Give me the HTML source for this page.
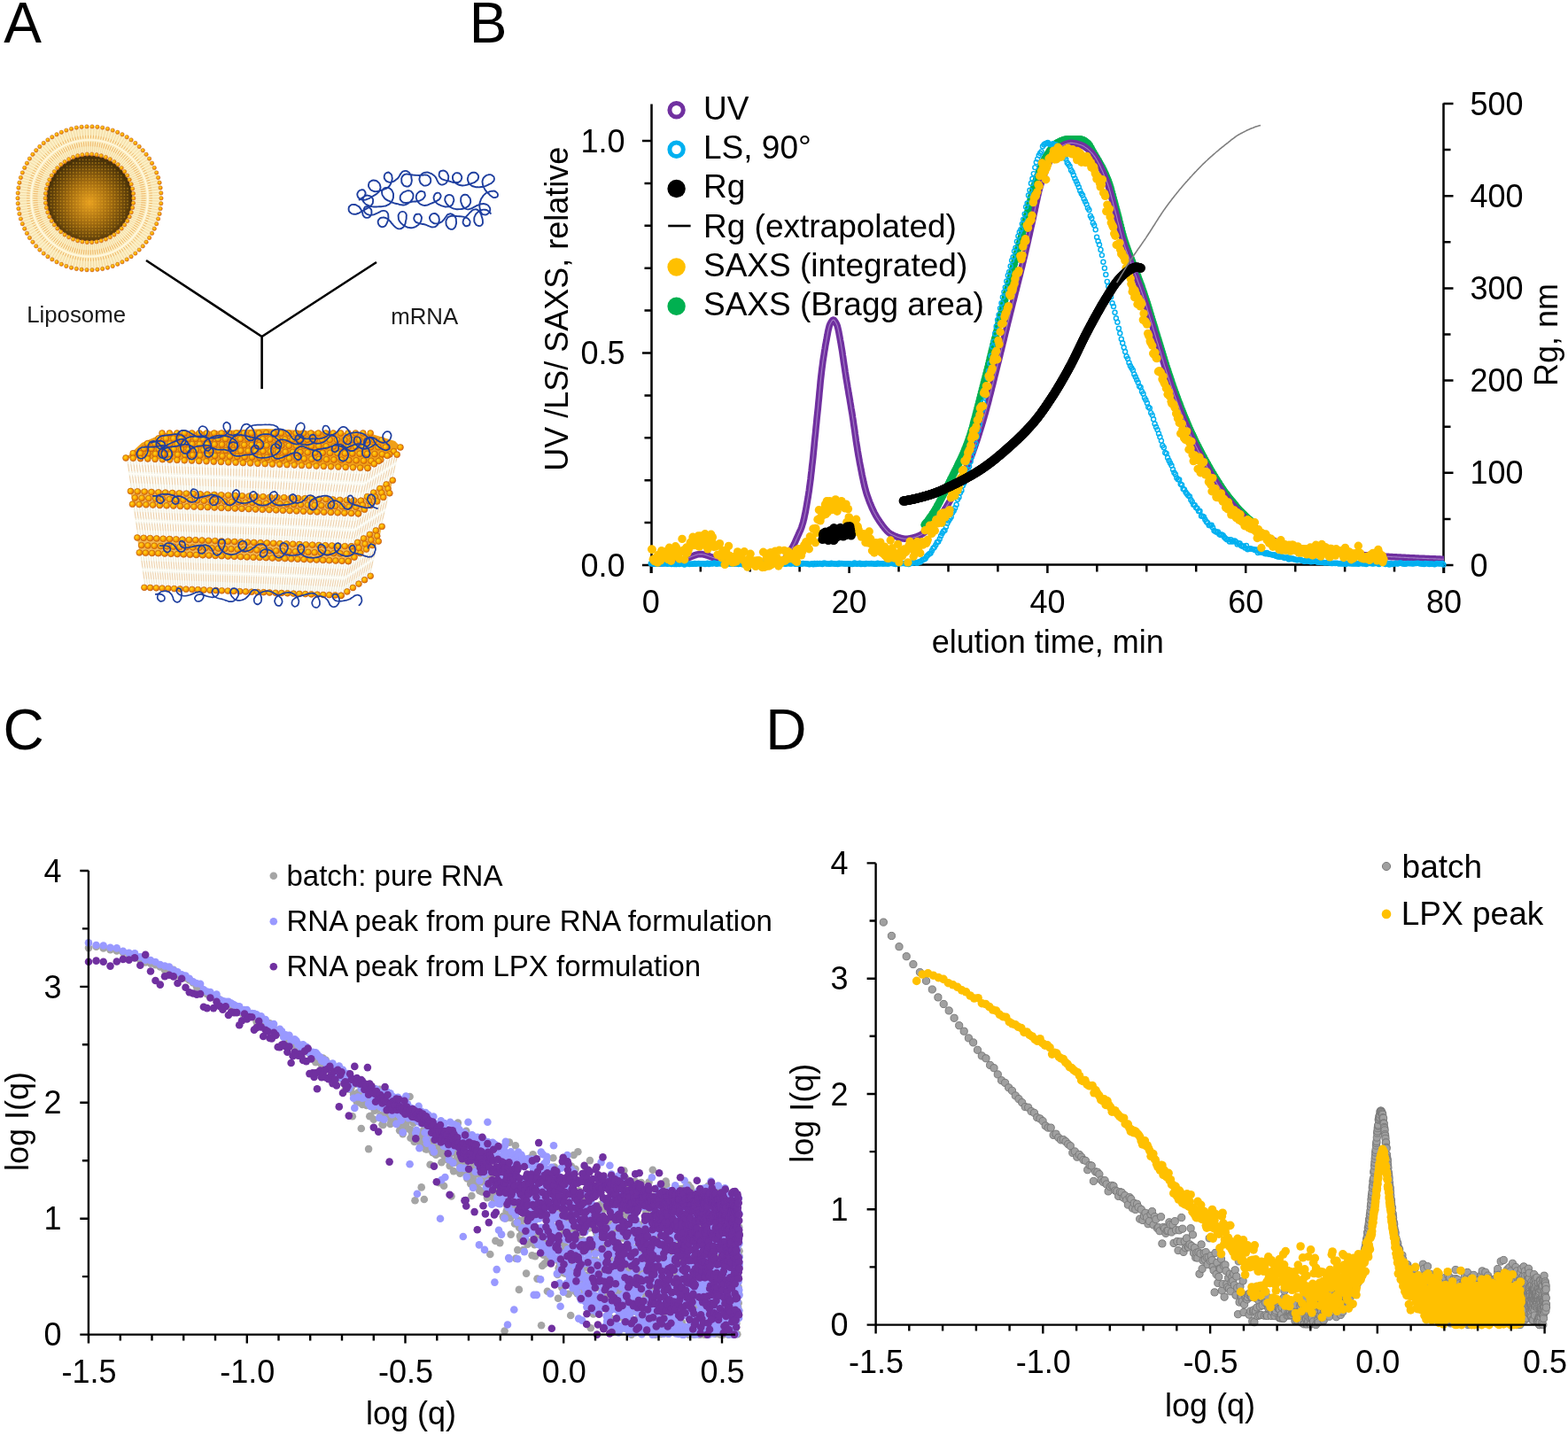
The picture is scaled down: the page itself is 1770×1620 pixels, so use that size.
<!DOCTYPE html>
<html><head><meta charset="utf-8"><title>Figure</title>
<style>html,body{margin:0;padding:0;background:#fff;}svg{display:block;}</style>
</head><body>
<svg width="1770" height="1620" viewBox="0 0 1770 1620">
<defs>
<marker id="mg" markerWidth="14" markerHeight="14" refX="7.0" refY="7.0" markerUnits="userSpaceOnUse" overflow="visible"><circle cx="7.0" cy="7.0" r="4.3" fill="#00b050"/></marker>
<marker id="mls" markerWidth="12" markerHeight="12" refX="6.0" refY="6.0" markerUnits="userSpaceOnUse" overflow="visible"><circle cx="6.0" cy="6.0" r="2.5" fill="none" stroke="#00b0f0" stroke-width="1.45"/></marker>
<marker id="my" markerWidth="14" markerHeight="14" refX="7.0" refY="7.0" markerUnits="userSpaceOnUse" overflow="visible"><circle cx="7.0" cy="7.0" r="4.7" fill="#ffc000"/></marker>
<marker id="mk" markerWidth="16" markerHeight="16" refX="8.0" refY="8.0" markerUnits="userSpaceOnUse" overflow="visible"><circle cx="8.0" cy="8.0" r="5.2" fill="#000"/></marker>
<marker id="mcg" markerWidth="14" markerHeight="14" refX="7.0" refY="7.0" markerUnits="userSpaceOnUse" overflow="visible"><circle cx="7.0" cy="7.0" r="4.3" fill="#a5a5a5"/></marker>
<marker id="mcb" markerWidth="14" markerHeight="14" refX="7.0" refY="7.0" markerUnits="userSpaceOnUse" overflow="visible"><circle cx="7.0" cy="7.0" r="4.3" fill="#9999ff"/></marker>
<marker id="mcp" markerWidth="14" markerHeight="14" refX="7.0" refY="7.0" markerUnits="userSpaceOnUse" overflow="visible"><circle cx="7.0" cy="7.0" r="4.3" fill="#7030a0"/></marker>
<marker id="mdg" markerWidth="16" markerHeight="16" refX="8.0" refY="8.0" markerUnits="userSpaceOnUse" overflow="visible"><circle cx="8.0" cy="8.0" r="4.1" fill="#a0a0a0" stroke="#7a7a7a" stroke-width="1.0"/></marker>
<marker id="mdy" markerWidth="14" markerHeight="14" refX="7.0" refY="7.0" markerUnits="userSpaceOnUse" overflow="visible"><circle cx="7.0" cy="7.0" r="4.8" fill="#ffc000"/></marker>
<radialGradient id="core" cx="0.5" cy="0.55" r="0.5"><stop offset="0" stop-color="#e8a020"/><stop offset="0.5" stop-color="#a06a10"/><stop offset="1" stop-color="#4a3208"/></radialGradient>
<radialGradient id="head" cx="0.4" cy="0.38" r="0.62"><stop offset="0" stop-color="#ffd81e"/><stop offset="0.55" stop-color="#faa600"/><stop offset="1" stop-color="#e06c0c"/></radialGradient>
<marker id="mh" markerWidth="10" markerHeight="10" refX="5.0" refY="5.0" markerUnits="userSpaceOnUse" overflow="visible"><circle cx="5.0" cy="5.0" r="2.2" fill="url(#head)" stroke="#c8702a" stroke-width="0.55"/></marker>
<marker id="mhl" markerWidth="14" markerHeight="14" refX="7.0" refY="7.0" markerUnits="userSpaceOnUse" overflow="visible"><circle cx="7.0" cy="7.0" r="3.4" fill="url(#head)" stroke="#c0600e" stroke-width="0.7"/></marker>
</defs>
<rect width="1770" height="1620" fill="#fff"/>
<g stroke="#000" stroke-width="2.5" fill="none"><path d="M735.5 117.5V647M1629.5 116.5V647M735 637.5H1630"/><path d="M725 638H735.5M727.5 590.1H735.5M727.5 542.2H735.5M727.5 494.3H735.5M727.5 446.4H735.5M725 398.5H735.5M727.5 350.6H735.5M727.5 302.7H735.5M727.5 254.8H735.5M727.5 206.9H735.5M725 159H735.5M1629.5 638H1640.5M1629.5 585.9H1637.5M1629.5 533.8H1640.5M1629.5 481.7H1637.5M1629.5 429.6H1640.5M1629.5 377.5H1637.5M1629.5 325.4H1640.5M1629.5 273.3H1637.5M1629.5 221.2H1640.5M1629.5 169.1H1637.5M1629.5 117H1640.5M734.8 637.5V647M790.8 637.5V645.5M846.7 637.5V645.5M902.6 637.5V645.5M958.6 637.5V647M1014.5 637.5V645.5M1070.5 637.5V645.5M1126.4 637.5V645.5M1182.4 637.5V647M1238.3 637.5V645.5M1294.3 637.5V645.5M1350.2 637.5V645.5M1406.2 637.5V647M1462.2 637.5V645.5M1518.1 637.5V645.5M1574 637.5V645.5M1630 637.5V647"/></g><polyline points="1043.6,592.5 1044.5,591.4 1045.4,590.3 1046.3,589.2 1047.2,588 1048.1,586.8 1049,585.6 1049.9,584.3 1050.8,583 1051.7,581.7 1052.6,580.3 1053.5,579 1054.4,577.5 1055.3,576.1 1056.2,574.6 1057.1,573 1058,571.4 1058.9,569.8 1059.8,568.1 1060.7,566.5 1061.5,564.8 1062.4,563 1063.3,561.3 1064.2,559.5 1065.1,557.7 1066,555.9 1066.9,554.1 1067.8,552.3 1068.7,550.4 1069.6,548.6 1070.5,546.8 1071.4,544.9 1072.3,543.1 1073.2,541.3 1074.1,539.5 1075,537.7 1075.9,535.9 1076.8,534.2 1077.7,532.4 1078.6,530.6 1079.5,528.8 1080.3,527 1081.2,525.2 1082.1,523.4 1083,521.6 1083.9,519.7 1084.8,517.7 1085.7,515.8 1086.6,513.8 1087.5,511.7 1088.4,509.6 1089.3,507.4 1090.2,505.2 1091.1,502.9 1092,500.5 1092.9,498 1093.8,495.4 1094.7,492.7 1095.6,489.8 1096.5,486.8 1097.4,483.8 1098.3,480.6 1099.1,477.4 1100,474.1 1100.9,470.7 1101.8,467.2 1102.7,463.8 1103.6,460.3 1104.5,456.7 1105.4,453.2 1106.3,449.6 1107.2,446 1108.1,442.5 1109,439 1109.9,435.5 1110.8,432 1111.7,428.6 1112.6,425.1 1113.5,421.6 1114.4,418 1115.3,414.5 1116.2,410.9 1117.1,407.3 1117.9,403.6 1118.8,400 1119.7,396.3 1120.6,392.7 1121.5,389 1122.4,385.4 1123.3,381.7 1124.2,378.1 1125.1,374.5 1126,370.9 1126.9,367.3 1127.8,363.7 1128.7,360.2 1129.6,356.7 1130.5,353.2 1131.4,349.7 1132.3,346.2 1133.2,342.7 1134.1,339.3 1135,335.8 1135.8,332.4 1136.7,328.9 1137.6,325.5 1138.5,322.1 1139.4,318.6 1140.3,315.2 1141.2,311.8 1142.1,308.4 1143,305 1143.9,301.6 1144.8,298.2 1145.7,294.7 1146.6,291.3 1147.5,287.9 1148.4,284.5 1149.3,281.1 1150.2,277.7 1151.1,274.3 1152,270.9 1152.9,267.6 1153.8,264.2 1154.6,260.8 1155.5,257.4 1156.4,254 1157.3,250.5 1158.2,247.1 1159.1,243.5 1160,239.8 1160.9,236.1 1161.8,232.3 1162.7,228.6 1163.6,224.9 1164.5,221.3 1165.4,217.8 1166.3,214.5 1167.2,211.4 1168.1,208.6 1169,205.9 1169.9,203.2 1170.8,200.5 1171.7,197.9 1172.6,195.4 1173.4,193 1174.3,190.7 1175.2,188.4 1176.1,186.3 1177,184.3 1177.9,182.4 1178.8,180.6 1179.7,178.9 1180.6,177.4 1181.5,175.9 1182.4,174.5 1183.3,173 1184.2,171.7 1185.1,170.3 1186,169.1 1186.9,167.8 1187.8,166.7 1188.7,165.6 1189.6,164.6 1190.5,163.7 1191.4,162.9 1192.2,162.2 1193.1,161.6 1194,161.2 1194.9,160.7 1195.8,160.2 1196.7,159.8 1197.6,159.4 1198.5,159 1199.4,158.7 1200.3,158.3 1201.2,158.1 1202.1,157.9 1203,157.7 1203.9,157.6 1204.8,157.6 1205.7,157.6 1206.6,157.6 1207.5,157.6 1208.4,157.6 1209.3,157.6 1210.2,157.6 1211,157.6 1211.9,157.6 1212.8,157.6 1213.7,157.6 1214.6,157.6 1215.5,157.6 1216.4,157.6 1217.3,157.6 1218.2,157.6 1219.1,157.6 1220,157.6 1220.9,157.8 1221.8,158 1222.7,158.4 1223.6,158.9 1224.5,159.4 1225.4,160 1226.3,160.7 1227.2,161.4 1228.1,162.2 1229,163 1229.8,164.3 1230.7,165.8 1231.6,167.4 1232.5,169.1 1233.4,170.8 1234.3,172.3 1235.2,173.9 1236.1,175.4 1237,176.9 1237.9,178.4 1238.8,179.9 1239.7,181.4 1240.6,182.9 1241.5,184.5 1242.4,186 1243.3,187.7 1244.2,189.3 1245.1,191.1 1246,192.9 1246.9,194.7 1247.7,196.6 1248.6,198.6 1249.5,200.7 1250.4,202.9 1251.3,205.2 1252.2,207.8 1253.1,210.6 1254,213.6 1254.9,216.8 1255.8,220.1 1256.7,223.5 1257.6,226.9 1258.5,230.4 1259.4,233.8 1260.3,237.1 1261.2,240.5 1262.1,243.9 1263,247.4 1263.9,251 1264.8,254.6 1265.7,258.1 1266.5,261.5 1267.4,264.8 1268.3,268 1269.2,271 1270.1,273.8 1271,276.5 1271.9,279.1 1272.8,281.6 1273.7,284.1 1274.6,286.5 1275.5,288.9 1276.4,291.2 1277.3,293.5 1278.2,295.9 1279.1,298.2 1280,300.5 1280.9,302.9 1281.8,305.3 1282.7,307.7 1283.6,310.1 1284.5,312.4 1285.3,314.8 1286.2,317.1 1287.1,319.5 1288,321.9 1288.9,324.4 1289.8,327 1290.7,329.6 1291.6,332.2 1292.5,335 1293.4,337.7 1294.3,340.6 1295.2,343.4 1296.1,346.3 1297,349.2 1297.9,352.2 1298.8,355.1 1299.7,358.1 1300.6,361 1301.5,364 1302.4,367 1303.3,369.9 1304.1,372.8 1305,375.7 1305.9,378.6 1306.8,381.5 1307.7,384.4 1308.6,387.4 1309.5,390.3 1310.4,393.3 1311.3,396.3 1312.2,399.2 1313.1,402.2 1314,405.1 1314.9,408 1315.8,410.9 1316.7,413.8 1317.6,416.6 1318.5,419.4 1319.4,422.2 1320.3,424.9 1321.2,427.5 1322.1,430.1 1322.9,432.7 1323.8,435.3 1324.7,437.8 1325.6,440.4 1326.5,442.9 1327.4,445.4 1328.3,447.8 1329.2,450.3 1330.1,452.7 1331,455.1 1331.9,457.4 1332.8,459.8 1333.7,462.1 1334.6,464.4 1335.5,466.6 1336.4,468.9 1337.3,471.1 1338.2,473.2 1339.1,475.4 1340,477.5 1340.9,479.5 1341.7,481.6 1342.6,483.6 1343.5,485.6 1344.4,487.6 1345.3,489.5 1346.2,491.4 1347.1,493.3 1348,495.2 1348.9,497.1 1349.8,499 1350.7,500.8 1351.6,502.6 1352.5,504.4 1353.4,506.1 1354.3,507.9 1355.2,509.6 1356.1,511.3 1357,513 1357.9,514.7 1358.8,516.4 1359.6,518 1360.5,519.6 1361.4,521.2 1362.3,522.8 1363.2,524.4 1364.1,526 1365,527.6 1365.9,529.1 1366.8,530.7 1367.7,532.2 1368.6,533.8 1369.5,535.3 1370.4,536.8 1371.3,538.2 1372.2,539.7 1373.1,541.2 1374,542.6 1374.9,544 1375.8,545.4 1376.7,546.8 1377.6,548.2 1378.4,549.5 1379.3,550.9 1380.2,552.2 1381.1,553.5 1382,554.7 1382.9,556 1383.8,557.2 1384.7,558.4 1385.6,559.5 1386.5,560.7 1387.4,561.9 1388.3,563 1389.2,564.1 1390.1,565.2 1391,566.4 1391.9,567.4 1392.8,568.5 1393.7,569.6 1394.6,570.6 1395.5,571.7 1396.4,572.7 1397.2,573.7 1398.1,574.7 1399,575.7 1399.9,576.7 1400.8,577.6 1401.7,578.6 1402.6,579.5 1403.5,580.4 1404.4,581.3 1405.3,582.2 1406.2,583 1407.1,583.9 1408,584.7 1408.9,585.5 1409.8,586.3 1410.7,587 1411.6,587.8 1412.5,588.5 1413.4,589.2 1414.3,589.9" fill="none" stroke="none" marker-start="url(#mg)" marker-mid="url(#mg)" marker-end="url(#mg)"/>
<polyline points="734.8,636.1 735.4,636.1 735.9,636.1 736.5,636.1 737,636.1 737.6,636.1 738.2,636.1 738.7,636 739.3,636 739.8,636 740.4,636 741,636 741.5,636 742.1,636 742.6,635.9 743.2,635.9 743.8,635.9 744.3,635.9 744.9,635.9 745.4,635.8 746,635.8 746.5,635.8 747.1,635.8 747.7,635.7 748.2,635.7 748.8,635.7 749.3,635.6 749.9,635.6 750.5,635.6 751,635.5 751.6,635.5 752.1,635.5 752.7,635.4 753.3,635.4 753.8,635.4 754.4,635.3 754.9,635.3 755.5,635.3 756.1,635.2 756.6,635.2 757.2,635.1 757.7,635.1 758.3,635 758.9,634.9 759.4,634.9 760,634.8 760.5,634.7 761.1,634.6 761.7,634.4 762.2,634.3 762.8,634.2 763.3,634 763.9,633.9 764.5,633.7 765,633.6 765.6,633.4 766.1,633.2 766.7,633.1 767.3,632.9 767.8,632.7 768.4,632.5 768.9,632.4 769.5,632.2 770,632 770.6,631.8 771.2,631.7 771.7,631.5 772.3,631.3 772.8,631.1 773.4,631 774,630.8 774.5,630.7 775.1,630.5 775.6,630.3 776.2,630.1 776.8,629.9 777.3,629.7 777.9,629.4 778.4,629.2 779,629 779.6,628.7 780.1,628.5 780.7,628.3 781.2,628 781.8,627.8 782.4,627.6 782.9,627.4 783.5,627.2 784,626.9 784.6,626.7 785.2,626.6 785.7,626.4 786.3,626.2 786.8,626.1 787.4,625.9 788,625.8 788.5,625.7 789.1,625.7 789.6,625.6 790.2,625.6 790.8,625.5 791.3,625.6 791.9,625.6 792.4,625.6 793,625.7 793.5,625.8 794.1,625.9 794.7,626 795.2,626.1 795.8,626.3 796.3,626.4 796.9,626.6 797.5,626.8 798,627 798.6,627.1 799.1,627.3 799.7,627.5 800.3,627.8 800.8,628 801.4,628.2 801.9,628.4 802.5,628.6 803.1,628.8 803.6,629 804.2,629.2 804.7,629.4 805.3,629.6 805.9,629.8 806.4,630 807,630.2 807.5,630.3 808.1,630.5 808.7,630.7 809.2,630.8 809.8,631 810.3,631.2 810.9,631.4 811.5,631.6 812,631.8 812.6,632 813.1,632.2 813.7,632.3 814.2,632.5 814.8,632.7 815.4,632.9 815.9,633.1 816.5,633.3 817,633.5 817.6,633.6 818.2,633.8 818.7,634 819.3,634.1 819.8,634.3 820.4,634.4 821,634.5 821.5,634.7 822.1,634.8 822.6,634.9 823.2,635 823.8,635.1 824.3,635.1 824.9,635.2 825.4,635.2 826,635.3 826.6,635.4 827.1,635.4 827.7,635.5 828.2,635.5 828.8,635.6 829.4,635.6 829.9,635.7 830.5,635.7 831,635.8 831.6,635.8 832.2,635.9 832.7,635.9 833.3,636 833.8,636 834.4,636.1 835,636.1 835.5,636.1 836.1,636.2 836.6,636.2 837.2,636.3 837.7,636.3 838.3,636.3 838.9,636.4 839.4,636.4 840,636.4 840.5,636.4 841.1,636.5 841.7,636.5 842.2,636.5 842.8,636.5 843.3,636.5 843.9,636.5 844.5,636.5 845,636.6 845.6,636.6 846.1,636.6 846.7,636.6 847.3,636.6 847.8,636.6 848.4,636.6 848.9,636.6 849.5,636.6 850.1,636.6 850.6,636.5 851.2,636.5 851.7,636.5 852.3,636.5 852.9,636.5 853.4,636.5 854,636.5 854.5,636.5 855.1,636.5 855.7,636.5 856.2,636.5 856.8,636.5 857.3,636.5 857.9,636.4 858.4,636.4 859,636.4 859.6,636.4 860.1,636.4 860.7,636.4 861.2,636.4 861.8,636.3 862.4,636.3 862.9,636.3 863.5,636.3 864,636.3 864.6,636.3 865.2,636.2 865.7,636.2 866.3,636.2 866.8,636.2 867.4,636.2 868,636.1 868.5,636.1 869.1,636.1 869.6,636.1 870.2,636 870.8,636 871.3,635.9 871.9,635.8 872.4,635.8 873,635.7 873.6,635.6 874.1,635.5 874.7,635.3 875.2,635.2 875.8,635.1 876.4,634.9 876.9,634.8 877.5,634.6 878,634.4 878.6,634.2 879.2,634.1 879.7,633.9 880.3,633.6 880.8,633.4 881.4,633.2 881.9,633 882.5,632.7 883.1,632.5 883.6,632.3 884.2,632 884.7,631.6 885.3,631.1 885.9,630.6 886.4,630.1 887,629.4 887.5,628.7 888.1,628 888.7,627.2 889.2,626.4 889.8,625.6 890.3,624.7 890.9,623.9 891.5,623 892,622 892.6,621.1 893.1,620.2 893.7,619.3 894.3,618.4 894.8,617.4 895.4,616.3 895.9,615.2 896.5,614.1 897.1,612.9 897.6,611.7 898.2,610.5 898.7,609.2 899.3,608 899.9,606.7 900.4,605.4 901,604.2 901.5,603 902.1,601.8 902.6,600.5 903.2,599.3 903.8,598 904.3,596.6 904.9,595.1 905.4,593.4 906,591.6 906.6,589.7 907.1,587.5 907.7,585.2 908.2,582.6 908.8,579.9 909.4,577.1 909.9,574.1 910.5,571 911,567.8 911.6,564.4 912.2,561 912.7,557.5 913.3,553.8 913.8,549.8 914.4,545.5 915,541 915.5,536.3 916.1,531.5 916.6,526.5 917.2,521.6 917.8,516.3 918.3,510.9 918.9,505.2 919.4,499.5 920,493.7 920.6,488.1 921.1,482.5 921.7,476.9 922.2,471.4 922.8,465.8 923.4,460.3 923.9,454.7 924.5,449 925,443.2 925.6,437.3 926.1,431.5 926.7,426 927.3,420.9 927.8,416.5 928.4,412.2 928.9,408.1 929.5,404.2 930.1,400.5 930.6,397 931.2,393.6 931.7,390.3 932.3,387.1 932.9,384.1 933.4,381.1 934,378.1 934.5,375.1 935.1,372.3 935.7,369.9 936.2,367.9 936.8,366.4 937.3,365.3 937.9,364.2 938.5,363.2 939,362.4 939.6,361.7 940.1,361.3 940.7,361.1 941.3,361.3 941.8,361.7 942.4,362.4 942.9,363.2 943.5,364.2 944.1,365.3 944.6,366.4 945.2,367.9 945.7,369.9 946.3,372.4 946.9,375.1 947.4,378.1 948,381.1 948.5,384.1 949.1,387.2 949.6,390.4 950.2,393.8 950.8,397.4 951.3,401.1 951.9,404.9 952.4,408.7 953,412.5 953.6,416.3 954.1,420 954.7,423.7 955.2,427.2 955.8,430.7 956.4,434.1 956.9,437.4 957.5,440.7 958,444 958.6,447.3 959.2,450.6 959.7,453.9 960.3,457.3 960.8,460.6 961.4,464 962,467.5 962.5,471.1 963.1,474.7 963.6,478.5 964.2,482.4 964.8,486.4 965.3,490.3 965.9,494.2 966.4,498 967,501.8 967.6,505.4 968.1,508.9 968.7,512.2 969.2,515.3 969.8,518.4 970.3,521.4 970.9,524.4 971.5,527.4 972,530.3 972.6,533.2 973.1,536 973.7,538.7 974.3,541.4 974.8,543.9 975.4,546.4 975.9,548.8 976.5,551 977.1,553.1 977.6,555.1 978.2,557 978.7,558.7 979.3,560.3 979.9,561.9 980.4,563.5 981,565 981.5,566.5 982.1,567.9 982.7,569.3 983.2,570.7 983.8,572 984.3,573.3 984.9,574.5 985.5,575.7 986,576.9 986.6,578 987.1,579.1 987.7,580.1 988.3,581.2 988.8,582.2 989.4,583.1 989.9,584.1 990.5,585 991.1,585.9 991.6,586.7 992.2,587.6 992.7,588.4 993.3,589.2 993.8,590 994.4,590.8 995,591.6 995.5,592.3 996.1,593.1 996.6,593.9 997.2,594.6 997.8,595.3 998.3,596 998.9,596.7 999.4,597.3 1000,598 1000.6,598.6 1001.1,599.2 1001.7,599.8 1002.2,600.3 1002.8,600.8 1003.4,601.3 1003.9,601.7 1004.5,602.2 1005,602.6 1005.6,602.9 1006.2,603.2 1006.7,603.5 1007.3,603.8 1007.8,604 1008.4,604.3 1009,604.5 1009.5,604.8 1010.1,605 1010.6,605.3 1011.2,605.5 1011.8,605.7 1012.3,606 1012.9,606.2 1013.4,606.4 1014,606.6 1014.5,606.8 1015.1,607 1015.7,607.1 1016.2,607.3 1016.8,607.4 1017.3,607.6 1017.9,607.7 1018.5,607.8 1019,607.9 1019.6,608 1020.1,608.1 1020.7,608.2 1021.3,608.2 1021.8,608.3 1022.4,608.3 1022.9,608.3 1023.5,608.3 1024.1,608.3 1024.6,608.2 1025.2,608.2 1025.7,608.1 1026.3,608 1026.9,607.9 1027.4,607.8 1028,607.7 1028.5,607.6 1029.1,607.5 1029.7,607.3 1030.2,607.2 1030.8,607 1031.3,606.9 1031.9,606.7 1032.5,606.5 1033,606.4 1033.6,606.2 1034.1,606 1034.7,605.8 1035.3,605.6 1035.8,605.4 1036.4,605.2 1036.9,605 1037.5,604.8 1038,604.5 1038.6,604.2 1039.2,603.9 1039.7,603.6 1040.3,603.2 1040.8,602.9 1041.4,602.5 1042,602.1 1042.5,601.7 1043.1,601.3 1043.6,600.9 1044.2,600.4 1044.8,600 1045.3,599.6 1045.9,599.1 1046.4,598.7 1047,598.2 1047.6,597.7 1048.1,597.3 1048.7,596.8 1049.2,596.3 1049.8,595.8 1050.4,595.3 1050.9,594.8 1051.5,594.2 1052,593.7 1052.6,593.1 1053.2,592.5 1053.7,591.9 1054.3,591.3 1054.8,590.7 1055.4,590 1056,589.4 1056.5,588.7 1057.1,588 1057.6,587.4 1058.2,586.7 1058.8,586 1059.3,585.3 1059.9,584.6 1060.4,583.9 1061,583.1 1061.5,582.4 1062.1,581.6 1062.7,580.8 1063.2,580 1063.8,579.2 1064.3,578.4 1064.9,577.5 1065.5,576.7 1066,575.8 1066.6,574.9 1067.1,574.1 1067.7,573.2 1068.3,572.3 1068.8,571.3 1069.4,570.4 1069.9,569.5 1070.5,568.5 1071.1,567.6 1071.6,566.6 1072.2,565.6 1072.7,564.6 1073.3,563.6 1073.9,562.5 1074.4,561.5 1075,560.4 1075.5,559.3 1076.1,558.2 1076.7,557.1 1077.2,556 1077.8,554.9 1078.3,553.8 1078.9,552.7 1079.5,551.5 1080,550.4 1080.6,549.3 1081.1,548.1 1081.7,547 1082.2,545.9 1082.8,544.7 1083.4,543.6 1083.9,542.5 1084.5,541.4 1085,540.2 1085.6,539.1 1086.2,538 1086.7,536.8 1087.3,535.7 1087.8,534.5 1088.4,533.4 1089,532.2 1089.5,531 1090.1,529.8 1090.6,528.6 1091.2,527.4 1091.8,526.1 1092.3,524.9 1092.9,523.6 1093.4,522.3 1094,521 1094.6,519.6 1095.1,518.2 1095.7,516.8 1096.2,515.4 1096.8,514 1097.4,512.5 1097.9,511 1098.5,509.5 1099,507.9 1099.6,506.4 1100.2,504.8 1100.7,503.2 1101.3,501.6 1101.8,499.9 1102.4,498.3 1103,496.6 1103.5,494.9 1104.1,493.2 1104.6,491.4 1105.2,489.7 1105.7,487.9 1106.3,486.1 1106.9,484.3 1107.4,482.5 1108,480.7 1108.5,478.9 1109.1,477 1109.7,475.1 1110.2,473.3 1110.8,471.3 1111.3,469.4 1111.9,467.4 1112.5,465.4 1113,463.4 1113.6,461.3 1114.1,459.2 1114.7,457.1 1115.3,455 1115.8,452.9 1116.4,450.7 1116.9,448.5 1117.5,446.3 1118.1,444.1 1118.6,441.9 1119.2,439.7 1119.7,437.5 1120.3,435.2 1120.9,433 1121.4,430.7 1122,428.5 1122.5,426.2 1123.1,423.9 1123.7,421.7 1124.2,419.4 1124.8,417.2 1125.3,414.9 1125.9,412.7 1126.4,410.5 1127,408.2 1127.6,406 1128.1,403.8 1128.7,401.5 1129.2,399.2 1129.8,396.9 1130.4,394.7 1130.9,392.4 1131.5,390.1 1132,387.8 1132.6,385.5 1133.2,383.1 1133.7,380.8 1134.3,378.5 1134.8,376.2 1135.4,373.9 1136,371.6 1136.5,369.3 1137.1,367 1137.6,364.7 1138.2,362.5 1138.8,360.2 1139.3,357.9 1139.9,355.7 1140.4,353.4 1141,351.2 1141.6,349 1142.1,346.7 1142.7,344.5 1143.2,342.3 1143.8,340.1 1144.4,337.9 1144.9,335.7 1145.5,333.5 1146,331.3 1146.6,329.1 1147.2,326.9 1147.7,324.6 1148.3,322.4 1148.8,320.2 1149.4,318 1149.9,315.8 1150.5,313.5 1151.1,311.3 1151.6,309.1 1152.2,306.8 1152.7,304.5 1153.3,302.3 1153.9,300 1154.4,297.7 1155,295.4 1155.5,293 1156.1,290.7 1156.7,288.3 1157.2,286 1157.8,283.6 1158.3,281.1 1158.9,278.7 1159.5,276.2 1160,273.8 1160.6,271.3 1161.1,268.8 1161.7,266.3 1162.3,263.8 1162.8,261.3 1163.4,258.8 1163.9,256.3 1164.5,253.8 1165.1,251.3 1165.6,248.8 1166.2,246.3 1166.7,243.7 1167.3,241.1 1167.9,238.5 1168.4,235.8 1169,233.1 1169.5,230.4 1170.1,227.8 1170.7,225.2 1171.2,222.6 1171.8,220.1 1172.3,217.7 1172.9,215.4 1173.4,213.3 1174,211.2 1174.6,209.3 1175.1,207.5 1175.7,205.7 1176.2,204 1176.8,202.3 1177.4,200.6 1177.9,199 1178.5,197.4 1179,195.9 1179.6,194.4 1180.2,192.9 1180.7,191.5 1181.3,190.1 1181.8,188.8 1182.4,187.5 1183,186.2 1183.5,185 1184.1,183.8 1184.6,182.7 1185.2,181.6 1185.8,180.6 1186.3,179.5 1186.9,178.5 1187.4,177.5 1188,176.5 1188.6,175.5 1189.1,174.5 1189.7,173.6 1190.2,172.7 1190.8,171.8 1191.4,171 1191.9,170.2 1192.5,169.4 1193,168.7 1193.6,168.1 1194.1,167.5 1194.7,167 1195.3,166.6 1195.8,166.2 1196.4,165.9 1196.9,165.5 1197.5,165.2 1198.1,164.9 1198.6,164.6 1199.2,164.3 1199.7,164 1200.3,163.8 1200.9,163.5 1201.4,163.3 1202,163 1202.5,162.8 1203.1,162.6 1203.7,162.4 1204.2,162.2 1204.8,162.1 1205.3,161.9 1205.9,161.8 1206.5,161.7 1207,161.6 1207.6,161.5 1208.1,161.4 1208.7,161.4 1209.3,161.4 1209.8,161.4 1210.4,161.4 1210.9,161.5 1211.5,161.5 1212.1,161.6 1212.6,161.7 1213.2,161.8 1213.7,161.9 1214.3,162 1214.9,162.1 1215.4,162.3 1216,162.4 1216.5,162.6 1217.1,162.7 1217.6,162.9 1218.2,163.1 1218.8,163.2 1219.3,163.4 1219.9,163.6 1220.4,163.8 1221,164 1221.6,164.2 1222.1,164.5 1222.7,164.7 1223.2,165 1223.8,165.4 1224.4,165.7 1224.9,166.1 1225.5,166.5 1226,166.9 1226.6,167.3 1227.2,167.7 1227.7,168.2 1228.3,168.7 1228.8,169.2 1229.4,169.7 1230,170.2 1230.5,170.7 1231.1,171.3 1231.6,171.8 1232.2,172.4 1232.8,173 1233.3,173.6 1233.9,174.3 1234.4,175 1235,175.8 1235.6,176.6 1236.1,177.4 1236.7,178.2 1237.2,179.1 1237.8,180 1238.3,181 1238.9,182 1239.5,183 1240,184 1240.6,185.1 1241.1,186.2 1241.7,187.3 1242.3,188.5 1242.8,189.7 1243.4,190.9 1243.9,192.1 1244.5,193.3 1245.1,194.6 1245.6,195.9 1246.2,197.2 1246.7,198.5 1247.3,199.9 1247.9,201.3 1248.4,202.6 1249,204 1249.5,205.5 1250.1,206.9 1250.7,208.5 1251.2,210.2 1251.8,212 1252.3,213.9 1252.9,215.8 1253.5,217.8 1254,219.9 1254.6,222 1255.1,224.1 1255.7,226.2 1256.3,228.4 1256.8,230.5 1257.4,232.7 1257.9,234.8 1258.5,236.9 1259.1,239 1259.6,241.1 1260.2,243.2 1260.7,245.4 1261.3,247.5 1261.8,249.8 1262.4,252 1263,254.2 1263.5,256.4 1264.1,258.6 1264.6,260.8 1265.2,263 1265.8,265.1 1266.3,267.1 1266.9,269.1 1267.4,270.9 1268,272.8 1268.6,274.5 1269.1,276.2 1269.7,277.9 1270.2,279.6 1270.8,281.2 1271.4,282.7 1271.9,284.3 1272.5,285.8 1273,287.3 1273.6,288.8 1274.2,290.3 1274.7,291.8 1275.3,293.2 1275.8,294.7 1276.4,296.1 1277,297.6 1277.5,299 1278.1,300.5 1278.6,302 1279.2,303.5 1279.8,305 1280.3,306.5 1280.9,308 1281.4,309.5 1282,310.9 1282.6,312.4 1283.1,313.9 1283.7,315.3 1284.2,316.8 1284.8,318.3 1285.3,319.8 1285.9,321.3 1286.5,322.8 1287,324.3 1287.6,325.9 1288.1,327.4 1288.7,329 1289.3,330.7 1289.8,332.3 1290.4,334 1290.9,335.7 1291.5,337.4 1292.1,339.2 1292.6,340.9 1293.2,342.7 1293.7,344.5 1294.3,346.3 1294.9,348.1 1295.4,349.9 1296,351.8 1296.5,353.6 1297.1,355.4 1297.7,357.3 1298.2,359.1 1298.8,361 1299.3,362.8 1299.9,364.7 1300.5,366.5 1301,368.4 1301.6,370.2 1302.1,372.1 1302.7,373.9 1303.3,375.7 1303.8,377.5 1304.4,379.3 1304.9,381.1 1305.5,383 1306,384.8 1306.6,386.6 1307.2,388.4 1307.7,390.3 1308.3,392.1 1308.8,394 1309.4,395.8 1310,397.7 1310.5,399.5 1311.1,401.4 1311.6,403.2 1312.2,405.1 1312.8,406.9 1313.3,408.7 1313.9,410.6 1314.4,412.4 1315,414.2 1315.6,416 1316.1,417.7 1316.7,419.5 1317.2,421.2 1317.8,422.9 1318.4,424.6 1318.9,426.3 1319.5,428 1320,429.6 1320.6,431.3 1321.2,432.9 1321.7,434.5 1322.3,436.1 1322.8,437.7 1323.4,439.3 1324,440.9 1324.5,442.4 1325.1,444 1325.6,445.6 1326.2,447.1 1326.8,448.7 1327.3,450.2 1327.9,451.7 1328.4,453.2 1329,454.7 1329.5,456.2 1330.1,457.7 1330.7,459.2 1331.2,460.6 1331.8,462.1 1332.3,463.5 1332.9,465 1333.5,466.4 1334,467.8 1334.6,469.2 1335.1,470.6 1335.7,472 1336.3,473.3 1336.8,474.7 1337.4,476 1337.9,477.3 1338.5,478.6 1339.1,479.9 1339.6,481.2 1340.2,482.5 1340.7,483.8 1341.3,485 1341.9,486.3 1342.4,487.5 1343,488.7 1343.5,490 1344.1,491.2 1344.7,492.4 1345.2,493.6 1345.8,494.8 1346.3,496 1346.9,497.1 1347.5,498.3 1348,499.5 1348.6,500.6 1349.1,501.8 1349.7,502.9 1350.2,504 1350.8,505.1 1351.4,506.3 1351.9,507.4 1352.5,508.5 1353,509.6 1353.6,510.6 1354.2,511.7 1354.7,512.8 1355.3,513.8 1355.8,514.9 1356.4,515.9 1357,517 1357.5,518 1358.1,519 1358.6,520.1 1359.2,521.1 1359.8,522.1 1360.3,523.1 1360.9,524.1 1361.4,525.1 1362,526.1 1362.6,527.1 1363.1,528 1363.7,529 1364.2,530 1364.8,531 1365.4,531.9 1365.9,532.9 1366.5,533.9 1367,534.8 1367.6,535.8 1368.2,536.7 1368.7,537.6 1369.3,538.6 1369.8,539.5 1370.4,540.4 1371,541.3 1371.5,542.2 1372.1,543.1 1372.6,544 1373.2,544.9 1373.7,545.8 1374.3,546.7 1374.9,547.6 1375.4,548.4 1376,549.3 1376.5,550.1 1377.1,551 1377.7,551.8 1378.2,552.6 1378.8,553.4 1379.3,554.3 1379.9,555.1 1380.5,555.8 1381,556.6 1381.6,557.4 1382.1,558.2 1382.7,558.9 1383.3,559.7 1383.8,560.4 1384.4,561.1 1384.9,561.9 1385.5,562.6 1386.1,563.3 1386.6,564 1387.2,564.7 1387.7,565.4 1388.3,566.1 1388.9,566.8 1389.4,567.4 1390,568.1 1390.5,568.8 1391.1,569.4 1391.7,570.1 1392.2,570.7 1392.8,571.4 1393.3,572 1393.9,572.7 1394.5,573.3 1395,573.9 1395.6,574.5 1396.1,575.2 1396.7,575.8 1397.2,576.4 1397.8,577 1398.4,577.6 1398.9,578.2 1399.5,578.8 1400,579.4 1400.6,579.9 1401.2,580.5 1401.7,581.1 1402.3,581.7 1402.8,582.2 1403.4,582.8 1404,583.4 1404.5,583.9 1405.1,584.5 1405.6,585 1406.2,585.6 1406.8,586.1 1407.3,586.6 1407.9,587.2 1408.4,587.7 1409,588.2 1409.6,588.8 1410.1,589.3 1410.7,589.8 1411.2,590.3 1411.8,590.8 1412.4,591.4 1412.9,591.9 1413.5,592.4 1414,592.9 1414.6,593.4 1415.2,593.9 1415.7,594.4 1416.3,594.9 1416.8,595.4 1417.4,595.8 1417.9,596.3 1418.5,596.8 1419.1,597.3 1419.6,597.7 1420.2,598.2 1420.7,598.7 1421.3,599.1 1421.9,599.6 1422.4,600 1423,600.4 1423.5,600.9 1424.1,601.3 1424.7,601.7 1425.2,602.1 1425.8,602.5 1426.3,602.9 1426.9,603.3 1427.5,603.7 1428,604.1 1428.6,604.5 1429.1,604.8 1429.7,605.2 1430.3,605.6 1430.8,605.9 1431.4,606.3 1431.9,606.7 1432.5,607 1433.1,607.4 1433.6,607.7 1434.2,608.1 1434.7,608.4 1435.3,608.7 1435.9,609.1 1436.4,609.4 1437,609.7 1437.5,610 1438.1,610.3 1438.7,610.6 1439.2,610.9 1439.8,611.2 1440.3,611.4 1440.9,611.7 1441.4,611.9 1442,612.2 1442.6,612.4 1443.1,612.6 1443.7,612.8 1444.2,613 1444.8,613.2 1445.4,613.4 1445.9,613.6 1446.5,613.8 1447,614 1447.6,614.2 1448.2,614.4 1448.7,614.5 1449.3,614.7 1449.8,614.9 1450.4,615 1451,615.2 1451.5,615.4 1452.1,615.5 1452.6,615.7 1453.2,615.8 1453.8,616 1454.3,616.1 1454.9,616.2 1455.4,616.4 1456,616.5 1456.6,616.7 1457.1,616.8 1457.7,616.9 1458.2,617 1458.8,617.2 1459.4,617.3 1459.9,617.4 1460.5,617.5 1461,617.7 1461.6,617.8 1462.2,617.9 1462.7,618 1463.3,618.1 1463.8,618.2 1464.4,618.3 1464.9,618.4 1465.5,618.5 1466.1,618.6 1466.6,618.7 1467.2,618.8 1467.7,618.9 1468.3,619 1468.9,619.1 1469.4,619.2 1470,619.3 1470.5,619.4 1471.1,619.5 1471.7,619.6 1472.2,619.7 1472.8,619.7 1473.3,619.8 1473.9,619.9 1474.5,620 1475,620.1 1475.6,620.2 1476.1,620.2 1476.7,620.3 1477.3,620.4 1477.8,620.5 1478.4,620.6 1478.9,620.6 1479.5,620.7 1480.1,620.8 1480.6,620.9 1481.2,620.9 1481.7,621 1482.3,621.1 1482.9,621.2 1483.4,621.2 1484,621.3 1484.5,621.4 1485.1,621.5 1485.6,621.5 1486.2,621.6 1486.8,621.7 1487.3,621.7 1487.9,621.8 1488.4,621.9 1489,622 1489.6,622 1490.1,622.1 1490.7,622.2 1491.2,622.2 1491.8,622.3 1492.4,622.4 1492.9,622.4 1493.5,622.5 1494,622.6 1494.6,622.6 1495.2,622.7 1495.7,622.8 1496.3,622.8 1496.8,622.9 1497.4,623 1498,623 1498.5,623.1 1499.1,623.2 1499.6,623.2 1500.2,623.3 1500.8,623.3 1501.3,623.4 1501.9,623.5 1502.4,623.5 1503,623.6 1503.6,623.7 1504.1,623.7 1504.7,623.8 1505.2,623.8 1505.8,623.9 1506.4,624 1506.9,624 1507.5,624.1 1508,624.1 1508.6,624.2 1509.1,624.2 1509.7,624.3 1510.3,624.3 1510.8,624.4 1511.4,624.5 1511.9,624.5 1512.5,624.6 1513.1,624.6 1513.6,624.7 1514.2,624.7 1514.7,624.8 1515.3,624.8 1515.9,624.9 1516.4,624.9 1517,625 1517.5,625 1518.1,625.1 1518.7,625.1 1519.2,625.2 1519.8,625.2 1520.3,625.3 1520.9,625.3 1521.5,625.3 1522,625.4 1522.6,625.4 1523.1,625.5 1523.7,625.5 1524.3,625.6 1524.8,625.6 1525.4,625.7 1525.9,625.7 1526.5,625.7 1527.1,625.8 1527.6,625.8 1528.2,625.9 1528.7,625.9 1529.3,625.9 1529.8,626 1530.4,626 1531,626.1 1531.5,626.1 1532.1,626.1 1532.6,626.2 1533.2,626.2 1533.8,626.2 1534.3,626.3 1534.9,626.3 1535.4,626.4 1536,626.4 1536.6,626.4 1537.1,626.5 1537.7,626.5 1538.2,626.5 1538.8,626.6 1539.4,626.6 1539.9,626.7 1540.5,626.7 1541,626.7 1541.6,626.8 1542.2,626.8 1542.7,626.8 1543.3,626.9 1543.8,626.9 1544.4,626.9 1545,627 1545.5,627 1546.1,627.1 1546.6,627.1 1547.2,627.1 1547.8,627.2 1548.3,627.2 1548.9,627.2 1549.4,627.3 1550,627.3 1550.6,627.3 1551.1,627.4 1551.7,627.4 1552.2,627.5 1552.8,627.5 1553.3,627.5 1553.9,627.6 1554.5,627.6 1555,627.6 1555.6,627.7 1556.1,627.7 1556.7,627.7 1557.3,627.8 1557.8,627.8 1558.4,627.8 1558.9,627.9 1559.5,627.9 1560.1,627.9 1560.6,628 1561.2,628 1561.7,628.1 1562.3,628.1 1562.9,628.1 1563.4,628.2 1564,628.2 1564.5,628.2 1565.1,628.3 1565.7,628.3 1566.2,628.3 1566.8,628.4 1567.3,628.4 1567.9,628.4 1568.5,628.5 1569,628.5 1569.6,628.5 1570.1,628.6 1570.7,628.6 1571.3,628.6 1571.8,628.7 1572.4,628.7 1572.9,628.7 1573.5,628.7 1574,628.8 1574.6,628.8 1575.2,628.8 1575.7,628.9 1576.3,628.9 1576.8,628.9 1577.4,629 1578,629 1578.5,629 1579.1,629.1 1579.6,629.1 1580.2,629.1 1580.8,629.1 1581.3,629.2 1581.9,629.2 1582.4,629.2 1583,629.3 1583.6,629.3 1584.1,629.3 1584.7,629.3 1585.2,629.4 1585.8,629.4 1586.4,629.4 1586.9,629.5 1587.5,629.5 1588,629.5 1588.6,629.5 1589.2,629.6 1589.7,629.6 1590.3,629.6 1590.8,629.7 1591.4,629.7 1592,629.7 1592.5,629.7 1593.1,629.8 1593.6,629.8 1594.2,629.8 1594.8,629.8 1595.3,629.9 1595.9,629.9 1596.4,629.9 1597,629.9 1597.5,630 1598.1,630 1598.7,630 1599.2,630.1 1599.8,630.1 1600.3,630.1 1600.9,630.1 1601.5,630.2 1602,630.2 1602.6,630.2 1603.1,630.2 1603.7,630.3 1604.3,630.3 1604.8,630.3 1605.4,630.3 1605.9,630.4 1606.5,630.4 1607.1,630.4 1607.6,630.4 1608.2,630.4 1608.7,630.5 1609.3,630.5 1609.9,630.5 1610.4,630.5 1611,630.6 1611.5,630.6 1612.1,630.6 1612.7,630.6 1613.2,630.7 1613.8,630.7 1614.3,630.7 1614.9,630.7 1615.5,630.8 1616,630.8 1616.6,630.8 1617.1,630.8 1617.7,630.8 1618.3,630.9 1618.8,630.9 1619.4,630.9 1619.9,630.9 1620.5,630.9 1621,631 1621.6,631 1622.2,631 1622.7,631 1623.3,631.1 1623.8,631.1 1624.4,631.1 1625,631.1 1625.5,631.1 1626.1,631.2 1626.6,631.2 1627.2,631.2 1627.8,631.2 1628.3,631.2 1628.9,631.3 1629.4,631.3 1630,631.3" fill="none" stroke="#7030a0" stroke-width="7.6" stroke-linejoin="round"/>
<polyline points="734.8,636.1 735.4,636.1 735.9,636.1 736.5,636.1 737,636.1 737.6,636.1 738.2,636.1 738.7,636 739.3,636 739.8,636 740.4,636 741,636 741.5,636 742.1,636 742.6,635.9 743.2,635.9 743.8,635.9 744.3,635.9 744.9,635.9 745.4,635.8 746,635.8 746.5,635.8 747.1,635.8 747.7,635.7 748.2,635.7 748.8,635.7 749.3,635.6 749.9,635.6 750.5,635.6 751,635.5 751.6,635.5 752.1,635.5 752.7,635.4 753.3,635.4 753.8,635.4 754.4,635.3 754.9,635.3 755.5,635.3 756.1,635.2 756.6,635.2 757.2,635.1 757.7,635.1 758.3,635 758.9,634.9 759.4,634.9 760,634.8 760.5,634.7 761.1,634.6 761.7,634.4 762.2,634.3 762.8,634.2 763.3,634 763.9,633.9 764.5,633.7 765,633.6 765.6,633.4 766.1,633.2 766.7,633.1 767.3,632.9 767.8,632.7 768.4,632.5 768.9,632.4 769.5,632.2 770,632 770.6,631.8 771.2,631.7 771.7,631.5 772.3,631.3 772.8,631.1 773.4,631 774,630.8 774.5,630.7 775.1,630.5 775.6,630.3 776.2,630.1 776.8,629.9 777.3,629.7 777.9,629.4 778.4,629.2 779,629 779.6,628.7 780.1,628.5 780.7,628.3 781.2,628 781.8,627.8 782.4,627.6 782.9,627.4 783.5,627.2 784,626.9 784.6,626.7 785.2,626.6 785.7,626.4 786.3,626.2 786.8,626.1 787.4,625.9 788,625.8 788.5,625.7 789.1,625.7 789.6,625.6 790.2,625.6 790.8,625.5 791.3,625.6 791.9,625.6 792.4,625.6 793,625.7 793.5,625.8 794.1,625.9 794.7,626 795.2,626.1 795.8,626.3 796.3,626.4 796.9,626.6 797.5,626.8 798,627 798.6,627.1 799.1,627.3 799.7,627.5 800.3,627.8 800.8,628 801.4,628.2 801.9,628.4 802.5,628.6 803.1,628.8 803.6,629 804.2,629.2 804.7,629.4 805.3,629.6 805.9,629.8 806.4,630 807,630.2 807.5,630.3 808.1,630.5 808.7,630.7 809.2,630.8 809.8,631 810.3,631.2 810.9,631.4 811.5,631.6 812,631.8 812.6,632 813.1,632.2 813.7,632.3 814.2,632.5 814.8,632.7 815.4,632.9 815.9,633.1 816.5,633.3 817,633.5 817.6,633.6 818.2,633.8 818.7,634 819.3,634.1 819.8,634.3 820.4,634.4 821,634.5 821.5,634.7 822.1,634.8 822.6,634.9 823.2,635 823.8,635.1 824.3,635.1 824.9,635.2 825.4,635.2 826,635.3 826.6,635.4 827.1,635.4 827.7,635.5 828.2,635.5 828.8,635.6 829.4,635.6 829.9,635.7 830.5,635.7 831,635.8 831.6,635.8 832.2,635.9 832.7,635.9 833.3,636 833.8,636 834.4,636.1 835,636.1 835.5,636.1 836.1,636.2 836.6,636.2 837.2,636.3 837.7,636.3 838.3,636.3 838.9,636.4 839.4,636.4 840,636.4 840.5,636.4 841.1,636.5 841.7,636.5 842.2,636.5 842.8,636.5 843.3,636.5 843.9,636.5 844.5,636.5 845,636.6 845.6,636.6 846.1,636.6 846.7,636.6 847.3,636.6 847.8,636.6 848.4,636.6 848.9,636.6 849.5,636.6 850.1,636.6 850.6,636.5 851.2,636.5 851.7,636.5 852.3,636.5 852.9,636.5 853.4,636.5 854,636.5 854.5,636.5 855.1,636.5 855.7,636.5 856.2,636.5 856.8,636.5 857.3,636.5 857.9,636.4 858.4,636.4 859,636.4 859.6,636.4 860.1,636.4 860.7,636.4 861.2,636.4 861.8,636.3 862.4,636.3 862.9,636.3 863.5,636.3 864,636.3 864.6,636.3 865.2,636.2 865.7,636.2 866.3,636.2 866.8,636.2 867.4,636.2 868,636.1 868.5,636.1 869.1,636.1 869.6,636.1 870.2,636 870.8,636 871.3,635.9 871.9,635.8 872.4,635.8 873,635.7 873.6,635.6 874.1,635.5 874.7,635.3 875.2,635.2 875.8,635.1 876.4,634.9 876.9,634.8 877.5,634.6 878,634.4 878.6,634.2 879.2,634.1 879.7,633.9 880.3,633.6 880.8,633.4 881.4,633.2 881.9,633 882.5,632.7 883.1,632.5 883.6,632.3 884.2,632 884.7,631.6 885.3,631.1 885.9,630.6 886.4,630.1 887,629.4 887.5,628.7 888.1,628 888.7,627.2 889.2,626.4 889.8,625.6 890.3,624.7 890.9,623.9 891.5,623 892,622 892.6,621.1 893.1,620.2 893.7,619.3 894.3,618.4 894.8,617.4 895.4,616.3 895.9,615.2 896.5,614.1 897.1,612.9 897.6,611.7 898.2,610.5 898.7,609.2 899.3,608 899.9,606.7 900.4,605.4 901,604.2 901.5,603 902.1,601.8 902.6,600.5 903.2,599.3 903.8,598 904.3,596.6 904.9,595.1 905.4,593.4 906,591.6 906.6,589.7 907.1,587.5 907.7,585.2 908.2,582.6 908.8,579.9 909.4,577.1 909.9,574.1 910.5,571 911,567.8 911.6,564.4 912.2,561 912.7,557.5 913.3,553.8 913.8,549.8 914.4,545.5 915,541 915.5,536.3 916.1,531.5 916.6,526.5 917.2,521.6 917.8,516.3 918.3,510.9 918.9,505.2 919.4,499.5 920,493.7 920.6,488.1 921.1,482.5 921.7,476.9 922.2,471.4 922.8,465.8 923.4,460.3 923.9,454.7 924.5,449 925,443.2 925.6,437.3 926.1,431.5 926.7,426 927.3,420.9 927.8,416.5 928.4,412.2 928.9,408.1 929.5,404.2 930.1,400.5 930.6,397 931.2,393.6 931.7,390.3 932.3,387.1 932.9,384.1 933.4,381.1 934,378.1 934.5,375.1 935.1,372.3 935.7,369.9 936.2,367.9 936.8,366.4 937.3,365.3 937.9,364.2 938.5,363.2 939,362.4 939.6,361.7 940.1,361.3 940.7,361.1 941.3,361.3 941.8,361.7 942.4,362.4 942.9,363.2 943.5,364.2 944.1,365.3 944.6,366.4 945.2,367.9 945.7,369.9 946.3,372.4 946.9,375.1 947.4,378.1 948,381.1 948.5,384.1 949.1,387.2 949.6,390.4 950.2,393.8 950.8,397.4 951.3,401.1 951.9,404.9 952.4,408.7 953,412.5 953.6,416.3 954.1,420 954.7,423.7 955.2,427.2 955.8,430.7 956.4,434.1 956.9,437.4 957.5,440.7 958,444 958.6,447.3 959.2,450.6 959.7,453.9 960.3,457.3 960.8,460.6 961.4,464 962,467.5 962.5,471.1 963.1,474.7 963.6,478.5 964.2,482.4 964.8,486.4 965.3,490.3 965.9,494.2 966.4,498 967,501.8 967.6,505.4 968.1,508.9 968.7,512.2 969.2,515.3 969.8,518.4 970.3,521.4 970.9,524.4 971.5,527.4 972,530.3 972.6,533.2 973.1,536 973.7,538.7 974.3,541.4 974.8,543.9 975.4,546.4 975.9,548.8 976.5,551 977.1,553.1 977.6,555.1 978.2,557 978.7,558.7 979.3,560.3 979.9,561.9 980.4,563.5 981,565 981.5,566.5 982.1,567.9 982.7,569.3 983.2,570.7 983.8,572 984.3,573.3 984.9,574.5 985.5,575.7 986,576.9 986.6,578 987.1,579.1 987.7,580.1 988.3,581.2 988.8,582.2 989.4,583.1 989.9,584.1 990.5,585 991.1,585.9 991.6,586.7 992.2,587.6 992.7,588.4 993.3,589.2 993.8,590 994.4,590.8 995,591.6 995.5,592.3 996.1,593.1 996.6,593.9 997.2,594.6 997.8,595.3 998.3,596 998.9,596.7 999.4,597.3 1000,598 1000.6,598.6 1001.1,599.2 1001.7,599.8 1002.2,600.3 1002.8,600.8 1003.4,601.3 1003.9,601.7 1004.5,602.2 1005,602.6 1005.6,602.9 1006.2,603.2 1006.7,603.5 1007.3,603.8 1007.8,604 1008.4,604.3 1009,604.5 1009.5,604.8 1010.1,605 1010.6,605.3 1011.2,605.5 1011.8,605.7 1012.3,606 1012.9,606.2 1013.4,606.4 1014,606.6 1014.5,606.8 1015.1,607 1015.7,607.1 1016.2,607.3 1016.8,607.4 1017.3,607.6 1017.9,607.7 1018.5,607.8 1019,607.9 1019.6,608 1020.1,608.1 1020.7,608.2 1021.3,608.2 1021.8,608.3 1022.4,608.3 1022.9,608.3 1023.5,608.3 1024.1,608.3 1024.6,608.2 1025.2,608.2 1025.7,608.1 1026.3,608 1026.9,607.9 1027.4,607.8 1028,607.7 1028.5,607.6 1029.1,607.5 1029.7,607.3 1030.2,607.2 1030.8,607 1031.3,606.9 1031.9,606.7 1032.5,606.5 1033,606.4 1033.6,606.2 1034.1,606 1034.7,605.8 1035.3,605.6 1035.8,605.4 1036.4,605.2 1036.9,605 1037.5,604.8 1038,604.5 1038.6,604.2 1039.2,603.9 1039.7,603.6 1040.3,603.2 1040.8,602.9 1041.4,602.5 1042,602.1 1042.5,601.7 1043.1,601.3 1043.6,600.9 1044.2,600.4 1044.8,600 1045.3,599.6 1045.9,599.1 1046.4,598.7 1047,598.2 1047.6,597.7 1048.1,597.3 1048.7,596.8 1049.2,596.3 1049.8,595.8 1050.4,595.3 1050.9,594.8 1051.5,594.2 1052,593.7 1052.6,593.1 1053.2,592.5 1053.7,591.9 1054.3,591.3 1054.8,590.7 1055.4,590 1056,589.4 1056.5,588.7 1057.1,588 1057.6,587.4 1058.2,586.7 1058.8,586 1059.3,585.3 1059.9,584.6 1060.4,583.9 1061,583.1 1061.5,582.4 1062.1,581.6 1062.7,580.8 1063.2,580 1063.8,579.2 1064.3,578.4 1064.9,577.5 1065.5,576.7 1066,575.8 1066.6,574.9 1067.1,574.1 1067.7,573.2 1068.3,572.3 1068.8,571.3 1069.4,570.4 1069.9,569.5 1070.5,568.5 1071.1,567.6 1071.6,566.6 1072.2,565.6 1072.7,564.6 1073.3,563.6 1073.9,562.5 1074.4,561.5 1075,560.4 1075.5,559.3 1076.1,558.2 1076.7,557.1 1077.2,556 1077.8,554.9 1078.3,553.8 1078.9,552.7 1079.5,551.5 1080,550.4 1080.6,549.3 1081.1,548.1 1081.7,547 1082.2,545.9 1082.8,544.7 1083.4,543.6 1083.9,542.5 1084.5,541.4 1085,540.2 1085.6,539.1 1086.2,538 1086.7,536.8 1087.3,535.7 1087.8,534.5 1088.4,533.4 1089,532.2 1089.5,531 1090.1,529.8 1090.6,528.6 1091.2,527.4 1091.8,526.1 1092.3,524.9 1092.9,523.6 1093.4,522.3 1094,521 1094.6,519.6 1095.1,518.2 1095.7,516.8 1096.2,515.4 1096.8,514 1097.4,512.5 1097.9,511 1098.5,509.5 1099,507.9 1099.6,506.4 1100.2,504.8 1100.7,503.2 1101.3,501.6 1101.8,499.9 1102.4,498.3 1103,496.6 1103.5,494.9 1104.1,493.2 1104.6,491.4 1105.2,489.7 1105.7,487.9 1106.3,486.1 1106.9,484.3 1107.4,482.5 1108,480.7 1108.5,478.9 1109.1,477 1109.7,475.1 1110.2,473.3 1110.8,471.3 1111.3,469.4 1111.9,467.4 1112.5,465.4 1113,463.4 1113.6,461.3 1114.1,459.2 1114.7,457.1 1115.3,455 1115.8,452.9 1116.4,450.7 1116.9,448.5 1117.5,446.3 1118.1,444.1 1118.6,441.9 1119.2,439.7 1119.7,437.5 1120.3,435.2 1120.9,433 1121.4,430.7 1122,428.5 1122.5,426.2 1123.1,423.9 1123.7,421.7 1124.2,419.4 1124.8,417.2 1125.3,414.9 1125.9,412.7 1126.4,410.5 1127,408.2 1127.6,406 1128.1,403.8 1128.7,401.5 1129.2,399.2 1129.8,396.9 1130.4,394.7 1130.9,392.4 1131.5,390.1 1132,387.8 1132.6,385.5 1133.2,383.1 1133.7,380.8 1134.3,378.5 1134.8,376.2 1135.4,373.9 1136,371.6 1136.5,369.3 1137.1,367 1137.6,364.7 1138.2,362.5 1138.8,360.2 1139.3,357.9 1139.9,355.7 1140.4,353.4 1141,351.2 1141.6,349 1142.1,346.7 1142.7,344.5 1143.2,342.3 1143.8,340.1 1144.4,337.9 1144.9,335.7 1145.5,333.5 1146,331.3 1146.6,329.1 1147.2,326.9 1147.7,324.6 1148.3,322.4 1148.8,320.2 1149.4,318 1149.9,315.8 1150.5,313.5 1151.1,311.3 1151.6,309.1 1152.2,306.8 1152.7,304.5 1153.3,302.3 1153.9,300 1154.4,297.7 1155,295.4 1155.5,293 1156.1,290.7 1156.7,288.3 1157.2,286 1157.8,283.6 1158.3,281.1 1158.9,278.7 1159.5,276.2 1160,273.8 1160.6,271.3 1161.1,268.8 1161.7,266.3 1162.3,263.8 1162.8,261.3 1163.4,258.8 1163.9,256.3 1164.5,253.8 1165.1,251.3 1165.6,248.8 1166.2,246.3 1166.7,243.7 1167.3,241.1 1167.9,238.5 1168.4,235.8 1169,233.1 1169.5,230.4 1170.1,227.8 1170.7,225.2 1171.2,222.6 1171.8,220.1 1172.3,217.7 1172.9,215.4 1173.4,213.3 1174,211.2 1174.6,209.3 1175.1,207.5 1175.7,205.7 1176.2,204 1176.8,202.3 1177.4,200.6 1177.9,199 1178.5,197.4 1179,195.9 1179.6,194.4 1180.2,192.9 1180.7,191.5 1181.3,190.1 1181.8,188.8 1182.4,187.5 1183,186.2 1183.5,185 1184.1,183.8 1184.6,182.7 1185.2,181.6 1185.8,180.6 1186.3,179.5 1186.9,178.5 1187.4,177.5 1188,176.5 1188.6,175.5 1189.1,174.5 1189.7,173.6 1190.2,172.7 1190.8,171.8 1191.4,171 1191.9,170.2 1192.5,169.4 1193,168.7 1193.6,168.1 1194.1,167.5 1194.7,167 1195.3,166.6 1195.8,166.2 1196.4,165.9 1196.9,165.5 1197.5,165.2 1198.1,164.9 1198.6,164.6 1199.2,164.3 1199.7,164 1200.3,163.8 1200.9,163.5 1201.4,163.3 1202,163 1202.5,162.8 1203.1,162.6 1203.7,162.4 1204.2,162.2 1204.8,162.1 1205.3,161.9 1205.9,161.8 1206.5,161.7 1207,161.6 1207.6,161.5 1208.1,161.4 1208.7,161.4 1209.3,161.4 1209.8,161.4 1210.4,161.4 1210.9,161.5 1211.5,161.5 1212.1,161.6 1212.6,161.7 1213.2,161.8 1213.7,161.9 1214.3,162 1214.9,162.1 1215.4,162.3 1216,162.4 1216.5,162.6 1217.1,162.7 1217.6,162.9 1218.2,163.1 1218.8,163.2 1219.3,163.4 1219.9,163.6 1220.4,163.8 1221,164 1221.6,164.2 1222.1,164.5 1222.7,164.7 1223.2,165 1223.8,165.4 1224.4,165.7 1224.9,166.1 1225.5,166.5 1226,166.9 1226.6,167.3 1227.2,167.7 1227.7,168.2 1228.3,168.7 1228.8,169.2 1229.4,169.7 1230,170.2 1230.5,170.7 1231.1,171.3 1231.6,171.8 1232.2,172.4 1232.8,173 1233.3,173.6 1233.9,174.3 1234.4,175 1235,175.8 1235.6,176.6 1236.1,177.4 1236.7,178.2 1237.2,179.1 1237.8,180 1238.3,181 1238.9,182 1239.5,183 1240,184 1240.6,185.1 1241.1,186.2 1241.7,187.3 1242.3,188.5 1242.8,189.7 1243.4,190.9 1243.9,192.1 1244.5,193.3 1245.1,194.6 1245.6,195.9 1246.2,197.2 1246.7,198.5 1247.3,199.9 1247.9,201.3 1248.4,202.6 1249,204 1249.5,205.5 1250.1,206.9 1250.7,208.5 1251.2,210.2 1251.8,212 1252.3,213.9 1252.9,215.8 1253.5,217.8 1254,219.9 1254.6,222 1255.1,224.1 1255.7,226.2 1256.3,228.4 1256.8,230.5 1257.4,232.7 1257.9,234.8 1258.5,236.9 1259.1,239 1259.6,241.1 1260.2,243.2 1260.7,245.4 1261.3,247.5 1261.8,249.8 1262.4,252 1263,254.2 1263.5,256.4 1264.1,258.6 1264.6,260.8 1265.2,263 1265.8,265.1 1266.3,267.1 1266.9,269.1 1267.4,270.9 1268,272.8 1268.6,274.5 1269.1,276.2 1269.7,277.9 1270.2,279.6 1270.8,281.2 1271.4,282.7 1271.9,284.3 1272.5,285.8 1273,287.3 1273.6,288.8 1274.2,290.3 1274.7,291.8 1275.3,293.2 1275.8,294.7 1276.4,296.1 1277,297.6 1277.5,299 1278.1,300.5 1278.6,302 1279.2,303.5 1279.8,305 1280.3,306.5 1280.9,308 1281.4,309.5 1282,310.9 1282.6,312.4 1283.1,313.9 1283.7,315.3 1284.2,316.8 1284.8,318.3 1285.3,319.8 1285.9,321.3 1286.5,322.8 1287,324.3 1287.6,325.9 1288.1,327.4 1288.7,329 1289.3,330.7 1289.8,332.3 1290.4,334 1290.9,335.7 1291.5,337.4 1292.1,339.2 1292.6,340.9 1293.2,342.7 1293.7,344.5 1294.3,346.3 1294.9,348.1 1295.4,349.9 1296,351.8 1296.5,353.6 1297.1,355.4 1297.7,357.3 1298.2,359.1 1298.8,361 1299.3,362.8 1299.9,364.7 1300.5,366.5 1301,368.4 1301.6,370.2 1302.1,372.1 1302.7,373.9 1303.3,375.7 1303.8,377.5 1304.4,379.3 1304.9,381.1 1305.5,383 1306,384.8 1306.6,386.6 1307.2,388.4 1307.7,390.3 1308.3,392.1 1308.8,394 1309.4,395.8 1310,397.7 1310.5,399.5 1311.1,401.4 1311.6,403.2 1312.2,405.1 1312.8,406.9 1313.3,408.7 1313.9,410.6 1314.4,412.4 1315,414.2 1315.6,416 1316.1,417.7 1316.7,419.5 1317.2,421.2 1317.8,422.9 1318.4,424.6 1318.9,426.3 1319.5,428 1320,429.6 1320.6,431.3 1321.2,432.9 1321.7,434.5 1322.3,436.1 1322.8,437.7 1323.4,439.3 1324,440.9 1324.5,442.4 1325.1,444 1325.6,445.6 1326.2,447.1 1326.8,448.7 1327.3,450.2 1327.9,451.7 1328.4,453.2 1329,454.7 1329.5,456.2 1330.1,457.7 1330.7,459.2 1331.2,460.6 1331.8,462.1 1332.3,463.5 1332.9,465 1333.5,466.4 1334,467.8 1334.6,469.2 1335.1,470.6 1335.7,472 1336.3,473.3 1336.8,474.7 1337.4,476 1337.9,477.3 1338.5,478.6 1339.1,479.9 1339.6,481.2 1340.2,482.5 1340.7,483.8 1341.3,485 1341.9,486.3 1342.4,487.5 1343,488.7 1343.5,490 1344.1,491.2 1344.7,492.4 1345.2,493.6 1345.8,494.8 1346.3,496 1346.9,497.1 1347.5,498.3 1348,499.5 1348.6,500.6 1349.1,501.8 1349.7,502.9 1350.2,504 1350.8,505.1 1351.4,506.3 1351.9,507.4 1352.5,508.5 1353,509.6 1353.6,510.6 1354.2,511.7 1354.7,512.8 1355.3,513.8 1355.8,514.9 1356.4,515.9 1357,517 1357.5,518 1358.1,519 1358.6,520.1 1359.2,521.1 1359.8,522.1 1360.3,523.1 1360.9,524.1 1361.4,525.1 1362,526.1 1362.6,527.1 1363.1,528 1363.7,529 1364.2,530 1364.8,531 1365.4,531.9 1365.9,532.9 1366.5,533.9 1367,534.8 1367.6,535.8 1368.2,536.7 1368.7,537.6 1369.3,538.6 1369.8,539.5 1370.4,540.4 1371,541.3 1371.5,542.2 1372.1,543.1 1372.6,544 1373.2,544.9 1373.7,545.8 1374.3,546.7 1374.9,547.6 1375.4,548.4 1376,549.3 1376.5,550.1 1377.1,551 1377.7,551.8 1378.2,552.6 1378.8,553.4 1379.3,554.3 1379.9,555.1 1380.5,555.8 1381,556.6 1381.6,557.4 1382.1,558.2 1382.7,558.9 1383.3,559.7 1383.8,560.4 1384.4,561.1 1384.9,561.9 1385.5,562.6 1386.1,563.3 1386.6,564 1387.2,564.7 1387.7,565.4 1388.3,566.1 1388.9,566.8 1389.4,567.4 1390,568.1 1390.5,568.8 1391.1,569.4 1391.7,570.1 1392.2,570.7 1392.8,571.4 1393.3,572 1393.9,572.7 1394.5,573.3 1395,573.9 1395.6,574.5 1396.1,575.2 1396.7,575.8 1397.2,576.4 1397.8,577 1398.4,577.6 1398.9,578.2 1399.5,578.8 1400,579.4 1400.6,579.9 1401.2,580.5 1401.7,581.1 1402.3,581.7 1402.8,582.2 1403.4,582.8 1404,583.4 1404.5,583.9 1405.1,584.5 1405.6,585 1406.2,585.6 1406.8,586.1 1407.3,586.6 1407.9,587.2 1408.4,587.7 1409,588.2 1409.6,588.8 1410.1,589.3 1410.7,589.8 1411.2,590.3 1411.8,590.8 1412.4,591.4 1412.9,591.9 1413.5,592.4 1414,592.9 1414.6,593.4 1415.2,593.9 1415.7,594.4 1416.3,594.9 1416.8,595.4 1417.4,595.8 1417.9,596.3 1418.5,596.8 1419.1,597.3 1419.6,597.7 1420.2,598.2 1420.7,598.7 1421.3,599.1 1421.9,599.6 1422.4,600 1423,600.4 1423.5,600.9 1424.1,601.3 1424.7,601.7 1425.2,602.1 1425.8,602.5 1426.3,602.9 1426.9,603.3 1427.5,603.7 1428,604.1 1428.6,604.5 1429.1,604.8 1429.7,605.2 1430.3,605.6 1430.8,605.9 1431.4,606.3 1431.9,606.7 1432.5,607 1433.1,607.4 1433.6,607.7 1434.2,608.1 1434.7,608.4 1435.3,608.7 1435.9,609.1 1436.4,609.4 1437,609.7 1437.5,610 1438.1,610.3 1438.7,610.6 1439.2,610.9 1439.8,611.2 1440.3,611.4 1440.9,611.7 1441.4,611.9 1442,612.2 1442.6,612.4 1443.1,612.6 1443.7,612.8 1444.2,613 1444.8,613.2 1445.4,613.4 1445.9,613.6 1446.5,613.8 1447,614 1447.6,614.2 1448.2,614.4 1448.7,614.5 1449.3,614.7 1449.8,614.9 1450.4,615 1451,615.2 1451.5,615.4 1452.1,615.5 1452.6,615.7 1453.2,615.8 1453.8,616 1454.3,616.1 1454.9,616.2 1455.4,616.4 1456,616.5 1456.6,616.7 1457.1,616.8 1457.7,616.9 1458.2,617 1458.8,617.2 1459.4,617.3 1459.9,617.4 1460.5,617.5 1461,617.7 1461.6,617.8 1462.2,617.9 1462.7,618 1463.3,618.1 1463.8,618.2 1464.4,618.3 1464.9,618.4 1465.5,618.5 1466.1,618.6 1466.6,618.7 1467.2,618.8 1467.7,618.9 1468.3,619 1468.9,619.1 1469.4,619.2 1470,619.3 1470.5,619.4 1471.1,619.5 1471.7,619.6 1472.2,619.7 1472.8,619.7 1473.3,619.8 1473.9,619.9 1474.5,620 1475,620.1 1475.6,620.2 1476.1,620.2 1476.7,620.3 1477.3,620.4 1477.8,620.5 1478.4,620.6 1478.9,620.6 1479.5,620.7 1480.1,620.8 1480.6,620.9 1481.2,620.9 1481.7,621 1482.3,621.1 1482.9,621.2 1483.4,621.2 1484,621.3 1484.5,621.4 1485.1,621.5 1485.6,621.5 1486.2,621.6 1486.8,621.7 1487.3,621.7 1487.9,621.8 1488.4,621.9 1489,622 1489.6,622 1490.1,622.1 1490.7,622.2 1491.2,622.2 1491.8,622.3 1492.4,622.4 1492.9,622.4 1493.5,622.5 1494,622.6 1494.6,622.6 1495.2,622.7 1495.7,622.8 1496.3,622.8 1496.8,622.9 1497.4,623 1498,623 1498.5,623.1 1499.1,623.2 1499.6,623.2 1500.2,623.3 1500.8,623.3 1501.3,623.4 1501.9,623.5 1502.4,623.5 1503,623.6 1503.6,623.7 1504.1,623.7 1504.7,623.8 1505.2,623.8 1505.8,623.9 1506.4,624 1506.9,624 1507.5,624.1 1508,624.1 1508.6,624.2 1509.1,624.2 1509.7,624.3 1510.3,624.3 1510.8,624.4 1511.4,624.5 1511.9,624.5 1512.5,624.6 1513.1,624.6 1513.6,624.7 1514.2,624.7 1514.7,624.8 1515.3,624.8 1515.9,624.9 1516.4,624.9 1517,625 1517.5,625 1518.1,625.1 1518.7,625.1 1519.2,625.2 1519.8,625.2 1520.3,625.3 1520.9,625.3 1521.5,625.3 1522,625.4 1522.6,625.4 1523.1,625.5 1523.7,625.5 1524.3,625.6 1524.8,625.6 1525.4,625.7 1525.9,625.7 1526.5,625.7 1527.1,625.8 1527.6,625.8 1528.2,625.9 1528.7,625.9 1529.3,625.9 1529.8,626 1530.4,626 1531,626.1 1531.5,626.1 1532.1,626.1 1532.6,626.2 1533.2,626.2 1533.8,626.2 1534.3,626.3 1534.9,626.3 1535.4,626.4 1536,626.4 1536.6,626.4 1537.1,626.5 1537.7,626.5 1538.2,626.5 1538.8,626.6 1539.4,626.6 1539.9,626.7 1540.5,626.7 1541,626.7 1541.6,626.8 1542.2,626.8 1542.7,626.8 1543.3,626.9 1543.8,626.9 1544.4,626.9 1545,627 1545.5,627 1546.1,627.1 1546.6,627.1 1547.2,627.1 1547.8,627.2 1548.3,627.2 1548.9,627.2 1549.4,627.3 1550,627.3 1550.6,627.3 1551.1,627.4 1551.7,627.4 1552.2,627.5 1552.8,627.5 1553.3,627.5 1553.9,627.6 1554.5,627.6 1555,627.6 1555.6,627.7 1556.1,627.7 1556.7,627.7 1557.3,627.8 1557.8,627.8 1558.4,627.8 1558.9,627.9 1559.5,627.9 1560.1,627.9 1560.6,628 1561.2,628 1561.7,628.1 1562.3,628.1 1562.9,628.1 1563.4,628.2 1564,628.2 1564.5,628.2 1565.1,628.3 1565.7,628.3 1566.2,628.3 1566.8,628.4 1567.3,628.4 1567.9,628.4 1568.5,628.5 1569,628.5 1569.6,628.5 1570.1,628.6 1570.7,628.6 1571.3,628.6 1571.8,628.7 1572.4,628.7 1572.9,628.7 1573.5,628.7 1574,628.8 1574.6,628.8 1575.2,628.8 1575.7,628.9 1576.3,628.9 1576.8,628.9 1577.4,629 1578,629 1578.5,629 1579.1,629.1 1579.6,629.1 1580.2,629.1 1580.8,629.1 1581.3,629.2 1581.9,629.2 1582.4,629.2 1583,629.3 1583.6,629.3 1584.1,629.3 1584.7,629.3 1585.2,629.4 1585.8,629.4 1586.4,629.4 1586.9,629.5 1587.5,629.5 1588,629.5 1588.6,629.5 1589.2,629.6 1589.7,629.6 1590.3,629.6 1590.8,629.7 1591.4,629.7 1592,629.7 1592.5,629.7 1593.1,629.8 1593.6,629.8 1594.2,629.8 1594.8,629.8 1595.3,629.9 1595.9,629.9 1596.4,629.9 1597,629.9 1597.5,630 1598.1,630 1598.7,630 1599.2,630.1 1599.8,630.1 1600.3,630.1 1600.9,630.1 1601.5,630.2 1602,630.2 1602.6,630.2 1603.1,630.2 1603.7,630.3 1604.3,630.3 1604.8,630.3 1605.4,630.3 1605.9,630.4 1606.5,630.4 1607.1,630.4 1607.6,630.4 1608.2,630.4 1608.7,630.5 1609.3,630.5 1609.9,630.5 1610.4,630.5 1611,630.6 1611.5,630.6 1612.1,630.6 1612.7,630.6 1613.2,630.7 1613.8,630.7 1614.3,630.7 1614.9,630.7 1615.5,630.8 1616,630.8 1616.6,630.8 1617.1,630.8 1617.7,630.8 1618.3,630.9 1618.8,630.9 1619.4,630.9 1619.9,630.9 1620.5,630.9 1621,631 1621.6,631 1622.2,631 1622.7,631 1623.3,631.1 1623.8,631.1 1624.4,631.1 1625,631.1 1625.5,631.1 1626.1,631.2 1626.6,631.2 1627.2,631.2 1627.8,631.2 1628.3,631.2 1628.9,631.3 1629.4,631.3 1630,631.3" fill="none" stroke="#c8b0e0" stroke-width="1.1" stroke-opacity="0.6" stroke-linejoin="round"/>
<polyline points="734.8,636.3 736.3,636.2 737.7,636.4 739.2,636.7 740.6,636.5 742.1,636.8 743.5,636.3 745,635.7 746.4,636.5 747.9,636.6 749.3,636.1 750.8,636.2 752.3,636.3 753.7,636.7 755.2,636.3 756.6,636 758.1,636.9 759.5,636.5 761,637.1 762.4,636.9 763.9,637.1 765.3,636.4 766.8,636.9 768.3,636.2 769.7,636.3 771.2,636.4 772.6,637.4 774.1,636.6 775.5,636.3 777,636.3 778.4,637 779.9,636.5 781.4,636.7 782.8,636.7 784.3,635.9 785.7,636.7 787.2,636.3 788.6,635.9 790.1,636.6 791.5,636.4 793,636.3 794.4,636.3 795.9,636.9 797.4,636.3 798.8,635.7 800.3,637 801.7,636 803.2,636.3 804.6,636.6 806.1,635.5 807.5,636 809,636.8 810.4,636.3 811.9,636.1 813.4,636.4 814.8,636 816.3,636.4 817.7,636 819.2,635.7 820.6,636.6 822.1,636.2 823.5,636.5 825,636.3 826.4,636.8 827.9,636.6 829.4,636.4 830.8,635.9 832.3,635.8 833.7,636.9 835.2,636.7 836.6,636 838.1,637.2 839.5,636.5 841,636.4 842.4,635.8 843.9,636 845.4,636.5 846.8,636.5 848.3,636.4 849.7,635.7 851.2,636.5 852.6,636.5 854.1,636.2 855.5,636.4 857,636.4 858.4,636.8 859.9,636.3 861.4,636.5 862.8,635.8 864.3,636 865.7,636.3 867.2,636 868.6,636.5 870.1,635.9 871.5,636.3 873,636.1 874.5,636.9 875.9,636.2 877.4,637.1 878.8,637.2 880.3,636.5 881.7,636.7 883.2,636.3 884.6,635.4 886.1,636.7 887.5,636.6 889,636.2 890.5,636.1 891.9,636.4 893.4,636.4 894.8,636 896.3,636.1 897.7,636.8 899.2,636.4 900.6,636.3 902.1,636.8 903.5,636.2 905,636.7 906.5,635.9 907.9,636.2 909.4,636.3 910.8,636.6 912.3,636.4 913.7,637.2 915.2,636.8 916.6,636.2 918.1,637.2 919.5,636 921,637.1 922.5,636 923.9,636.7 925.4,636 926.8,636.3 928.3,637 929.7,635.8 931.2,635.7 932.6,636.4 934.1,636.4 935.5,636.4 937,636.7 938.5,635.8 939.9,636.6 941.4,636.3 942.8,636.7 944.3,636.6 945.7,636.9 947.2,635.8 948.6,636.4 950.1,635.9 951.6,636.3 953,636.6 954.5,636.5 955.9,636.6 957.4,636.3 958.8,636.5 960.3,636.5 961.7,636.9 963.2,636.7 964.6,635.6 966.1,636.6 967.6,636.8 969,636.2 970.5,635.7 971.9,637 973.4,636.4 974.8,636.6 976.3,637.1 977.7,636 979.2,636.3 980.6,636.3 982.1,636.6 983.6,636.1 985,636.6 986.5,636.4 987.9,636.8 989.4,636.8 990.8,635.7 992.3,636.5 993.7,636.2 995.2,636.3 996.6,636.5 998.1,636.5 999.6,636.1 1001,636.5 1002.5,636.4 1003.9,636.3 1005.4,635.8 1006.8,636 1008.3,636.2 1009.7,636.6 1011.2,636.9 1012.6,635.9 1014.1,635.9 1015.6,636.4 1017,636.1 1018.5,636 1019.9,636 1021.4,635.9 1022.8,636.5 1024.3,635.7 1025.7,636.9 1027.2,635.9 1028.6,636 1030.1,635.6 1031.6,635 1033,634.9 1034.5,635.7 1035.9,635.6 1037.4,634.2 1038.8,634.4 1040.3,633.1 1041.7,631.7 1043.2,631.5 1044.7,630.4 1046.1,628 1047.6,626.6 1049,625.2 1050.5,624.4 1051.9,621.7 1053.4,619.1 1054.8,617.7 1056.3,615.2 1057.7,612.3 1059.2,611.5 1060.7,608.4 1062.1,605 1063.6,602 1065,599.7 1066.5,598.7 1067.9,594.7 1069.4,590.8 1070.8,588.1 1072.3,585.8 1073.7,583.5 1075.2,578.8 1076.7,576.6 1078.1,573.6 1079.6,569.7 1081,563.8 1082.5,561.2 1083.9,556.3 1085.4,553.8 1086.8,548.2 1088.3,545.3 1089.7,540.4 1091.2,533.3 1092.7,530.1 1094.1,526.4 1095.6,521 1097,515.4 1098.5,509.2 1099.9,505.3 1101.4,500.8 1102.8,493.3 1104.3,486.3 1105.7,478.9 1107.2,470.1 1108.7,462.9 1110.1,454 1111.6,447.2 1113,436.5 1114.5,426.4 1115.9,418.7 1117.4,410.3 1118.8,401.6 1120.3,391.4 1121.8,385.6 1123.2,376.8 1124.7,368.5 1126.1,361.1 1127.6,355.4 1129,348.1 1130.5,342.2 1131.9,335.5 1133.4,329.6 1134.8,324.5 1136.3,317.5 1137.8,310.9 1139.2,306.9 1140.7,300.5 1142.1,294.1 1143.6,290.2 1145,283.6 1146.5,279.7 1147.9,272.6 1149.4,266.6 1150.8,262 1152.3,259.1 1153.8,252.9 1155.2,247.8 1156.7,241.6 1158.1,233.6 1159.6,229.5 1161,220.4 1162.5,214.7 1163.9,207 1165.4,201.8 1166.8,196.1 1168.3,189.1 1169.8,183.2 1171.2,179.6 1172.7,175.5 1174.1,172.9 1175.6,171.1 1177,165.2 1178.5,163.2 1179.9,162.2 1181.4,161.8 1182.8,161 1184.3,162.6 1185.8,163.1 1187.2,163 1188.7,162.1 1190.1,165.1 1191.6,163.3 1193,166.2 1194.5,168.2 1195.9,167.8 1197.4,171.1 1198.8,174.6 1200.3,176.1 1201.8,177.4 1203.2,179.6 1204.7,183.7 1206.1,185.4 1207.6,187.8 1209,192 1210.5,194.1 1211.9,197.7 1213.4,201.5 1214.9,204.8 1216.3,207.7 1217.8,211.2 1219.2,215.2 1220.7,218.5 1222.1,220.4 1223.6,224.6 1225,227.4 1226.5,230.6 1227.9,234.8 1229.4,236.9 1230.9,243.8 1232.3,246.3 1233.8,251.7 1235.2,254.2 1236.7,259.2 1238.1,267.8 1239.6,272.2 1241,276.2 1242.5,281.9 1243.9,288.1 1245.4,295.8 1246.9,302.7 1248.3,310 1249.8,317.9 1251.2,323.3 1252.7,332.3 1254.1,335.2 1255.6,342.3 1257,346 1258.5,352.8 1259.9,359.2 1261.4,363.7 1262.9,370.7 1264.3,376.3 1265.8,382.7 1267.2,387.2 1268.7,392.3 1270.1,396.9 1271.6,402.3 1273,405 1274.5,409.5 1275.9,412.9 1277.4,415.4 1278.9,418 1280.3,422.4 1281.8,425.5 1283.2,428.8 1284.7,431.8 1286.1,436 1287.6,437.3 1289,442 1290.5,444.4 1292,449.1 1293.4,451.4 1294.9,454.9 1296.3,459.4 1297.8,460.8 1299.2,466.1 1300.7,468.6 1302.1,473.2 1303.6,478.5 1305,482 1306.5,485.1 1308,489.4 1309.4,493.3 1310.9,497.6 1312.3,503 1313.8,505.3 1315.2,511 1316.7,512.1 1318.1,516.7 1319.6,520 1321,522.7 1322.5,525.4 1324,530.1 1325.4,533.4 1326.9,535.6 1328.3,539.4 1329.8,541.2 1331.2,541.4 1332.7,546.6 1334.1,547.5 1335.6,551.9 1337,552.8 1338.5,555.7 1340,557.8 1341.4,559.5 1342.9,560.6 1344.3,564.3 1345.8,566.6 1347.2,569.7 1348.7,570.3 1350.1,573.1 1351.6,574.1 1353,576.9 1354.5,577.1 1356,582.6 1357.4,582.8 1358.9,583.6 1360.3,586.6 1361.8,588.9 1363.2,590.2 1364.7,593.1 1366.1,593.3 1367.6,592.7 1369,595.4 1370.5,599 1372,600 1373.4,600.7 1374.9,600.4 1376.3,603.1 1377.8,604 1379.2,603.4 1380.7,604.4 1382.1,606.5 1383.6,608 1385.1,609.3 1386.5,609.2 1388,611.5 1389.4,609.3 1390.9,611.4 1392.3,611 1393.8,610.4 1395.2,611.7 1396.7,614.5 1398.1,613.2 1399.6,613.5 1401.1,615.9 1402.5,616.7 1404,616.5 1405.4,618.4 1406.9,616 1408.3,620.3 1409.8,619.6 1411.2,619.3 1412.7,619.8 1414.1,619.9 1415.6,620.3 1417.1,621.2 1418.5,620.4 1420,624 1421.4,622.4 1422.9,623.5 1424.3,623.2 1425.8,624.1 1427.2,624.6 1428.7,625.3 1430.1,624.1 1431.6,625.4 1433.1,625.6 1434.5,626 1436,626.3 1437.4,626.7 1438.9,626.2 1440.3,627.8 1441.8,628.3 1443.2,628.4 1444.7,628.8 1446.1,628.2 1447.6,628.5 1449.1,629.5 1450.5,630 1452,629.8 1453.4,629.3 1454.9,631.4 1456.3,630.2 1457.8,631.1 1459.2,630.5 1460.7,631.6 1462.2,631.5 1463.6,632.3 1465.1,632.3 1466.5,631.5 1468,631.9 1469.4,632.7 1470.9,633.1 1472.3,633.7 1473.8,633.2 1475.2,633.3 1476.7,633.4 1478.2,633.6 1479.6,634.2 1481.1,633.9 1482.5,634 1484,633.6 1485.4,633.4 1486.9,634.4 1488.3,634.8 1489.8,634.6 1491.2,635 1492.7,635.1 1494.2,635 1495.6,635.5 1497.1,634.9 1498.5,635.3 1500,635.3 1501.4,635.5 1502.9,635.9 1504.3,636 1505.8,635.8 1507.2,636 1508.7,635.7 1510.2,635.9 1511.6,636.5 1513.1,636 1514.5,636.6 1516,636.3 1517.4,636.2 1518.9,637 1520.3,636.1 1521.8,636 1523.2,636.2 1524.7,636.3 1526.2,636.3 1527.6,636.5 1529.1,636.3 1530.5,636.4 1532,636.1 1533.4,636.7 1534.9,636.1 1536.3,636.1 1537.8,636.2 1539.2,636.4 1540.7,635.9 1542.2,636.9 1543.6,636 1545.1,636.1 1546.5,636.1 1548,636 1549.4,636.5 1550.9,636.3 1552.3,635.9 1553.8,636 1555.3,636.1 1556.7,636.9 1558.2,636 1559.6,635.7 1561.1,635.8 1562.5,636.1 1564,636.9 1565.4,635.8 1566.9,636.3 1568.3,637.4 1569.8,636.1 1571.3,636.9 1572.7,636.8 1574.2,636.5 1575.6,635.7 1577.1,636.4 1578.5,636.2 1580,635.5 1581.4,635.6 1582.9,636.3 1584.3,636.4 1585.8,636.8 1587.3,636.6 1588.7,636.1 1590.2,636.1 1591.6,636.3 1593.1,635.9 1594.5,636.6 1596,636.3 1597.4,636 1598.9,636.1 1600.3,635.8 1601.8,636.1 1603.3,636.4 1604.7,636.2 1606.2,636.7 1607.6,637 1609.1,636.1 1610.5,636.3 1612,636.2 1613.4,637.1 1614.9,636.5 1616.3,636.6 1617.8,636.7 1619.3,637.3 1620.7,636.5 1622.2,635.9 1623.6,636.2 1625.1,636.6 1626.5,636.3 1628,636 1629.4,637.5" fill="none" stroke="none" marker-start="url(#mls)" marker-mid="url(#mls)" marker-end="url(#mls)"/>
<polyline points="735.6,620 736.3,620.5 737.2,631.6 738.9,633.6 740.3,630.4 740.5,629.6 742.3,635.1 742.9,626.5 744.3,633.3 745.5,632.9 746.7,621.7 748.1,630.2 749,627 749.8,623.4 751.2,622.7 752.1,628.8 753.2,627 754.3,631.6 755.5,618.2 756.4,624 757.5,633.3 758.5,627.4 759.9,623.4 760.9,624.3 762.5,616.7 763.6,618.6 764.3,628.4 765.7,625.4 767.1,631 767.7,622.7 769,622.5 770,608.4 771.3,621.2 772.7,631.7 773.1,623.8 774.9,618 775.8,624.5 777,621.3 778,617.7 779.3,612.3 780,614.1 781.4,615.9 782.1,606.2 783.5,611.8 784.8,611 785.4,615.6 786.4,612.5 788.2,605 789.3,617.1 790.3,609.1 791.1,605 792.6,611 793.2,607.8 794.8,615.3 795.9,602.7 797,604.2 798,609 798.9,619.9 800.5,616.8 801.3,606.5 802.7,603.3 803.5,611.2 804.4,606.6 805.9,617.5 807.1,616.3 808.5,616.7 809.6,615.6 809.9,626.3 811.7,615.1 812.4,613.6 813.9,627.8 814.7,629.6 815.8,621.4 817,627.6 818.2,637.4 819.5,621.5 820.5,625.6 821.7,629.6 822.5,616.4 823.9,627.5 824.7,632.6 826.1,628.7 827.1,635.1 828.3,634.2 828.9,628.4 830.5,634 831.3,633.7 832.6,622.9 833.4,627.4 835.1,628 836.4,629.5 837.1,629.8 838,624.8 839.5,632.7 840.2,622.8 842,637.7 842.4,634.1 843.8,640.1 845,634.7 845.8,630.2 847.1,625.3 848.2,636.5 849.7,633 851.1,635 851.6,637 853.1,639.4 853.7,632.9 856.2,632.6 857.1,633.1 858.7,636.7 859.8,638.5 860.4,640.5 861.6,623.3 863.2,640.2 864.5,624.9 865.3,629.9 866.6,635 867.8,639.1 868.7,627.5 869.8,623.8 870.5,637.8 871.8,634.4 873.1,627.2 874.5,630.9 875.1,622.1 876.3,635.5 877,629.6 878.8,639 879.7,621.3 881.1,636 883.2,632.6 884.3,632.5 885.3,621.5 886.1,633.3 887.5,631.3 888.9,627.8 889.5,622.4 890.5,630.8 892,624.6 892.9,627.1 894.5,630.9 895.7,628.5 896.9,628.3 897.9,632.9 898.9,621.2 899.6,634.4 901.3,619.7 902.3,620 903.4,624.4 904.5,626.9 905.7,622.8 906.4,618.4 907.8,615.4 908.8,616.7 909.8,611.7 910.9,618.3 911.9,612.6 913.3,619.8 914.3,605.8 915.4,606.9 917,607.1 917.9,597 919,597.1 920.4,612.6 920.9,596.5 922.2,601.4 923,586.5 924.4,575.8 926,587.9 926.3,584 928.1,582.4 929.3,577.4 930.1,574.7 931.5,569.5 932.3,580.5 933.3,565.8 934.5,577.9 935.4,570.9 936.6,565.6 937.7,567.5 939.5,575.5 940,574.1 941,572.6 942.8,570.3 943.2,563.9 945,577.2 946,568.5 947,568.3 947.9,569.2 948.8,570.4 949.9,565.6 951,571.9 952.3,571.1 953.5,573.8 955.1,569.1 955.8,589.5 957.4,574.6 958.2,583.9 958.8,584.7 960.3,590.2 961.1,596 962.1,589.6 964,593.9 964.6,588.5 965.6,600.2 966.6,586.2 968.2,594.3 969.2,598.1 969.9,601.3 971.7,603.6 972.4,606.1 974,604.7 974.8,602.6 976,604.8 977,612.5 978.3,608 979.7,612.9 980.7,608.5 981.2,600 982.7,608.2 983.5,614 984.5,621.8 985.7,621.7 986.9,624 988.7,612.6 989.6,621.1 990.8,617.5 991.8,621.7 992.6,618.4 993.8,612.1 994.9,623.6 995.9,622.3 997.1,625.3 998.6,617.1 999.1,627.3 1000.4,628.3 1001.7,630.1 1003,630.5 1004.1,620.8 1005.2,610 1005.8,628.9 1007,618.8 1008.2,622.7 1009.3,630 1010.9,625.8 1012.2,625.7 1013,628.2 1013.6,614.4 1014.9,634.6 1016.5,622.6 1017.7,622.8 1018.6,627.6 1019.5,623.8 1020.6,620 1021.9,623.8 1023.3,622.3 1023.9,620.8 1024.9,634.9 1025.9,616 1027.1,611.3 1028.9,617.1 1029.8,616.4 1031.2,628.3 1031.5,621.3 1032.9,623.8 1034.4,621 1035.4,611.5 1036,620.1 1037.4,616.3 1038.7,624.4 1039.9,614 1040.8,611.8 1041.7,615.1 1043.5,613.2 1044.2,598.7 1045.5,613.4 1046.5,611.4 1047.2,609.2 1048.4,598.2 1049.4,593.2 1050.6,599.3 1051.8,602.4 1053.1,599.6 1054.1,591.9 1055.3,599 1056.8,587 1057.2,586.6 1058.4,590.9 1060.1,586.3 1061,584.8 1062.1,580.1 1063,590.2 1064.4,579 1065.2,584.6 1066.9,584 1068,578.6 1068.7,578.9 1069.5,580.7 1071.4,579.6 1072,575.6 1073.4,562 1074.7,556.8 1075.8,559.8 1077,554.5 1077.8,559.8 1079.2,554.1 1080,550.4 1080.9,553.8 1082.2,549.8 1083.2,542.3 1084.7,539.5 1085.9,539.1 1086.4,531.2 1087.5,530.3 1088.9,520.4 1090,520.8 1091.6,516.8 1092.7,511.1 1093.9,508.5 1094.8,507.5 1095.8,502.7 1096.6,495.1 1097.8,491.5 1098.6,486 1100.5,492.5 1101.1,484.7 1102,481.6 1103.3,474.4 1104.5,473.1 1105.9,468.2 1106.4,460.9 1107.7,458.8 1109.5,458.5 1110.5,443.8 1111.5,441.9 1112.5,444.7 1113.3,435.7 1115,436 1116.1,424.2 1117,426.5 1117.8,425.8 1118.9,419.3 1120.2,415.9 1121.3,407.4 1122.1,403.9 1123.6,398.5 1124.7,396.3 1125.7,405.7 1126.9,384.5 1128,388.7 1129.1,374.8 1130.5,365.7 1131.5,365.4 1132.3,365 1134,357.9 1134.9,354.6 1135.9,352.6 1137.3,348 1138.4,345.6 1139.6,332.4 1140.7,334 1141.7,326.5 1142.9,327.9 1143.5,324.5 1145.1,320.2 1145.8,315.1 1146.9,309.7 1147.9,308.8 1149.3,308 1150.1,305.6 1151.8,288.9 1153,292.6 1154.1,288.1 1154.7,278.4 1156.2,273.2 1157.5,269.8 1157.9,272 1159.2,254.4 1160.4,257.3 1161.7,250.7 1162.5,249.9 1164,248.3 1164.9,243.2 1166.3,228.6 1167.3,223.6 1168.6,220.4 1169.3,221.2 1170.8,216.7 1172,208.5 1173.1,210.3 1173.6,198.7 1175.5,193 1176.3,184 1177.2,190.6 1178.4,194.5 1179.6,193.5 1180.7,202.8 1181.6,189.1 1182.7,185.6 1184,179 1185.4,178.4 1186.3,177.5 1187,178.1 1188.5,174.4 1189.4,170.1 1190.4,180 1192.3,175.9 1192.8,179.7 1194.2,166.2 1195.1,167.2 1196,169.3 1197.9,177.2 1199,171 1199.5,172.6 1200.8,171 1201.9,172 1202.8,168.8 1204.4,172.7 1205.6,167.3 1206.7,170.1 1207.7,172.6 1208.3,172 1209.6,173.8 1210.9,168.8 1212.2,174 1213.1,171.9 1214.2,175.4 1215.7,180.6 1216.1,170.5 1217.4,179.4 1218.6,172.4 1220.3,174.2 1220.8,183.3 1221.7,180.7 1223.2,179.5 1224.5,181.6 1225.2,183.5 1226.9,176.4 1227.4,181.1 1229,180 1229.7,184.3 1231.4,183.6 1231.9,189 1233.5,188.6 1234.7,188.2 1235.3,191.7 1236.3,195.9 1237.9,202 1238.9,199 1240,200.8 1241.4,206.7 1242.2,211 1243.4,208.2 1244.5,202.7 1245.6,217.8 1246.7,218.5 1247.6,221.4 1248.8,238.6 1249.9,231.1 1251,238.8 1252.6,235.8 1253.1,244.8 1254.3,251.5 1255.7,254.4 1256.6,256.4 1257.7,263.7 1258.9,266.3 1260.2,276.5 1261.4,276.1 1262.8,276.2 1263.8,274.1 1264.6,281.7 1265.7,286.8 1266.8,285.8 1267.8,289.1 1269.5,290.8 1269.9,294.2 1271.1,302.5 1272.6,304.8 1273.7,307.9 1274.5,309.6 1276.2,314.6 1276.9,320.5 1278.2,329.5 1278.8,325 1280.7,335.7 1281.1,327.8 1282.5,331.8 1284,343.5 1285.2,336.8 1286.3,339.3 1287.3,345.9 1287.9,341 1288.8,343 1290.3,361.1 1291.1,353.9 1293,362.8 1293.3,363.7 1294.7,366.1 1295.7,376.5 1296.7,379 1298.2,385 1299,387 1300.8,390.2 1301.7,399 1302.6,400 1304.1,398 1305.2,404.3 1305.9,404.6 1307.5,419.5 1308.7,418.6 1309.5,420.3 1310.4,420.5 1312,428.1 1313.2,425 1313.7,431 1314.6,433.2 1316.4,438.4 1317.4,438.1 1318.1,445.2 1319.5,442.2 1320.4,447.5 1322.1,453.3 1322.7,455.4 1323.7,456 1324.7,456.4 1326.1,460.3 1327.7,467 1328.2,465.9 1329.5,472.5 1331.1,471.4 1331.3,477.5 1332.7,489.5 1334.3,478.4 1334.8,484.8 1336.6,494.4 1337.7,492.5 1338.2,496.5 1339.7,486.9 1340.8,496.1 1342,507.5 1342.8,500 1344,506.4 1345,498.4 1346.1,513.5 1347.2,520.6 1348.9,514 1350,517.8 1350.7,519.3 1352.1,529.4 1353,520 1354,516.3 1355.2,533.8 1356.8,523.4 1357.4,531.9 1358.7,521.6 1360.2,532.3 1360.7,535.9 1362.3,533 1362.8,536.3 1364.4,543.9 1365.6,540.2 1366.8,547.3 1368,554.7 1368.9,539.6 1370.3,551.9 1370.8,553.8 1372.1,551.7 1372.9,561.1 1373.9,561.6 1375.4,559.9 1376.7,561.9 1377.9,560.9 1378.4,556.9 1380.3,566.2 1380.8,562.7 1382,563.7 1383.6,572.9 1384.7,568.6 1385.7,574.8 1386.5,567 1387.7,571 1389.2,574.5 1389.8,581.1 1391.4,576.5 1392.5,581.5 1393.3,576 1394.8,581.1 1395.5,584.8 1396.9,578.8 1397.9,580.6 1398.8,587.1 1400.1,580.8 1401.3,588.3 1402.3,589.3 1403.1,588.1 1405,593.7 1406.1,593.3 1406.3,592.4 1408.3,586.8 1409,587.6 1409.8,595.9 1411.5,589.3 1412.3,597.1 1413.7,596.4 1414.9,595.2 1415.7,598.5 1416.4,589.8 1418.2,600.6 1419.2,607.5 1420.6,597.7 1421.1,605.5 1422.7,606.1 1423.9,618.5 1424.5,601.7 1425.7,603.2 1426.8,603.9 1427.6,603.7 1428.9,603 1430.1,609.6 1431,606.8 1432.7,613.3 1433.6,612.4 1434.8,608.3 1435.7,610.9 1436.8,617.2 1438.3,612.1 1439.2,614.2 1440.4,616.8 1441.4,612.9 1442.6,616.1 1444,620.4 1444.6,619 1445.9,609.8 1447.2,621.1 1447.8,615.4 1449.7,614.6 1450.4,614.7 1451.3,621.2 1452.9,618.5 1454,617.2 1455,615.2 1456.4,620.3 1456.7,622.1 1458.3,615.2 1459.6,615.1 1460.8,617.7 1461.7,621.2 1462.8,618 1463.7,619.1 1465,616.9 1466.1,624 1467.5,619.7 1468.6,620.8 1469.6,624.1 1470.9,619.8 1471.3,620.5 1473,622.2 1473.9,619.6 1475.2,625.9 1476,621.4 1477.2,620 1478.7,620.6 1479.1,618 1480.4,625.8 1481.7,627 1483.2,621.4 1483.8,620.7 1485.4,615.3 1486,620.4 1487.2,625.6 1488.5,620.1 1489.7,625.8 1491,628.1 1492.1,614.5 1492.7,622.2 1494.3,621.1 1495.3,621.7 1496.2,617.6 1497.6,622.9 1498.9,619.9 1499.6,627.5 1501.1,628.9 1501.5,619.5 1502.7,619.4 1504.3,622.8 1505.1,623.8 1506.4,624.2 1507.5,627.1 1508.3,619.7 1509.9,622.8 1511,623.4 1511.6,623.9 1512.8,621.8 1514.5,623.7 1515.7,623 1516.8,629.5 1517.5,624 1518.5,618.4 1519.7,627.6 1520.6,626.3 1522,623 1522.9,622.9 1524,624 1525.3,631.7 1526.1,624.6 1527.6,630.4 1528.9,629.2 1530,624.7 1531.4,627.6 1532.4,624 1533.3,616.2 1534.7,624.2 1535.4,624.5 1536.8,630 1537.5,629.2 1538.8,630.7 1540.4,629 1541.1,630.9 1542.2,629.5 1543.5,628.1 1544.2,630.8 1545.8,632.3 1546.2,632.1 1547.5,626.1 1548.6,627.5 1549.8,624.4 1551.5,624.4 1551.8,629.1 1553.2,625.8 1554.5,632.9 1555.8,620.5 1557,624.2 1557.7,629 1558.7,632.3 1560.4,627.2 1560.8,634.8 1561.9,631.2" fill="none" stroke="none" marker-start="url(#my)" marker-mid="url(#my)" marker-end="url(#my)"/>
<polyline points="1019.8,565.5 1020.4,565.4 1020.9,565.3 1021.5,565.2 1022,565.2 1022.6,565.1 1023.2,565 1023.7,564.9 1024.3,564.8 1024.8,564.7 1025.4,564.6 1026,564.5 1026.5,564.4 1027.1,564.3 1027.6,564.2 1028.2,564.1 1028.8,563.9 1029.3,563.8 1029.9,563.7 1030.4,563.6 1031,563.5 1031.6,563.3 1032.1,563.2 1032.7,563.1 1033.2,563 1033.8,562.8 1034.4,562.7 1034.9,562.6 1035.5,562.4 1036,562.3 1036.6,562.1 1037.2,562 1037.7,561.9 1038.3,561.7 1038.8,561.6 1039.4,561.4 1040,561.3 1040.5,561.1 1041.1,561 1041.6,560.8 1042.2,560.7 1042.7,560.5 1043.3,560.3 1043.9,560.2 1044.4,560 1045,559.9 1045.5,559.7 1046.1,559.5 1046.7,559.4 1047.2,559.2 1047.8,559 1048.3,558.9 1048.9,558.7 1049.5,558.5 1050,558.4 1050.6,558.2 1051.1,558 1051.7,557.8 1052.3,557.6 1052.8,557.4 1053.4,557.2 1053.9,557 1054.5,556.8 1055.1,556.6 1055.6,556.4 1056.2,556.2 1056.7,556 1057.3,555.8 1057.9,555.5 1058.4,555.3 1059,555.1 1059.5,554.9 1060.1,554.6 1060.7,554.4 1061.2,554.2 1061.8,553.9 1062.3,553.7 1062.9,553.4 1063.5,553.2 1064,552.9 1064.6,552.7 1065.1,552.4 1065.7,552.2 1066.2,551.9 1066.8,551.7 1067.4,551.4 1067.9,551.1 1068.5,550.9 1069,550.6 1069.6,550.3 1070.2,550.1 1070.7,549.8 1071.3,549.5 1071.8,549.3 1072.4,549 1073,548.7 1073.5,548.5 1074.1,548.2 1074.6,547.9 1075.2,547.6 1075.8,547.4 1076.3,547.1 1076.9,546.8 1077.4,546.5 1078,546.3 1078.6,546 1079.1,545.7 1079.7,545.5 1080.2,545.2 1080.8,544.9 1081.4,544.6 1081.9,544.3 1082.5,544.1 1083,543.8 1083.6,543.5 1084.2,543.2 1084.7,542.9 1085.3,542.6 1085.8,542.3 1086.4,542.1 1086.9,541.8 1087.5,541.5 1088.1,541.2 1088.6,540.9 1089.2,540.6 1089.7,540.3 1090.3,540 1090.9,539.7 1091.4,539.4 1092,539.1 1092.5,538.8 1093.1,538.4 1093.7,538.1 1094.2,537.8 1094.8,537.5 1095.3,537.2 1095.9,536.9 1096.5,536.5 1097,536.2 1097.6,535.9 1098.1,535.6 1098.7,535.2 1099.3,534.9 1099.8,534.6 1100.4,534.2 1100.9,533.9 1101.5,533.6 1102.1,533.2 1102.6,532.9 1103.2,532.5 1103.7,532.2 1104.3,531.8 1104.9,531.5 1105.4,531.1 1106,530.8 1106.5,530.4 1107.1,530 1107.7,529.7 1108.2,529.3 1108.8,528.9 1109.3,528.6 1109.9,528.2 1110.4,527.8 1111,527.4 1111.6,527 1112.1,526.6 1112.7,526.2 1113.2,525.8 1113.8,525.4 1114.4,525 1114.9,524.6 1115.5,524.2 1116,523.8 1116.6,523.4 1117.2,523 1117.7,522.5 1118.3,522.1 1118.8,521.7 1119.4,521.3 1120,520.8 1120.5,520.4 1121.1,519.9 1121.6,519.5 1122.2,519.1 1122.8,518.6 1123.3,518.2 1123.9,517.7 1124.4,517.3 1125,516.8 1125.6,516.3 1126.1,515.9 1126.7,515.4 1127.2,514.9 1127.8,514.5 1128.4,514 1128.9,513.5 1129.5,513.1 1130,512.6 1130.6,512.1 1131.1,511.6 1131.7,511.1 1132.3,510.7 1132.8,510.2 1133.4,509.7 1133.9,509.2 1134.5,508.7 1135.1,508.2 1135.6,507.7 1136.2,507.2 1136.7,506.7 1137.3,506.2 1137.9,505.8 1138.4,505.3 1139,504.8 1139.5,504.3 1140.1,503.8 1140.7,503.3 1141.2,502.7 1141.8,502.2 1142.3,501.7 1142.9,501.2 1143.5,500.7 1144,500.2 1144.6,499.7 1145.1,499.2 1145.7,498.7 1146.3,498.1 1146.8,497.6 1147.4,497.1 1147.9,496.6 1148.5,496 1149.1,495.5 1149.6,495 1150.2,494.4 1150.7,493.9 1151.3,493.3 1151.9,492.8 1152.4,492.3 1153,491.7 1153.5,491.1 1154.1,490.6 1154.6,490 1155.2,489.5 1155.8,488.9 1156.3,488.3 1156.9,487.8 1157.4,487.2 1158,486.6 1158.6,486 1159.1,485.4 1159.7,484.8 1160.2,484.2 1160.8,483.6 1161.4,483 1161.9,482.4 1162.5,481.8 1163,481.2 1163.6,480.6 1164.2,479.9 1164.7,479.3 1165.3,478.7 1165.8,478 1166.4,477.4 1167,476.7 1167.5,476.1 1168.1,475.4 1168.6,474.8 1169.2,474.1 1169.8,473.4 1170.3,472.7 1170.9,472 1171.4,471.3 1172,470.6 1172.6,469.8 1173.1,469.1 1173.7,468.4 1174.2,467.6 1174.8,466.9 1175.4,466.1 1175.9,465.3 1176.5,464.5 1177,463.8 1177.6,463 1178.1,462.2 1178.7,461.4 1179.3,460.6 1179.8,459.8 1180.4,459 1180.9,458.1 1181.5,457.3 1182.1,456.5 1182.6,455.7 1183.2,454.8 1183.7,454 1184.3,453.1 1184.9,452.3 1185.4,451.5 1186,450.6 1186.5,449.8 1187.1,448.9 1187.7,448 1188.2,447.2 1188.8,446.3 1189.3,445.4 1189.9,444.6 1190.5,443.7 1191,442.8 1191.6,441.9 1192.1,441 1192.7,440.1 1193.3,439.2 1193.8,438.3 1194.4,437.3 1194.9,436.4 1195.5,435.5 1196.1,434.5 1196.6,433.6 1197.2,432.6 1197.7,431.7 1198.3,430.7 1198.8,429.8 1199.4,428.8 1200,427.8 1200.5,426.9 1201.1,425.9 1201.6,424.9 1202.2,423.9 1202.8,422.9 1203.3,421.9 1203.9,420.9 1204.4,419.9 1205,418.9 1205.6,417.9 1206.1,416.8 1206.7,415.8 1207.2,414.8 1207.8,413.8 1208.4,412.7 1208.9,411.7 1209.5,410.6 1210,409.5 1210.6,408.4 1211.2,407.3 1211.7,406.2 1212.3,405.1 1212.8,403.9 1213.4,402.8 1214,401.7 1214.5,400.5 1215.1,399.4 1215.6,398.2 1216.2,397 1216.8,395.9 1217.3,394.7 1217.9,393.6 1218.4,392.4 1219,391.2 1219.6,390.1 1220.1,388.9 1220.7,387.7 1221.2,386.6 1221.8,385.4 1222.3,384.3 1222.9,383.2 1223.5,382 1224,380.9 1224.6,379.8 1225.1,378.7 1225.7,377.6 1226.3,376.5 1226.8,375.4 1227.4,374.4 1227.9,373.3 1228.5,372.2 1229.1,371.2 1229.6,370.1 1230.2,369.1 1230.7,368 1231.3,367 1231.9,365.9 1232.4,364.9 1233,363.9 1233.5,362.8 1234.1,361.8 1234.7,360.8 1235.2,359.7 1235.8,358.7 1236.3,357.7 1236.9,356.7 1237.5,355.7 1238,354.6 1238.6,353.6 1239.1,352.6 1239.7,351.7 1240.3,350.7 1240.8,349.7 1241.4,348.7 1241.9,347.7 1242.5,346.8 1243,345.8 1243.6,344.8 1244.2,343.9 1244.7,343 1245.3,342 1245.8,341.1 1246.4,340.2 1247,339.3 1247.5,338.3 1248.1,337.4 1248.6,336.5 1249.2,335.6 1249.8,334.7 1250.3,333.7 1250.9,332.8 1251.4,331.9 1252,331 1252.6,330.1 1253.1,329.2 1253.7,328.3 1254.2,327.4 1254.8,326.5 1255.4,325.6 1255.9,324.7 1256.5,323.9 1257,323.1 1257.6,322.2 1258.2,321.4 1258.7,320.7 1259.3,319.9 1259.8,319.1 1260.4,318.4 1261,317.7 1261.5,317 1262.1,316.4 1262.6,315.7 1263.2,315.1 1263.8,314.5 1264.3,313.9 1264.9,313.3 1265.4,312.7 1266,312.1 1266.5,311.6 1267.1,311 1267.7,310.5 1268.2,309.9 1268.8,309.4 1269.3,308.9 1269.9,308.4 1270.5,307.9 1271,307.5 1271.6,307 1272.1,306.6 1272.7,306.2 1273.3,305.8 1273.8,305.4 1274.4,305.1 1274.9,304.7 1275.5,304.4 1276.1,304.1 1276.6,303.8 1277.2,303.5 1277.7,303.2 1278.3,302.9 1278.9,302.6 1279.4,302.3 1280,302.1 1280.5,302 1281.1,301.8 1281.7,301.8 1282.2,301.7 1282.8,301.7 1283.3,301.8 1283.9,301.8 1284.5,301.8 1285,301.9 1285.6,301.9 1286.1,302.1 1286.7,302.2 1287.3,302.4 1287.8,302.6" fill="none" stroke="none" marker-start="url(#mk)" marker-mid="url(#mk)" marker-end="url(#mk)"/>
<polyline points="928.5,608.9 929.1,603.7 929.7,601.9 930,604.8 930.1,603.4 930.1,606.3 930.2,606.2 930.2,606.9 930.3,602.8 930.6,604.3 930.7,605.8 930.8,606 931,603.7 931.5,604.2 931.6,607.1 931.7,600.7 931.7,604.3 931.8,604.9 932,601.2 933.1,602.1 933.3,604.8 934.3,603 934.7,607 934.9,605.9 935,609.9 935.4,601.1 935.4,608.9 935.7,602.4 935.8,606.1 935.9,606.5 936.1,604.5 936.4,603.2 936.8,602.3 937.1,599.3 937.1,602.8 937.2,601.5 937.3,605.2 937.8,601.8 937.9,603.2 937.9,604.7 938.4,603.7 938.7,603.5 938.7,602.9 938.8,602.4 939.2,604.5 939.4,605.1 939.7,601.3 940.6,607.2 940.7,604.5 940.7,599.1 940.9,609.7 941.2,604.6 941.3,601.1 941.3,606.9 941.4,596.3 941.6,609.2 941.7,599.1 942.2,598.7 942.3,600.3 942.7,603.1 942.7,601.6 942.9,604.7 942.9,600.4 943,605.2 943.2,603.1 943.4,599.8 944.1,605 944.3,603.1 944.3,601.7 944.4,605.5 944.8,599.1 945.1,601.1 945.2,605.7 945.6,602 945.9,603.7 946.1,603.4 946.4,601.5 946.5,603.4 946.5,599.2 946.6,603.4 946.6,599.2 947.2,601.6 947.3,599.3 947.4,602.8 948.1,602.6 948.2,604.2 948.2,599.8 948.6,598.8 948.6,595.9 948.6,598 948.6,600.6 948.8,601.7 948.9,600.1 949,601.2 949.2,597.4 949.2,598.7 949.6,603 949.8,602.6 950,597.4 950.4,600 950.5,601.3 950.9,597.7 951,601.6 951.4,601.3 951.5,601.7 951.9,605.3 953,598 953.3,603.1 953.7,601.5 953.8,601.9 954,598.2 954.4,600.1 954.5,599.8 954.7,604 954.8,600 955,603.4 955.5,598.9 955.6,598.7 955.7,599.6 956.3,594.4 956.4,598.1 956.4,597.9 956.4,599.1 956.7,599.8 956.9,596.9 957,596.5 957.5,602.4 957.9,596.5 958.1,597.8 958.2,596.6 958.5,597.8 958.8,602 959.1,601.8 959.3,594.2 959.4,598.1 959.8,602.2 959.9,597.8 960.2,599.5 960.7,603.1 960.8,604.2" fill="none" stroke="none" marker-start="url(#mk)" marker-mid="url(#mk)" marker-end="url(#mk)"/>
<polyline points="1260.7,319.1 1261.8,317.2 1263,315.3 1264.1,313.4 1265.2,311.5 1266.3,309.6 1267.4,307.8 1268.6,305.9 1269.7,304.1 1270.8,302.3 1271.9,300.5 1273,298.7 1274.2,296.9 1275.3,295.2 1276.4,293.5 1277.5,291.8 1278.6,290.1 1279.8,288.4 1280.9,286.8 1282,285.2 1283.1,283.6 1284.2,282 1285.3,280.4 1286.5,278.8 1287.6,277.2 1288.7,275.6 1289.8,274 1290.9,272.4 1292.1,270.7 1293.2,269.1 1294.3,267.4 1295.4,265.7 1296.5,264 1297.7,262.3 1298.8,260.5 1299.9,258.8 1301,257 1302.1,255.3 1303.3,253.5 1304.4,251.7 1305.5,249.9 1306.6,248.2 1307.7,246.4 1308.8,244.7 1310,243 1311.1,241.3 1312.2,239.6 1313.3,238 1314.4,236.4 1315.6,234.8 1316.7,233.2 1317.8,231.7 1318.9,230.2 1320,228.7 1321.2,227.2 1322.3,225.8 1323.4,224.3 1324.5,222.9 1325.6,221.5 1326.8,220.1 1327.9,218.7 1329,217.3 1330.1,216 1331.2,214.6 1332.3,213.3 1333.5,211.9 1334.6,210.6 1335.7,209.3 1336.8,208 1337.9,206.7 1339.1,205.4 1340.2,204.2 1341.3,202.9 1342.4,201.7 1343.5,200.4 1344.7,199.2 1345.8,198 1346.9,196.8 1348,195.6 1349.1,194.4 1350.3,193.2 1351.4,192 1352.5,190.9 1353.6,189.7 1354.7,188.6 1355.8,187.5 1357,186.3 1358.1,185.2 1359.2,184.2 1360.3,183.1 1361.4,182 1362.6,181 1363.7,179.9 1364.8,178.9 1365.9,177.9 1367,176.9 1368.2,175.9 1369.3,174.9 1370.4,173.9 1371.5,173 1372.6,172 1373.7,171 1374.9,170.1 1376,169.2 1377.1,168.2 1378.2,167.3 1379.3,166.4 1380.5,165.5 1381.6,164.6 1382.7,163.7 1383.8,162.8 1384.9,162 1386.1,161.1 1387.2,160.2 1388.3,159.3 1389.4,158.4 1390.5,157.5 1391.7,156.6 1392.8,155.8 1393.9,155 1395,154.2 1396.1,153.4 1397.2,152.7 1398.4,152 1399.5,151.4 1400.6,150.8 1401.7,150.2 1402.8,149.6 1404,149 1405.1,148.4 1406.2,147.9 1407.3,147.3 1408.4,146.8 1409.6,146.3 1410.7,145.8 1411.8,145.3 1412.9,144.8 1414,144.4 1415.2,143.9 1416.3,143.5 1417.4,143.1 1418.5,142.7 1419.6,142.4 1420.7,142.1 1421.9,141.8 1423,141.5" fill="none" stroke="#7f7f7f" stroke-width="1.6"/>
<g font-family="'Liberation Sans', Arial, sans-serif" fill="#000"><text x="705.5" y="650.7" font-size="36" text-anchor="end">0.0</text>
<text x="705.5" y="411.2" font-size="36" text-anchor="end">0.5</text>
<text x="705.5" y="171.7" font-size="36" text-anchor="end">1.0</text>
<text x="1659.5" y="650.5" font-size="36">0</text>
<text x="1659.5" y="546.3" font-size="36">100</text>
<text x="1659.5" y="442.1" font-size="36">200</text>
<text x="1659.5" y="337.9" font-size="36">300</text>
<text x="1659.5" y="233.7" font-size="36">400</text>
<text x="1659.5" y="129.5" font-size="36">500</text>
<text x="734.8" y="691.5" font-size="36" text-anchor="middle">0</text>
<text x="958.6" y="691.5" font-size="36" text-anchor="middle">20</text>
<text x="1182.4" y="691.5" font-size="36" text-anchor="middle">40</text>
<text x="1406.2" y="691.5" font-size="36" text-anchor="middle">60</text>
<text x="1630" y="691.5" font-size="36" text-anchor="middle">80</text>
<text x="1182.8" y="737" font-size="36" text-anchor="middle">elution time, min</text>
<text transform="translate(640.5 348.7) rotate(-90)" font-size="36" text-anchor="middle">UV /LS/ SAXS, relative</text>
<text transform="translate(1757.5 378) rotate(-90)" font-size="36" text-anchor="middle">Rg, nm</text>
<text x="794" y="134.5" font-size="37">UV</text>
<text x="794" y="179" font-size="37">LS, 90°</text>
<text x="794" y="223.3" font-size="37">Rg</text>
<text x="794" y="267.6" font-size="37">Rg (extrapolated)</text>
<text x="794" y="311.8" font-size="37">SAXS (integrated)</text>
<text x="794" y="356.1" font-size="37">SAXS (Bragg area)</text>
</g><circle cx="763.6" cy="124.2" r="7.7" fill="none" stroke="#7030a0" stroke-width="5"/>
<circle cx="763.6" cy="168.7" r="7.7" fill="none" stroke="#00b0f0" stroke-width="5"/>
<circle cx="763.6" cy="213.0" r="10.2" fill="#000"/>
<path d="M754.2 255.00000000000003H779.6" stroke="#000" stroke-width="2.6"/>
<circle cx="763.6" cy="301.5" r="10.2" fill="#ffc000"/>
<circle cx="763.6" cy="345.8" r="10.2" fill="#00b050"/>
<polyline points="100,1070.1 108.6,1068.7 116.7,1070.4 124.5,1072.2 131.8,1073.4 138.9,1075.2 145.6,1081.1 152.1,1080.9 158.3,1083.8 164.2,1086.4 170,1087.6 175.5,1089.1 180.8,1091.4 186,1095.1 191,1095.9 195.8,1094.9 200.5,1101.1 205.1,1104.3 209.5,1104.3 213.8,1106.5 218,1109.4 222.1,1114.2 226.1,1114.1 229.9,1119.1 233.7,1122.1 237.4,1123.8 241,1125.4 244.5,1126.4 248,1128.5 251.4,1131.3 254.7,1131.7 257.9,1134.5 261,1134.9 264.1,1139.6 267.2,1141.3 270.2,1139.3 273.1,1143.8 276,1143.5 278.8,1144.6 281.6,1146.4 284.3,1147.7 286.9,1146.3 289.6,1153.6 292.2,1149.7 294.7,1149 297.2,1153.8 299.7,1155.2 302.1,1155.5 304.5,1155.3 306.8,1161.5 309.1,1161 311.4,1163 313.7,1163.3 315.9,1165.4 318.1,1166.1 320.2,1169.5 322.4,1170.2 324.4,1172.9 326.5,1174.4 328.6,1175 330.6,1176.4 332.6,1179.8 334.5,1176.2 336.5,1180.7 338.4,1184.5 340.3,1181 342.1,1185.9 344,1184.7 345.8,1187 347.6,1187.7 349.4,1189 351.2,1191.8 352.9,1191.6 354.6,1188.6 356.3,1199.2 358,1195 359.7,1195.3 361.3,1199.8 363,1201.7 364.6,1194.6 366.2,1201.4 367.8,1196.7 369.3,1201.7 370.9,1204.6 372.4,1204.2 373.9,1205.4 375.5,1205.7 376.9,1207.7 378.4,1210.8 379.9,1213.2 381.3,1209.1 382.8,1217.2 384.2,1214.2 385.6,1215 387,1215.8 388.4,1219.8 389.8,1229.5 391.1,1229.5 392.5,1228.1 393.8,1220.7 395.1,1229.8 396.5,1228 397.8,1260.3 399.1,1235.4 400.3,1221.7 401.6,1223.6 402.9,1244.3 404.1,1233.5 405.4,1244.5 406.6,1241.4 407.8,1274 409,1246.9 410.2,1235.5 411.4,1238.4 412.6,1235.1 413.8,1248 414.9,1243.3 416.1,1297.1 417.3,1260.3 418.4,1259.7 419.5,1249.3 420.7,1244.5 421.8,1263.8 422.9,1253.7 424,1248.5 425.1,1239.5 426.2,1251.8 427.2,1248.9 428.3,1229.7 429.4,1259.4 430.4,1247.6 431.5,1269.5 432.5,1269.9 433.5,1258.3 434.6,1260 435.6,1251.2 436.6,1259.6 437.6,1245.8 438.6,1249.4 439.6,1261.6 440.6,1268.9 441.6,1267.6 442.6,1265 443.5,1263.1 444.5,1262.6 445.5,1255.5 446.4,1261.6 447.4,1255.6 448.3,1258.8 449.2,1249.4 450.2,1262.8 451.1,1276.2 452,1267.2 452.9,1273.8 453.8,1258.1 454.7,1280.1 455.6,1265.4 456.5,1273.6 457.4,1271.7 458.3,1268.9 459.2,1264.2 460,1259.6 460.9,1262.6 461.8,1274.7 462.6,1238 463.5,1284.7 464.3,1275.7 465.2,1279.4 466,1266 466.8,1267.8 467.7,1289 468.5,1355.3 469.3,1282.1 470.1,1278 470.9,1281.7 471.7,1279.6 472.6,1279.9 473.4,1286.2 474.1,1289 474.9,1293 475.7,1340.4 476.5,1281.1 477.3,1280.2 478.1,1275.8 478.8,1354 479.6,1280.1 480.4,1297.3 481.1,1292.6 481.9,1297.4 482.6,1288 483.4,1289.5 484.1,1292.2 484.9,1286.9 485.6,1314.7 486.4,1276.6 487.1,1281.5 487.8,1296.1 488.5,1301.3 489.3,1292.7 490,1289.7 490.7,1282.2 491.4,1302.3 492.1,1303.8 492.8,1293.3 493.5,1299.5 494.2,1295.5 494.9,1297.4 495.6,1335.2 496.3,1301.9 497,1284.6 497.7,1298.4 498.4,1312.3 499,1302.1 499.7,1289.3 500.4,1303.2 501.1,1338.8 501.7,1302.7 502.4,1307.8 503,1299.3 503.7,1292 504.4,1300.1 505,1309.2 505.7,1295.3 506.3,1301.5 506.9,1305.9 507.6,1316.1 508.2,1288.6 508.9,1300.5 509.5,1350.4 510.1,1311 510.8,1298.1 511.4,1300.6 512,1322.1 512.6,1312.8 513.2,1300.8 513.9,1311 514.5,1310.3 515.1,1302 515.7,1305.1 516.3,1301.1 516.9,1267.6 517.5,1303.1 518.1,1305.7 518.7,1314.4 519.3,1324.6 519.9,1305.7 520.5,1323.1 521.1,1311.1 521.7,1322.6 522.2,1316.6 522.8,1309.7 523.4,1320.8 524,1320.3 524.5,1321.4 525.1,1322.9 525.7,1318.4 526.3,1276.9 526.8,1310.5 527.4,1330.4 528,1327.7 528.5,1322.7 529.1,1308.7 529.6,1305.9 530.2,1321.9 530.7,1327.3 531.3,1336.4 531.8,1321.9 532.4,1350 532.9,1326.1 533.5,1334.3 534,1332 534.5,1316.4 535.1,1322.2 535.6,1326.2 536.2,1320.4 536.7,1337.7 537.2,1320.2 537.7,1339.7 538.3,1311.2 538.8,1315 539.3,1316.9 539.8,1318.3 540.4,1325.2 540.9,1343 541.4,1344.2 541.9,1317.9 542.4,1331.6 542.9,1334.4 543.4,1344.9 543.9,1323.1 544.4,1345.5 545,1315.4 545.5,1324.9 546,1326.2 546.5,1326.1 547,1329.2 547.4,1334.4 547.9,1335.8 548.4,1333.8 548.9,1335.9 549.4,1340.5 549.9,1352.1 550.4,1344.1 550.9,1324.1 551.4,1346.9 551.8,1336.3 552.3,1329 552.8,1336.4 553.3,1416 553.8,1337.8 554.2,1329.6 554.7,1344.5 555.2,1339 555.6,1319.7 556.1,1337.9 556.6,1352.1 557,1345.1 557.5,1325.2 558,1346.1 558.4,1352.6 558.9,1332.4 559.4,1400.9 559.8,1330.9 560.3,1345.7 560.7,1351.6 561.2,1337.1 561.6,1327 562.1,1330 562.5,1353.9 563,1324 563.4,1354 563.9,1355.8 564.3,1403.1 564.8,1352.3 565.2,1319.4 565.6,1342.6 566.1,1340.1 566.5,1349.5 567,1335.4 567.4,1338.5 567.8,1373.2 568.3,1374.6 568.7,1329.8 569.1,1372.6 569.6,1502.5 570,1342.2 570.4,1372.3 570.8,1375.5 571.3,1346.5 571.7,1367.3 572.1,1345.1 572.5,1361.7 573,1354.8 573.4,1339.4 573.8,1336.2 574.2,1360 574.6,1361.5 575,1289.6 575.5,1345.1 575.9,1369.8 576.3,1374.6 576.7,1393.6 577.1,1342.2 577.5,1342.5 577.9,1337 578.3,1350 578.7,1371.6 579.1,1340.6 579.5,1362.9 579.9,1347.8 580.3,1366.1 580.7,1332.8 581.1,1381.5 581.5,1369.7 581.9,1293.3 582.3,1420.6 582.7,1351.3 583.1,1357.9 583.5,1365.9 583.9,1349 584.3,1411.1 584.7,1380.3 585.1,1377.2 585.5,1379.4 585.9,1455.9 586.2,1386 586.6,1340.2 587,1395.4 587.4,1337.4 587.8,1398.9 588.2,1386.5 588.5,1357.3 588.9,1384.7 589.3,1391 589.7,1355.2 590,1369.2 590.4,1334.6 590.8,1411 591.2,1340.1 591.5,1377 591.9,1333.4 592.3,1363 592.7,1397.1 593,1359.8 593.4,1391.1 593.8,1366.4 594.1,1437.6 594.5,1393.4 594.9,1349.5 595.2,1374.6 595.6,1404.8 596,1402 596.3,1372.9 596.7,1355.7 597,1371.5 597.4,1307.9 597.8,1363.3 598.1,1361.2 598.5,1357.3 598.8,1345.9 599.2,1390.3 599.5,1347.7 599.9,1389.1 600.2,1360.7 600.6,1417.3 600.9,1375.9 601.3,1374.2 601.6,1303.2 602,1378.2 602.3,1398.8 602.7,1388 603,1395.9 603.4,1405.2 603.7,1390.3 604.1,1418.2 604.4,1377 604.8,1340.9 605.1,1395.2 605.4,1386 605.8,1400 606.1,1347.3 606.5,1443.6 606.8,1393.9 607.1,1394.4 607.5,1355.8 607.8,1348.9 608.1,1365.5 608.5,1372.4 608.8,1351.3 609.1,1356.2 609.5,1359.3 609.8,1345.6 610.1,1355.1 610.5,1346.1 610.8,1364.8 611.1,1496.3 611.5,1403.4 611.8,1390.3 612.1,1429 612.4,1359.1 612.8,1355.1 613.1,1354.8 613.4,1416.6 613.7,1407.6 614.1,1397.1 614.4,1391.3 614.7,1426.6 615,1403.1 615.3,1367.2 615.7,1413.9 616,1396.7 616.3,1372.8 616.6,1367.8 616.9,1364.9 617.3,1391.1 617.6,1423.3 617.9,1457.7 618.2,1362.4 618.5,1359.6 618.8,1370.5 619.1,1362.8 619.4,1357.7 620.1,1383.5 620.4,1394.4 620.7,1367.7 621,1425.8 621.3,1394.3 621.6,1356.7 621.9,1414.1 622.2,1378.3 622.5,1382.9 622.8,1367.7 623.1,1387.3 623.4,1372.6 623.7,1374 624,1361.2 624.4,1307.3 624.7,1365.9 625,1371.5 625.3,1388.5 625.6,1360.5 625.9,1317.6 626.2,1386 626.4,1410.6 626.7,1395.4 627,1391.6 627.3,1399.9 627.6,1411.2 627.9,1369.5 628.2,1373.1 628.5,1409.8 628.8,1387.2 629.1,1422.6 629.4,1439 629.7,1397.6 630,1465.8 630.3,1365.6 630.6,1431.8 630.9,1378.4 631.1,1420.9 631.4,1429.7 631.7,1434.8 632,1351.8 632.3,1356 632.6,1354.4 632.9,1374.8 633.1,1425.7 633.4,1409.7 633.7,1362.2 634,1354.5 634.3,1453.6 634.6,1411 634.8,1349.3 635.1,1405.9 635.4,1370.2 635.7,1374.6 636,1359.5 636.3,1436.9 636.5,1389.1 636.8,1415.2 637.1,1364.7 637.4,1388.6 637.6,1407.1 637.9,1420.4 638.2,1437.8 638.5,1371.4 638.7,1376 639,1388.9 639.6,1431.4 639.8,1385.8 640.1,1392.2 640.4,1398.5 640.7,1412.4 640.9,1383.4 641.2,1345.2 641.5,1421.2 641.7,1460.9 642,1422.8 642.3,1376.4 642.6,1375.7 642.8,1408.8 643.1,1435.8 643.4,1392 643.6,1396 643.9,1397.8 644.2,1485 644.4,1382.1 644.7,1440.3 644.9,1316.6 645.2,1380.9 645.5,1443.4 645.7,1353.6 646,1430 646.3,1346.5 646.5,1404.2 646.8,1391.5 647,1399 647.3,1453 647.6,1304 647.8,1346.1 648.1,1363.5 648.3,1431.4 648.6,1359.8 648.9,1351.2 649.1,1371.5 649.4,1457.9 649.6,1319.8 649.9,1368.4 650.1,1419.6 650.4,1389.9 650.7,1410.3 650.9,1451.8 651.2,1428.7 651.4,1411.8 651.7,1460.4 651.9,1398.9 652.2,1410.4 652.4,1300.3 652.7,1453.7 652.9,1430.6 653.2,1382 653.4,1391.4 653.7,1344.2 653.9,1381.6 654.2,1435.7 654.4,1408.3 654.9,1426.1 655.2,1417.7 655.4,1439.2 655.7,1401.3 655.9,1422.8 656.2,1406.7 656.4,1400.3 656.7,1433.8 656.9,1352.2 657.1,1462.7 657.4,1462.4 657.6,1443.6 657.9,1409.4 658.1,1400.6 658.4,1403.2 658.6,1409.3 658.8,1376.7 659.1,1450.5 659.3,1453.4 659.6,1408.4 659.8,1456.4 660,1381.9 660.3,1454.3 660.5,1462.3 660.8,1430 661,1465.9 661.2,1439.9 661.5,1441.4 661.7,1320 662,1358.9 662.2,1357.8 662.4,1445.8 662.7,1378.4 662.9,1430.8 663.1,1368.8 663.4,1444.2 663.6,1463.7 663.8,1423.5 664.1,1355 664.3,1442.4 664.5,1409.5 664.8,1460.7 665,1367.7 665.2,1386.4 665.5,1466.1 665.7,1457.5 665.9,1310.1 666.2,1412.8 666.4,1433.8 666.6,1469.5 666.8,1499.2 667.1,1359.3 667.3,1367.1 667.5,1341.3 667.8,1367.4 668,1351.3 668.2,1403 668.7,1450.6 668.9,1399.8 669.1,1378.4 669.4,1463.6 669.6,1469 669.8,1483.4 670,1349.7 670.3,1428.2 670.5,1431.9 670.9,1374.8 671.1,1469.4 671.4,1421.9 671.6,1350.2 671.8,1401.6 672,1445.6 672.3,1377.8 672.5,1454.1 672.7,1375.4 672.9,1414.3 673.1,1391.7 673.4,1370.7 673.6,1463.8 673.8,1399.1 674,1449.9 674.2,1465.9 674.5,1396.4 674.7,1345.8 674.9,1425.3 675.1,1384.4 675.3,1466.8 675.5,1370 675.8,1444.6 676,1344.4 676.2,1388.1 676.4,1380.5 676.6,1466.9 676.8,1430.1 677.1,1434 677.3,1360.3 677.5,1397.2 677.7,1469.5 677.9,1434.4 678.1,1453.9 678.3,1424.4 678.6,1391.6 678.8,1476.5 679.2,1375 679.4,1450.6 679.6,1363.3 679.8,1464.1 680,1441.2 680.2,1405.7 680.5,1429.5 680.7,1417.3 680.9,1365.3 681.1,1360.5 681.3,1498.5 681.5,1355.4 681.7,1331.3 681.9,1410.7 682.1,1434.4 682.3,1425.3 682.5,1382.3 682.8,1465.4 683,1455.4 683.4,1454.2 683.6,1383 683.8,1467.8 684,1436.7 684.2,1379.6 684.4,1450.2 684.6,1435.6 684.8,1433.4 685,1428.9 685.2,1451.3 685.4,1451.9 685.6,1441.9 685.8,1364.2 686,1391.9 686.2,1487.9 686.4,1410.7 686.6,1442.7 686.8,1375.9 687,1439.1 687.2,1437.2 687.4,1461.6 687.6,1478.2 687.8,1424 688,1397.2 688.2,1378 688.4,1407.1 688.6,1413.4 688.8,1487.6 689,1432.5 689.2,1452.1 689.4,1454.2 689.6,1359.7 689.8,1383.9 690,1430.2 690.2,1363.7 690.4,1371.8 690.6,1335.2 690.8,1448.9 691,1375.2 691.2,1364.9 691.4,1467.7 691.6,1428.6 692,1459 692.2,1502.7 692.4,1500.6 692.6,1367.1 692.8,1464.7 693,1423.1 693.2,1387.3 693.4,1431.4 693.6,1357.3 693.9,1374.1 694.1,1456.1 694.3,1454.6 694.5,1393.2 694.7,1396.8 694.9,1469.9 695.1,1413.4 695.3,1414.9 695.5,1490.1 695.7,1439.3 695.9,1429.7 696,1442.3 696.2,1359.4 696.4,1408.4 696.6,1463.4 696.8,1448.2 697.2,1410.2 697.4,1427.6 697.6,1394.4 697.7,1388.3 697.9,1371.9 698.1,1394.8 698.3,1375.9 698.7,1421.8 698.9,1464.9 699.1,1476.3 699.2,1433.3 699.4,1501.3 699.6,1428.7 699.8,1409.5 700,1434.4 700.2,1458 700.4,1334.1 700.5,1474.8 700.7,1370.5 700.9,1455.4 701.1,1369.1 701.3,1327.4 701.5,1485.3 701.6,1462.3 701.8,1384 702,1419 702.2,1387.7 702.4,1445.2 702.6,1462.3 702.7,1467.3 702.9,1327.9 703.1,1443 703.3,1397.8 703.5,1488.1 703.8,1364 704,1446.2 704.2,1458.9 704.4,1321.5 704.6,1336.3 704.7,1354.1 704.9,1454.7 705.1,1361.4 705.5,1480.2 705.6,1367 705.8,1463 706,1426.3 706.2,1421.8 706.3,1439 706.5,1419.1 706.7,1488.1 706.9,1330.7 707.1,1420.9 707.2,1381.9 707.4,1432.5 707.6,1500 707.8,1491.6 707.9,1372.5 708.1,1411.6 708.3,1338.3 708.5,1425.4 708.6,1376.3 708.8,1389.3 709,1435.4 709.2,1469.8 709.3,1461.6 709.5,1457.6 709.7,1464.2 710,1390.5 710.2,1418.1 710.4,1391.8 710.6,1425 710.7,1425.7 710.9,1414.4 711.1,1338.3 711.2,1483.8 711.4,1499 711.6,1446.6 711.8,1401.6 711.9,1423.3 712.1,1480.7 712.3,1449.7 712.5,1475.3 712.6,1466.6 712.8,1506.6 713,1458.1 713.1,1377.6 713.3,1443.2 713.6,1382.9 713.8,1369.4 714,1379.9 714.2,1367.6 714.3,1337.7 714.5,1475 714.7,1450.2 714.8,1474.3 715,1445.8 715.2,1412 715.3,1472.7 715.5,1386.7 715.7,1418.8 715.8,1429.4 716,1457.3 716.3,1449.4 716.5,1463 716.7,1410.1 716.8,1460 717,1480.3 717.2,1333.9 717.3,1476.8 717.5,1440.9 717.8,1448.4 718,1390.7 718.2,1397.2 718.3,1395.9 718.5,1451.5 718.7,1461.8 718.8,1457.2 719,1388.8 719.1,1414.7 719.3,1387.7 719.5,1459.9 720,1407 720.1,1492.8 720.3,1435.5 720.5,1499.8 720.6,1412.4 720.8,1390.8 720.9,1472.6 721.1,1494.4 721.3,1382.4 721.4,1485.4 721.6,1454.3 721.7,1491.8 721.9,1504.5 722.1,1435.9 722.2,1498.6 722.4,1386 722.6,1428.2 722.7,1437.7 722.9,1398.7 723,1434.9 723.2,1477.8 723.5,1433.1 723.7,1335.1 723.8,1393 724,1468.5 724.1,1410.9 724.3,1446.1 724.5,1447.3 724.6,1473.4 724.8,1502.1 724.9,1498.1 725.1,1443.7 725.3,1407.4 725.4,1406.8 725.6,1479.9 725.7,1479.4 725.9,1477.9 726,1484.4 726.2,1454.2 726.4,1488.1 726.5,1468.6 726.7,1457.9 726.8,1483.4 727,1457.1 727.1,1489.1 727.3,1496.5 727.4,1420.8 727.6,1470.3 727.8,1422.2 727.9,1442.8 728.1,1494.2 728.4,1497.7 728.5,1481.1 728.7,1484.8 728.8,1492.8 729,1464.2 729.1,1408.5 729.3,1368.3 729.4,1478.3 729.6,1474.1 729.8,1475.5 729.9,1449.4 730.1,1471.8 730.2,1487 730.5,1462.7 730.7,1403 730.8,1451.9 731.1,1443.4 731.4,1389.2 731.6,1468.3 731.7,1374.6 731.9,1484 732,1392.2 732.2,1475.3 732.3,1416.7 732.5,1334.6 732.6,1397.6 732.8,1387.3 732.9,1465.4 733.1,1476.7 733.2,1423.5 733.4,1439.2 733.5,1468.3 733.7,1409.4 733.8,1429.9 734,1450.7 734.1,1419.1 734.3,1390.2 734.4,1501.6 734.6,1386.4 734.9,1492.2 735,1436.6 735.2,1503.1 735.5,1455.1 735.6,1423.1 735.8,1417.8 735.9,1493.8 736.1,1375.6 736.3,1373.3 736.5,1461 736.6,1406.5 736.8,1320.7 737.1,1479.3 737.2,1376.9 737.4,1411.1 737.5,1438.2 737.7,1473.9 737.8,1367.6 738,1489.5 738.1,1485.6 738.4,1395.1 738.7,1486.2 738.8,1444.6 739,1401 739.1,1363.2 739.3,1397.6 739.4,1474.9 739.7,1422.4 739.8,1506.6 740.1,1452.7 740.3,1424.5 740.5,1425.7 740.7,1485.1 740.8,1342.7 741,1401.2 741.1,1440.8 741.3,1500.2 741.4,1463.1 741.5,1380.5 741.7,1432.3 741.8,1434.3 742,1366.3 742.1,1504.8 742.2,1495.5 742.4,1382.6 742.5,1447 742.7,1415.6 742.8,1398.9 743,1413.3 743.1,1371.7 743.2,1465.1 743.4,1425.1 743.5,1468.6 743.7,1486.2 743.8,1459.5 743.9,1419.8 744.1,1384 744.2,1467.7 744.4,1476.8 744.5,1482.5 744.6,1392.5 744.9,1496.9 745,1459.3 745.2,1385.3 745.3,1472.4 745.5,1342 745.6,1466.9 745.7,1452.3 746,1376.5 746.2,1506 746.3,1505.3 746.6,1487.6 746.7,1409.3 747,1453.9 747.1,1481.2 747.4,1390.6 747.5,1502.8 747.7,1471.2 747.8,1397.2 747.9,1425.9 748.1,1393.3 748.2,1434.8 748.5,1427 748.6,1422.6 748.7,1488.2 748.9,1380.2 749,1381.6 749.2,1469.8 749.3,1336.5 749.4,1458.8 749.6,1490.9 749.7,1456.2 749.8,1382.3 750,1403.8 750.1,1457.9 750.4,1469.3 750.5,1471.4 750.6,1452.5 750.9,1460.4 751,1364.7 751.2,1428.8 751.3,1488.3 751.4,1401 751.6,1333.6 751.7,1476.8 751.8,1395.5 752,1501.3 752.1,1405 752.2,1337.5 752.4,1413.5 752.5,1461.8 752.6,1502.5 752.8,1484.7 752.9,1435.1 753,1405.2 753.2,1453.7 753.3,1456.9 753.5,1429.1 753.7,1504.2 753.8,1449.8 754.1,1462.5 754.2,1437.8 754.3,1505.8 754.5,1443.5 754.6,1361 754.7,1392.6 754.9,1398.2 755,1498.8 755.2,1423.5 755.5,1402.4 755.6,1458.5 755.8,1503.4 755.9,1504.3 756,1394.8 756.1,1440.2 756.3,1410.3 756.4,1472.8 756.5,1410.8 756.7,1400.1 756.8,1411.3 756.9,1394.1 757.1,1473 757.2,1413.5 757.3,1434.6 757.4,1414.8 757.6,1429.7 757.7,1417.2 757.8,1423.2 757.9,1474.8 758.1,1400.4 758.2,1464.4 758.3,1418.8 758.5,1383 758.6,1383.6 758.7,1498.3 758.8,1375.7 759,1411.9 759.1,1483 759.2,1376.8 759.3,1397.7 759.5,1412.9 759.6,1488.4 759.7,1377.2 759.8,1503.9 760,1383.2 760.1,1448.5 760.2,1479.8 760.5,1444.9 760.6,1433.8 760.7,1411.6 760.9,1500.3 761,1429.8 761.1,1463.9 761.2,1450.3 761.5,1407.6 761.6,1397.2 761.7,1499.5 761.9,1447.9 762,1462.3 762.1,1463 762.2,1486.6 762.3,1492.7 762.5,1473.5 762.6,1369.9 762.7,1487.2 762.8,1372 763,1493.5 763.1,1372.1 763.2,1480.6 763.3,1470 763.5,1371.2 763.6,1341.1 763.7,1458.8 763.8,1392.1 764,1499.8 764.1,1448.7 764.2,1440.9 764.4,1397.2 764.6,1395.4 764.7,1494.1 764.8,1400.2 764.9,1493.6 765.1,1387.8 765.2,1488.4 765.3,1433.3 765.4,1460.8 765.5,1455.7 765.7,1435.3 765.8,1446.5 765.9,1466 766,1388.1 766.1,1501.1 766.3,1491.9 766.4,1406.2 766.5,1415.7 766.6,1425.8 766.8,1489.1 766.9,1449.3 767,1411.1 767.1,1484 767.2,1397.8 767.4,1475 767.6,1385.4 767.7,1348.3 767.8,1452.3 768.1,1422 768.2,1441 768.3,1502.2 768.4,1395.2 768.6,1495.9 768.7,1422.6 768.8,1413.4 769,1342.3 769.1,1415.8 769.3,1404.2 769.4,1471.9 769.6,1407.5 769.7,1445 769.9,1417.1 770,1493.4 770.1,1423.6 770.2,1458.9 770.3,1498.8 770.4,1402.9 770.6,1501.5 770.7,1451.1 770.8,1467.1 770.9,1413 771,1475 771.2,1471.6 771.3,1454.9 771.5,1440.8 771.6,1364.9 771.7,1503.1 771.9,1456.2 772,1457.3 772.1,1457 772.2,1369.2 772.3,1413.1 772.4,1380.6 772.6,1468.5 772.7,1497.9 772.8,1467.6 772.9,1500 773,1341 773.1,1369.4 773.2,1432.2 773.4,1397.6 773.5,1412.6 773.6,1407.6 773.7,1394.2 773.8,1461.7 773.9,1455.8 774.3,1406.2 774.4,1503.7 774.5,1481.9 774.6,1449.4 774.9,1448.3 775,1370.4 775.1,1393.5 775.2,1419 775.3,1475.6 775.4,1452.8 775.5,1467 775.7,1365.1 775.8,1406.7 775.9,1456.2 776,1465.7 776.1,1433.3 776.2,1398.3 776.3,1427.6 776.5,1479.7 776.6,1483.4 776.8,1504.6 776.9,1374.1 777,1403.1 777.1,1342.4 777.2,1337.8 777.4,1453.1 777.5,1464.5 777.6,1506.6 777.7,1426.5 777.8,1404.2 777.9,1427.6 778,1456.6 778.1,1394.7 778.3,1377.3 778.4,1480.4 778.6,1498.4 778.7,1424.5 778.8,1432.9 778.9,1483.9 779.1,1423 779.3,1500.2 779.4,1462.9 779.5,1399.8 779.6,1340.9 779.7,1366.5 779.8,1434 779.9,1344.3 780,1484.7 780.3,1476.2 780.4,1468.2 780.5,1448.4 780.6,1458.5 780.7,1435.9 780.8,1460.2 780.9,1441.1 781,1504.4 781.1,1395.4 781.2,1497 781.4,1474.9 781.5,1367.6 781.6,1466.8 781.7,1426.8 781.8,1454.5 781.9,1444.5 782,1473.4 782.1,1448.9 782.2,1471.5 782.3,1404.3 782.5,1378.2 782.6,1473.8 782.8,1385.9 782.9,1506.5 783,1435.1 783.1,1466.3 783.2,1413.7 783.3,1475 783.4,1448.1 783.5,1478.4 783.6,1417.8 783.8,1422.5 783.9,1468.1 784.2,1460.2 784.4,1394.8 784.5,1479.3 784.6,1405.3 784.7,1384.6 784.8,1428.6 784.9,1448.3 785,1452.6 785.3,1400.2 785.4,1468 785.6,1414.7 785.7,1483 785.8,1473.4 785.9,1477.9 786.1,1495.3 786.4,1445.5 786.6,1412.1 786.8,1425.2 786.9,1464.3 787,1373.3 787.1,1476.2 787.2,1424.9 787.3,1478 787.4,1475.3 787.5,1457.3 787.6,1378 787.7,1455.1 787.8,1422.5 787.9,1471.3 788,1466.9 788.1,1441 788.2,1477 788.3,1393.3 788.4,1488.2 788.6,1502.3 788.8,1485 788.9,1435.7 789.2,1407.4 789.3,1453 789.4,1502.7 789.5,1467 789.6,1491.2 789.7,1376.3 789.8,1506.6 789.9,1502.1 790,1449.5 790.1,1494.3 790.2,1401.8 790.3,1422.8 790.4,1389.9 790.5,1472.1 790.6,1502 790.8,1379 790.9,1484.1 791,1459.1 791.1,1400.1 791.2,1495.4 791.3,1454 791.4,1372 791.6,1427.8 791.7,1459.3 791.9,1405 792,1460 792.1,1388.7 792.2,1501 792.3,1370.9 792.4,1506.1 792.5,1454.9 792.6,1486.9 792.7,1472.9 792.9,1432.5 793,1404.8 793.1,1416.4 793.2,1386.9 793.3,1413 793.4,1474.7 793.5,1449.5 793.6,1458.5 793.7,1449.6 793.9,1492.5 794,1406.7 794.1,1463.9 794.2,1502.5 794.3,1411 794.4,1477 794.5,1473.5 794.6,1464.4 794.7,1453 794.8,1476.5 794.9,1430 795.1,1451.8 795.2,1427.6 795.3,1461.4 795.4,1479 795.5,1506.6 795.6,1471.4 795.7,1443.7 795.8,1433.3 795.9,1441 796,1413.1 796.1,1461.9 796.2,1485.5 796.3,1451.1 796.4,1400.9 796.5,1373.6 796.6,1505.3 796.8,1473.6 796.9,1506.6 797.1,1458.1 797.2,1505.6 797.3,1428.2 797.4,1503.6 797.5,1472.3 797.6,1385.5 797.7,1487.3 797.8,1400.3 798,1386.6 798.1,1478.4 798.2,1391.8 798.3,1450.4 798.4,1426.5 798.5,1495.3 798.6,1405.4 798.7,1475.5 798.9,1386.3 799,1472.5 799.1,1380.4 799.2,1480.9 799.3,1490.9 799.4,1393.2 799.5,1504.6 799.6,1338.7 799.7,1427.4 799.9,1436.4 800,1404.5 800.1,1423.3 800.3,1437 800.4,1451.9 800.5,1459.4 800.6,1489.1 800.7,1373.2 800.8,1482.8 801,1428.7 801.1,1437.2 801.3,1431.5 801.4,1426 801.5,1493.8 801.6,1445 801.8,1418.1 801.9,1473.7 802,1427.3 802.1,1484.2 802.2,1446.1 802.3,1502.8 802.4,1452.5 802.5,1487.8 802.6,1433.2 802.7,1472.4 802.8,1411.9 802.8,1460.1 802.9,1469.4 803,1403.5 803.1,1455.6 803.4,1444.4 803.5,1486.9 803.6,1440.6 803.7,1374.1 803.8,1452.1 803.9,1440.4 804.1,1470.2 804.3,1439 804.4,1498.9 804.5,1491.6 804.6,1397.9 804.7,1465.9 804.7,1349.1 805,1414.9 805.3,1420 805.4,1475 805.5,1429.3 805.6,1469.5 805.7,1486.8 805.8,1476.3 805.9,1386.1 806,1384.2 806.2,1458.9 806.3,1391.5 806.3,1400.3 806.4,1454.6 806.5,1404.5 806.6,1503.4 806.7,1405.4 806.9,1483.4 807,1453.8 807.1,1467.6 807.2,1473.1 807.3,1419.1 807.4,1443 807.5,1383.5 807.6,1385.1 807.6,1505.6 807.7,1499.7 807.8,1477 808,1468.4 808.1,1475.3 808.2,1432 808.3,1439.8 808.4,1478.3 808.5,1354.5 808.6,1450.1 808.7,1413.6 808.8,1445.8 808.8,1454.7 808.9,1447 809,1504.7 809.1,1500.5 809.3,1485 809.4,1445.5 809.5,1409.9 809.6,1486.3 809.7,1388.4 809.8,1464.5 809.9,1466.1 809.9,1376.3 810,1395.1 810.2,1491.6 810.3,1427.8 810.4,1453.4 810.5,1466.6 810.6,1460.2 810.7,1442.6 810.8,1456.3 810.9,1485 810.9,1486 811,1463.5 811.1,1472.1 811.3,1354.5 811.4,1488 811.5,1411.7 811.6,1439.2 811.7,1503.8 811.8,1341.3 811.9,1477.8 812,1470.3 812.1,1486.5 812.2,1492 812.3,1485.9 812.4,1444.6 812.5,1452.9 812.6,1409.2 812.7,1389.8 812.8,1493.8 812.8,1380.3 812.9,1506.5 813,1409.1 813.1,1476.7 813.2,1441.8 813.3,1453.7 813.4,1483.8 813.5,1410.3 813.6,1484.5 813.6,1484.5 813.7,1462.2 813.8,1451.7 813.9,1432.2 814.1,1433.2 814.2,1416.6 814.3,1457.2 814.5,1459.6 814.6,1424.7 814.7,1473.3 814.8,1455.9 814.9,1489.9 815,1489.5 815.1,1468.6 815.2,1469.9 815.4,1463 815.5,1396.1 815.6,1467.8 815.7,1492.7 815.8,1433.5 815.9,1400.7 815.9,1426.6 816,1479.6 816.1,1406.1 816.2,1380.7 816.3,1506.6 816.5,1501.8 816.6,1486.4 816.6,1484.2 816.7,1456.4 816.8,1474.9 816.9,1482.3 817,1426.1 817.1,1403.4 817.2,1467.6 817.3,1462.6 817.4,1427.2 817.5,1434.4 817.6,1390.7 817.7,1372.7 817.8,1389.6 817.9,1455.7 818,1505.6 818,1388.7 818.1,1403.4 818.3,1420.9 818.4,1380.7 818.5,1498.9 818.6,1396.4 818.6,1439.1 818.7,1483.7 818.8,1492.5 818.9,1503.8 819,1457.7 819.1,1401.8 819.2,1351.6 819.2,1465.3 819.3,1452.4 819.4,1421.3 819.5,1405.9 819.6,1430.1 819.7,1411.1 819.8,1431.9 819.9,1429.1 819.9,1486.6 820,1445 820.1,1492.3 820.2,1457.8 820.3,1431.9 820.4,1500.6 820.4,1468.1 820.5,1496 820.6,1406.2 820.7,1505.4 820.8,1475.7 820.9,1431.6 821,1408.2 821,1393.4 821.1,1380.8 821.2,1400.9 821.3,1423 821.4,1457.7 821.5,1437.3 821.6,1387.7 821.6,1395 821.7,1384.7 821.8,1376.2 821.9,1427.6 822,1466.5 822.1,1405.7 822.1,1499.9 822.2,1506.6 822.3,1458.4 822.4,1376.3 822.5,1403.7 822.7,1504 822.8,1481.4 822.9,1494.3 823,1388.8 823.1,1444 823.2,1443.1 823.2,1405.4 823.3,1347.4 823.4,1458.6 823.6,1386.9 823.7,1421.3 823.7,1398 823.8,1415.3 823.9,1408.4 824,1430.9 824.1,1502.1 824.2,1419.9 824.2,1457.7 824.3,1402.3 824.4,1402.5 824.5,1419.8 824.6,1454.1 824.7,1425 824.7,1419.7 824.8,1450.5 824.9,1385.5 825.1,1386.1 825.2,1439.8 825.3,1385.5 825.4,1380.6 825.5,1444 825.6,1466.1 825.7,1435.7 825.7,1408.2 825.8,1466.8 826,1423.4 826.1,1464.9 826.1,1481.5 826.2,1458 826.3,1430.5 826.4,1461.4 826.5,1448 826.6,1396.2 826.6,1506.3 826.7,1396.2 826.8,1480.1 826.9,1445.1 827,1490.7 827,1449.1 827.1,1485.8 827.2,1447.1 827.3,1416.7 827.4,1487.5 827.5,1480.1 827.5,1446.7 827.6,1504.7 827.7,1471.4 827.8,1494.3 827.9,1400.7 828,1484.2 828.2,1429.8 828.3,1461.7 828.4,1501.8 828.4,1476.5 828.5,1418.1 828.6,1419.5 828.8,1386.2 828.9,1412.4 829,1454.1 829.1,1405.7 829.2,1459.3 829.2,1473.2 829.3,1392.6 829.5,1503.9 829.6,1384.1 829.6,1396.7 829.7,1478.1 829.8,1468.9 829.9,1346.4 830,1495.8 830,1408.8 830.1,1374.8 830.2,1491.5 830.4,1421.9 830.4,1455.6 830.5,1387.6 830.6,1417.1 830.7,1457 830.8,1498.3 830.8,1431.9 830.9,1388.9 831,1390.4 831.1,1420.6 831.2,1352.5 831.2,1478.6 831.3,1478.3 831.4,1494.1 831.5,1467.5 831.6,1473.6 831.6,1459.9 831.7,1464.6 831.8,1477.7 832,1413.8 832,1461.8 832.2,1407.6 832.3,1506.3 832.4,1441.9 832.4,1354.6 832.5,1409.5 832.6,1445.3 832.7,1385.3 832.7,1453.1 832.9,1357.4 833,1475.3 833.1,1454.8 833.1,1419 833.2,1484.3 833.3,1440.8 833.5,1453 833.6,1486.4 833.7,1471 833.8,1401.1 833.8,1486.1 833.9,1444.2 834.1,1460.8 834.2,1479.5 834.2,1385.3 834.3,1392.2 834.4,1418.1 834.5,1412.3 834.6,1394.4" fill="none" stroke="none" marker-start="url(#mcg)" marker-mid="url(#mcg)" marker-end="url(#mcg)"/>
<polyline points="100,1064.4 108.6,1067 116.7,1067.5 124.5,1069.7 131.8,1070.4 138.9,1073.7 145.6,1075.9 152.1,1076.2 158.3,1080.3 164.2,1083.8 170,1084.1 175.5,1086 180.8,1089 186,1090.5 191,1091.6 195.8,1095.4 200.5,1097.3 205.1,1100.2 209.5,1101.6 213.8,1104.8 218,1108.3 222.1,1110.2 226.1,1110.8 229.9,1117.3 233.7,1119.5 237.4,1120 241,1124.2 244.5,1122.6 248,1128.5 251.4,1130.1 254.7,1130.9 257.9,1130.7 261,1132.5 264.1,1134.3 267.2,1136 270.2,1136.2 273.1,1141.4 276,1140.1 278.8,1140 281.6,1144.5 284.3,1144 286.9,1144.2 289.6,1145.4 292.2,1148.6 294.7,1147.3 297.2,1150.5 299.7,1151.1 302.1,1155.5 304.5,1156.6 306.8,1158.1 309.1,1156 311.4,1163.5 313.7,1164.3 315.9,1161.9 318.1,1164.4 320.2,1170.9 322.4,1168.2 324.4,1169.6 326.5,1168.7 328.6,1175.3 330.6,1174.4 332.6,1173.2 334.5,1175.1 336.5,1179.4 338.4,1179.6 340.3,1183.2 342.1,1179.3 344,1183.9 345.8,1181.9 347.6,1184 349.4,1188.5 351.2,1188.2 352.9,1187.8 354.6,1189.3 356.3,1188.2 358,1190.1 359.7,1192.9 361.3,1193.2 363,1197.3 364.6,1198.2 366.2,1196.5 367.8,1198.1 369.3,1202.6 370.9,1200.9 372.4,1201.6 373.9,1203.6 375.5,1200.6 376.9,1207.2 378.4,1205.8 379.9,1207.1 381.3,1211.7 382.8,1203.5 384.2,1215.4 385.6,1217.1 387,1207.9 388.4,1216 389.8,1214.8 391.1,1217.4 392.5,1212.1 393.8,1229 395.1,1216.2 396.5,1224.6 397.8,1222.4 399.1,1239.8 400.3,1250.9 401.6,1218.8 402.9,1219.7 404.1,1238.5 405.4,1224.1 406.6,1221.7 407.8,1229.1 409,1239.7 410.2,1229.1 411.4,1238.9 412.6,1235.7 413.8,1226.3 414.9,1226.9 416.1,1245.9 417.3,1228.1 418.4,1249 419.5,1239 420.7,1229.8 421.8,1249 422.9,1229.5 424,1229.2 425.1,1230.3 426.2,1239.5 427.2,1246.8 428.3,1261.9 429.4,1249.6 430.4,1234.9 431.5,1232.9 432.5,1251.1 433.5,1263.7 434.6,1248.3 435.6,1236.4 436.6,1239 437.6,1233 438.6,1242.2 439.6,1243.4 440.6,1234.2 441.6,1243.4 442.6,1258.2 443.5,1238 444.5,1247.7 445.5,1244.7 446.4,1250.7 447.4,1268.9 448.3,1243.9 449.2,1238.8 450.2,1258.4 451.1,1259.3 452,1254.8 452.9,1264.6 453.8,1248.2 454.7,1278.4 455.6,1241 456.5,1256 457.4,1243.4 458.3,1237.5 459.2,1255.4 460,1246.3 460.9,1262.1 461.8,1253.8 462.6,1314.2 463.5,1252.3 464.3,1251.1 465.2,1260.3 466,1260.9 466.8,1263 467.7,1257.2 468.5,1256.3 469.3,1279 470.1,1275.9 470.9,1347.7 471.7,1266 472.6,1248.7 473.4,1296.2 474.1,1260 474.9,1267.9 475.7,1254.8 476.5,1259.6 477.3,1258.8 478.1,1264.3 478.8,1268.6 479.6,1278.5 480.4,1256 481.1,1286.3 481.9,1290.8 482.6,1260.2 483.4,1258.6 484.1,1273.8 484.9,1266.3 485.6,1261.8 486.4,1272.5 487.1,1266.2 487.8,1295.7 488.5,1281.8 489.3,1260.5 490,1300.5 490.7,1268.2 491.4,1285.3 492.1,1285.5 492.8,1273.3 493.5,1285.1 494.2,1271.7 494.9,1287.9 495.6,1269.5 496.3,1276.9 497,1375.7 497.7,1265.3 498.4,1332.1 499,1276.5 499.7,1273.7 500.4,1276.5 501.1,1294 501.7,1268.1 502.4,1329 503,1283.4 503.7,1278.8 504.4,1279 505,1274.7 505.7,1296.1 506.3,1289.1 506.9,1309.1 507.6,1276.7 508.2,1266.7 508.9,1300.3 509.5,1295.4 510.1,1296.7 510.8,1274.8 511.4,1312.6 512,1284.2 512.6,1269.5 513.2,1277 513.9,1271.9 514.5,1292.6 515.1,1279.6 515.7,1276.1 516.3,1271 516.9,1282.1 517.5,1295.5 518.1,1287.4 518.7,1275.5 519.3,1318.6 519.9,1318.2 520.5,1278.7 521.1,1302.6 521.7,1278.5 522.2,1287.1 522.8,1396 523.4,1285.6 524,1318.9 524.5,1278.8 525.1,1295.3 525.7,1288.7 526.3,1283.9 526.8,1328.5 527.4,1290.4 528,1283.5 528.5,1266.8 529.1,1289.2 529.6,1283.9 530.2,1283.6 530.7,1293.8 531.3,1286.8 531.8,1294.6 532.4,1281.7 532.9,1281.4 533.5,1288.5 534,1340.9 534.5,1288.7 535.1,1283.8 535.6,1289.9 536.2,1287.3 536.7,1322.8 537.2,1307.1 537.7,1309.4 538.3,1288.4 538.8,1283.7 539.3,1314.5 539.8,1301 540.4,1289.1 540.9,1405.4 541.4,1333 541.9,1320.3 542.4,1298.1 542.9,1293.8 543.4,1292.7 543.9,1293.2 544.4,1304.8 545,1304.1 545.5,1285.9 546,1311.7 546.5,1325.5 547,1410.9 547.4,1293.1 547.9,1289.6 548.4,1297.1 548.9,1340.2 549.4,1294.4 549.9,1321.6 550.4,1266.7 550.9,1289.2 551.4,1334.6 551.8,1303.3 552.3,1342.7 552.8,1322.4 553.3,1306.5 553.8,1334.1 554.2,1296.5 554.7,1295.8 555.2,1359.7 555.6,1297.3 556.1,1289.7 556.6,1336.5 557,1335 557.5,1291.4 558,1320.3 558.4,1447.6 558.9,1335.5 559.4,1292.5 559.8,1295.5 560.3,1305.3 560.7,1433.1 561.2,1352.4 561.6,1305 562.1,1358.4 562.5,1321.9 563,1388.7 563.4,1297.2 563.9,1322.7 564.3,1359.1 564.8,1317.6 565.2,1357 565.6,1330.5 566.1,1393.6 566.5,1312.3 567,1304.9 567.4,1305.2 567.8,1339.2 568.3,1321.3 568.7,1352.8 569.1,1299 569.6,1375.4 570,1293.3 570.4,1308.4 570.8,1288.7 571.3,1301.9 571.7,1334.1 572.1,1357.5 572.5,1328.6 573,1495.5 573.4,1346.3 573.8,1363.2 574.2,1420 574.6,1313.7 575,1421.3 575.5,1305.8 575.9,1337 576.3,1313.8 576.7,1300.4 577.1,1311.5 577.5,1312 577.9,1367.6 578.3,1308.5 578.7,1357.8 579.1,1305 579.5,1340.7 579.9,1308.7 580.3,1478.5 580.7,1368.6 581.1,1311.9 581.5,1308.7 581.9,1371.8 582.3,1324.9 582.7,1351.9 583.1,1346.7 583.5,1347.4 583.9,1380 584.3,1421.2 584.7,1304.4 585.1,1300.6 585.5,1358.4 585.9,1311.7 586.2,1356.5 586.6,1309.4 587,1332.9 587.4,1331.1 587.8,1336.8 588.2,1339.2 588.5,1303.9 588.9,1343.3 589.3,1386.4 589.7,1308.5 590,1307.4 590.4,1340.8 590.8,1314.6 591.2,1353.9 591.5,1317 591.9,1413.1 592.3,1314.2 592.7,1397.9 593,1389 593.4,1342.7 593.8,1337.2 594.1,1332.9 594.5,1341.7 594.9,1353.9 595.2,1364.6 595.6,1308.3 596,1383.9 596.3,1314.6 596.7,1384.8 597,1327.3 597.4,1334 597.8,1392.1 598.1,1333.3 598.5,1313.9 598.8,1365.5 599.2,1377.9 599.5,1341.5 599.9,1359.8 600.2,1391.4 600.6,1308.6 600.9,1355.7 601.3,1352.2 601.6,1311.3 602,1320.6 602.3,1332.9 602.7,1461.9 603,1378 603.4,1371.4 603.7,1346.7 604.1,1324.3 604.4,1400.9 604.8,1309.6 605.1,1337.6 605.4,1343.3 605.8,1461.9 606.1,1317.6 606.5,1340.1 606.8,1322.7 607.1,1316.9 607.5,1405 607.8,1389.3 608.1,1333.2 608.5,1375.7 608.8,1323.1 609.1,1402.3 609.5,1365.9 609.8,1350.8 610.1,1444.4 610.5,1344.6 610.8,1300.5 611.1,1385.8 611.5,1320.4 611.8,1408.3 612.1,1355.7 612.4,1405 612.8,1303.2 613.1,1396.3 613.4,1368.1 613.7,1315.5 614.1,1313.9 614.4,1324.7 614.7,1413.8 615,1367.2 615.3,1342 615.7,1339.3 616,1388.2 616.3,1349.1 616.6,1311.6 616.9,1310.8 617.3,1305.7 617.6,1407.5 617.9,1320.3 618.2,1375.6 618.5,1396 618.8,1360.9 619.1,1385.4 619.4,1411.2 619.8,1390.5 620.1,1336.2 620.4,1320.3 620.7,1370.7 621,1416.9 621.3,1460.4 621.6,1355.5 621.9,1381.3 622.2,1345.2 622.5,1383.3 622.8,1317.7 623.1,1417.6 623.4,1420.2 623.7,1388.4 624,1328.3 624.4,1343.8 624.7,1409.3 625,1293.2 625.3,1406.9 625.6,1403.9 625.9,1392.9 626.2,1340.2 626.4,1375.4 626.7,1421.1 627,1394.6 627.3,1406.1 627.6,1412.5 627.9,1370.8 628.2,1387.9 628.5,1386.1 628.8,1437.9 629.1,1323.9 629.4,1329.9 629.7,1412.4 630,1408.2 630.3,1385.5 630.9,1349.4 631.1,1421.4 631.4,1338 631.7,1448.6 632,1433.9 632.3,1379.1 632.6,1474.8 632.9,1359.5 633.1,1427.1 633.4,1318.7 633.7,1344.1 634,1416.5 634.3,1355.8 634.6,1336.7 634.8,1376.8 635.1,1363.3 635.4,1414.8 635.7,1434.3 636,1458.8 636.3,1419.2 636.5,1370.4 636.8,1358.1 637.1,1313.4 637.4,1313 637.6,1419.4 637.9,1335.4 638.2,1342.2 638.5,1399.3 638.7,1346.9 639,1395.3 639.3,1386.1 639.6,1448.9 639.8,1436.5 640.1,1382.6 640.4,1304.1 640.7,1429.3 640.9,1410.2 641.5,1422.9 641.7,1335.1 642,1385 642.3,1400.3 642.6,1447.9 642.8,1441.6 643.1,1436.5 643.4,1445 643.6,1338.8 643.9,1331 644.2,1341.9 644.4,1408.5 644.7,1320.1 644.9,1349.8 645.2,1330.9 645.5,1409.9 645.7,1419.6 646,1353.3 646.3,1356.3 646.5,1454.3 646.8,1383.1 647,1366.3 647.3,1408.2 647.6,1323.4 647.8,1394.2 648.1,1330.3 648.3,1372.7 648.6,1429.8 648.9,1364.4 649.1,1350.8 649.4,1366.3 649.6,1420.9 649.9,1449.2 650.1,1445.2 650.4,1436.4 650.7,1440.6 650.9,1451.9 651.2,1436.6 651.4,1413.4 651.7,1373.3 651.9,1459.2 652.2,1359.9 652.4,1377.6 652.7,1439.3 653.2,1488.6 653.4,1407.4 653.7,1443.5 653.9,1402.9 654.2,1429.8 654.4,1360.5 654.7,1464.4 654.9,1377.7 655.2,1380.3 655.4,1434.4 655.7,1415 655.9,1467.4 656.2,1387.8 656.4,1378 656.7,1451.9 656.9,1414.1 657.1,1490.6 657.4,1451.6 657.6,1406.4 657.9,1439.2 658.1,1359.3 658.4,1404.3 658.6,1422.5 659.1,1424.3 659.3,1401.9 659.6,1463.1 659.8,1361.6 660,1426.4 660.3,1390.6 660.5,1329.4 660.8,1469.4 661,1444.6 661.2,1456 661.5,1346.9 662,1406 662.2,1384.2 662.4,1475.6 662.7,1456.7 662.9,1461.4 663.1,1412.9 663.4,1442.2 663.6,1452.8 663.8,1443.9 664.1,1470.4 664.3,1417.4 664.5,1364.9 664.8,1400 665,1422.5 665.2,1448 665.5,1475.7 665.7,1349.7 665.9,1375.7 666.2,1378.1 666.4,1461.9 666.6,1362.7 666.8,1454.8 667.1,1373.6 667.3,1460.7 667.5,1428.8 667.8,1451.4 668,1465.8 668.2,1470.7 668.4,1359.7 668.7,1461.3 668.9,1454 669.1,1479.3 669.4,1382.1 669.6,1442.4 669.8,1451.2 670,1373.1 670.3,1454.6 670.5,1437.3 670.7,1441.7 670.9,1462.4 671.1,1424.6 671.4,1473.4 671.6,1433.9 671.8,1399.1 672,1415.3 672.3,1400.7 672.5,1473.2 672.7,1450.1 672.9,1438.4 673.1,1466.1 673.4,1442.3 673.6,1425 673.8,1481.1 674,1468.6 674.2,1432.9 674.5,1406.1 674.7,1391.5 674.9,1405 675.1,1464.2 675.3,1390.7 675.5,1472.3 675.8,1463.5 676,1401.5 676.2,1370.5 676.4,1466.6 676.6,1440.1 676.8,1471.3 677.1,1472 677.3,1377.4 677.5,1449.9 677.7,1402.3 677.9,1429 678.3,1464.5 678.6,1312.1 678.8,1386.6 679.2,1427.5 679.4,1413.3 679.6,1458.2 679.8,1379.7 680,1411 680.2,1477 680.5,1418.4 680.7,1331 680.9,1388.3 681.1,1472.3 681.3,1383.8 681.5,1393.4 681.7,1452.8 681.9,1416.2 682.1,1354.1 682.3,1423.7 682.5,1394 682.8,1421.5 683,1440.4 683.2,1439 683.4,1497 683.6,1454 683.8,1393.4 684,1474.8 684.2,1445.4 684.4,1355 684.6,1485.6 684.8,1393.6 685.2,1491.2 685.4,1425.9 685.6,1421 685.8,1469.8 686,1497 686.2,1391 686.4,1474 686.6,1491.2 686.8,1484.7 687,1411.7 687.2,1360 687.4,1430.6 687.6,1452.9 687.8,1394.9 688,1332 688.2,1358.4 688.4,1315.7 688.6,1427.9 688.8,1354 689,1406 689.2,1479.1 689.4,1386.3 689.6,1403.2 689.8,1410.6 690,1442.1 690.2,1325.6 690.4,1399.3 690.6,1475.9 690.8,1447.3 691,1398.5 691.2,1495.4 691.4,1427.9 691.6,1438.3 691.8,1468.9 692,1492.4 692.2,1456.4 692.4,1477.7 692.6,1431.1 692.8,1415.3 693,1473.9 693.2,1453.3 693.4,1434.3 693.6,1383.2 693.7,1441.9 693.9,1365.6 694.1,1474 694.3,1407.5 694.5,1434.9 694.7,1442.6 694.9,1350.7 695.1,1497.4 695.3,1394.6 695.5,1473.3 695.7,1490 695.9,1449.9 696,1421.7 696.2,1373.3 696.4,1336.8 696.6,1430.4 696.8,1427.2 697,1415 697.2,1464.7 697.4,1479.3 697.6,1430.6 697.7,1404.3 697.9,1412.5 698.1,1406.2 698.3,1504.5 698.5,1327.2 698.7,1377.5 698.9,1395 699.1,1485 699.2,1444.3 699.4,1424.4 699.6,1497 699.8,1427.3 700,1440 700.2,1484.6 700.4,1471.5 700.5,1451.2 700.7,1344.9 700.9,1452.3 701.1,1470.5 701.3,1452.9 701.5,1395.2 701.6,1332.3 701.8,1472 702,1444.3 702.2,1446.3 702.4,1480.7 702.6,1417.5 702.7,1408.8 702.9,1435.4 703.1,1419.2 703.3,1463.1 703.5,1474.9 703.7,1452.6 703.8,1499.3 704,1485.4 704.2,1499.2 704.4,1475.9 704.6,1494.2 704.7,1424.1 704.9,1462 705.1,1425.6 705.3,1442.5 705.5,1499.4 705.6,1451 705.8,1459.8 706,1386.4 706.2,1478 706.3,1408 706.5,1438.6 706.7,1409.7 706.9,1465.4 707.1,1410.1 707.2,1453.3 707.4,1439.9 707.8,1487.5 707.9,1453.8 708.1,1463 708.3,1460.5 708.5,1402.3 708.6,1493.7 709,1488 709.2,1366.4 709.5,1422.9 709.7,1380.8 709.9,1499.2 710,1481.8 710.2,1504.6 710.4,1455.9 710.6,1426.8 710.7,1451.3 710.9,1378.5 711.1,1466.5 711.2,1505.2 711.4,1456.3 711.6,1482.7 711.8,1422 711.9,1497.6 712.1,1471 712.3,1407.9 712.5,1471.8 712.6,1475.1 712.8,1496.1 713,1445.3 713.1,1410.3 713.3,1389.3 713.5,1423.8 713.6,1438.4 713.8,1475.9 714,1372.6 714.2,1380.6 714.5,1400.6 714.7,1360.8 714.8,1386.9 715,1470.8 715.2,1461.3 715.3,1497.6 715.5,1393.8 715.7,1463.9 715.8,1381.3 716,1495.5 716.2,1452.6 716.3,1373.8 716.5,1348 716.7,1498.7 716.8,1435.6 717,1504.5 717.2,1396.6 717.3,1448.1 717.5,1338 717.7,1376.8 717.8,1453.2 718,1503.8 718.2,1415.1 718.3,1410.6 718.5,1422.8 718.7,1454.2 718.8,1428.5 719,1461.9 719.3,1383.1 719.5,1502.4 719.6,1481.7 719.8,1471.4 720,1431.1 720.1,1493.2 720.3,1392.5 720.5,1356.2 720.6,1465.7 720.8,1409.9 720.9,1419.3 721.1,1423.4 721.3,1424.1 721.4,1460.4 721.6,1496.1 721.7,1499.8 721.9,1454.1 722.2,1430.8 722.6,1392.6 722.7,1492.2 723,1487.5 723.2,1491 723.4,1457.7 723.5,1496.1 723.7,1489.2 724,1493.6 724.1,1395.7 724.3,1445.4 724.5,1506.2 724.6,1427 724.8,1429.4 724.9,1497.1 725.1,1488.5 725.3,1493.8 725.4,1495.9 725.7,1398.5 725.9,1447 726,1442.4 726.2,1440 726.4,1495.1 726.7,1479.6 726.8,1362.4 727,1443.6 727.1,1502.1 727.3,1455.3 727.4,1416.4 727.6,1392.7 727.8,1406.1 727.9,1385 728.1,1493.1 728.2,1476.2 728.4,1468.3 728.5,1486.7 728.7,1452 728.8,1488.8 729,1485.2 729.1,1481 729.3,1403.1 729.6,1437.9 729.9,1420.7 730.1,1390.8 730.2,1381.3 730.4,1378.8 730.5,1500.2 730.7,1382.4 730.8,1398.6 731,1502.1 731.1,1355.5 731.3,1498.1 731.4,1488 731.6,1500.6 731.7,1479.7 731.9,1420 732.2,1495.8 732.3,1417.3 732.5,1417.1 732.6,1479.3 732.8,1467.9 732.9,1501.4 733.1,1437.4 733.2,1404.1 733.4,1483.7 733.5,1377.5 733.7,1425.2 733.8,1446.6 734.1,1459.6 734.3,1496.1 734.4,1493.8 734.6,1401.8 734.7,1403.4 734.9,1482.5 735,1445.6 735.3,1436.6 735.5,1403.8 735.8,1486.9 735.9,1329.3 736.1,1424.2 736.2,1503.2 736.3,1506.6 736.5,1487.7 736.6,1423.2 736.8,1373.1 736.9,1476.4 737.1,1470.9 737.2,1502.5 737.4,1364.7 737.5,1414.8 737.7,1505 738,1431.6 738.1,1506.3 738.2,1492.3 738.4,1392.2 738.5,1488.3 738.7,1448.4 738.8,1427.3 739,1483.1 739.1,1443.6 739.3,1504.3 739.4,1428 739.5,1418.1 739.7,1378.8 739.8,1503.4 740.1,1380.9 740.4,1403.8 740.5,1409.7 740.7,1475.4 741.3,1437.4 741.4,1439.4 741.7,1480 742,1367.6 742.1,1341.2 742.2,1505.6 742.4,1441.3 742.5,1490.7 742.7,1451.3 743,1348.1 743.1,1489 743.2,1504.6 743.4,1490.5 743.5,1499.1 743.8,1464.9 744.1,1374.1 744.2,1485.5 744.4,1381.5 744.5,1410.8 744.6,1416.9 744.8,1499.7 744.9,1504.3 745.2,1439.3 745.3,1405.9 745.5,1428.5 745.6,1393.2 745.9,1435 746,1405 746.2,1379.9 746.3,1406.4 746.4,1374.5 746.6,1441.3 746.7,1490 746.8,1504.6 747,1418.8 747.1,1400.7 747.2,1430.2 747.4,1367.8 747.5,1491.4 747.7,1428.1 747.8,1433.3 747.9,1497.4 748.1,1500.3 748.2,1503.8 748.3,1457.6 748.5,1431.2 748.6,1381.1 748.7,1504.9 748.9,1375.1 749,1499.2 749.2,1500.7 749.3,1505.6 749.4,1503.5 749.6,1448.3 749.7,1502.3 749.8,1441.7 750,1503.5 750.1,1374.8 750.2,1495.9 750.4,1441.2 750.5,1468.7 750.6,1375.1 750.8,1359.8 750.9,1398.6 751,1420.2 751.2,1426.5 751.3,1471 751.4,1447.5 751.6,1476.9 751.7,1421.9 751.8,1394.5 752,1489.1 752.1,1472.9 752.2,1492.4 752.4,1498.3 752.5,1456 752.6,1416.1 752.8,1406.6 752.9,1447.9 753,1422.3 753.3,1458.4 753.4,1466.1 753.5,1434.8 753.7,1497.2 753.8,1460.5 753.9,1499.3 754.1,1458.1 754.2,1496.8 754.3,1490 754.5,1422 754.6,1432 754.9,1441.7 755,1474.6 755.1,1505.6 755.2,1452.8 755.4,1393.1 755.5,1448.1 755.6,1464.9 755.9,1344.2 756,1425.4 756.1,1395 756.3,1456.3 756.4,1447.9 756.5,1486.4 756.7,1444.2 756.8,1407 756.9,1444.8 757.1,1410.2 757.2,1500.7 757.3,1458.5 757.4,1487.7 757.6,1405.9 757.8,1449.2 757.9,1476.9 758.1,1486.7 758.2,1484.6 758.5,1398.9 758.6,1488 758.8,1498.1 759,1500.1 759.1,1401.4 759.2,1421.5 759.5,1428.3 759.6,1467.7 759.7,1466.6 760,1426.4 760.1,1420.8 760.2,1452.8 760.5,1422.1 760.9,1482.4 761,1394.7 761.1,1469.6 761.4,1493 761.5,1431.5 761.6,1361.4 761.7,1366.9 761.9,1493.4 762,1489.9 762.1,1394.6 762.2,1338.3 762.3,1414.5 762.6,1464.5 762.8,1378.6 763,1488.2 763.1,1505.4 763.3,1499.5 763.5,1444.3 763.6,1375.3 763.7,1443.2 763.8,1458.4 764,1346.8 764.1,1379.3 764.2,1374 764.3,1397.2 764.4,1410.9 764.6,1408.1 764.7,1469.2 764.8,1444.5 764.9,1496.3 765.1,1501.7 765.2,1502 765.3,1492.4 765.5,1459.9 765.8,1347.3 766,1410.5 766.1,1505.9 766.3,1490.2 766.4,1502.8 766.5,1503.2 766.6,1499.2 766.8,1434.1 766.9,1375.8 767,1450.3 767.2,1398.3 767.4,1457.4 767.5,1396.9 767.6,1495 767.7,1498.2 767.8,1389.9 768,1482.7 768.2,1436.9 768.3,1464.8 768.4,1449.6 768.6,1440.8 768.7,1458.2 768.8,1412.4 768.9,1454.6 769,1446 769.3,1443.4 769.4,1504.1 769.5,1476.3 769.6,1503.5 769.7,1502.4 769.9,1502.4 770,1454.6 770.1,1482.2 770.2,1407.4 770.3,1506.6 770.4,1500.1 770.6,1446.5 770.7,1500.2 770.8,1470.5 770.9,1386.3 771,1429.6 771.2,1383.3 771.4,1498.2 771.5,1406.2 771.6,1401 771.7,1385.3 771.9,1459.7 772,1506.6 772.1,1501 772.2,1485.1 772.3,1432.6 772.4,1502.9 772.6,1366.9 772.7,1332.8 772.8,1464.9 773,1436.7 773.1,1504.7 773.2,1441.6 773.5,1463.9 773.6,1438.5 773.7,1468 773.8,1465.9 773.9,1445.3 774.2,1365.3 774.3,1456.4 774.5,1401.2 774.6,1425.7 774.7,1463.4 774.9,1415 775,1455.2 775.1,1498 775.2,1339.9 775.3,1501.9 775.5,1504.8 775.7,1445 775.8,1483.6 775.9,1438.1 776,1482.4 776.1,1474.4 776.2,1475.7 776.3,1430.9 776.5,1435.9 776.6,1500.6 776.7,1499.3 776.8,1430.1 776.9,1481.1 777,1387.6 777.1,1431.2 777.2,1452 777.5,1482.6 777.6,1387.7 777.7,1444.4 777.8,1419.1 778,1385.4 778.1,1432.3 778.4,1394.1 778.5,1417.4 778.6,1410.1 778.7,1474.7 778.8,1464.4 779.1,1446.9 779.3,1496.2 779.4,1486.1 779.5,1491.2 779.6,1481.7 779.7,1389.7 779.8,1504.4 779.9,1462.4 780.3,1374.1 780.4,1430.8 780.5,1454.4 780.6,1497 780.8,1470.8 780.9,1420.4 781,1447.2 781.1,1428.4 781.2,1401.9 781.5,1481.4 781.6,1503.5 781.7,1410.7 781.8,1479.9 781.9,1464.3 782.1,1419.5 782.2,1417.4 782.3,1437.3 782.6,1413.7 782.7,1465 782.8,1426.5 782.9,1375.3 783,1494.5 783.1,1453.4 783.2,1431.7 783.3,1506.2 783.4,1469.5 783.6,1403.5 783.8,1484.4 783.9,1391.8 784,1490.1 784.1,1459 784.2,1499.1 784.3,1442.6 784.4,1498.7 784.5,1440.2 784.6,1391.5 784.7,1469 784.8,1418.1 784.9,1486.4 785,1487.3 785.2,1443.5 785.3,1406.1 785.4,1489.1 785.5,1497.3 785.6,1506.4 785.7,1491.2 785.8,1418 785.9,1501.7 786,1444.6 786.2,1429.2 786.3,1490.3 786.5,1443.1 786.6,1414.9 786.8,1454 786.9,1415.9 787,1400.9 787.1,1459.7 787.2,1450.8 787.3,1368.6 787.4,1504 787.6,1489.7 787.7,1434.8 787.8,1480.8 787.9,1344.9 788,1494.1 788.1,1506 788.2,1483.3 788.3,1431.2 788.4,1432.6 788.5,1415.3 788.8,1447 788.9,1481.1 789,1492.5 789.1,1376.7 789.3,1502.3 789.4,1451.8 789.5,1423.1 789.6,1469.5 789.7,1414.6 789.8,1485.9 789.9,1472.2 790,1350.8 790.1,1411.9 790.3,1485.8 790.4,1463.6 790.5,1500.6 790.6,1498.8 790.7,1501.6 790.8,1369.4 790.9,1486.8 791,1499.3 791.1,1481.6 791.2,1419.6 791.3,1449.1 791.4,1445.4 791.6,1395.1 791.7,1474.8 791.8,1409.1 791.9,1415.8 792,1469.6 792.1,1440.5 792.3,1363.1 792.4,1348.4 792.5,1476.9 792.6,1424.6 792.7,1446.2 792.8,1500.2 793,1430.7 793.1,1475.8 793.2,1352.5 793.3,1486.7 793.4,1341.8 793.5,1448.2 793.6,1399.8 793.7,1398.3 793.8,1497.4 793.9,1457.3 794,1503.6 794.1,1496.5 794.2,1478.7 794.3,1410.2 794.5,1449.8 794.7,1360.6 794.8,1485.9 795,1502.3 795.1,1470.9 795.3,1421.9 795.5,1418.4 795.6,1497.2 795.7,1468.6 795.8,1495.8 795.9,1378.7 796,1366.9 796.1,1388.1 796.2,1496.2 796.3,1460.3 796.4,1383.4 796.5,1382.1 796.6,1487.7 796.7,1407 796.8,1341.1 796.9,1416.9 797,1500.4 797.1,1442.7 797.2,1482.1 797.3,1433.3 797.4,1361.2 797.5,1400.9 797.6,1493.3 797.7,1437.5 797.8,1485.2 797.9,1409.5 798,1448.2 798.1,1468.9 798.2,1486 798.3,1502.4 798.4,1438.9 798.5,1433.5 798.6,1413.1 798.7,1475.5 798.8,1481.5 798.9,1434.8 799,1417.8 799.1,1393.2 799.2,1392.8 799.3,1484.2 799.4,1489.9 799.5,1458.1 799.6,1486.6 799.7,1462.8 799.8,1475.9 800,1449.6 800.1,1469.6 800.1,1506.6 800.2,1502.1 800.3,1472.5 800.4,1462.3 800.5,1369.9 800.6,1456.3 800.7,1427.6 800.8,1447.7 800.9,1424 801.1,1423.3 801.2,1473.2 801.4,1450.7 801.6,1442.9 801.7,1400.2 801.9,1498.4 802,1384 802.1,1472.3 802.2,1389.6 802.4,1467.6 802.5,1499.7 802.6,1333.6 802.7,1488.6 802.8,1488.3 802.8,1453.7 802.9,1431.2 803,1504.1 803.1,1428.5 803.2,1494.2 803.3,1461 803.4,1371.1 803.5,1475.5 803.6,1483.8 803.7,1365.6 803.9,1436 804,1447.9 804.1,1486.4 804.2,1469.7 804.3,1462.8 804.5,1397 804.6,1491 804.7,1365.7 804.7,1489 804.8,1484.2 804.9,1443.9 805,1451.2 805.1,1461.8 805.2,1505.5 805.3,1402 805.4,1446.7 805.6,1441 805.7,1414.7 805.8,1462.1 805.9,1439.8 806,1463.7 806.1,1447 806.2,1496.7 806.3,1498.1 806.4,1502.1 806.5,1458.8 806.6,1434.4 806.7,1464.2 806.9,1463.1 807,1496.6 807.1,1441.1 807.2,1472.1 807.3,1466.7 807.4,1471.3 807.5,1459.3 807.6,1403.7 807.6,1371.7 807.7,1390.4 807.8,1390.9 807.9,1455.4 808,1443.4 808.1,1485 808.3,1446.4 808.4,1440.6 808.5,1473.7 808.6,1466.2 808.8,1491.2 808.8,1437.5 808.9,1463 809,1348.5 809.1,1499.7 809.3,1458 809.4,1494.6 809.6,1477.2 809.7,1492.3 809.8,1376.4 809.9,1470.9 809.9,1436.1 810,1474.6 810.1,1476.4 810.2,1440.8 810.3,1498.5 810.4,1495.2 810.5,1382.3 810.6,1503.7 810.7,1492.8 810.8,1338.5 810.9,1426.4 810.9,1448.4 811,1480.5 811.1,1491.5 811.2,1429.7 811.3,1477.1 811.4,1446.9 811.5,1456.1 811.6,1457.5 811.7,1444.5 811.8,1495.5 811.9,1497.4 811.9,1375.4 812,1385 812.1,1387.4 812.2,1396.9 812.3,1425.1 812.4,1409.8 812.5,1432.2 812.7,1486.8 812.8,1473.3 812.8,1406.9 813,1459.6 813.1,1355.8 813.2,1501.4 813.3,1425.3 813.5,1454.6 813.6,1353 813.6,1412.8 813.7,1412.6 813.8,1504.2 813.9,1503.5 814,1496.6 814.1,1428.1 814.2,1451.8 814.3,1476.3 814.4,1378.3 814.4,1400.2 814.5,1458.3 814.6,1405.8 814.7,1450.7 814.8,1469.8 814.9,1381.1 815,1499.6 815.1,1451.2 815.2,1460.8 815.2,1483 815.3,1495.6 815.4,1404.9 815.5,1411.7 815.6,1478.2 815.7,1502.7 815.8,1425 815.9,1453.8 815.9,1383.3 816,1367.8 816.1,1504.7 816.2,1493.7 816.3,1488.9 816.5,1490.8 816.6,1490.8 816.6,1443.7 816.7,1497.7 816.9,1439.1 817,1380.4 817.1,1424.4 817.2,1475 817.3,1499.5 817.4,1493.7 817.5,1475.8 817.6,1425.7 817.7,1433.8 817.8,1412.8 817.9,1467.7 818,1395.1 818.1,1475.5 818.2,1487.9 818.3,1341.2 818.5,1432.8 818.6,1500.1 818.6,1493.4 818.7,1400 818.8,1418.4 818.9,1408 819,1469.2 819.1,1450.5 819.2,1423.3 819.2,1489.1 819.3,1406 819.4,1496.5 819.6,1392.5 819.7,1483.7 819.8,1474.6 819.9,1430.2 819.9,1442.3 820.1,1356.6 820.2,1501.4 820.3,1352.2 820.4,1466.9 820.4,1454.3 820.5,1494.3 820.6,1416.7 820.7,1421.7 820.8,1400 820.9,1450.1 821,1393.1 821,1348.8 821.1,1462.5 821.2,1433.7 821.3,1502.6 821.4,1502.7 821.5,1418.1 821.6,1486.6 821.7,1434.6 821.8,1493.4 821.9,1434.3 822,1435.4 822.1,1449.6 822.1,1380.4 822.2,1410.6 822.3,1406 822.4,1480.4 822.5,1426.9 822.6,1494.9 822.7,1506.5 822.7,1459.9 822.8,1413 822.9,1373.5 823,1504.9 823.1,1397.9 823.2,1486.4 823.2,1372.2 823.4,1471.6 823.6,1477.6 823.7,1418.5 823.7,1398.7 823.9,1471.2 824,1462.2 824.1,1391.7 824.2,1504.1 824.2,1472.9 824.3,1453.6 824.4,1351.8 824.5,1459.4 824.6,1500.6 824.7,1487.5 824.7,1371.6 824.8,1486.4 824.9,1503.8 825.2,1454.4 825.3,1393.7 825.4,1437 825.5,1502.7 825.6,1350.8 825.7,1449.4 826,1405.2 826.1,1434.6 826.1,1430 826.2,1486.2 826.3,1466 826.4,1390.3 826.5,1378.5 826.6,1441.3 826.6,1468.1 826.7,1470.8 826.8,1441 826.9,1454.8 827,1426.2 827,1407.2 827.1,1434.7 827.2,1477 827.3,1435.5 827.4,1506.6 827.5,1462.9 827.5,1410 827.6,1454 827.7,1414.2 827.8,1399.9 827.9,1396 827.9,1417.5 828,1405.7 828.1,1505.1 828.2,1379.6 828.3,1452.7 828.4,1477.7 828.4,1385.7 828.5,1425.2 828.6,1448.3 828.7,1462 828.8,1480.8 828.8,1461.3 828.9,1458.4 829,1436.2 829.1,1387 829.2,1480.3 829.2,1458.8 829.3,1456.8 829.4,1468.7 829.6,1488.5 829.6,1458.6 829.7,1428.7 829.8,1414.9 829.9,1474.9 830,1489.5 830,1479.9 830.1,1494.6 830.2,1391.7 830.3,1393.9 830.4,1466.3 830.4,1493.3 830.5,1420.7 830.6,1506.2 830.7,1458 830.8,1382.4 830.8,1476.5 831.2,1450.1 831.2,1350.9 831.3,1438 831.5,1459.8 831.6,1377 831.7,1437.2 831.9,1414.8 832,1460.2 832,1427.7 832.1,1411 832.2,1439.8 832.3,1407.6 832.4,1469.1 832.4,1475 832.5,1441.9 832.6,1394.4 832.7,1439.7 832.7,1405.6 832.8,1488.7 833,1387 833.1,1456 833.1,1461.2 833.2,1389.9 833.4,1404.6 833.5,1400.9 833.5,1387.4 833.6,1446.9 833.7,1480.1 833.8,1462.5 833.8,1455.3 833.9,1352.8 834,1487.9 834.1,1424.3 834.2,1456.5 834.2,1479.8 834.3,1370.1 834.4,1403.7 834.5,1462.1 834.6,1428.1 834.6,1419.3" fill="none" stroke="none" marker-start="url(#mcb)" marker-mid="url(#mcb)" marker-end="url(#mcb)"/>
<polyline points="100,1085.7 108.6,1084.6 116.7,1085.8 124.5,1090.6 131.8,1085.5 138.9,1082.9 145.6,1083.6 152.1,1081.4 158.3,1089.8 164.2,1077.9 170,1096.5 175.5,1107 180.8,1111.6 186,1102.2 191,1100.8 195.8,1102.4 200.5,1110 205.1,1104.8 209.5,1114.8 213.8,1120.3 218,1121.5 222.1,1122.6 226.1,1122.1 229.9,1136.8 233.7,1138.1 237.4,1126.5 241,1138.1 244.5,1130.9 248,1135.9 251.4,1139.8 254.7,1136.2 257.9,1146 261,1142.5 264.1,1143.1 267.2,1143.1 270.2,1157.2 273.1,1152.3 276,1144.6 278.8,1150.4 281.6,1148 284.3,1148.3 286.9,1162.6 289.6,1160.1 292.2,1152.8 294.7,1159.4 297.2,1170 299.7,1162.7 302.1,1164.4 304.5,1171.9 306.8,1172.4 309.1,1165.9 311.4,1168.6 313.7,1182 315.9,1182.2 318.1,1179.6 320.2,1179 322.4,1181.1 324.4,1187.8 326.5,1181.6 328.6,1200 330.6,1192.3 332.6,1187.9 334.5,1189.5 336.5,1191.6 338.4,1189.9 340.3,1192.4 342.1,1197 344,1186.6 345.8,1198.1 347.6,1183.6 349.4,1212.1 351.2,1195.4 352.9,1211.2 354.6,1215.9 356.3,1211.4 358,1229.3 359.7,1210.3 361.3,1208.5 363,1216.2 364.6,1213.2 366.2,1208.1 367.8,1216.5 369.3,1207.1 370.9,1218.1 372.4,1203.9 373.9,1213.5 375.5,1223.1 376.9,1209.8 378.4,1218.5 379.9,1225.4 381.3,1207.7 382.8,1249.4 384.2,1213.6 385.6,1210.2 387,1233.9 388.4,1223.4 389.8,1221.2 391.1,1229 392.5,1226.2 393.8,1259.6 395.1,1212.2 396.5,1218.7 397.8,1217.9 399.1,1218.7 400.3,1203.9 401.6,1222.6 402.9,1217 404.1,1219 405.4,1219.2 406.6,1223.7 407.8,1219.1 409,1220.6 410.2,1223.7 411.4,1229.9 412.6,1223.9 413.8,1225.1 414.9,1205.1 416.1,1235.8 417.3,1223.6 418.4,1230.3 419.5,1226.4 420.7,1232.2 421.8,1272.7 422.9,1234.8 424,1243.8 425.1,1232.1 426.2,1241.8 427.2,1277.6 428.3,1239.7 429.4,1236 430.4,1240.1 431.5,1245.5 432.5,1238.7 433.5,1242.3 434.6,1227.1 435.6,1243.3 436.6,1253.1 437.6,1236 438.6,1245.6 439.6,1311.6 440.6,1247.2 441.6,1245.8 442.6,1253.4 443.5,1243.4 444.5,1246 445.5,1248.1 446.4,1247.6 447.4,1240.5 448.3,1252.9 449.2,1248 450.2,1241 451.1,1249.4 452,1251.2 452.9,1252.6 453.8,1251.1 454.7,1254.8 455.6,1250.9 456.5,1242.9 457.4,1257.7 458.3,1255.2 459.2,1249.5 460,1252.5 460.9,1256.5 461.8,1257.5 462.6,1253.6 463.5,1252.5 464.3,1258.3 465.2,1260.8 466,1252.1 466.8,1258.6 467.7,1260.9 468.5,1254 469.3,1285.4 470.1,1258.6 470.9,1261.9 471.7,1258.1 472.6,1262.9 473.4,1255.2 474.1,1258.3 474.9,1260.4 475.7,1259.7 476.5,1267.9 477.3,1257.6 478.1,1266 478.8,1263.1 479.6,1260.5 480.4,1264 481.1,1260.3 481.9,1262.2 482.6,1270.7 483.4,1267.1 484.1,1265 484.9,1265.6 485.6,1271 486.4,1266.7 487.1,1278.8 487.8,1270.9 488.5,1266.6 489.3,1269.7 490,1316.6 490.7,1286.8 491.4,1276.7 492.1,1282.6 492.8,1334.2 493.5,1274.1 494.2,1285 494.9,1282.8 495.6,1276.6 496.3,1284.6 497,1270 497.7,1289.5 498.4,1284.4 499,1286.1 499.7,1277 500.4,1283.2 501.1,1281.8 501.7,1277.1 502.4,1279.6 503,1287.6 503.7,1282.3 504.4,1281.6 505,1289.5 505.7,1302.2 506.3,1292.2 506.9,1275.9 507.6,1348.8 508.2,1283.2 508.9,1286.9 509.5,1288.2 510.1,1283.3 510.8,1276.2 511.4,1286.6 512,1287.7 512.6,1280.6 513.2,1293.3 513.9,1292.4 514.5,1285.9 515.1,1289.6 515.7,1292.1 516.3,1284.2 516.9,1290.3 517.5,1294.9 518.1,1290.3 518.7,1295.3 519.3,1301.9 519.9,1296.1 520.5,1305.4 521.1,1292.2 521.7,1308.2 522.2,1293.6 522.8,1290.5 523.4,1301.6 524,1298.1 524.5,1355.4 525.1,1281.4 525.7,1355.1 526.3,1361.5 526.8,1301.2 527.4,1307.4 528,1291.3 528.5,1310.6 529.1,1319.7 529.6,1289.5 530.2,1302.4 530.7,1293.5 531.3,1301.8 531.8,1309.9 532.4,1291.4 532.9,1305.3 533.5,1297.2 534,1301.5 534.5,1295.7 535.1,1291.6 535.6,1368.1 536.2,1300.2 536.7,1296.9 537.2,1305.6 537.7,1292.3 538.3,1299.3 538.8,1388.3 539.3,1312.9 539.8,1308.8 540.4,1308.5 540.9,1306 541.4,1305.2 541.9,1318.1 542.4,1299.5 542.9,1323.3 543.4,1314.1 543.9,1300.6 544.4,1283.9 545,1311.9 545.5,1361.3 546,1323 546.5,1318.4 547,1314.3 547.4,1310.7 547.9,1370.4 548.4,1306.7 548.9,1311.9 549.4,1348 549.9,1305.2 550.4,1291.1 550.9,1300.9 551.4,1336.4 551.8,1380.1 552.3,1317.6 552.8,1310.1 553.3,1304.2 553.8,1310.2 554.2,1310.3 554.7,1308.1 555.2,1323.1 555.6,1332.3 556.1,1343.4 556.6,1310.4 557,1297.8 557.5,1320.1 558,1371.4 558.4,1323.8 558.9,1321.1 559.4,1337.6 559.8,1368.8 560.3,1317.2 560.7,1320.2 561.2,1324.6 561.6,1331.9 562.1,1308.9 562.5,1294.1 563,1336.4 563.4,1318.2 563.9,1346.1 564.3,1320.1 564.8,1318.6 565.2,1341.3 565.6,1334.7 566.1,1323 566.5,1311.5 567,1340.2 567.4,1340.5 567.8,1321.4 568.3,1312.9 568.7,1339.7 569.1,1335.7 569.6,1320.9 570,1324 570.4,1318.3 570.8,1346.7 571.3,1335.1 571.7,1330.5 572.1,1330.9 572.5,1359.6 573,1330.2 573.4,1318 573.8,1325.2 574.2,1356.4 574.6,1312.2 575,1327.5 575.5,1341.6 575.9,1323 576.3,1331.9 576.7,1349.5 577.1,1331.4 577.5,1348.2 577.9,1327.4 578.3,1335 578.7,1344.2 579.1,1320.5 579.5,1329 579.9,1331.3 580.3,1357.1 580.7,1322 581.1,1338.7 581.5,1321.7 581.9,1318.7 582.3,1319.2 582.7,1326.4 583.1,1329 583.5,1314.9 583.9,1321 584.3,1320.2 584.7,1318.2 585.1,1366.2 585.5,1357.4 585.9,1344.2 586.2,1337.3 586.6,1330.2 587,1362.5 587.4,1345.8 587.8,1348.4 588.2,1368 588.5,1361.7 588.9,1340.6 589.3,1361.7 589.7,1349 590,1363.4 590.4,1369.4 590.8,1401.1 591.2,1359.9 591.5,1352.5 591.9,1317 592.3,1336.8 592.7,1363.1 593,1343.2 593.4,1389.8 593.8,1328.7 594.1,1369.4 594.5,1355.3 594.9,1325.5 595.2,1360.7 595.6,1378.2 596,1375.7 596.3,1346.7 596.7,1330.7 597,1347.9 597.4,1336.4 597.8,1371.6 598.1,1343.2 598.5,1371.5 598.8,1335.2 599.2,1374.3 599.5,1343.4 599.9,1325.6 600.2,1333.3 600.6,1329.8 600.9,1310.4 601.3,1360.1 601.6,1341.1 602,1345.3 602.3,1371.1 602.7,1399.4 603,1385.2 603.4,1345.6 603.7,1362.4 604.1,1385 604.4,1342.2 604.8,1371 605.1,1344.5 605.4,1351.3 605.8,1308.2 606.1,1331.3 606.5,1329.3 606.8,1322.8 607.1,1366.2 607.5,1358 607.8,1335.6 608.1,1290.1 608.5,1390 608.8,1390.1 609.1,1335.3 609.5,1367.5 609.8,1317.5 610.1,1414.5 610.5,1358.1 610.8,1371.9 611.1,1331.4 611.5,1366.8 611.8,1333.1 612.1,1345.9 612.4,1361.7 612.8,1396.2 613.1,1359 613.4,1331.5 613.7,1333.3 614.1,1363.8 614.4,1362 614.7,1326.8 615,1327.1 615.3,1359.5 615.7,1363 616,1351.3 616.3,1385.1 616.6,1377.7 616.9,1371.3 617.3,1338.2 617.6,1335.6 617.9,1324.4 618.2,1336.7 618.5,1347.8 618.8,1390 619.1,1338.9 619.4,1356.6 619.8,1330.7 620.1,1403.2 620.4,1335.7 620.7,1341.6 621,1362.4 621.3,1395.6 621.6,1401.2 621.9,1426.4 622.2,1332.1 622.5,1345.2 622.8,1499.8 623.1,1348 623.4,1364.6 623.7,1366.2 624,1324.8 624.4,1397.2 624.7,1364.2 625,1339.9 625.3,1338 625.6,1349.8 625.9,1320.8 626.2,1450.4 626.4,1355.5 626.7,1344.9 627,1332.6 627.3,1359.9 627.6,1408.4 627.9,1406.8 628.2,1322.4 628.5,1362 628.8,1357.3 629.1,1405.9 629.4,1330 629.7,1339.1 630,1329.4 630.3,1411.1 630.6,1400.4 630.9,1395.1 631.1,1381.3 631.4,1350.6 631.7,1332.2 632,1343.4 632.3,1334.5 632.6,1385.1 632.9,1421.5 633.1,1329.3 633.4,1341 633.7,1332.3 634,1355.9 634.3,1433.4 634.6,1364.1 634.8,1311.1 635.1,1336.6 635.4,1372.1 635.7,1306.8 636,1363.9 636.3,1356.1 636.5,1427.3 636.8,1337.2 637.1,1356.3 637.4,1337 637.6,1366.5 637.9,1350 638.2,1346.1 638.5,1330.1 638.7,1451.3 639,1373.3 639.3,1391.3 639.6,1333.3 639.8,1391.2 640.1,1393.3 640.4,1418.1 640.7,1311.2 640.9,1320.8 641.2,1327.9 641.5,1314.2 641.7,1326.3 642,1399 642.3,1357.5 642.6,1396.9 642.8,1332 643.1,1348.2 643.4,1395.5 643.6,1363.8 643.9,1330.6 644.2,1371.6 644.4,1415.4 644.7,1374.5 644.9,1417.5 645.2,1422.1 645.5,1342.6 645.7,1363.6 646,1335.6 646.3,1377.8 646.5,1422.1 646.8,1406.2 647,1339.6 647.3,1378.8 647.6,1343.9 647.8,1344.8 648.1,1345 648.3,1384.2 648.6,1325.3 648.9,1334.3 649.1,1352.6 649.4,1398.9 649.6,1417.5 649.9,1393.5 650.1,1334.7 650.4,1446.4 650.7,1370.8 650.9,1363.5 651.2,1332.4 651.4,1437.7 651.7,1434.7 651.9,1356 652.2,1335.7 652.4,1354.3 652.7,1419.2 652.9,1422.2 653.2,1362.9 653.4,1385.9 653.7,1430.2 653.9,1346.8 654.2,1332.8 654.4,1333.1 654.7,1377.3 654.9,1407.2 655.2,1346.3 655.4,1350 655.7,1427.2 655.9,1466 656.2,1360.8 656.4,1368.4 656.7,1405.2 656.9,1380.5 657.1,1333.7 657.4,1325.1 657.6,1378.8 657.9,1331.7 658.1,1379.6 658.4,1391.1 658.6,1389.7 658.8,1412.3 659.1,1357.7 659.3,1327.7 659.6,1315.9 659.8,1375.2 660,1369.2 660.3,1411.3 660.5,1405.5 660.8,1385.4 661,1406.6 661.2,1334.6 661.5,1323.7 661.7,1367.8 662,1341.9 662.2,1495 662.4,1483.3 662.7,1382.5 662.9,1330 663.1,1407.7 663.4,1350.3 663.6,1425.2 663.8,1335.6 664.1,1320.8 664.3,1460.3 664.5,1356.4 664.8,1404.3 665,1379.6 665.2,1334.7 665.5,1323.2 665.7,1406.9 665.9,1399.9 666.2,1338.6 666.4,1346.2 666.6,1365 666.8,1377.9 667.1,1433.7 667.3,1340.1 667.5,1336.4 667.8,1476.9 668,1407.1 668.2,1404.6 668.4,1352.5 668.7,1338.1 668.9,1443.1 669.1,1331 669.4,1382.8 669.6,1351 669.8,1341.7 670,1340.3 670.3,1366.7 670.5,1364 670.7,1447.6 670.9,1347.7 671.1,1350.7 671.4,1350.8 671.6,1371.9 671.8,1453.8 672,1388.2 672.3,1320.3 672.5,1377.2 672.7,1338.9 672.9,1341.5 673.1,1348.8 673.4,1361.6 673.6,1317.6 673.8,1375.5 674,1506.6 674.2,1342.3 674.5,1428.6 674.7,1372.5 674.9,1495.5 675.1,1330.7 675.3,1326.4 675.5,1365.2 675.8,1438.6 676,1332.5 676.2,1483.7 676.4,1446.4 676.6,1340.3 676.8,1380.6 677.1,1445.6 677.3,1445.2 677.5,1378.1 677.7,1342.8 677.9,1464.7 678.1,1382.4 678.3,1346.2 678.6,1328.7 678.8,1328.4 679,1388.6 679.2,1342.2 679.4,1341.4 679.6,1410 679.8,1330.6 680,1396.8 680.2,1393.3 680.5,1306.4 680.7,1352.1 680.9,1373 681.1,1334.6 681.3,1500.3 681.5,1327.6 681.7,1499 681.9,1390.5 682.1,1397 682.3,1446.7 682.5,1466.7 682.8,1456.2 683,1378.7 683.2,1433.1 683.4,1354.2 683.6,1477.3 683.8,1338.2 684,1453.5 684.2,1425.8 684.4,1386.6 684.6,1376.2 684.8,1341.1 685,1337.1 685.2,1360.5 685.4,1417.1 685.6,1423.8 685.8,1362.6 686,1352.8 686.2,1403.6 686.4,1417.4 686.6,1337.2 686.8,1416 687,1434.1 687.2,1343.3 687.4,1333.7 687.6,1341 687.8,1450.1 688,1357.3 688.2,1505.4 688.4,1444.9 688.6,1395.3 688.8,1368.6 689,1336.7 689.2,1492.9 689.4,1461.1 689.6,1347.8 689.8,1373.6 690,1461 690.2,1326.7 690.4,1430 690.6,1504 690.8,1468.1 691,1393.6 691.2,1398.6 691.4,1359.4 691.6,1359.1 691.8,1345.5 692,1345.1 692.2,1344.4 692.4,1357.2 693,1357.3 693.2,1465 693.4,1342.9 693.6,1349.5 693.7,1402.4 693.9,1337.4 694.1,1333.1 694.3,1331.2 694.5,1354.4 694.7,1428.8 694.9,1449.3 695.1,1377.3 695.3,1359.8 695.5,1373.5 695.7,1408.8 695.9,1488.4 696,1348.8 696.2,1425.9 696.4,1340.6 696.6,1471.1 696.8,1342.5 697,1358.4 697.2,1468.3 697.4,1403.3 697.6,1421.2 697.7,1353.5 697.9,1406.6 698.1,1371.4 698.3,1476.7 698.5,1415.6 698.7,1333.2 698.9,1386.4 699.1,1423.1 699.2,1370.6 699.4,1409.3 699.6,1374.8 699.8,1342 700,1474.3 700.2,1334.6 700.4,1416.6 700.5,1377 700.7,1431.4 700.9,1357.8 701.1,1321 701.3,1361.4 701.5,1418.5 701.6,1352 701.8,1423.3 702,1364.5 702.2,1407.7 702.4,1341.1 702.6,1473.9 702.7,1363 702.9,1379.2 703.3,1386.1 703.5,1359.8 703.7,1390.7 703.8,1384.3 704,1348.9 704.2,1336.7 704.4,1379.5 704.6,1349.2 704.7,1327.7 704.9,1415.1 705.1,1358.8 705.3,1384.5 705.5,1442.2 705.6,1427.1 705.8,1350.3 706,1492.3 706.2,1354.3 706.3,1354 706.5,1362.1 706.7,1393.6 707.1,1462.6 707.2,1395.6 707.4,1463.9 707.6,1344.2 707.8,1350.3 707.9,1394.2 708.1,1404.8 708.5,1335.1 708.6,1366.3 708.8,1391.8 709,1408.7 709.2,1453.2 709.3,1344.9 709.5,1446.2 709.7,1470 709.9,1382 710,1354.4 710.2,1451.8 710.4,1355.3 710.6,1351.5 710.7,1444.2 710.9,1343.9 711.1,1361.1 711.4,1333.4 711.6,1361.5 711.8,1362.5 711.9,1417.1 712.1,1418.8 712.3,1359.1 712.5,1374.8 712.6,1336.7 712.8,1494.1 713,1429.2 713.1,1357.1 713.3,1358.2 713.5,1365.4 713.6,1414.9 713.8,1376.6 714,1342 714.2,1341.6 714.3,1471.7 714.5,1366.4 714.7,1345.6 715,1474.2 715.2,1447.8 715.3,1339.5 715.5,1389.2 715.7,1490.4 715.8,1414.5 716,1352.4 716.2,1426.9 716.3,1366.2 716.5,1341.2 716.7,1370.5 716.8,1356.8 717,1413.6 717.2,1325.4 717.3,1377 717.5,1391.9 717.7,1358 717.8,1341.8 718,1339 718.2,1424.4 718.3,1432.8 718.5,1500.7 718.7,1442.5 719,1368 719.1,1450 719.3,1348.8 719.5,1476.1 719.6,1345.1 719.8,1358.5 720,1336.4 720.1,1398.8 720.3,1365.4 720.5,1389.2 720.6,1389.5 720.8,1468.1 720.9,1498.6 721.1,1470.6 721.3,1403.8 721.4,1443.8 721.6,1341.6 721.7,1324.3 721.9,1356.4 722.1,1341.2 722.2,1338.5 722.4,1340 722.7,1391.1 722.9,1444.4 723,1356.6 723.2,1337.6 723.7,1408.1 723.8,1473.5 724,1455 724.1,1360.1 724.5,1351.8 724.6,1420.7 724.8,1446.3 724.9,1396.3 725.1,1484.2 725.3,1476.8 725.4,1349.5 725.6,1351.6 725.7,1350.6 725.9,1354.3 726,1356.8 726.4,1351.8 726.5,1469 726.7,1403.7 727,1419 727.1,1401.5 727.3,1419.2 727.4,1345.5 727.6,1411.1 727.9,1373.1 728.1,1377.7 728.2,1361.1 728.4,1387.5 728.7,1342.9 728.8,1417 729,1395.4 729.1,1349 729.3,1350.7 729.4,1389.8 729.6,1420.7 729.9,1360.9 730.1,1501.6 730.2,1404.8 730.4,1434.4 730.5,1444.8 730.7,1432.9 730.8,1396.8 731,1395.5 731.1,1478.4 731.3,1404.8 731.4,1417.2 731.6,1373.2 731.7,1339 731.9,1357 732,1376 732.2,1460.4 732.3,1357.9 732.5,1428.4 732.6,1363 732.8,1343.4 732.9,1488.5 733.1,1419.2 733.2,1350.4 733.4,1351.3 733.5,1451.2 733.7,1363.5 733.8,1425 734,1410.1 734.1,1411.8 734.3,1413.6 734.4,1444.2 734.6,1431.4 734.7,1472.2 734.9,1356.1 735,1354.1 735.2,1355.1 735.3,1407.8 735.5,1463.8 735.8,1469.4 735.9,1439.1 736.2,1379.8 736.3,1388.2 736.5,1381.3 736.6,1421.1 736.8,1372.2 736.9,1401.8 737.1,1350.8 737.2,1487.3 737.4,1417.3 737.7,1399.3 737.8,1360.4 738,1464.5 738.2,1471.4 738.4,1438.6 738.5,1429.9 738.7,1351.6 738.8,1356.8 739,1359.5 739.1,1432.3 739.3,1342 739.4,1361.3 739.5,1402.4 739.7,1371.6 739.8,1471.7 740,1368.5 740.1,1471.9 740.3,1386.2 740.4,1368.1 740.5,1381.9 740.7,1372.8 740.8,1497.4 741.1,1458.5 741.3,1371.8 741.4,1352.5 741.5,1452.8 741.7,1372.9 741.8,1401.5 742,1480 742.1,1356.9 742.2,1379 742.4,1403.5 742.7,1420.9 742.8,1384.9 743,1429.4 743.1,1447.9 743.2,1383 743.4,1471.3 743.7,1474 743.8,1354.7 743.9,1360.5 744.1,1324.3 744.2,1376.6 744.4,1348.1 744.6,1387.5 744.8,1490.5 744.9,1464.6 745,1347.3 745.2,1405.3 745.3,1371 745.6,1369.7 745.7,1476.2 745.9,1450.5 746,1336.6 746.2,1394.8 746.3,1379.8 746.7,1434.7 746.8,1494.5 747,1480.6 747.1,1348.6 747.2,1404.8 747.4,1441 747.5,1474.3 747.7,1362.3 747.8,1368.6 747.9,1383.6 748.1,1449.1 748.2,1384.6 748.3,1374.2 748.5,1360 748.6,1344.9 748.9,1419.8 749.2,1359.4 749.3,1415 749.4,1488.5 749.6,1395.4 749.7,1382.2 749.8,1457.2 750,1358.8 750.1,1407.2 750.2,1463.8 750.4,1366.8 750.5,1448.7 750.6,1351.8 750.8,1396.4 750.9,1379.6 751,1359 751.2,1369.6 751.3,1356.9 751.4,1395.3 751.6,1409.2 751.7,1479.9 751.8,1409.1 752,1346 752.1,1387.4 752.2,1469.4 752.4,1411.1 752.5,1369.7 752.6,1358.5 752.8,1351.3 752.9,1368.7 753,1434.6 753.2,1351.4 753.3,1445.8 753.4,1452.9 753.5,1401.1 753.7,1497.4 753.8,1362.5 753.9,1473.5 754.1,1469.9 754.2,1435.1 754.3,1455.9 754.5,1432.3 754.6,1373.2 754.9,1443.1 755,1354.1 755.1,1359.9 755.2,1384.8 755.4,1480.2 755.5,1379.3 755.6,1389.2 755.8,1467.4 755.9,1389.7 756,1349.2 756.1,1400.3 756.3,1438.7 756.4,1347.5 756.5,1358.1 756.7,1481.2 756.8,1352.5 756.9,1355.7 757.1,1432.5 757.2,1431 757.4,1493.8 757.6,1407.8 757.7,1364.3 757.8,1363.4 757.9,1430.7 758.1,1477.4 758.2,1459.1 758.3,1412 758.5,1349.8 758.6,1367.2 758.7,1344.1 758.8,1411.8 759,1353.8 759.1,1375.3 759.2,1348.1 759.3,1384.9 759.5,1386.8 759.6,1366.7 759.7,1363.7 759.8,1355.3 760,1361.4 760.1,1377.2 760.2,1349.9 760.4,1365 760.5,1406 760.6,1447.6 760.7,1469.6 760.9,1367.1 761,1475.1 761.1,1433.7 761.2,1355.1 761.4,1383.1 761.5,1360.6 761.7,1367.7 761.9,1479 762,1383.4 762.1,1423.3 762.2,1356.9 762.3,1421 762.5,1363.2 762.6,1355.6 762.7,1477.3 762.8,1349.6 763,1422.8 763.1,1348.2 763.2,1457.9 763.3,1360.5 763.6,1443.5 763.7,1412.8 763.8,1386.7 764,1449.2 764.1,1388.2 764.2,1380 764.3,1407.2 764.4,1453.3 764.6,1378.9 764.7,1358.4 764.8,1426.8 764.9,1413.4 765.1,1396.1 765.2,1413.6 765.3,1353.9 765.4,1418 765.5,1362.3 765.7,1385 765.8,1449.1 766,1472 766.1,1484.9 766.3,1346.5 766.4,1348.8 766.5,1353.7 766.8,1355.2 766.9,1370.4 767,1346.1 767.1,1353.8 767.2,1467.6 767.4,1365.4 767.5,1461.1 767.6,1362.1 767.7,1485.8 767.8,1344.2 768,1329.3 768.2,1346.5 768.3,1487.3 768.4,1399.6 768.6,1405 768.7,1418.1 768.8,1453.7 768.9,1388.4 769,1396.1 769.1,1375.6 769.3,1383.3 769.4,1482.1 769.5,1360.7 769.6,1381.7 769.7,1371.6 769.9,1453.4 770,1476.4 770.2,1353.6 770.3,1357.5 770.4,1444.3 770.6,1433.5 770.7,1349.6 770.8,1462 770.9,1346.1 771,1433 771.2,1357.4 771.3,1408.8 771.4,1370.7 771.5,1391.8 771.6,1410.7 771.7,1425.2 771.9,1344.5 772,1415.4 772.1,1411.6 772.2,1348.2 772.3,1374 772.6,1361.8 772.7,1358.2 772.8,1409.2 772.9,1399.5 773,1435.3 773.1,1406.3 773.2,1408.9 773.4,1405.6 773.5,1372.6 773.6,1482.2 773.7,1353.6 773.8,1381.5 773.9,1361.2 774.1,1473.8 774.2,1456.7 774.4,1375.8 774.5,1382.3 774.6,1445.8 774.7,1401.2 774.9,1358.1 775,1376.8 775.1,1464.6 775.2,1441.5 775.3,1432.3 775.4,1361.1 775.5,1445.3 775.7,1447.8 775.8,1419.1 775.9,1343.8 776,1385.6 776.1,1402.1 776.2,1382 776.5,1463 776.6,1393.6 776.7,1448.5 776.8,1366.8 776.9,1360.9 777,1412.1 777.1,1365.3 777.2,1472.5 777.4,1423.2 777.5,1350.3 777.6,1382.8 777.7,1464.1 777.8,1404 777.9,1372.9 778.1,1354.8 778.3,1489.6 778.4,1364 778.6,1390.8 778.7,1397.9 778.9,1360.3 779,1346.6 779.1,1350.2 779.3,1374.3 779.4,1354.8 779.5,1354 779.6,1362.6 779.7,1448.8 779.8,1360.3 779.9,1366.8 780,1351.3 780.1,1476.3 780.3,1442.3 780.4,1422.9 780.5,1360.2 780.6,1382.4 780.7,1391.4 780.8,1352.8 780.9,1396.3 781,1464.3 781.1,1392.6 781.2,1366.5 781.4,1410.7 781.5,1469.9 781.7,1478.4 781.8,1383.9 781.9,1450.4 782,1449.5 782.2,1500.5 782.3,1436.1 782.5,1460.8 782.6,1401.1 782.7,1381.3 782.8,1366.7 782.9,1447.4 783,1355.7 783.1,1362.4 783.2,1482.8 783.3,1356.4 783.4,1359.9 783.5,1360.2 783.6,1399.9 783.8,1452.2 783.9,1364.5 784,1495.4 784.1,1438.8 784.2,1391 784.3,1418 784.4,1359.2 784.5,1367.3 784.6,1358.5 784.7,1450.3 784.8,1362.1 784.9,1432.4 785,1495 785.2,1380.9 785.3,1491.3 785.4,1402.3 785.5,1377.9 785.6,1423.6 785.7,1368 785.8,1355.4 785.9,1407.3 786,1348.1 786.1,1397 786.2,1440.8 786.3,1391.2 786.4,1436.4 786.5,1414.6 786.6,1396.7 786.8,1332.7 786.9,1386.6 787,1366.8 787.1,1360.9 787.2,1371.3 787.3,1395.1 787.4,1369.9 787.5,1434.1 787.6,1396.9 787.8,1426 787.9,1351.6 788,1357.2 788.1,1352.9 788.2,1431.9 788.3,1355 788.4,1365.8 788.5,1393.7 788.6,1440.4 788.8,1350 788.9,1366.9 789,1464.2 789.1,1395 789.2,1372 789.3,1376.8 789.4,1487.5 789.5,1429 789.6,1370.8 789.7,1357.3 789.8,1379.5 789.9,1369.3 790,1442.4 790.1,1358.2 790.2,1377.7 790.3,1342 790.4,1422.2 790.5,1352.2 790.6,1344.1 790.7,1505.3 790.8,1403.7 790.9,1405.3 791,1400.8 791.1,1484.3 791.2,1498.5 791.3,1415.6 791.4,1465.8 791.6,1371.8 791.7,1374.5 791.8,1401.3 791.9,1358 792,1422.4 792.1,1358.4 792.2,1422.1 792.3,1349.5 792.4,1488.8 792.5,1370.2 792.6,1433.6 792.7,1435.1 792.8,1388.8 792.9,1429.1 793,1351.1 793.1,1424.3 793.2,1470.3 793.3,1371.3 793.4,1413.5 793.5,1363.7 793.6,1356.6 793.7,1376 793.8,1405.5 793.9,1358.2 794,1412.4 794.1,1493.5 794.2,1351.3 794.3,1347.6 794.4,1464 794.5,1411.5 794.6,1358.8 794.7,1382.2 794.8,1377.8 794.9,1377.9 795,1357.9 795.1,1349.7 795.2,1398.1 795.3,1424.6 795.4,1356.2 795.5,1357.2 795.6,1442.3 795.7,1416.5 795.8,1440.4 795.9,1358.9 796,1391.4 796.1,1363.4 796.2,1442 796.3,1470.9 796.4,1378.9 796.5,1399.2 796.6,1381.6 796.7,1345 796.8,1431.6 796.9,1470.3 797,1352.2 797.1,1351.3 797.2,1385.1 797.3,1393.1 797.4,1361 797.5,1384.5 797.6,1374 797.7,1474.3 797.8,1435.4 797.9,1416.2 798,1436.5 798.1,1368.2 798.2,1399.4 798.3,1388.4 798.4,1506.6 798.5,1362.8 798.6,1353.2 798.7,1354.4 798.8,1412.4 799,1463.4 799.1,1361.2 799.2,1429.1 799.3,1436.6 799.4,1371.7 799.5,1350.7 799.6,1493.6 799.7,1407.7 799.8,1408 799.9,1401.8 800,1351.6 800.1,1402.1 800.1,1426 800.2,1373.1 800.3,1353.3 800.4,1437.2 800.5,1425.2 800.6,1371.8 800.7,1477.2 800.8,1440.7 800.9,1355.7 801,1500.9 801.1,1483.7 801.2,1454.8 801.3,1346.8 801.4,1379.4 801.5,1378.7 801.6,1371 801.8,1429.6 801.9,1406.8 802,1451.6 802.1,1374.2 802.2,1437.3 802.3,1375.6 802.5,1419.7 802.6,1392.4 802.7,1443 802.8,1471.3 802.8,1354.5 802.9,1415.5 803,1489.8 803.1,1334.9 803.2,1359.8 803.3,1353.7 803.4,1461.8 803.5,1416.4 803.6,1374.7 803.7,1341.3 803.8,1377.6 803.9,1356.5 804,1396.3 804.1,1393.3 804.2,1423.1 804.3,1488.8 804.4,1359.1 804.6,1455.9 804.7,1377.3 804.7,1350.6 804.8,1395.7 804.9,1372.2 805,1353.3 805.1,1375.6 805.2,1362.6 805.3,1369.6 805.4,1372.3 805.5,1406.8 805.6,1350.6 805.7,1345.2 805.8,1449.5 805.9,1473.1 806,1356.2 806.1,1471.7 806.2,1413.6 806.3,1482.4 806.3,1360.3 806.4,1458.6 806.5,1460.1 806.6,1440.4 806.7,1455.9 806.8,1454.2 806.9,1419.8 807,1422.7 807.1,1359.4 807.2,1362.8 807.3,1353.1 807.4,1395.7 807.5,1358.9 807.6,1386.4 807.6,1356.3 807.7,1368.1 807.8,1462 807.9,1399 808,1353.2 808.1,1347.4 808.2,1366.8 808.3,1381.1 808.4,1357.3 808.5,1468.4 808.6,1379.8 808.7,1355.1 808.8,1484.7 808.8,1372.1 808.9,1458.5 809,1437.1 809.1,1362.5 809.2,1369.5 809.3,1365.8 809.4,1427.4 809.5,1362.8 809.6,1454.3 809.7,1363.3 809.8,1445.7 809.9,1460.4 809.9,1442.9 810,1355.9 810.1,1427.1 810.2,1353.3 810.3,1358.1 810.4,1462 810.5,1354.6 810.6,1485 810.7,1353.7 810.8,1386.5 810.9,1399 810.9,1360.8 811,1372.9 811.1,1490 811.2,1390 811.3,1361.2 811.4,1386.7 811.5,1409.8 811.6,1361.4 811.7,1485.6 811.8,1426.7 811.9,1406.7 811.9,1392.9 812,1394 812.1,1462.7 812.2,1375.7 812.3,1349.6 812.4,1354.9 812.5,1361 812.6,1371.9 812.7,1378.2 812.8,1409 812.8,1349.9 812.9,1477.2 813,1369.9 813.1,1358.8 813.2,1367.4 813.3,1355.9 813.4,1409.6 813.5,1444.6 813.6,1376.9 813.6,1377.6 813.7,1352.5 813.8,1364.3 813.9,1360.4 814,1346.5 814.1,1365.3 814.2,1383.6 814.3,1440.2 814.4,1456.2 814.4,1370.8 814.5,1370.5 814.6,1451 814.7,1364.1 814.8,1412 814.9,1376.9 815,1402.5 815.1,1417.6 815.2,1372.4 815.2,1420.9 815.3,1389.9 815.4,1418.8 815.5,1418.8 815.6,1350.8 815.7,1438.3 815.8,1456.7 815.9,1377.7 815.9,1348.7 816,1378.3 816.1,1367.9 816.2,1368.5 816.3,1401.7 816.4,1366.1 816.5,1362.3 816.6,1391.8 816.6,1365.6 816.7,1504.8 816.8,1435 816.9,1351.5 817,1416.9 817.1,1449.2 817.2,1353.4 817.3,1482.4 817.3,1465 817.4,1417.2 817.5,1497.3 817.6,1353.5 817.7,1356.3 817.8,1424.1 817.9,1361.6 818,1357.7 818,1430 818.1,1366.6 818.2,1379.9 818.3,1358.6 818.4,1471.4 818.5,1387.2 818.6,1357.9 818.6,1375.9 818.7,1342.6 818.8,1424.3 818.9,1428.8 819,1372.4 819.1,1401.8 819.2,1362.5 819.3,1391.5 819.4,1495.9 819.5,1486 819.6,1372.4 819.7,1408 819.8,1362.3 819.9,1391.6 819.9,1380 820,1377 820.1,1445.4 820.2,1363.2 820.3,1384.2 820.4,1355.5 820.5,1411.6 820.6,1457.1 820.7,1416.5 820.8,1459.1 820.9,1373.5 821,1478.2 821,1388.6 821.1,1479.7 821.2,1377.4 821.3,1423.4 821.4,1377.7 821.5,1379.5 821.6,1414.4 821.6,1450.4 821.8,1357.1 821.9,1379 822,1423.6 822.1,1414.6 822.1,1464.6 822.2,1479.2 822.3,1388.3 822.4,1479.3 822.5,1477.8 822.6,1394.3 822.7,1388.5 822.7,1374.9 822.8,1446.6 822.9,1417 823,1501.3 823.1,1374.3 823.2,1416.3 823.2,1361.9 823.3,1475.2 823.4,1479.5 823.5,1396.3 823.6,1422.8 823.7,1366.2 823.7,1467.9 823.8,1414.4 823.9,1357.7 824,1357.8 824.1,1442.2 824.2,1420.2 824.2,1405 824.3,1430.6 824.4,1390.3 824.5,1468.7 824.6,1451.2 824.7,1369.5 824.7,1383.2 824.8,1355.2 824.9,1481.4 825,1360.8 825.1,1401.7 825.2,1424.9 825.2,1404.7 825.3,1367.1 825.4,1411.8 825.5,1367.4 825.6,1359.8 825.7,1371.1 825.7,1367.7 825.8,1402.6 825.9,1376.4 826,1454.5 826.1,1347.2 826.1,1355.4 826.2,1492.2 826.3,1412.2 826.4,1394.5 826.5,1359.8 826.6,1487.5 826.6,1378.4 826.7,1367.2 826.8,1380.8 826.9,1393.2 827,1414.1 827,1355.6 827.1,1378.3 827.2,1366.2 827.3,1368.1 827.4,1381.3 827.5,1422.5 827.5,1357.8 827.6,1375.1 827.7,1359.5 827.8,1386.7 827.9,1345.4 827.9,1448.1 828,1416.2 828.1,1386.7 828.2,1363.6 828.3,1415.8 828.4,1439.3 828.4,1389.8 828.5,1364.8 828.6,1486.3 828.7,1445 828.8,1364 828.8,1362.7 828.9,1419.6 829,1506.6 829.1,1490.3 829.2,1375.4 829.3,1434.5 829.4,1366.6 829.5,1360.9 829.6,1367.5 829.6,1460.4 829.7,1449.2 829.8,1345 829.9,1382.6 830,1402.2 830,1478.9 830.2,1421.7 830.3,1411.2 830.4,1408.9 830.4,1361.2 830.5,1404.7 830.6,1466.3 830.7,1490.1 830.8,1388.3 830.8,1398.4 830.9,1426.4 831.1,1464.5 831.2,1364.7 831.2,1498.2 831.3,1464.9 831.4,1416.5 831.5,1420.9 831.6,1411.6 831.6,1364.3 831.7,1386.3 831.8,1363.3 831.9,1384.6 832,1384.1 832,1398.1 832.1,1465.1 832.2,1428.6 832.3,1354.9 832.4,1369.9 832.4,1372.8 832.5,1348.4 832.6,1366.9 832.7,1481.1 832.8,1363.5 832.9,1357.3 833,1352.6 833.1,1372.6 833.1,1358.4 833.2,1353.9 833.3,1352.6 833.4,1393.2 833.5,1358.1 833.5,1358.1 833.6,1378.1 833.7,1436.2 833.8,1402.1 833.8,1419.5 833.9,1443.3 834,1398 834.1,1484.3 834.2,1388.5 834.2,1377.9 834.3,1370.9 834.4,1424.8 834.5,1393.6 834.6,1394.6 834.6,1431.9" fill="none" stroke="none" marker-start="url(#mcp)" marker-mid="url(#mcp)" marker-end="url(#mcp)"/>
<path d="M99.9 982.8V1516.5M99.9 1506.6H830M90.3 1506.6H99.9M92.9 1441.1H99.9M90.3 1375.7H99.9M92.9 1310.2H99.9M90.3 1244.8H99.9M92.9 1179.3H99.9M90.3 1113.9H99.9M92.9 1048.4H99.9M90.3 983H99.9M100 1506.6V1516.6M135.8 1506.6V1513.6M171.5 1506.6V1513.6M207.2 1506.6V1513.6M243 1506.6V1513.6M278.8 1506.6V1516.6M314.5 1506.6V1513.6M350.2 1506.6V1513.6M386 1506.6V1513.6M421.8 1506.6V1513.6M457.5 1506.6V1516.6M493.3 1506.6V1513.6M529 1506.6V1513.6M564.8 1506.6V1513.6M600.5 1506.6V1513.6M636.2 1506.6V1516.6M672 1506.6V1513.6M707.8 1506.6V1513.6M743.5 1506.6V1513.6M779.2 1506.6V1513.6M815 1506.6V1516.6" stroke="#000" stroke-width="2.4" fill="none"/>
<g font-family="'Liberation Sans', Arial, sans-serif" fill="#000"><text x="69.5" y="1519.2" font-size="36" text-anchor="end">0</text>
<text x="69.5" y="1388.3" font-size="36" text-anchor="end">1</text>
<text x="69.5" y="1257.4" font-size="36" text-anchor="end">2</text>
<text x="69.5" y="1126.5" font-size="36" text-anchor="end">3</text>
<text x="69.5" y="995.6" font-size="36" text-anchor="end">4</text>
<text x="100.5" y="1560.8" font-size="36" text-anchor="middle">-1.5</text>
<text x="279.2" y="1560.8" font-size="36" text-anchor="middle">-1.0</text>
<text x="458" y="1560.8" font-size="36" text-anchor="middle">-0.5</text>
<text x="636.8" y="1560.8" font-size="36" text-anchor="middle">0.0</text>
<text x="815.5" y="1560.8" font-size="36" text-anchor="middle">0.5</text>
<text x="464" y="1607.5" font-size="36" text-anchor="middle">log (q)</text>
<text transform="translate(32.4 1266) rotate(-90)" font-size="36" text-anchor="middle">log I(q)</text>
<text x="323.5" y="999.6" font-size="33">batch: pure RNA</text>
<text x="323.5" y="1050.8" font-size="33">RNA peak from pure RNA formulation</text>
<text x="323.5" y="1101.6" font-size="33">RNA peak from LPX formulation</text>
</g><circle cx="308.8" cy="988.8" r="4.3" fill="#a5a5a5"/><circle cx="308.8" cy="1040.3" r="4.3" fill="#9999ff"/><circle cx="308.8" cy="1091.2" r="4.3" fill="#7030a0"/>
<polyline points="997.3,1041.1 1006.4,1056.5 1015,1068.7 1023.2,1079.7 1030.9,1088.6 1038.4,1097.6 1045.5,1107.3 1052.3,1117 1058.9,1125.9 1065.2,1133.5 1071.2,1140.9 1077.1,1149.3 1082.7,1157.7 1088.2,1164.2 1093.4,1171.9 1098.6,1176.9 1103.5,1185.3 1108.3,1191.9 1113,1194.8 1117.6,1202.4 1122,1205.7 1126.3,1212.9 1130.5,1219.7 1134.6,1222.4 1138.6,1227.8 1142.5,1231.3 1146.3,1236.9 1150,1240.6 1153.7,1244.6 1157.2,1249.6 1160.7,1250.2 1164.1,1254.6 1167.5,1256.3 1170.7,1261.5 1173.9,1262.8 1177.1,1265.6 1180.2,1270.9 1183.2,1273.1 1186.2,1273.1 1189.1,1281.4 1192,1280.2 1194.8,1284.2 1197.6,1286.9 1200.3,1286.5 1203,1288.7 1205.7,1291.6 1208.3,1293.7 1210.8,1301.4 1213.3,1299.9 1215.8,1306.2 1218.3,1303.4 1220.7,1306.1 1223,1309.5 1225.4,1310.3 1227.7,1320.7 1230,1315.4 1232.2,1316 1234.4,1333.4 1236.6,1322.8 1238.8,1323.3 1240.9,1325.6 1243,1332 1245.1,1334.3 1247.1,1332.6 1249.1,1336.9 1251.1,1344.9 1253.1,1339.7 1255.1,1338.3 1257,1339 1258.9,1344.1 1260.8,1344.8 1262.6,1350.4 1264.5,1345.7 1266.3,1346.3 1268.1,1352.1 1269.9,1349.6 1271.6,1354.8 1273.4,1360.1 1275.1,1351.7 1276.8,1353.6 1278.5,1364 1280.2,1358.3 1281.8,1365.5 1283.5,1359.2 1285.1,1362.8 1286.7,1376.1 1288.3,1365.4 1289.9,1377.5 1291.4,1372.7 1293,1369.3 1294.5,1374.3 1296,1381.7 1297.5,1378.5 1299,1370.8 1300.5,1367.6 1302,1382.8 1303.4,1373.6 1304.8,1376.6 1306.3,1386.5 1307.7,1385.7 1309.1,1389.7 1310.5,1373.7 1311.9,1403.9 1313.2,1385.4 1314.6,1386.9 1315.9,1392.3 1317.2,1389.5 1318.6,1389.2 1319.9,1379.8 1321.2,1382.4 1322.5,1391 1323.8,1382.7 1325,1403.4 1326.3,1378.6 1327.5,1388.7 1328.8,1401.5 1330,1411.6 1331.2,1388.8 1332.4,1401.8 1333.7,1374.5 1334.8,1387.2 1336,1413.4 1337.2,1401.4 1338.4,1408.8 1339.5,1397.8 1340.7,1407.2 1341.8,1408 1343,1404.8 1344.1,1386.7 1345.2,1406.6 1346.4,1393.9 1347.5,1414.6 1348.6,1408.6 1349.7,1419.7 1350.7,1414.2 1351.8,1420.1 1352.9,1413.7 1354,1438.2 1355,1415.2 1356.1,1404.9 1357.1,1432.4 1358.1,1423.2 1359.2,1414.7 1360.2,1421.8 1361.2,1413.6 1362.2,1419.4 1363.2,1427.5 1364.2,1419.4 1365.2,1397.8 1366.2,1423.4 1367.2,1417.5 1368.2,1422.7 1369.1,1430.3 1370.1,1434.1 1371.1,1458.9 1372,1414.4 1373,1438.6 1373.9,1425.4 1374.8,1448.4 1375.8,1441.4 1376.7,1432 1377.6,1432.5 1378.5,1421.2 1379.4,1456.9 1380.3,1449.6 1381.3,1428.8 1382.1,1464.2 1383,1427.9 1383.9,1434.7 1384.8,1449.5 1385.7,1453.2 1386.6,1442.6 1387.4,1454.8 1388.3,1438.3 1389.1,1457.8 1390,1447.4 1390.8,1441.6 1391.7,1446.1 1392.5,1438 1393.4,1450.8 1394.2,1433.8 1395,1462.2 1395.8,1441 1396.7,1453.9 1397.5,1483.7 1398.3,1423.9 1399.1,1470.1 1399.9,1452.3 1400.7,1463.3 1401.5,1463.4 1402.3,1469.2 1403.1,1446 1403.9,1481.5 1404.6,1472.7 1405.4,1462.1 1406.2,1465.6 1407.7,1466.9 1408.5,1464.4 1409.3,1461 1410,1484.2 1410.8,1459.9 1411.5,1480.1 1412.3,1463.9 1413,1464.2 1413.7,1491.7 1414.5,1480.2 1415.2,1478.9 1415.9,1492.7 1416.7,1453.2 1417.4,1479.8 1418.1,1465.7 1418.8,1476 1419.5,1485.6 1420.2,1461 1420.9,1468.1 1421.6,1484.9 1422.3,1475 1423,1464.8 1423.7,1484.5 1424.4,1464.7 1425.1,1473.7 1425.8,1460.2 1426.5,1455.9 1427.2,1485.2 1427.8,1464.9 1428.5,1470.7 1429.2,1484.4 1429.9,1463.3 1430.5,1485.5 1431.2,1473.2 1431.8,1477 1433.2,1475.8 1433.8,1474.3 1434.5,1472.7 1435.1,1485.5 1435.8,1480.6 1436.4,1470.9 1437,1470.9 1437.7,1472.1 1438.3,1467.5 1438.9,1485.6 1439.6,1481.5 1440.2,1479.6 1440.8,1474.5 1441.5,1473.5 1442.1,1469.9 1442.7,1475.8 1443.3,1477.6 1443.9,1487.5 1444.5,1478.2 1445.1,1488 1445.8,1487.8 1446.4,1483.9 1447,1475.9 1447.6,1467.2 1448.2,1488.5 1448.8,1488.4 1449.3,1464.9 1449.9,1457.4 1450.5,1479.5 1451.1,1472 1451.7,1471.4 1452.3,1473.9 1452.9,1485.1 1453.4,1475.5 1454,1482.5 1454.6,1485 1455.2,1469.3 1455.7,1482.8 1456.3,1482.3 1456.9,1485.1 1457.4,1475 1458,1484.6 1458.6,1482 1459.1,1480.8 1459.7,1480.4 1460.2,1480.9 1460.8,1479.9 1461.3,1481.2 1461.9,1491.1 1462.4,1473.3 1463,1485.2 1463.5,1483.5 1464.1,1490.8 1464.6,1486.5 1465.2,1487 1465.7,1482 1466.2,1488.4 1466.8,1483.1 1467.8,1474 1468.4,1470.9 1468.9,1490.1 1469.4,1493.2 1469.9,1473.1 1470.5,1483.9 1471.5,1471.6 1472,1494.8 1472.5,1475.3 1473,1465.7 1473.6,1480 1474.1,1485.2 1474.6,1488.6 1475.1,1495 1475.6,1480.7 1476.1,1486 1476.6,1491.6 1477.1,1477.9 1477.6,1482.4 1478.1,1487.4 1478.6,1477.1 1479.1,1495.2 1479.6,1480.9 1480.1,1487.6 1480.6,1485.1 1481.1,1487.5 1481.5,1474.6 1482,1470.7 1482.5,1491.9 1483,1476.3 1483.5,1477.7 1484,1481.5 1484.4,1471.6 1484.9,1466.2 1485.4,1495.6 1485.9,1479.8 1486.3,1476.1 1486.8,1482.3 1487.3,1491.1 1487.8,1482.3 1488.2,1492.8 1488.7,1480.2 1489.2,1474.1 1489.6,1466.2 1490.1,1484.8 1490.5,1476.7 1491,1478.2 1491.5,1480.8 1491.9,1469.7 1492.4,1484.9 1492.8,1475.6 1493.3,1467.5 1493.7,1474.2 1494.2,1490.7 1494.6,1480.6 1495.1,1472.9 1495.5,1478.5 1496,1482.8 1496.4,1482.1 1496.9,1484.5 1497.3,1470.2 1497.8,1482.3 1498.2,1472.5 1498.6,1473 1499.1,1467.8 1499.5,1462.3 1500,1480.3 1500.4,1486.3 1500.8,1476.5 1501.3,1463.8 1501.7,1471.6 1502.1,1477.3 1502.5,1462.2 1503,1474.4 1503.4,1475.6 1503.8,1458.4 1504.2,1480.6 1504.7,1475.6 1505.1,1466.5 1505.5,1475.4 1505.9,1474 1506.4,1472.7 1506.8,1478 1507.2,1477.8 1507.6,1462 1508,1471.6 1508.4,1486.7 1508.8,1471.6 1509.3,1479.4 1509.7,1478.6 1510.1,1460.1 1510.5,1465.8 1510.9,1469.1 1511.3,1471.4 1511.7,1479.9 1512.1,1473.4 1512.5,1467.3 1512.9,1466.3 1513.3,1484.4 1513.7,1473.6 1514.1,1472.8 1514.5,1465.9 1514.9,1475.7 1515.3,1469.8 1515.7,1481 1516.1,1476.2 1516.5,1467.1 1516.9,1465.2 1517.3,1466.4 1517.7,1468.8 1518.1,1476.7 1518.5,1470.6 1518.8,1467.7 1519.2,1467.8 1519.6,1468.3 1520,1460.2 1520.4,1467.9 1520.8,1465.1 1521.2,1461.8 1521.5,1458.2 1521.9,1456 1522.3,1470.8 1522.7,1455.1 1523.1,1458.8 1523.4,1457.1 1523.8,1455.8 1524.2,1464.4 1524.6,1458.9 1524.9,1446.5 1525.3,1444.6 1525.7,1472.5 1526.1,1472 1526.4,1445.8 1526.8,1459.6 1527.2,1457.1 1527.5,1450.1 1527.9,1450.6 1528.3,1459.3 1528.6,1448.4 1529,1449.6 1529.4,1461.4 1529.7,1453.3 1530.1,1446.5 1530.5,1443.3 1530.8,1451.4 1531.2,1445 1531.5,1446 1531.9,1450.2 1532.3,1441.3 1532.6,1444.1 1533,1442.2 1533.3,1447.3 1533.7,1445.4 1534,1437.7 1534.4,1439.5 1534.7,1431.1 1535.1,1432.2 1535.4,1432 1535.8,1432.5 1536.1,1430.1 1536.5,1430.8 1536.8,1428.5 1537.2,1423.1 1537.5,1420.9 1537.9,1420 1538.2,1425 1538.6,1424.4 1538.9,1420.8 1539.3,1417.2 1539.6,1416.4 1539.9,1414.9 1540.3,1411.6 1540.6,1412.7 1541,1409 1541.3,1408 1541.6,1406.3 1542,1403.2 1542.3,1402.7 1542.6,1399.5 1543,1398.3 1543.3,1396.2 1543.6,1391.5 1544,1390.8 1544.3,1386.2 1544.6,1386.3 1545,1383.2 1545.3,1380.4 1545.6,1376.8 1546,1376.3 1546.3,1372.1 1546.6,1370.3 1546.9,1366.9 1547.3,1362.3 1547.6,1359.1 1547.9,1354.3 1548.3,1350.6 1548.6,1348.8 1548.9,1345.8 1549.2,1340.8 1549.5,1338.6 1549.9,1334.1 1550.2,1331.9 1550.5,1330.2 1550.8,1323.6 1551.1,1321.4 1551.5,1316.1 1551.8,1312.4 1552.1,1308.4 1552.4,1304.9 1552.7,1301 1553,1298.3 1553.4,1293.1 1553.7,1290.6 1554,1288.6 1554.3,1284.1 1554.6,1279.1 1554.9,1277 1555.2,1273.7 1555.5,1271.2 1555.9,1270 1556.2,1264.2 1556.5,1263.7 1556.8,1260.3 1557.1,1262.4 1557.4,1261.1 1557.7,1258.2 1558,1255.2 1558.3,1254.3 1558.6,1254.3 1558.9,1254.1 1559.2,1254.9 1559.5,1256.2 1559.8,1255.6 1560.1,1257 1560.4,1257.2 1560.7,1258.3 1561,1261.6 1561.3,1263.1 1561.6,1262.3 1561.9,1267.9 1562.2,1268.5 1562.5,1272.5 1562.8,1273.7 1563.1,1275.9 1563.4,1280.7 1563.7,1282.3 1564,1285.3 1564.3,1290 1564.6,1289.9 1564.9,1295.3 1565.2,1296.3 1565.5,1303.7 1565.8,1307.2 1566.1,1309.1 1566.3,1310.8 1566.6,1314.9 1566.9,1318.3 1567.2,1323 1567.5,1325.3 1567.8,1327.6 1568.1,1330.4 1568.4,1335 1568.7,1338.5 1568.9,1340.8 1569.2,1341.6 1569.5,1345.5 1569.8,1349.6 1570.1,1353.8 1570.4,1355.1 1570.6,1358.4 1570.9,1361.4 1571.2,1368.3 1571.5,1363.6 1571.8,1369.6 1572.1,1370.5 1572.3,1373.1 1572.6,1374.8 1572.9,1379 1573.2,1380.3 1573.5,1382.7 1573.7,1381.9 1574,1386.7 1574.3,1389.5 1574.6,1391.3 1574.8,1390.3 1575.1,1392.5 1575.4,1397.7 1575.7,1397.7 1575.9,1398.5 1576.2,1401.4 1576.5,1400.7 1576.8,1402.5 1577,1402 1577.3,1406.7 1577.6,1406.4 1577.8,1404.1 1578.1,1408.5 1578.4,1410.5 1578.7,1409 1578.9,1409.1 1579.2,1414.8 1579.5,1412.8 1579.7,1410.6 1580,1418.4 1580.3,1420.2 1580.5,1416.5 1580.8,1418.7 1581.1,1418.8 1581.3,1422.1 1581.6,1424.8 1581.9,1425.3 1582.1,1424.8 1582.4,1435 1582.6,1424 1582.9,1417.1 1583.2,1431.4 1583.4,1435.7 1583.7,1421.7 1584,1426.4 1584.2,1428.3 1584.5,1437.7 1584.7,1440.2 1585,1428.1 1585.3,1427.2 1585.5,1437.5 1585.8,1429.8 1586,1430.1 1586.3,1435 1586.5,1442.1 1586.8,1440.5 1587.1,1445.9 1587.3,1453.9 1587.6,1454.9 1587.8,1437.7 1588.1,1435.4 1588.3,1445.3 1588.6,1442.3 1588.8,1427.7 1589.1,1439.9 1589.3,1433.8 1589.6,1430.8 1589.8,1452.2 1590.1,1436 1590.3,1456 1590.6,1439.6 1590.8,1453.1 1591.1,1437 1591.3,1454.8 1591.6,1451.9 1591.8,1438 1592.1,1450.3 1592.3,1449.6 1592.6,1437.3 1592.8,1440.9 1593.1,1451.6 1593.3,1442.4 1593.6,1441.1 1593.8,1449.7 1594.1,1444.4 1594.3,1445 1594.6,1445.9 1594.8,1441.5 1595,1435.4 1595.3,1450.5 1595.5,1433.7 1595.8,1443.8 1596,1455.3 1596.3,1452.1 1596.5,1441.4 1596.7,1441.8 1597,1432.3 1597.2,1453.9 1597.5,1455.5 1597.7,1465.5 1597.9,1463.2 1598.2,1460.5 1598.4,1446.6 1598.7,1460.4 1598.9,1446.9 1599.1,1459.7 1599.4,1458.3 1599.6,1441 1599.8,1446.6 1600.1,1456.9 1600.3,1440.7 1600.6,1465.5 1600.8,1452.6 1601,1467.9 1601.3,1444.8 1601.5,1449.3 1601.7,1459 1602,1459.6 1602.2,1442.2 1602.4,1454.9 1602.7,1464.6 1602.9,1473.2 1603.1,1442.4 1603.4,1440 1603.6,1444.6 1603.8,1448.9 1604.1,1455 1604.3,1459.3 1604.5,1466.5 1604.7,1449.8 1605,1458.7 1605.2,1450.8 1605.4,1457.1 1605.7,1456.7 1605.9,1447.5 1606.1,1456.1 1606.3,1427.2 1606.6,1442.8 1606.8,1461.3 1607,1456.9 1607.3,1443.1 1607.5,1432.2 1607.7,1474.5 1607.9,1459.5 1608.2,1478.6 1608.4,1455.1 1608.6,1461.4 1608.8,1456.4 1609.1,1447.5 1609.3,1473 1609.5,1466.4 1609.7,1456.5 1609.9,1465.6 1610.2,1465.6 1610.4,1475 1610.6,1482.7 1610.8,1461.2 1611.1,1440.5 1611.3,1440 1611.5,1429.7 1611.7,1448.2 1611.9,1462.5 1612.2,1479.5 1612.4,1456 1612.6,1467.4 1612.8,1465.6 1613,1476.8 1613.3,1475 1613.5,1451 1613.7,1467.6 1613.9,1463.6 1614.1,1455.7 1614.3,1446.5 1614.6,1474.7 1614.8,1438.3 1615,1462.1 1615.2,1465.9 1615.4,1456.5 1615.6,1483.5 1615.9,1467.6 1616.1,1460.7 1616.3,1466.6 1616.5,1470.6 1616.7,1456.1 1616.9,1461.1 1617.1,1468.2 1617.3,1469.4 1617.6,1464.5 1617.8,1470.5 1618,1447.1 1618.2,1454.2 1618.4,1475.7 1618.6,1467.5 1618.8,1477 1619,1455.8 1619.3,1456.1 1619.5,1464.3 1619.7,1462 1619.9,1457.2 1620.1,1460.6 1620.3,1445.8 1620.5,1463.3 1620.7,1450.2 1620.9,1438.9 1621.1,1478.1 1621.3,1473 1621.5,1479.9 1621.8,1469.6 1622,1463.9 1622.2,1458.2 1622.4,1484.2 1622.6,1463.9 1622.8,1467.6 1623,1449.4 1623.2,1476.2 1623.4,1459.1 1623.6,1445.2 1623.8,1456.9 1624,1458.6 1624.2,1479.4 1624.4,1476.3 1624.6,1484.9 1624.8,1444.2 1625,1461.9 1625.2,1458.2 1625.4,1458 1625.6,1443.3 1625.8,1467.5 1626,1457 1626.2,1476.5 1626.5,1445.4 1626.7,1468.6 1626.9,1479.7 1627.1,1470.7 1627.3,1492.9 1627.5,1477.6 1627.7,1466.9 1627.9,1470.5 1628.1,1465.9 1628.3,1469.3 1628.5,1477.2 1628.6,1451.7 1628.8,1482.7 1629,1475.8 1629.2,1473 1629.4,1457.6 1629.6,1462.6 1629.8,1472.6 1630,1471.4 1630.2,1450.7 1630.4,1446.2 1630.6,1465.5 1630.8,1475.1 1631,1460.7 1631.2,1442.4 1631.4,1472.4 1631.6,1459.6 1631.8,1478.2 1632,1465.7 1632.2,1454.2 1632.4,1460.5 1632.6,1475.8 1632.8,1469.2 1633,1470 1633.2,1457.9 1633.3,1479.7 1633.5,1466.7 1633.7,1450.3 1633.9,1449.1 1634.1,1460.2 1634.3,1448.1 1634.5,1458.3 1634.7,1456 1634.9,1440.3 1635.1,1475.7 1635.3,1454.1 1635.5,1489.3 1635.6,1474.8 1635.8,1464.3 1636,1464 1636.2,1446.2 1636.4,1462.5 1636.6,1442.2 1636.8,1474.3 1637,1464.6 1637.2,1472.2 1637.4,1493.9 1637.5,1470.7 1637.7,1463.4 1637.9,1473.4 1638.1,1474.9 1638.3,1474.5 1638.5,1478.3 1638.7,1472.4 1638.9,1485.9 1639,1463.2 1639.4,1491 1639.6,1469.9 1639.8,1460.3 1640,1470.3 1640.2,1485.7 1640.3,1469.5 1640.5,1485.6 1640.7,1461 1640.9,1444.1 1641.1,1461.5 1641.3,1479.6 1641.4,1458.4 1641.6,1448.5 1641.8,1480.2 1642,1455.5 1642.2,1471.5 1642.4,1460.5 1642.5,1456.7 1642.7,1478.6 1642.9,1484.3 1643.1,1433.5 1643.3,1443.6 1643.5,1445.9 1643.6,1459.6 1643.8,1461.7 1644,1457.5 1644.2,1469.9 1644.4,1466.6 1644.5,1458.7 1644.7,1458.2 1644.9,1468.3 1645.1,1471.9 1645.3,1444.5 1645.4,1469.6 1645.6,1475.6 1645.8,1464.2 1646,1472.3 1646.2,1489.9 1646.3,1483.8 1646.7,1489.5 1646.9,1451.3 1647,1469.9 1647.4,1476.2 1647.6,1448.8 1647.7,1487.6 1647.9,1453.6 1648.1,1482.7 1648.3,1474.2 1648.5,1473.2 1648.6,1456.7 1648.8,1477.4 1649,1471.5 1649.2,1480.4 1649.3,1454.7 1649.5,1464.5 1649.7,1486.4 1649.9,1479.8 1650,1474 1650.2,1471.6 1650.4,1470.3 1650.6,1463.6 1650.7,1468.2 1650.9,1452.4 1651.1,1479.6 1651.2,1462.9 1651.4,1448.9 1651.6,1457.5 1651.8,1457.9 1651.9,1470.6 1652.1,1481.4 1652.3,1490.3 1652.5,1476.9 1652.6,1478 1652.8,1448.5 1653,1482.9 1653.1,1460.1 1653.3,1464.4 1653.5,1440.5 1653.7,1480.8 1653.8,1447.7 1654,1486.5 1654.2,1458.2 1654.3,1446.7 1654.5,1474.8 1654.7,1462.1 1654.8,1452.7 1655,1478.1 1655.2,1481.2 1655.3,1487.9 1655.5,1467.5 1655.7,1481.5 1655.9,1442.7 1656,1466.7 1656.2,1451 1656.4,1466.1 1656.5,1436.4 1656.7,1447.7 1656.9,1470.3 1657,1466.1 1657.2,1495.6 1657.4,1462.5 1657.5,1481 1657.7,1455.2 1657.9,1455.6 1658,1477.9 1658.2,1453 1658.4,1483.3 1658.5,1479.5 1658.7,1494.2 1658.9,1476.1 1659,1477.2 1659.2,1459.1 1659.3,1454.9 1659.5,1471.6 1659.7,1452.5 1659.8,1449.1 1660.2,1472.4 1660.3,1470.5 1660.5,1442.2 1660.7,1456.4 1660.8,1462.7 1661,1476.1 1661.1,1459.8 1661.3,1448.3 1661.5,1468.7 1661.6,1481.7 1661.8,1453 1662,1489 1662.1,1471.6 1662.3,1453.6 1662.4,1480.2 1662.6,1469.4 1662.8,1486.2 1662.9,1443.3 1663.1,1467.7 1663.3,1459 1663.4,1475.1 1663.6,1439.4 1663.7,1446.8 1663.9,1465.4 1664.1,1459.4 1664.2,1490.9 1664.4,1463.1 1664.5,1448.6 1664.7,1474 1664.9,1471 1665,1472.3 1665.2,1460.3 1665.3,1463.9 1665.5,1491 1665.6,1456.5 1665.8,1473 1666,1467.6 1666.1,1473 1666.3,1475.6 1666.4,1464.3 1666.6,1484.6 1666.8,1486.9 1666.9,1470 1667.1,1450.6 1667.2,1472.5 1667.4,1470.9 1667.5,1469.9 1667.7,1466.2 1667.9,1473.4 1668,1445.6 1668.2,1462.6 1668.3,1466.1 1668.5,1461.6 1668.6,1456.3 1668.8,1450.3 1668.9,1468.8 1669.1,1464.8 1669.3,1462.6 1669.4,1475.2 1669.6,1475.7 1669.7,1469 1669.9,1461.2 1670,1467.6 1670.3,1484 1670.5,1464.9 1670.6,1473.3 1670.8,1467.3 1670.9,1474.3 1671.1,1451.9 1671.3,1460.6 1671.4,1456 1671.6,1484.2 1671.7,1451.1 1671.9,1476.6 1672,1439.6 1672.2,1472.8 1672.3,1469.2 1672.5,1493.7 1672.6,1463.6 1672.8,1480 1672.9,1476.5 1673.1,1455.4 1673.2,1434.9 1673.4,1475.1 1673.5,1485.1 1673.8,1476.4 1674,1462 1674.1,1486.8 1674.3,1481.5 1674.4,1446.9 1674.6,1450.8 1674.7,1449.9 1674.9,1482.1 1675,1478.3 1675.2,1482.8 1675.3,1472 1675.5,1471.2 1675.6,1460.5 1675.8,1457.1 1675.9,1458.8 1676.1,1455 1676.2,1452.8 1676.4,1471.5 1676.5,1471.2 1676.7,1477 1676.8,1436.3 1677,1468.6 1677.1,1479.4 1677.3,1478.8 1677.4,1472.2 1677.6,1467 1677.7,1468.5 1677.9,1465.9 1678,1442.7 1678.2,1476.7 1678.3,1465.3 1678.4,1447 1678.6,1486.2 1678.7,1481.8 1678.9,1450.5 1679,1482.6 1679.2,1460.4 1679.3,1479.7 1679.5,1455.6 1679.6,1440.1 1679.8,1476.7 1679.9,1480.4 1680.1,1466.1 1680.2,1482.1 1680.3,1484.7 1680.5,1478.6 1680.6,1470.7 1680.8,1443.3 1680.9,1454.7 1681.1,1450.5 1681.2,1452.7 1681.4,1470.6 1681.5,1483 1681.6,1456.4 1681.8,1479.5 1681.9,1446.9 1682.1,1471.3 1682.2,1477.5 1682.4,1459.5 1682.5,1461.7 1682.6,1458.7 1682.8,1473.9 1682.9,1461.6 1683.1,1487.1 1683.2,1459.9 1683.4,1488.7 1683.5,1462.4 1683.6,1461.3 1683.8,1450.8 1683.9,1459.5 1684.1,1480.6 1684.2,1470.7 1684.3,1454.4 1684.5,1454.3 1684.6,1474.5 1684.8,1459.5 1684.9,1445.1 1685.1,1476.9 1685.2,1458.8 1685.3,1458.8 1685.5,1468 1685.6,1461.5 1685.8,1444.4 1685.9,1459.5 1686,1463.2 1686.2,1467.6 1686.3,1471.2 1686.5,1483.8 1686.6,1481.5 1686.7,1488.1 1686.9,1470 1687,1480.5 1687.2,1490.8 1687.3,1449.8 1687.4,1469.6 1687.6,1452.3 1687.7,1446.4 1687.8,1443.9 1688,1467.1 1688.3,1459.5 1688.4,1467.2 1688.5,1488.6 1688.8,1450.5 1688.9,1450.4 1689.1,1447.1 1689.2,1444.7 1689.4,1448.2 1689.5,1458.4 1689.6,1460.3 1689.8,1451.1 1689.9,1457.9 1690,1463.7 1690.2,1456.4 1690.3,1473.2 1690.5,1477.7 1690.6,1436.4 1690.7,1432.5 1690.9,1447.1 1691,1477.2 1691.1,1471.3 1691.3,1450.9 1691.4,1458.2 1691.5,1467.7 1691.7,1439.3 1691.8,1464.3 1691.9,1465.2 1692.1,1465.2 1692.2,1475 1692.4,1451.2 1692.5,1490.5 1692.6,1464.7 1692.8,1454.7 1692.9,1441.6 1693,1455.8 1693.2,1482.8 1693.3,1453.2 1693.4,1453.8 1693.6,1463.9 1693.7,1473.9 1693.8,1483.9 1694,1470.4 1694.1,1462.3 1694.2,1424 1694.4,1457.6 1694.5,1463 1694.6,1490.9 1694.8,1483.3 1694.9,1474.5 1695,1467.6 1695.2,1467.4 1695.3,1449.6 1695.4,1442.6 1695.6,1446.6 1695.7,1475.4 1695.8,1472.2 1695.9,1477.9 1696.1,1487.7 1696.2,1485.2 1696.3,1459.5 1696.5,1477.8 1696.6,1456.1 1696.7,1469.7 1696.9,1473 1697,1464.7 1697.1,1464.1 1697.3,1422.5 1697.4,1475.8 1697.5,1460.9 1697.7,1486.1 1697.8,1471.4 1697.9,1443.6 1698,1456.6 1698.2,1437.2 1698.3,1491 1698.4,1478.5 1698.6,1463.4 1698.7,1481.5 1698.8,1475.8 1698.9,1486.1 1699.1,1455.3 1699.2,1471.6 1699.3,1466.9 1699.5,1485.2 1699.6,1471.8 1699.7,1440.1 1699.9,1454.4 1700,1465.5 1700.1,1478.6 1700.2,1469.9 1700.4,1464.6 1700.5,1436.5 1700.6,1462.6 1700.7,1469.2 1700.9,1468.4 1701,1481.9 1701.1,1462.1 1701.3,1481.3 1701.4,1476.8 1701.5,1472.2 1701.6,1433 1701.8,1439.5 1701.9,1468.8 1702,1453.1 1702.2,1462.7 1702.3,1456 1702.4,1466.6 1702.5,1454 1702.7,1439.6 1702.8,1466.1 1702.9,1445.9 1703,1465.1 1703.2,1452.2 1703.3,1481.3 1703.4,1456.1 1703.5,1477.6 1703.7,1476.2 1703.8,1463.6 1703.9,1430.7 1704,1459.9 1704.2,1447 1704.3,1456 1704.4,1469.3 1704.5,1483.3 1704.7,1480.4 1704.8,1492.4 1704.9,1458.9 1705,1466.1 1705.2,1463.2 1705.3,1457.8 1705.4,1435 1705.5,1470.2 1705.7,1460.7 1705.8,1457 1705.9,1453.6 1706,1468.5 1706.2,1445 1706.3,1474.2 1706.4,1464.2 1706.5,1492.1 1706.7,1462.4 1706.8,1467.6 1706.9,1470.9 1707,1476 1707.1,1457.3 1707.3,1452.9 1707.4,1426.3 1707.5,1474 1707.6,1455.6 1707.8,1456 1707.9,1444.4 1708,1473.1 1708.1,1474.6 1708.3,1465 1708.4,1474 1708.5,1464.3 1708.6,1475.9 1708.7,1463.6 1708.9,1448.2 1709,1463.6 1709.1,1458.2 1709.2,1452.9 1709.3,1452.5 1709.5,1459.1 1709.6,1489.3 1709.7,1482.2 1709.8,1443 1710,1476.8 1710.1,1467.4 1710.2,1449.2 1710.3,1478.7 1710.6,1478.7 1710.7,1453 1710.8,1450.4 1710.9,1455.8 1711,1430.5 1711.2,1446.4 1711.3,1494.5 1711.4,1493.5 1711.5,1468.2 1711.6,1493.8 1711.8,1451.2 1711.9,1495.6 1712,1465.4 1712.1,1481.7 1712.2,1456.9 1712.4,1434.8 1712.5,1464.7 1712.7,1476.6 1712.8,1478.5 1712.9,1465.3 1713.1,1443.1 1713.2,1472.9 1713.3,1477 1713.4,1488 1713.5,1490.9 1713.7,1486.2 1713.8,1468.8 1713.9,1456.8 1714,1463.3 1714.1,1474.7 1714.3,1460.8 1714.4,1477 1714.5,1450.4 1714.6,1486.2 1714.7,1491.7 1714.8,1464.6 1715,1476.1 1715.1,1445.3 1715.2,1475.5 1715.3,1460.8 1715.4,1460.9 1715.5,1447.1 1715.7,1445.9 1715.8,1486.2 1715.9,1495.6 1716,1477.8 1716.1,1456.7 1716.2,1453 1716.4,1475.3 1716.5,1436.5 1716.6,1467.7 1716.7,1444.5 1716.8,1466.8 1716.9,1487.3 1717.1,1473.7 1717.2,1451.8 1717.3,1449.2 1717.4,1463.2 1717.5,1432.6 1717.6,1460.7 1717.7,1454.5 1717.9,1455.8 1718,1468.9 1718.1,1482.3 1718.2,1462.6 1718.3,1466 1718.4,1470.8 1718.6,1459.3 1718.7,1468.5 1718.8,1447.5 1718.9,1450.3 1719,1471 1719.1,1440.9 1719.2,1464.2 1719.4,1487.3 1719.5,1483.3 1719.6,1470.6 1719.7,1454.7 1719.8,1472.6 1719.9,1445.9 1720,1429.9 1720.2,1477.6 1720.3,1461.2 1720.4,1476.6 1720.5,1443.5 1720.6,1490.8 1720.7,1450.2 1720.8,1469.7 1720.9,1461.5 1721.1,1459.4 1721.2,1473 1721.3,1476.7 1721.4,1435.1 1721.5,1454.5 1721.6,1457.4 1721.7,1440.4 1721.8,1474 1722,1449.4 1722.1,1466.1 1722.2,1488.3 1722.3,1474.4 1722.4,1461.2 1722.5,1477.2 1722.6,1478.7 1722.7,1453.1 1722.9,1461.6 1723,1471.3 1723.1,1488.2 1723.2,1454.5 1723.3,1446.2 1723.4,1461.8 1723.5,1453.8 1723.6,1466.2 1723.7,1445.4 1723.9,1447.3 1724,1458.8 1724.1,1448.4 1724.2,1464.6 1724.3,1440 1724.4,1446.2 1724.5,1465.4 1724.6,1444.2 1724.7,1458.9 1724.9,1466 1725,1459.7 1725.1,1470.9 1725.2,1454.1 1725.3,1464.5 1725.4,1462.2 1725.5,1432.2 1725.7,1469.3 1725.8,1442.9 1726,1475.4 1726.1,1483.1 1726.2,1442.9 1726.3,1437.1 1726.4,1469.3 1726.5,1459.1 1726.6,1469.1 1726.7,1477.4 1726.8,1454.5 1726.9,1453.2 1727.1,1462.7 1727.2,1479.5 1727.3,1460.9 1727.4,1472.5 1727.5,1472 1727.6,1460.2 1727.7,1463 1727.8,1484.9 1727.9,1451.9 1728,1470.4 1728.1,1468.9 1728.2,1481.3 1728.4,1475.3 1728.5,1486.9 1728.6,1466.3 1728.7,1476.6 1728.8,1471.1 1728.9,1446.7 1729,1475.3 1729.1,1450.9 1729.2,1477.8 1729.3,1465.1 1729.4,1490 1729.5,1463.2 1729.6,1455.7 1729.9,1478.9 1730,1459.2 1730.1,1462.3 1730.2,1475.1 1730.3,1468.3 1730.4,1456.9 1730.5,1460.3 1730.6,1490.4 1730.7,1454.1 1730.8,1477 1730.9,1463.6 1731,1463.2 1731.1,1470 1731.2,1446.8 1731.4,1454.8 1731.5,1458.2 1731.6,1438.6 1731.7,1471.9 1731.8,1466.9 1731.9,1450.7 1732,1466.1 1732.1,1478.9 1732.2,1457.6 1732.3,1454.8 1732.4,1485.1 1732.5,1455.7 1732.6,1474.6 1732.7,1465.2 1732.8,1462.4 1732.9,1443.4 1733,1460.3 1733.1,1448.1 1733.3,1468.7 1733.4,1460 1733.5,1474.1 1733.6,1444.6 1733.7,1464.2 1733.8,1473.4 1733.9,1449.2 1734,1452.6 1734.1,1457.3 1734.2,1459.3 1734.3,1459.6 1734.4,1459.6 1734.5,1464.8 1734.6,1470.2 1734.7,1458.8 1734.8,1470.6 1734.9,1442.2 1735,1463.6 1735.1,1465.4 1735.2,1491.5 1735.3,1470.3 1735.4,1466.4 1735.5,1491.9 1735.6,1474.6 1735.8,1476.6 1735.9,1466.6 1736,1452.9 1736.1,1492 1736.2,1458.2 1736.3,1448.3 1736.4,1448.7 1736.5,1466.3 1736.6,1488.8 1736.7,1455.6 1736.8,1463.1 1736.9,1455 1737,1454 1737.1,1467.7 1737.2,1486.3 1737.3,1475.9 1737.4,1487.4 1737.5,1460.1 1737.6,1471 1737.7,1495.6 1737.8,1495.6 1737.9,1458.1 1738,1487.6 1738.1,1492.9 1738.2,1450.2 1738.3,1469.7 1738.4,1477.2 1738.5,1466.6 1738.6,1444.9 1738.7,1467.4 1738.8,1446 1738.9,1456.1 1739,1467.5 1739.1,1453.4 1739.2,1482.5 1739.3,1486.5 1739.4,1476.3 1739.5,1449.5 1739.6,1477 1739.7,1470.8 1739.8,1480.1 1739.9,1465.4 1740,1474.9 1740.1,1456.4 1740.2,1478.2 1740.3,1466.8 1740.4,1452.9 1740.5,1480.4 1740.6,1483.4 1740.7,1482.6 1740.8,1493.8 1740.9,1451.2 1741,1465 1741.1,1453 1741.2,1473.6 1741.3,1465.4 1741.4,1451.2 1741.5,1461 1741.6,1445.4 1741.7,1468.7 1741.8,1495.6 1741.9,1485.1 1742,1481 1742.1,1469.4 1742.2,1479.4 1742.3,1483.9 1742.4,1475.1 1742.5,1488.5 1742.6,1466.4 1742.7,1468.3 1742.8,1457.9 1742.9,1445 1743,1468.7 1743.1,1440.2 1743.2,1474.5 1743.3,1475.3 1743.4,1474.5 1743.5,1481 1743.6,1448.1 1743.8,1460.9 1743.9,1460.9 1744,1463.6 1744.1,1468.3 1744.2,1456.7 1744.3,1446.8 1744.4,1471.3 1744.5,1464.2 1744.6,1448.9 1744.8,1452.4 1744.9,1479.9 1745,1472.1 1745.1,1451.4 1745.2,1455.6 1745.3,1465.3 1745.4,1472.3 1745.5,1476" fill="none" stroke="none" marker-start="url(#mdg)" marker-mid="url(#mdg)" marker-end="url(#mdg)"/>
<polyline points="1034.7,1107.4 1041.2,1100 1047.5,1098.9 1053.5,1101.2 1059.3,1103.6 1065,1105.4 1070.4,1109.7 1075.7,1111.8 1080.8,1114.3 1085.7,1117.9 1090.5,1119.8 1095.2,1124 1099.7,1127 1104.1,1126.7 1108.4,1132.7 1112.6,1133.5 1116.7,1136.5 1120.7,1140 1124.6,1141.1 1128.4,1145.3 1132.1,1147.7 1135.7,1148.4 1139.3,1153.7 1142.8,1155.8 1146.2,1156.9 1149.5,1159.3 1152.8,1160.5 1156,1165.4 1159.1,1165 1162.2,1168.4 1165.2,1170 1168.2,1173.3 1171.1,1175.3 1174,1172.7 1176.8,1177.7 1179.6,1180.2 1182.3,1179.8 1185,1182.5 1187.6,1190.1 1190.2,1188.2 1192.8,1189.1 1195.3,1193.1 1197.8,1194.9 1200.2,1195.5 1202.6,1199.1 1205,1201.2 1207.3,1204.6 1209.7,1205.6 1211.9,1207.9 1214.2,1209.7 1216.4,1210.7 1218.6,1214.7 1220.7,1219.7 1222.8,1220.5 1224.9,1219.6 1227,1224.1 1229.1,1225.6 1231.1,1225.8 1233.1,1225.6 1235,1233.8 1237,1230.8 1238.9,1234.3 1240.8,1237 1242.7,1241.5 1244.6,1242.6 1246.4,1240.9 1248.2,1247.4 1250,1242.9 1251.8,1247.5 1253.6,1250 1255.3,1255.2 1257,1253.5 1258.7,1253.7 1260.4,1256.4 1262.1,1258.1 1263.7,1260.2 1265.4,1261.5 1267,1262.5 1268.6,1262.2 1270.2,1268.7 1271.8,1269.4 1273.3,1269.1 1274.9,1273.4 1276.4,1277.4 1277.9,1275.6 1279.4,1278.7 1280.9,1276.7 1282.4,1278 1283.9,1280 1285.3,1281.1 1286.7,1283.3 1288.2,1288 1289.6,1291.9 1291,1289.8 1292.4,1287.9 1293.7,1293.5 1295.1,1293 1296.5,1296.2 1297.8,1299.2 1299.1,1305.3 1300.4,1303.6 1301.8,1302.6 1303.1,1308.1 1304.3,1309.7 1305.6,1314.3 1306.9,1317.3 1308.2,1317.2 1309.4,1321 1310.6,1315.3 1311.9,1315.5 1313.1,1326.4 1314.3,1321.1 1315.5,1324.2 1316.7,1328.7 1317.9,1328.5 1319.1,1324.3 1320.2,1332.5 1321.4,1331.7 1322.6,1337.4 1323.7,1337.3 1324.8,1347.2 1326,1340.5 1327.1,1339.4 1328.2,1349.8 1329.3,1345 1330.4,1354 1331.5,1344.1 1332.6,1349.2 1333.7,1347.5 1334.7,1358.2 1335.8,1350.8 1336.9,1351.9 1337.9,1359.9 1339,1350.7 1340,1347.8 1341,1358.9 1342,1362.2 1343.1,1356.6 1344.1,1348.7 1345.1,1363 1346.1,1368.2 1347.1,1363.3 1348.1,1370.6 1349,1365.9 1350,1374 1351,1374.8 1352,1356.4 1352.9,1366 1353.9,1374.4 1354.8,1374.8 1355.7,1360.3 1356.7,1376.4 1357.6,1366.5 1358.5,1371.1 1359.5,1367.7 1360.4,1371.8 1361.3,1383.6 1362.2,1386.2 1363.1,1378.2 1364,1381.6 1364.9,1371.9 1365.8,1384.6 1366.6,1396.4 1367.5,1385.1 1368.4,1365.5 1369.3,1398.1 1370.1,1386.6 1371,1377.8 1371.8,1370.2 1372.7,1384.1 1373.5,1371.8 1374.4,1392.4 1375.2,1385.4 1376,1393.2 1376.9,1408.8 1377.7,1388.7 1378.5,1415.6 1379.3,1373.2 1380.1,1369.2 1380.9,1380.9 1381.7,1404.8 1382.5,1399.5 1383.3,1391.2 1384.1,1383.7 1384.9,1401.7 1385.7,1404.3 1386.5,1397.2 1387.3,1383.9 1388,1407.4 1388.8,1383.3 1389.6,1401.5 1390.3,1410.6 1391.1,1407.2 1391.8,1413.3 1392.6,1403 1393.3,1411 1394.1,1418.7 1394.8,1405.4 1395.6,1417.8 1396.3,1411.4 1397,1398.3 1397.8,1399.6 1398.5,1412 1399.2,1412 1399.9,1414.7 1400.6,1458.4 1401.3,1423.1 1402.1,1420.9 1402.8,1405.8 1403.5,1399.8 1404.2,1424.5 1404.9,1430.9 1405.6,1439 1406.3,1414 1406.9,1411.9 1407.6,1430.6 1408.3,1405.9 1409,1407.2 1409.7,1425.4 1410.3,1428.7 1411,1430.6 1411.7,1423 1412.3,1458.8 1413,1453 1413.7,1429.8 1414.3,1422.2 1415,1410.9 1415.6,1464.5 1416.3,1405.8 1416.9,1458.4 1417.6,1421.9 1418.2,1426.1 1418.9,1452.3 1419.5,1425.8 1420.1,1435 1420.8,1435.1 1421.4,1429 1422,1453 1422.7,1451.5 1423.3,1462.6 1423.9,1424.2 1424.5,1425.8 1425.1,1451.2 1425.7,1453.5 1426.4,1435.3 1427,1451.1 1427.6,1429.8 1428.2,1424.6 1428.8,1458.2 1429.4,1435.4 1430,1446.8 1430.6,1422.9 1431.2,1470.7 1431.8,1418.9 1432.3,1442.5 1432.9,1437.6 1433.5,1448.5 1434.1,1475.6 1434.7,1435.8 1435.3,1422.7 1435.8,1425.6 1436.4,1442.1 1437,1465 1437.6,1468.4 1438.1,1427.8 1438.7,1444.1 1439.3,1437.8 1439.8,1450.6 1440.4,1457 1440.9,1435.8 1441.5,1466.8 1442.1,1427.4 1442.6,1438 1443.2,1430.9 1443.7,1434.6 1444.3,1421.6 1444.8,1446.9 1445.3,1432.4 1445.9,1436.9 1446.4,1438.3 1447,1446.2 1447.5,1470.6 1448,1428 1448.6,1416 1449.1,1439.9 1449.6,1427.8 1450.2,1453.5 1450.7,1474 1451.2,1412.6 1451.7,1448.1 1452.3,1465.8 1452.8,1440.2 1453.3,1466.8 1453.8,1434.6 1454.3,1436.6 1454.9,1453.8 1455.4,1440.3 1455.9,1474.8 1456.4,1435.6 1456.9,1452.4 1457.4,1467.7 1457.9,1447.4 1458.4,1456.3 1458.9,1447.3 1459.4,1436.8 1459.9,1444.7 1460.4,1454.5 1460.9,1455.7 1461.4,1454 1461.9,1435.5 1462.4,1482.5 1462.9,1442.7 1463.3,1447.8 1463.8,1488.1 1464.3,1464.3 1464.8,1454.2 1465.3,1428.1 1465.8,1450.6 1466.2,1465.8 1466.7,1447.8 1467.2,1445.6 1467.7,1446.9 1468.1,1407 1468.6,1450 1469.1,1480.4 1469.6,1434.4 1470,1471.3 1470.5,1419.8 1471,1444.4 1471.4,1458.6 1471.9,1455.1 1472.3,1451.5 1472.8,1432.9 1473.3,1440.7 1473.7,1452 1474.2,1475.2 1474.6,1452.3 1475.1,1440.1 1475.5,1452.2 1476,1460.9 1476.4,1477.1 1476.9,1418.7 1477.3,1454.9 1477.8,1454.7 1478.2,1455.4 1478.7,1464.5 1479.1,1469 1479.6,1410.9 1480,1474 1480.4,1464.4 1480.9,1482 1481.3,1460.9 1481.8,1449.3 1482.2,1463.2 1482.6,1425.6 1483.1,1437.5 1483.5,1466.3 1483.9,1473 1484.3,1420.4 1484.8,1462.2 1485.2,1458.7 1485.6,1431.4 1486.1,1436 1486.5,1454.6 1486.9,1450.5 1487.3,1454 1487.7,1453.4 1488.2,1463.8 1488.6,1438 1489,1451.3 1489.4,1448.4 1489.8,1460.1 1490.2,1474.2 1490.6,1435.6 1491.1,1449.2 1491.5,1466 1491.9,1451.8 1492.3,1487.2 1492.7,1456.2 1493.1,1436 1493.5,1446.6 1493.9,1460.5 1494.3,1457.2 1494.7,1460.9 1495.1,1458.2 1495.5,1457 1495.9,1479.9 1496.3,1471.1 1496.7,1454.3 1497.1,1453 1497.5,1439.8 1497.9,1447.2 1498.3,1451.5 1498.7,1475.6 1499.1,1441 1499.5,1482 1499.9,1463.3 1500.3,1451.5 1500.6,1469.1 1501,1435.4 1501.4,1433.5 1501.8,1472 1502.2,1471.3 1502.6,1448.7 1503,1453.9 1503.3,1416.3 1503.7,1440.1 1504.1,1413 1504.5,1476.9 1504.9,1472.6 1505.2,1467.8 1505.6,1475.4 1506,1473.9 1506.4,1423.4 1506.7,1445.5 1507.1,1436.1 1507.5,1440.9 1507.9,1452 1508.2,1462.4 1508.6,1436 1509,1423.4 1509.3,1480.3 1509.7,1429.6 1510.1,1441.6 1510.4,1465.3 1510.8,1472 1511.2,1451.5 1511.5,1456.6 1511.9,1441.7 1512.3,1452.9 1512.6,1471.5 1513,1449.4 1513.3,1459 1513.7,1432.8 1514,1432.4 1514.4,1443.8 1514.8,1433.1 1515.1,1450.1 1515.5,1452.7 1515.8,1415.8 1516.2,1478.2 1516.5,1433.6 1516.9,1417.1 1517.2,1428 1517.6,1459.6 1517.9,1431.6 1518.3,1446.6 1518.6,1440.2 1519,1455.9 1519.3,1453.7 1519.7,1429.2 1520,1459.2 1520.4,1465.3 1520.7,1462 1521,1467.5 1521.4,1439.5 1521.7,1423.5 1522.1,1419.3 1522.4,1477.1 1522.7,1456.5 1523.1,1436.2 1523.4,1437.8 1523.8,1446.9 1524.1,1428 1524.4,1431.6 1524.8,1449.2 1525.1,1471.6 1525.4,1447.4 1525.8,1433.7 1526.1,1435.6 1526.4,1431.1 1526.8,1435.4 1527.1,1472 1527.4,1459.5 1527.8,1420.4 1528.1,1429.1 1528.4,1427.2 1528.7,1426.3 1529.1,1443.5 1529.4,1427 1529.7,1450.3 1530,1431.4 1530.4,1439.8 1530.7,1456.6 1531,1461.8 1531.3,1453.5 1531.7,1432.2 1532,1435.6 1532.3,1439.5 1532.6,1438.4 1532.9,1435.6 1533.3,1415.8 1533.6,1439.9 1533.9,1446.7 1534.2,1437.1 1534.5,1445.3 1534.8,1424.7 1535.2,1430 1535.5,1429.9 1535.8,1422.5 1536.1,1444.6 1536.4,1439.9 1536.7,1433.9 1537,1441.3 1537.3,1428.4 1537.6,1440.2 1538,1439.4 1538.3,1437.4 1538.6,1416.7 1538.9,1416.4 1539.2,1414.9 1539.5,1419.3 1539.8,1419.5 1540.1,1425.7 1540.4,1424.2 1540.7,1420.7 1541,1412.5 1541.3,1435.3 1541.6,1410.5 1541.9,1410.2 1542.2,1416.8 1542.5,1402.9 1542.8,1409.7 1543.1,1412.1 1543.4,1411.4 1543.7,1406.2 1544,1415.7 1544.3,1400.3 1544.6,1418.9 1544.9,1410.3 1545.2,1405.2 1545.5,1407.3 1545.8,1410.8 1546.1,1396.9 1546.4,1410.4 1546.7,1395.3 1547,1397.5 1547.3,1394.4 1547.6,1392.1 1547.8,1395.4 1548.1,1391.8 1548.4,1393.2 1548.7,1390 1549,1384.5 1549.3,1379.9 1549.6,1380.5 1549.9,1379.9 1550.2,1375.6 1550.4,1374 1550.7,1370.9 1551,1368.3 1551.3,1366.9 1551.6,1365.4 1551.9,1365.7 1552.2,1361.7 1552.4,1359.1 1552.7,1356.7 1553,1352.9 1553.3,1350.8 1553.6,1349.4 1553.8,1344.8 1554.1,1343.1 1554.4,1341.7 1554.7,1337.6 1555,1336.1 1555.2,1332.1 1555.5,1328.4 1555.8,1330.1 1556.1,1325.2 1556.3,1323.5 1556.6,1320.2 1556.9,1316.6 1557.2,1313.5 1557.4,1314.3 1557.7,1313.4 1558,1307.7 1558.3,1307.5 1558.5,1306.7 1558.8,1304.1 1559.1,1306.1 1559.4,1302.3 1559.6,1301.9 1559.9,1301.7 1560.2,1302.8 1560.4,1300.3 1560.7,1297.3 1561,1303 1561.2,1298.9 1561.5,1301 1561.8,1301.1 1562,1303.5 1562.3,1300.5 1562.6,1304.8 1562.8,1307 1563.1,1308.5 1563.4,1307.8 1563.6,1309.2 1563.9,1315.5 1564.2,1316.8 1564.4,1317.6 1564.7,1322.6 1565,1322.4 1565.2,1324.5 1565.5,1324.7 1565.7,1326.5 1566,1331 1566.3,1331.8 1566.5,1339.5 1566.8,1339 1567,1341.7 1567.3,1342.5 1567.6,1345.9 1567.8,1346.2 1568.1,1351.1 1568.3,1353.3 1568.6,1357.7 1568.8,1356 1569.1,1362.1 1569.4,1360.2 1569.6,1364.9 1569.9,1364.4 1570.1,1368.1 1570.4,1373.7 1570.6,1374.3 1570.9,1377 1571.1,1379.2 1571.4,1380 1571.6,1381.8 1571.9,1384.9 1572.1,1387 1572.4,1386.7 1572.6,1389.8 1572.9,1391.7 1573.1,1389.7 1573.4,1394.4 1573.6,1397.2 1573.9,1396.9 1574.1,1397.2 1574.4,1398.5 1574.6,1402 1574.9,1408.4 1575.1,1404.5 1575.4,1399 1575.6,1407.9 1575.9,1409.1 1576.1,1415.5 1576.3,1414.8 1576.6,1414.4 1576.8,1419.3 1577.1,1412.2 1577.3,1419.6 1577.6,1425.3 1577.8,1425.8 1578,1420.9 1578.3,1437.8 1578.5,1411.1 1578.8,1416.7 1579,1422.2 1579.3,1430.9 1579.5,1432.1 1579.7,1429.8 1580,1415 1580.2,1424.4 1580.4,1421.9 1580.7,1420.7 1580.9,1438.8 1581.2,1444.6 1581.4,1434.1 1581.6,1443.1 1581.9,1430 1582.1,1434.8 1582.3,1433.8 1582.6,1438.7 1582.8,1444.5 1583,1432.1 1583.3,1445.4 1583.5,1435.9 1583.8,1451.9 1584,1447.9 1584.2,1445.5 1584.5,1430.4 1584.7,1425 1584.9,1439 1585.1,1431.6 1585.4,1439.9 1585.6,1426.7 1585.8,1458 1586.1,1445.4 1586.3,1438.9 1586.5,1432.5 1586.8,1450.9 1587,1454.8 1587.2,1447.2 1587.4,1454.6 1587.7,1460.2 1587.9,1462.4 1588.1,1455 1588.4,1440.6 1588.6,1443.7 1588.8,1446.1 1589,1444.3 1589.3,1455 1589.5,1436.4 1589.7,1462.7 1589.9,1457.8 1590.2,1451.3 1590.4,1472.5 1590.6,1451 1590.8,1433.1 1591.1,1452 1591.3,1443.1 1591.5,1460.4 1591.7,1454.5 1592,1463.4 1592.2,1460.7 1592.4,1478.9 1592.6,1441 1592.8,1441.3 1593.1,1451.2 1593.3,1450.5 1593.5,1452.4 1593.7,1448.7 1593.9,1445.1 1594.2,1441.2 1594.4,1458.3 1594.6,1456.6 1594.8,1444 1595,1453.1 1595.3,1447.2 1595.5,1451.3 1595.7,1447.7 1595.9,1463.3 1596.1,1460.1 1596.3,1460.3 1596.6,1458.7 1596.8,1443.6 1597,1456.7 1597.2,1449.9 1597.4,1451.4 1597.6,1447.9 1597.8,1430.4 1598.1,1459.3 1598.3,1469.5 1598.5,1468.1 1598.7,1460 1598.9,1446.7 1599.1,1467.3 1599.3,1456.5 1599.6,1462.5 1599.8,1475.3 1600,1477.6 1600.2,1475.2 1600.4,1464.8 1600.6,1455 1600.8,1466.5 1601,1439.9 1601.2,1464.3 1601.5,1465.9 1601.7,1474.7 1601.9,1460.9 1602.1,1456.8 1602.3,1450.7 1602.5,1459.7 1602.7,1461.5 1602.9,1462.8 1603.1,1448.2 1603.3,1474 1603.5,1478.4 1603.7,1477.5 1604,1470.7 1604.2,1448 1604.4,1457.4 1604.6,1452.2 1604.8,1453.9 1605,1464.5 1605.2,1444.3 1605.4,1476.4 1605.6,1463.2 1605.8,1467.5 1606,1475 1606.2,1468.4 1606.4,1460 1606.6,1457.3 1606.8,1447 1607,1478.3 1607.2,1470.2 1607.4,1455.5 1607.6,1464.6 1607.8,1453.7 1608,1485.2 1608.2,1457.7 1608.4,1466.1 1608.6,1464.2 1608.8,1455.1 1609,1468.6 1609.2,1483 1609.4,1472 1609.6,1480 1609.8,1439.7 1610,1489.7 1610.2,1460.2 1610.4,1482.9 1610.6,1458.9 1610.8,1475.7 1611,1487.4 1611.2,1472.9 1611.4,1455.9 1611.6,1445.5 1611.8,1442.7 1612,1437.9 1612.2,1463.4 1612.4,1458.8 1612.6,1462.3 1612.8,1466.2 1613,1474.9 1613.2,1469.1 1613.4,1464.4 1613.6,1479.9 1613.8,1475.1 1614,1478.8 1614.2,1463 1614.4,1466.5 1614.5,1462.9 1614.7,1463.8 1614.9,1458.5 1615.1,1484.3 1615.3,1473.5 1615.5,1467 1615.7,1442.5 1615.9,1487.9 1616.1,1468.9 1616.3,1490.5 1616.5,1451.5 1616.7,1473.2 1616.9,1466.9 1617,1465.7 1617.2,1466.7 1617.4,1458.4 1617.6,1454.6 1617.8,1453.8 1618,1486.3 1618.2,1485.1 1618.4,1467.1 1618.6,1466.3 1618.8,1459.6 1618.9,1482 1619.1,1470.4 1619.3,1476.3 1619.5,1463 1619.7,1474.9 1619.9,1443.7 1620.1,1466.3 1620.3,1472.4 1620.4,1465.7 1620.6,1450.2 1620.8,1474.8 1621,1484.3 1621.2,1463.9 1621.4,1465.1 1621.6,1473.3 1621.7,1461.1 1621.9,1455.8 1622.1,1467.2 1622.3,1435.9 1622.5,1475 1622.7,1472 1622.9,1490 1623,1447.4 1623.2,1456.2 1623.4,1457.8 1623.6,1481.1 1623.8,1441.6 1624,1437.3 1624.1,1469.7 1624.3,1493.4 1624.5,1462.7 1624.7,1483.1 1624.9,1473.2 1625.1,1451.8 1625.2,1474.7 1625.4,1459.5 1625.6,1463.1 1625.8,1459.2 1626,1459.7 1626.1,1468.6 1626.3,1472.6 1626.5,1471.4 1626.7,1493.3 1626.9,1457.7 1627,1480.1 1627.2,1477.5 1627.4,1488.5 1627.6,1472.5 1627.8,1482 1627.9,1464.7 1628.1,1479.8 1628.3,1463.4 1628.5,1473 1628.6,1467.1 1628.8,1487.1 1629,1468.2 1629.2,1489.1 1629.4,1470.1 1629.5,1495 1629.7,1471.1 1629.9,1470.9 1630.1,1460.6 1630.2,1468.9 1630.4,1462 1630.6,1462.5 1630.8,1482.5 1630.9,1477 1631.3,1460.7 1631.5,1450.6 1631.6,1489.7 1631.8,1472.6 1632,1471.7 1632.2,1483 1632.3,1480.6 1632.5,1458.2 1632.7,1476.9 1632.9,1466.6 1633,1480.2 1633.2,1481.8 1633.4,1454.4 1633.5,1485.9 1633.7,1470.9 1633.9,1467.4 1634.1,1472.3 1634.2,1435.7 1634.4,1481.6 1634.6,1469.2 1634.7,1486.3 1634.9,1469.5 1635.3,1486.2 1635.4,1488.8 1635.6,1463.7 1635.8,1479.2 1635.9,1456 1636.3,1471.1 1636.5,1485.8 1636.6,1476.7 1636.8,1461.9 1637,1469.1 1637.1,1466.8 1637.3,1483.2 1637.5,1480.8 1637.6,1466.6 1637.8,1485.4 1638,1474.3 1638.1,1466.1 1638.3,1467.8 1638.5,1483.3 1638.6,1473 1638.8,1479.5 1639,1482.9 1639.1,1464 1639.3,1471.8 1639.5,1462.3 1639.6,1446.7 1639.8,1472 1640,1451.9 1640.1,1470.2 1640.3,1476.8 1640.5,1460.8 1640.6,1471.3 1640.8,1476.9 1641,1459.8 1641.1,1478 1641.3,1469.3 1641.5,1461.6 1641.6,1481.6 1641.8,1474.7 1641.9,1478.9 1642.1,1493.1 1642.3,1476.3 1642.4,1489 1642.6,1495.4 1642.8,1472.9 1642.9,1480.5 1643.1,1474 1643.3,1474.6 1643.4,1460.9 1643.6,1454.5 1643.7,1462.6 1643.9,1470 1644.1,1465 1644.2,1495.5 1644.4,1465.3 1644.5,1467.4 1644.7,1469.3 1644.9,1481 1645,1464.7 1645.2,1456.3 1645.4,1489.6 1645.5,1469.7 1645.7,1487.7 1646,1474.7 1646.2,1469.9 1646.3,1471.5 1646.5,1474.8 1646.6,1468.1 1646.8,1462.8 1647,1489 1647.1,1491.9 1647.3,1473.5 1647.4,1460 1647.6,1456.8 1647.7,1483.2 1647.9,1482.1 1648.1,1452.7 1648.2,1459.9 1648.4,1470 1648.5,1474.4 1648.7,1471.7 1648.8,1483.1 1649,1434.5 1649.2,1479.3 1649.3,1486 1649.5,1475 1649.6,1459.6 1649.8,1476.2 1649.9,1495.6 1650.1,1460.2 1650.3,1476.4 1650.4,1460.9 1650.6,1482 1650.7,1469 1650.9,1454.3 1651,1463.4 1651.2,1456.9 1651.3,1475.7 1651.5,1465.8 1651.7,1470.7 1651.8,1481.1 1652,1458.1 1652.1,1468.7 1652.3,1493 1652.4,1489.4 1652.6,1458.8 1652.7,1468 1652.9,1481.4 1653,1462.6 1653.2,1479 1653.3,1476.7 1653.5,1466.3 1653.6,1462.5 1653.8,1446 1654,1451.9 1654.1,1468.7 1654.3,1481.6 1654.4,1466.8 1654.6,1471.1 1654.7,1447.6 1654.9,1460 1655,1480.8 1655.2,1485.6 1655.3,1458.9 1655.5,1454.1 1655.6,1471.5 1655.8,1488.8 1655.9,1479 1656.1,1472.4 1656.2,1481.8 1656.4,1491.3 1656.5,1489.2 1656.7,1458.2 1656.8,1491.1 1657,1465.7 1657.1,1490.6 1657.4,1488.9 1657.6,1465.1 1657.7,1453 1657.9,1483.5 1658.2,1446.3 1658.3,1463.3 1658.5,1454.8 1658.6,1490.5 1658.8,1462.8 1658.9,1487.8 1659,1454.6 1659.2,1477.7 1659.3,1483.6 1659.5,1488.9 1659.6,1460.5 1659.8,1485.9 1659.9,1488.3 1660.1,1477.8 1660.2,1477.5 1660.4,1486.4 1660.5,1451.9 1660.7,1458.3 1660.8,1459.4 1661.2,1495.6 1661.4,1475.3 1661.5,1474.6 1661.7,1459.1 1661.8,1476.2 1662,1443.3 1662.1,1475.6 1662.3,1452.6 1662.4,1483.1 1662.6,1491.6 1662.7,1471.1 1662.8,1467.5 1663,1471.8 1663.1,1465.8 1663.3,1463.8 1663.4,1471 1663.6,1478.1 1663.7,1456.8 1663.8,1480.3 1664,1475.2 1664.1,1476.2 1664.3,1495.6 1664.4,1473 1664.6,1486.1 1664.7,1477.9 1664.8,1478.4 1665,1470.1 1665.1,1454 1665.3,1460.4 1665.4,1469.9 1665.6,1456.5 1665.7,1492.9 1665.8,1462.1 1666,1451.6 1666.1,1487.9 1666.3,1463.3 1666.4,1486.3 1666.5,1479.3 1666.7,1472.8 1666.8,1473 1667,1476.3 1667.1,1494.6 1667.3,1481.1 1667.4,1463.8 1667.5,1474.2 1667.7,1470 1668,1484.7 1668.1,1451.9 1668.2,1452.6 1668.4,1473.9 1668.5,1493.2 1668.7,1477 1668.8,1457.4 1668.9,1473.9 1669.1,1462.7 1669.2,1492.8 1669.3,1469.7 1669.5,1466 1669.6,1481.2 1669.8,1483.5 1669.9,1455.7 1670,1476.4 1670.2,1477.8 1670.3,1478.6 1670.5,1473.5 1670.6,1491.5 1670.7,1480.3 1670.9,1451.8 1671,1478.7 1671.1,1461.2 1671.3,1469.5 1671.4,1474.7 1671.5,1463.5 1671.7,1462.8 1671.8,1462.9 1672,1481.2 1672.1,1473.3 1672.2,1463.2 1672.4,1480.3 1672.5,1444.4 1672.6,1495.6 1672.8,1488.5 1672.9,1488.7 1673,1466.7 1673.2,1480.3 1673.3,1461.3 1673.5,1478.9 1673.6,1482.3 1673.7,1482.4 1673.9,1471.2 1674,1453.6 1674.1,1478.2 1674.3,1469.5 1674.4,1482.9 1674.5,1478.8 1674.7,1466.1 1674.8,1463.2 1674.9,1485.4 1675.1,1482.7 1675.2,1453.8 1675.3,1493.3 1675.5,1467.4 1675.6,1485.5 1675.7,1465 1675.9,1450.1 1676,1484.1 1676.1,1466.7 1676.3,1489.2 1676.4,1467.6 1676.5,1467.5 1676.7,1472.7 1676.8,1464.4 1676.9,1470.7 1677.1,1467.9 1677.2,1474.7 1677.5,1494.4 1677.6,1470.9 1677.7,1468 1677.9,1473.5 1678,1455.2 1678.1,1477.7 1678.2,1481.6 1678.4,1480.2 1678.5,1457.6 1678.6,1463.8 1678.8,1443.6 1678.9,1461.4 1679,1453.4 1679.2,1483.9 1679.3,1455 1679.4,1478.5 1679.6,1469.3 1679.7,1471.9 1679.8,1469.9 1679.9,1474.2 1680.1,1476.4 1680.2,1484.7 1680.3,1473.4 1680.5,1455.8 1680.6,1462.5 1680.7,1483.6 1680.9,1449.4 1681,1475.9 1681.1,1495.6 1681.2,1488.9 1681.5,1463.4 1681.6,1473 1681.8,1479.6 1681.9,1471.3 1682,1472.9 1682.1,1450 1682.3,1485.6 1682.4,1473.7 1682.5,1476.6 1682.7,1452.9 1682.8,1488.4 1682.9,1470.6 1683,1465.7 1683.2,1483.7 1683.3,1475 1683.4,1481.6 1683.5,1454.4 1683.7,1483.7 1683.8,1456.4 1683.9,1477.9 1684.1,1492.1 1684.2,1472.2 1684.3,1489.8 1684.4,1488.6 1684.6,1463.9 1684.7,1465.3 1684.8,1448.4 1684.9,1474.9 1685.1,1477.6 1685.2,1483.7 1685.3,1459.8 1685.4,1481.8 1685.6,1476.1 1685.7,1471.5 1685.9,1476.7 1686.1,1471.7 1686.2,1467.3 1686.3,1485.4 1686.4,1468.3 1686.7,1480.6 1686.8,1470.5 1686.9,1462 1687.1,1451.7 1687.2,1464.7 1687.3,1475.7 1687.4,1464.6 1687.6,1450.9 1687.7,1469.8 1687.8,1461.3 1687.9,1458 1688.1,1489.7 1688.2,1479.4 1688.3,1473.2 1688.4,1489.8 1688.6,1477.8 1688.7,1455.2 1688.8,1471.1 1688.9,1475.6 1689,1479.2 1689.2,1468.5 1689.3,1475.5 1689.4,1488.6 1689.5,1468.4 1689.7,1493.7 1689.8,1487.4 1689.9,1457.6 1690,1474.5 1690.1,1465 1690.3,1476.7 1690.4,1493.7 1690.5,1474.3 1690.8,1440.9 1690.9,1494.7 1691,1467.2 1691.1,1477.2 1691.2,1492.1 1691.4,1462.2 1691.5,1478 1691.6,1487.6 1691.8,1478.9 1692,1448.6 1692.1,1454.9 1692.2,1495.5 1692.3,1457.8 1692.5,1471.2 1692.6,1467.9 1692.7,1458.3 1692.8,1491.6 1692.9,1484 1693.1,1448.9 1693.2,1479.5 1693.3,1478.6 1693.4,1492.9 1693.5,1475.7 1693.7,1462.8 1693.8,1448.7 1693.9,1463.5 1694,1474.5 1694.1,1477.9 1694.2,1461.2 1694.4,1474.6 1694.5,1478.3 1694.7,1485.1 1694.8,1477.1 1695,1477.5 1695.1,1475.8 1695.2,1458.4 1695.4,1469 1695.6,1475.9 1695.8,1469.9 1695.9,1475.2 1696.1,1473.4 1696.3,1468.5 1696.4,1478.8 1696.5,1466.3 1696.6,1483.7 1696.7,1472.6 1696.8,1474.5 1697,1466.7 1697.1,1490 1697.2,1440.4 1697.3,1494.9 1697.4,1453.6 1697.5,1472.2 1697.7,1473.2 1697.8,1458.4 1697.9,1484.6 1698,1493.8 1698.1,1458.5 1698.2,1445.7 1698.4,1437 1698.5,1464.6 1698.7,1466.5 1698.8,1461.2 1698.9,1468.5 1699.1,1463.2 1699.2,1459.6 1699.3,1464 1699.4,1475.7 1699.5,1492.6 1699.6,1482.7 1699.8,1464 1699.9,1456.2 1700,1453.3 1700.1,1466.7 1700.2,1487.2 1700.3,1464.7 1700.4,1488.8 1700.6,1464.7 1700.7,1487.4 1700.8,1462.5 1700.9,1463.7 1701,1481.6 1701.1,1466.5 1701.2,1465.3 1701.4,1478.1 1701.5,1470.8 1701.6,1474 1701.8,1479.8 1701.9,1438.8 1702,1466 1702.3,1467.5 1702.4,1464.9 1702.5,1470.1 1702.6,1463 1702.7,1457.6 1702.8,1444.4 1702.9,1452.7 1703.1,1470 1703.4,1462.3 1703.5,1468.9 1703.6,1473.6 1703.7,1453.2 1703.8,1489.3 1704,1490.3 1704.1,1484 1704.2,1470.9 1704.3,1488.6 1704.4,1472.8 1704.5,1477.9 1704.6,1475.6 1704.7,1476.9 1704.9,1495.3 1705,1464.4 1705.1,1460.5 1705.3,1481.4 1705.4,1467.5 1705.5,1470.7 1705.6,1495.6 1705.7,1473.7 1705.9,1484.3 1706,1455.4 1706.1,1463.6 1706.2,1452.8 1706.3,1484.4 1706.4,1464.8 1706.5,1483.5 1706.6,1464.2 1706.7,1475.5 1706.9,1488.2 1707,1483.4 1707.1,1476.4 1707.2,1462.4 1707.3,1493.2 1707.4,1438.8 1707.5,1468 1707.6,1471.2 1707.7,1469.1 1707.8,1479.2 1708,1474.7 1708.1,1454.6 1708.2,1493.7 1708.3,1468.6 1708.4,1459.9 1708.5,1455.3 1708.6,1495.6 1708.7,1468.5 1708.9,1481.2 1709,1472 1709.2,1472.9 1709.3,1477.8 1709.4,1465 1709.5,1461.1 1709.6,1470.5 1709.7,1484.6 1709.8,1479 1709.9,1468.3 1710,1464.2 1710.1,1471.6 1710.2,1491.4 1710.3,1480.9 1710.5,1470.7 1710.6,1493.2 1710.7,1477.7 1710.8,1480.3 1710.9,1461.8 1711,1458.5 1711.1,1488 1711.2,1453.6 1711.3,1451.3 1711.4,1480.5 1711.5,1476.4 1711.6,1482.1 1711.7,1484.3 1711.8,1495.1 1712.1,1471.9 1712.2,1450.9 1712.3,1490.8 1712.4,1465.6 1712.5,1483.4 1712.6,1472.1 1712.7,1477.2 1712.8,1467.2 1712.9,1466.6 1713,1465.2 1713.1,1462.5 1713.2,1455.2 1713.3,1489 1713.4,1481.9 1713.6,1458 1713.7,1486.9 1713.8,1459.5 1713.9,1471.8 1714,1457.2 1714.1,1470.4 1714.2,1474.9 1714.3,1472.7 1714.5,1466.8 1714.6,1472.2 1714.7,1459.2 1714.8,1466.3 1714.9,1487.3 1715,1473.5 1715.1,1466.5 1715.2,1472.7 1715.3,1460 1715.4,1472.4 1715.5,1471.1 1715.7,1494.2 1715.8,1462.8 1715.9,1456.6 1716,1482.1 1716.1,1486.9 1716.2,1477.6 1716.3,1447 1716.4,1447.5 1716.5,1471.2 1716.6,1487.3 1716.7,1483.2 1716.8,1490.9 1716.9,1486.8 1717,1465.8 1717.1,1469.7" fill="none" stroke="none" marker-start="url(#mdy)" marker-mid="url(#mdy)" marker-end="url(#mdy)"/>
<path d="M988.6 974.4V1505.5M988.6 1495.6H1745M978.6 1495.6H988.6M981.6 1430.4H988.6M978.6 1365.3H988.6M981.6 1300.1H988.6M978.6 1235H988.6M981.6 1169.8H988.6M978.6 1104.7H988.6M981.6 1039.5H988.6M978.6 974.4H988.6M988.6 1495.6V1505.6M1026.3 1495.6V1502.6M1064.1 1495.6V1502.6M1101.9 1495.6V1502.6M1139.6 1495.6V1502.6M1177.3 1495.6V1505.6M1215.1 1495.6V1502.6M1252.8 1495.6V1502.6M1290.6 1495.6V1502.6M1328.3 1495.6V1502.6M1366.1 1495.6V1505.6M1403.9 1495.6V1502.6M1441.6 1495.6V1502.6M1479.3 1495.6V1502.6M1517.1 1495.6V1502.6M1554.8 1495.6V1505.6M1592.6 1495.6V1502.6M1630.4 1495.6V1502.6M1668.1 1495.6V1502.6M1705.8 1495.6V1502.6M1743.6 1495.6V1505.6" stroke="#000" stroke-width="2.4" fill="none"/>
<g font-family="'Liberation Sans', Arial, sans-serif" fill="#000"><text x="957.5" y="1508.2" font-size="36" text-anchor="end">0</text>
<text x="957.5" y="1377.9" font-size="36" text-anchor="end">1</text>
<text x="957.5" y="1247.6" font-size="36" text-anchor="end">2</text>
<text x="957.5" y="1117.3" font-size="36" text-anchor="end">3</text>
<text x="957.5" y="987" font-size="36" text-anchor="end">4</text>
<text x="989.1" y="1550" font-size="36" text-anchor="middle">-1.5</text>
<text x="1177.8" y="1550" font-size="36" text-anchor="middle">-1.0</text>
<text x="1366.6" y="1550" font-size="36" text-anchor="middle">-0.5</text>
<text x="1555.3" y="1550" font-size="36" text-anchor="middle">0.0</text>
<text x="1744.1" y="1550" font-size="36" text-anchor="middle">0.5</text>
<text x="1366" y="1598.5" font-size="36" text-anchor="middle">log (q)</text>
<text transform="translate(918 1256.7) rotate(-90)" font-size="36" text-anchor="middle">log I(q)</text>
<text x="1582.6" y="990.9" font-size="37">batch</text>
<text x="1581.8" y="1044.2" font-size="37">LPX peak</text>
</g><circle cx="1565" cy="978" r="4.6" fill="#a0a0a0" stroke="#7a7a7a" stroke-width="1"/><circle cx="1565" cy="1031.9" r="5.3" fill="#ffc000"/>
<circle cx="101.0" cy="223.8" r="81" fill="#fcefc4"/><path d="M180 223.8L168 223.8M152.5 223.8L165.5 223.8M179.9 227.1L167.9 226.6M152.5 226L165.4 226.5M179.7 230.4L167.8 229.4M152.3 228.1L165.3 229.2M179.4 233.7L167.5 232.2M152.1 230.3L165 231.9M178.9 237L167.1 235M151.8 232.4L164.6 234.6M178.3 240.2L166.5 237.7M151.4 234.5L164.1 237.2M177.5 243.4L165.9 240.5M150.9 236.6L163.5 239.8M176.6 246.6L165.1 243.2M150.3 238.7L162.7 242.4M175.6 249.8L164.3 245.8M149.6 240.7L161.9 245M174.5 252.9L163.3 248.5M148.9 242.8L161 247.5M173.2 255.9L162.2 251.1M148 244.7L159.9 250M171.8 258.9L161 253.6M147.1 246.7L158.8 252.5M170.2 261.9L159.7 256.1M146.1 248.6L157.5 254.9M168.6 264.7L158.3 258.5M145.1 250.5L156.2 257.2M166.8 267.5L156.8 260.9M143.9 252.3L154.7 259.5M164.9 270.2L155.2 263.2M142.7 254.1L153.2 261.7M162.9 272.9L153.5 265.4M141.4 255.8L151.5 263.9M160.8 275.4L151.7 267.6M140 257.5L149.8 265.9M158.6 277.9L149.8 269.7M138.5 259.1L148 268M156.3 280.2L147.9 271.7M137 260.6L146.1 269.9M153.9 282.5L145.8 273.6M135.5 262.1L144.2 271.7M151.4 284.7L143.7 275.4M133.8 263.5L142.1 273.5M148.8 286.7L141.5 277.2M132.1 264.8L140 275.2M146.1 288.7L139.2 278.8M130.4 266.1L137.8 276.8M143.3 290.5L136.9 280.4M128.6 267.3L135.6 278.3M140.5 292.2L134.5 281.8M126.8 268.4L133.2 279.7M137.6 293.8L132 283.2M124.9 269.4L130.9 281M134.6 295.3L129.5 284.4M122.9 270.4L128.5 282.2M131.6 296.6L127 285.6M121 271.3L126 283.3M128.5 297.8L124.4 286.6M119 272.1L123.5 284.3M125.4 298.9L121.7 287.5M116.9 272.8L120.9 285.1M122.2 299.9L119 288.3M114.8 273.4L118.3 285.9M119 300.7L116.3 289M112.8 273.9L115.7 286.6M115.8 301.4L113.6 289.6M110.7 274.4L113.1 287.2M112.5 302L110.8 290.1M108.5 274.7L110.4 287.6M109.3 302.4L108 290.4M106.4 275L107.7 287.9M106 302.6L105.2 290.7M104.2 275.2L105 288.2M102.7 302.8L102.4 290.8M102.1 275.3L102.4 288.3M99.3 302.8L99.6 290.8M99.9 275.3L99.6 288.3M96 302.6L96.8 290.7M97.8 275.2L97 288.2M92.7 302.4L94 290.4M95.6 275L94.3 287.9M89.5 302L91.2 290.1M93.5 274.7L91.6 287.6M86.2 301.4L88.4 289.6M91.3 274.4L88.9 287.2M83 300.7L85.7 289M89.2 273.9L86.3 286.6M79.8 299.9L83 288.3M87.2 273.4L83.7 285.9M76.6 298.9L80.3 287.5M85.1 272.8L81.1 285.1M73.5 297.8L77.6 286.6M83 272.1L78.5 284.3M70.4 296.6L75 285.6M81 271.3L76 283.3M67.4 295.3L72.5 284.4M79.1 270.4L73.5 282.2M64.4 293.8L70 283.2M77.1 269.4L71.1 281M61.5 292.2L67.5 281.8M75.2 268.4L68.7 279.7M58.7 290.5L65.1 280.4M73.4 267.3L66.4 278.3M55.9 288.7L62.8 278.8M71.6 266.1L64.2 276.8M53.2 286.7L60.5 277.2M69.9 264.8L62 275.2M50.6 284.7L58.3 275.4M68.2 263.5L59.9 273.5M48.1 282.5L56.2 273.6M66.5 262.1L57.8 271.7M45.7 280.2L54.1 271.7M65 260.6L55.9 269.9M43.4 277.9L52.2 269.7M63.5 259.1L54 268M41.2 275.4L50.3 267.6M62 257.5L52.2 265.9M39.1 272.9L48.5 265.4M60.6 255.8L50.5 263.9M37.1 270.2L46.8 263.2M59.3 254.1L48.8 261.7M35.2 267.5L45.2 260.9M58.1 252.3L47.3 259.5M33.4 264.7L43.7 258.5M56.9 250.5L45.8 257.2M31.8 261.9L42.3 256.1M55.9 248.6L44.5 254.9M30.2 258.9L41 253.6M54.9 246.7L43.2 252.5M28.8 255.9L39.8 251.1M54 244.7L42.1 250M27.5 252.9L38.7 248.5M53.1 242.8L41 247.5M26.4 249.8L37.7 245.8M52.4 240.7L40.1 245M25.4 246.6L36.9 243.2M51.7 238.7L39.3 242.4M24.5 243.4L36.1 240.5M51.1 236.6L38.5 239.8M23.7 240.2L35.5 237.7M50.6 234.5L37.9 237.2M23.1 237L34.9 235M50.2 232.4L37.4 234.6M22.6 233.7L34.5 232.2M49.9 230.3L37 231.9M22.3 230.4L34.2 229.4M49.7 228.1L36.7 229.2M22.1 227.1L34.1 226.6M49.5 226L36.6 226.5M22 223.8L34 223.8M49.5 223.8L36.5 223.8M22.1 220.5L34.1 221M49.5 221.6L36.6 221.1M22.3 217.2L34.2 218.2M49.7 219.5L36.7 218.4M22.6 213.9L34.5 215.4M49.9 217.3L37 215.7M23.1 210.6L34.9 212.6M50.2 215.2L37.4 213M23.7 207.4L35.5 209.9M50.6 213.1L37.9 210.4M24.5 204.2L36.1 207.1M51.1 211L38.5 207.8M25.4 201L36.9 204.4M51.7 208.9L39.3 205.2M26.4 197.8L37.7 201.8M52.4 206.9L40.1 202.6M27.5 194.7L38.7 199.1M53.1 204.8L41 200.1M28.8 191.7L39.8 196.5M54 202.9L42.1 197.6M30.2 188.7L41 194M54.9 200.9L43.2 195.1M31.8 185.7L42.3 191.5M55.9 199L44.5 192.7M33.4 182.9L43.7 189.1M56.9 197.1L45.8 190.4M35.2 180.1L45.2 186.7M58.1 195.3L47.3 188.1M37.1 177.4L46.8 184.4M59.3 193.5L48.8 185.9M39.1 174.7L48.5 182.2M60.6 191.8L50.5 183.7M41.2 172.2L50.3 180M62 190.1L52.2 181.7M43.4 169.7L52.2 177.9M63.5 188.5L54 179.6M45.7 167.4L54.1 175.9M65 187L55.9 177.7M48.1 165.1L56.2 174M66.5 185.5L57.8 175.9M50.6 162.9L58.3 172.2M68.2 184.1L59.9 174.1M53.2 160.9L60.5 170.4M69.9 182.8L62 172.4M55.9 158.9L62.8 168.8M71.6 181.5L64.2 170.8M58.7 157.1L65.1 167.2M73.4 180.3L66.4 169.3M61.5 155.4L67.5 165.8M75.3 179.2L68.8 167.9M64.4 153.8L70 164.4M77.1 178.2L71.1 166.6M67.4 152.3L72.5 163.2M79.1 177.2L73.5 165.4M70.4 151L75 162M81 176.3L76 164.3M73.5 149.8L77.6 161M83 175.5L78.5 163.3M76.6 148.7L80.3 160.1M85.1 174.8L81.1 162.5M79.8 147.7L83 159.3M87.2 174.2L83.7 161.7M83 146.9L85.7 158.6M89.2 173.7L86.3 161M86.2 146.2L88.4 158M91.3 173.2L88.9 160.4M89.5 145.6L91.2 157.5M93.5 172.9L91.6 160M92.7 145.2L94 157.2M95.6 172.6L94.3 159.7M96 145L96.8 156.9M97.8 172.4L97 159.4M99.3 144.8L99.6 156.8M99.9 172.3L99.6 159.3M102.7 144.8L102.4 156.8M102.1 172.3L102.4 159.3M106 145L105.2 156.9M104.2 172.4L105 159.4M109.3 145.2L108 157.2M106.4 172.6L107.7 159.7M112.5 145.6L110.8 157.5M108.5 172.9L110.4 160M115.8 146.2L113.6 158M110.7 173.2L113.1 160.4M119 146.9L116.3 158.6M112.8 173.7L115.7 161M122.2 147.7L119 159.3M114.8 174.2L118.3 161.7M125.4 148.7L121.7 160.1M116.9 174.8L120.9 162.5M128.5 149.8L124.4 161M119 175.5L123.5 163.3M131.6 151L127 162M121 176.3L126 164.3M134.6 152.3L129.5 163.2M122.9 177.2L128.5 165.4M137.6 153.8L132 164.4M124.9 178.2L130.9 166.6M140.5 155.4L134.5 165.8M126.7 179.2L133.2 167.9M143.3 157.1L136.9 167.2M128.6 180.3L135.6 169.3M146.1 158.9L139.2 168.8M130.4 181.5L137.8 170.8M148.8 160.9L141.5 170.4M132.1 182.8L140 172.4M151.4 162.9L143.7 172.2M133.8 184.1L142.1 174.1M153.9 165.1L145.8 174M135.5 185.5L144.2 175.9M156.3 167.4L147.9 175.9M137 187L146.1 177.7M158.6 169.7L149.8 177.9M138.5 188.5L148 179.6M160.8 172.2L151.7 180M140 190.1L149.8 181.7M162.9 174.7L153.5 182.2M141.4 191.8L151.5 183.7M164.9 177.4L155.2 184.4M142.7 193.5L153.2 185.9M166.8 180.1L156.8 186.7M143.9 195.3L154.7 188.1M168.6 182.9L158.3 189.1M145.1 197.1L156.2 190.4M170.2 185.7L159.7 191.5M146.1 199L157.5 192.7M171.8 188.7L161 194M147.1 200.9L158.8 195.1M173.2 191.7L162.2 196.5M148 202.9L159.9 197.6M174.5 194.7L163.3 199.1M148.9 204.8L161 200.1M175.6 197.8L164.3 201.8M149.6 206.9L161.9 202.6M176.6 201L165.1 204.4M150.3 208.9L162.7 205.2M177.5 204.2L165.9 207.1M150.9 211L163.5 207.8M178.3 207.4L166.5 209.9M151.4 213.1L164.1 210.4M178.9 210.6L167.1 212.6M151.8 215.2L164.6 213M179.4 213.9L167.5 215.4M152.1 217.3L165 215.7M179.7 217.2L167.8 218.2M152.3 219.5L165.3 218.4M179.9 220.5L167.9 221M152.5 221.6L165.4 221.1" stroke="#f1d8a0" stroke-width="0.9" fill="none"/><path d="M172 223.8L168.6 223.8M159.5 223.8L164.6 223.8M171.9 226.8L168.5 226.6M159.4 226.2L164.5 226.5M171.8 229.7L168.4 229.5M159.3 228.7L164.4 229.1M171.4 232.7L168.1 232.3M159 231.1L164.1 231.8M171 235.6L167.7 235.1M158.7 233.6L163.7 234.4M170.4 238.6L167.1 237.9M158.2 236L163.2 237M169.8 241.5L166.5 240.6M157.7 238.3L162.6 239.6M169 244.3L165.7 243.3M157 240.7L161.9 242.2M168.1 247.1L164.8 246M156.2 243L161.1 244.7M167 249.9L163.9 248.7M155.4 245.3L160.1 247.2M165.9 252.7L162.8 251.3M154.4 247.6L159.1 249.7M164.6 255.4L161.6 253.9M153.4 249.8L158 252.1M163.2 258L160.2 256.4M152.3 252L156.7 254.4M161.7 260.6L158.8 258.8M151 254.1L155.4 256.7M160.1 263.1L157.3 261.2M149.7 256.2L154 259M158.4 265.5L155.7 263.5M148.3 258.2L152.5 261.2M156.6 267.9L154 265.8M146.8 260.1L150.8 263.3M154.7 270.2L152.2 268M145.3 262L149.1 265.4M152.8 272.4L150.3 270.1M143.6 263.8L147.4 267.3M150.7 274.5L148.3 272.1M141.9 265.6L145.5 269.2M148.5 276.6L146.2 274M140.1 267.3L143.6 271.1M146.3 278.5L144.1 275.9M138.3 268.9L141.5 272.8M143.9 280.4L141.9 277.6M136.4 270.4L139.5 274.5M141.5 282.1L139.6 279.3M134.4 271.8L137.3 276M139 283.7L137.2 280.9M132.3 273.2L135.1 277.5M136.5 285.3L134.8 282.3M130.2 274.5L132.8 278.9M133.9 286.7L132.3 283.7M128.1 275.6L130.5 280.2M131.2 288L129.8 285M125.9 276.7L128.1 281.3M128.5 289.3L127.2 286.1M123.7 277.7L125.6 282.4M125.7 290.3L124.6 287.2M121.4 278.6L123.2 283.4M122.9 291.3L121.9 288.1M119.1 279.4L120.7 284.3M120.1 292.2L119.2 288.9M116.7 280.1L118.1 285.1M117.2 292.9L116.4 289.6M114.4 280.8L115.5 285.7M114.3 293.5L113.7 290.2M112 281.3L112.9 286.3M111.4 294L110.9 290.7M109.5 281.7L110.3 286.7M108.4 294.4L108.1 291M107.1 282L107.6 287.1M105.5 294.7L105.2 291.3M104.7 282.2L105 287.3M102.5 294.8L102.4 291.4M102.2 282.3L102.3 287.4M99.5 294.8L99.6 291.4M99.8 282.3L99.7 287.4M96.5 294.7L96.8 291.3M97.3 282.2L97 287.3M93.6 294.4L93.9 291M94.9 282L94.4 287.1M90.6 294L91.1 290.7M92.5 281.7L91.7 286.7M87.7 293.5L88.3 290.2M90 281.3L89.1 286.3M84.8 292.9L85.6 289.6M87.6 280.8L86.5 285.7M81.9 292.2L82.8 288.9M85.3 280.1L83.9 285.1M79.1 291.3L80.1 288.1M82.9 279.4L81.3 284.3M76.3 290.3L77.4 287.2M80.6 278.6L78.8 283.4M73.5 289.3L74.8 286.1M78.3 277.7L76.4 282.4M70.8 288L72.2 285M76.1 276.7L73.9 281.3M68.1 286.7L69.7 283.7M73.9 275.6L71.5 280.2M65.5 285.3L67.2 282.3M71.7 274.5L69.2 278.9M63 283.7L64.8 280.9M69.7 273.2L66.9 277.5M60.5 282.1L62.4 279.3M67.6 271.8L64.7 276M58.1 280.4L60.1 277.6M65.6 270.4L62.5 274.5M55.7 278.5L57.9 275.9M63.7 268.9L60.5 272.8M53.5 276.6L55.8 274M61.9 267.3L58.4 271.1M51.3 274.5L53.7 272.1M60.1 265.6L56.5 269.2M49.2 272.4L51.7 270.1M58.4 263.8L54.6 267.3M47.3 270.2L49.8 268M56.7 262L52.9 265.4M45.4 267.9L48 265.8M55.2 260.1L51.2 263.3M43.6 265.5L46.3 263.5M53.7 258.2L49.5 261.2M41.9 263.1L44.7 261.2M52.3 256.2L48 259M40.3 260.6L43.2 258.8M51 254.1L46.6 256.7M38.8 258L41.8 256.4M49.7 252L45.3 254.4M37.4 255.4L40.4 253.9M48.6 249.8L44 252.1M36.1 252.7L39.2 251.3M47.6 247.6L42.9 249.7M35 249.9L38.1 248.7M46.6 245.3L41.9 247.2M33.9 247.1L37.2 246M45.8 243L40.9 244.7M33 244.3L36.3 243.3M45 240.7L40.1 242.2M32.2 241.5L35.5 240.6M44.3 238.3L39.4 239.6M31.6 238.6L34.9 237.9M43.8 236L38.8 237M31 235.6L34.3 235.1M43.3 233.6L38.3 234.4M30.6 232.7L33.9 232.3M43 231.1L37.9 231.8M30.2 229.7L33.6 229.5M42.7 228.7L37.6 229.1M30.1 226.8L33.5 226.6M42.6 226.2L37.5 226.5M30 223.8L33.4 223.8M42.5 223.8L37.4 223.8M30.1 220.8L33.5 221M42.6 221.4L37.5 221.1M30.2 217.9L33.6 218.1M42.7 218.9L37.6 218.5M30.6 214.9L33.9 215.3M43 216.5L37.9 215.8M31 212L34.3 212.5M43.3 214L38.3 213.2M31.6 209L34.9 209.7M43.8 211.6L38.8 210.6M32.2 206.1L35.5 207M44.3 209.3L39.4 208M33 203.3L36.3 204.3M45 206.9L40.1 205.4M33.9 200.5L37.2 201.6M45.8 204.6L40.9 202.9M35 197.7L38.1 198.9M46.6 202.3L41.9 200.4M36.1 194.9L39.2 196.3M47.6 200L42.9 197.9M37.4 192.2L40.4 193.7M48.6 197.8L44 195.5M38.8 189.6L41.8 191.2M49.7 195.6L45.3 193.2M40.3 187L43.2 188.8M51 193.5L46.6 190.9M41.9 184.5L44.7 186.4M52.3 191.4L48 188.6M43.6 182.1L46.3 184.1M53.7 189.4L49.5 186.4M45.4 179.7L48 181.8M55.2 187.5L51.2 184.3M47.3 177.4L49.8 179.6M56.7 185.6L52.9 182.2M49.2 175.2L51.7 177.5M58.4 183.8L54.6 180.3M51.3 173.1L53.7 175.5M60.1 182L56.5 178.4M53.5 171L55.8 173.6M61.9 180.3L58.4 176.5M55.7 169.1L57.9 171.7M63.7 178.7L60.5 174.8M58.1 167.2L60.1 170M65.6 177.2L62.5 173.1M60.5 165.5L62.4 168.3M67.6 175.8L64.7 171.6M63 163.9L64.8 166.7M69.7 174.4L66.9 170.1M65.5 162.3L67.2 165.3M71.8 173.1L69.2 168.7M68.1 160.9L69.7 163.9M73.9 172L71.5 167.4M70.8 159.6L72.2 162.6M76.1 170.9L73.9 166.3M73.5 158.3L74.8 161.5M78.3 169.9L76.4 165.2M76.3 157.3L77.4 160.4M80.6 169L78.8 164.2M79.1 156.3L80.1 159.5M82.9 168.2L81.3 163.3M81.9 155.4L82.8 158.7M85.3 167.5L83.9 162.5M84.8 154.7L85.6 158M87.6 166.8L86.5 161.9M87.7 154.1L88.3 157.4M90 166.3L89.1 161.3M90.6 153.6L91.1 156.9M92.5 165.9L91.7 160.9M93.6 153.2L93.9 156.6M94.9 165.6L94.4 160.5M96.5 152.9L96.8 156.3M97.3 165.4L97 160.3M99.5 152.8L99.6 156.2M99.8 165.3L99.7 160.2M102.5 152.8L102.4 156.2M102.2 165.3L102.3 160.2M105.5 152.9L105.2 156.3M104.7 165.4L105 160.3M108.4 153.2L108.1 156.6M107.1 165.6L107.6 160.5M111.4 153.6L110.9 156.9M109.5 165.9L110.3 160.9M114.3 154.1L113.7 157.4M112 166.3L112.9 161.3M117.2 154.7L116.4 158M114.4 166.8L115.5 161.9M120.1 155.4L119.2 158.7M116.7 167.5L118.1 162.5M122.9 156.3L121.9 159.5M119.1 168.2L120.7 163.3M125.7 157.3L124.6 160.4M121.4 169L123.2 164.2M128.5 158.3L127.2 161.5M123.7 169.9L125.6 165.2M131.2 159.6L129.8 162.6M125.9 170.9L128.1 166.3M133.9 160.9L132.3 163.9M128.1 172L130.5 167.4M136.5 162.3L134.8 165.3M130.2 173.1L132.8 168.7M139 163.9L137.2 166.7M132.3 174.4L135.1 170.1M141.5 165.5L139.6 168.3M134.4 175.8L137.3 171.6M143.9 167.2L141.9 170M136.4 177.2L139.5 173.1M146.3 169.1L144.1 171.7M138.3 178.7L141.5 174.8M148.5 171L146.2 173.6M140.1 180.3L143.6 176.5M150.7 173.1L148.3 175.5M141.9 182L145.5 178.4M152.8 175.2L150.3 177.5M143.6 183.8L147.4 180.3M154.7 177.4L152.2 179.6M145.3 185.6L149.1 182.2M156.6 179.7L154 181.8M146.8 187.5L150.8 184.3M158.4 182.1L155.7 184.1M148.3 189.4L152.5 186.4M160.1 184.5L157.3 186.4M149.7 191.4L154 188.6M161.7 187L158.8 188.8M151 193.5L155.4 190.9M163.2 189.6L160.2 191.2M152.3 195.6L156.7 193.2M164.6 192.2L161.6 193.7M153.4 197.8L158 195.5M165.9 194.9L162.8 196.3M154.4 200L159.1 197.9M167 197.7L163.9 198.9M155.4 202.3L160.1 200.4M168.1 200.5L164.8 201.6M156.2 204.6L161.1 202.9M169 203.3L165.7 204.3M157 206.9L161.9 205.4M169.8 206.1L166.5 207M157.7 209.3L162.6 208M170.4 209L167.1 209.7M158.2 211.6L163.2 210.6M171 212L167.7 212.5M158.7 214L163.7 213.2M171.4 214.9L168.1 215.3M159 216.5L164.1 215.8M171.8 217.9L168.4 218.1M159.3 218.9L164.4 218.5M171.9 220.8L168.5 221M159.4 221.4L164.5 221.1" stroke="#eea850" stroke-width="0.9" stroke-opacity="0.8" fill="none"/><circle cx="101.0" cy="223.8" r="65.8" fill="none" stroke="#fff7de" stroke-width="1.6"/><circle cx="101.0" cy="223.8" r="48.5" fill="url(#core)"/><path d="M57.6 212.8h0M57.6 216.4h0M57.6 220h0M57.6 223.6h0M57.6 227.2h0M57.6 230.8h0M57.6 234.4h0M61.2 205.6h0M61.2 209.2h0M61.2 212.8h0M61.2 216.4h0M61.2 220h0M61.2 223.6h0M61.2 227.2h0M61.2 230.8h0M61.2 234.4h0M61.2 238h0M61.2 241.6h0M64.8 198.4h0M64.8 202h0M64.8 205.6h0M64.8 209.2h0M64.8 212.8h0M64.8 216.4h0M64.8 220h0M64.8 223.6h0M64.8 227.2h0M64.8 230.8h0M64.8 234.4h0M64.8 238h0M64.8 241.6h0M64.8 245.2h0M64.8 248.8h0M68.4 194.8h0M68.4 198.4h0M68.4 202h0M68.4 205.6h0M68.4 209.2h0M68.4 212.8h0M68.4 216.4h0M68.4 220h0M68.4 223.6h0M68.4 227.2h0M68.4 230.8h0M68.4 234.4h0M68.4 238h0M68.4 241.6h0M68.4 245.2h0M68.4 248.8h0M68.4 252.4h0M72 191.2h0M72 194.8h0M72 198.4h0M72 202h0M72 205.6h0M72 209.2h0M72 212.8h0M72 216.4h0M72 220h0M72 223.6h0M72 227.2h0M72 230.8h0M72 234.4h0M72 238h0M72 241.6h0M72 245.2h0M72 248.8h0M72 252.4h0M72 256h0M75.6 187.6h0M75.6 191.2h0M75.6 194.8h0M75.6 198.4h0M75.6 202h0M75.6 205.6h0M75.6 209.2h0M75.6 212.8h0M75.6 216.4h0M75.6 220h0M75.6 223.6h0M75.6 227.2h0M75.6 230.8h0M75.6 234.4h0M75.6 238h0M75.6 241.6h0M75.6 245.2h0M75.6 248.8h0M75.6 252.4h0M75.6 256h0M75.6 259.6h0M79.2 187.6h0M79.2 191.2h0M79.2 194.8h0M79.2 198.4h0M79.2 202h0M79.2 205.6h0M79.2 209.2h0M79.2 212.8h0M79.2 216.4h0M79.2 220h0M79.2 223.6h0M79.2 227.2h0M79.2 230.8h0M79.2 234.4h0M79.2 238h0M79.2 241.6h0M79.2 245.2h0M79.2 248.8h0M79.2 252.4h0M79.2 256h0M79.2 259.6h0M82.8 184h0M82.8 187.6h0M82.8 191.2h0M82.8 194.8h0M82.8 198.4h0M82.8 202h0M82.8 205.6h0M82.8 209.2h0M82.8 212.8h0M82.8 216.4h0M82.8 220h0M82.8 223.6h0M82.8 227.2h0M82.8 230.8h0M82.8 234.4h0M82.8 238h0M82.8 241.6h0M82.8 245.2h0M82.8 248.8h0M82.8 252.4h0M82.8 256h0M82.8 259.6h0M82.8 263.2h0M86.4 184h0M86.4 187.6h0M86.4 191.2h0M86.4 194.8h0M86.4 198.4h0M86.4 202h0M86.4 205.6h0M86.4 209.2h0M86.4 212.8h0M86.4 216.4h0M86.4 220h0M86.4 223.6h0M86.4 227.2h0M86.4 230.8h0M86.4 234.4h0M86.4 238h0M86.4 241.6h0M86.4 245.2h0M86.4 248.8h0M86.4 252.4h0M86.4 256h0M86.4 259.6h0M86.4 263.2h0M90 180.4h0M90 184h0M90 187.6h0M90 191.2h0M90 194.8h0M90 198.4h0M90 202h0M90 205.6h0M90 209.2h0M90 212.8h0M90 216.4h0M90 220h0M90 223.6h0M90 227.2h0M90 230.8h0M90 234.4h0M90 238h0M90 241.6h0M90 245.2h0M90 248.8h0M90 252.4h0M90 256h0M90 259.6h0M90 263.2h0M90 266.8h0M93.6 180.4h0M93.6 184h0M93.6 187.6h0M93.6 191.2h0M93.6 194.8h0M93.6 198.4h0M93.6 202h0M93.6 205.6h0M93.6 209.2h0M93.6 212.8h0M93.6 216.4h0M93.6 220h0M93.6 223.6h0M93.6 227.2h0M93.6 230.8h0M93.6 234.4h0M93.6 238h0M93.6 241.6h0M93.6 245.2h0M93.6 248.8h0M93.6 252.4h0M93.6 256h0M93.6 259.6h0M93.6 263.2h0M93.6 266.8h0M97.2 180.4h0M97.2 184h0M97.2 187.6h0M97.2 191.2h0M97.2 194.8h0M97.2 198.4h0M97.2 202h0M97.2 205.6h0M97.2 209.2h0M97.2 212.8h0M97.2 216.4h0M97.2 220h0M97.2 223.6h0M97.2 227.2h0M97.2 230.8h0M97.2 234.4h0M97.2 238h0M97.2 241.6h0M97.2 245.2h0M97.2 248.8h0M97.2 252.4h0M97.2 256h0M97.2 259.6h0M97.2 263.2h0M97.2 266.8h0M100.8 180.4h0M100.8 184h0M100.8 187.6h0M100.8 191.2h0M100.8 194.8h0M100.8 198.4h0M100.8 202h0M100.8 205.6h0M100.8 209.2h0M100.8 212.8h0M100.8 216.4h0M100.8 220h0M100.8 223.6h0M100.8 227.2h0M100.8 230.8h0M100.8 234.4h0M100.8 238h0M100.8 241.6h0M100.8 245.2h0M100.8 248.8h0M100.8 252.4h0M100.8 256h0M100.8 259.6h0M100.8 263.2h0M100.8 266.8h0M104.4 180.4h0M104.4 184h0M104.4 187.6h0M104.4 191.2h0M104.4 194.8h0M104.4 198.4h0M104.4 202h0M104.4 205.6h0M104.4 209.2h0M104.4 212.8h0M104.4 216.4h0M104.4 220h0M104.4 223.6h0M104.4 227.2h0M104.4 230.8h0M104.4 234.4h0M104.4 238h0M104.4 241.6h0M104.4 245.2h0M104.4 248.8h0M104.4 252.4h0M104.4 256h0M104.4 259.6h0M104.4 263.2h0M104.4 266.8h0M108 180.4h0M108 184h0M108 187.6h0M108 191.2h0M108 194.8h0M108 198.4h0M108 202h0M108 205.6h0M108 209.2h0M108 212.8h0M108 216.4h0M108 220h0M108 223.6h0M108 227.2h0M108 230.8h0M108 234.4h0M108 238h0M108 241.6h0M108 245.2h0M108 248.8h0M108 252.4h0M108 256h0M108 259.6h0M108 263.2h0M108 266.8h0M111.6 180.4h0M111.6 184h0M111.6 187.6h0M111.6 191.2h0M111.6 194.8h0M111.6 198.4h0M111.6 202h0M111.6 205.6h0M111.6 209.2h0M111.6 212.8h0M111.6 216.4h0M111.6 220h0M111.6 223.6h0M111.6 227.2h0M111.6 230.8h0M111.6 234.4h0M111.6 238h0M111.6 241.6h0M111.6 245.2h0M111.6 248.8h0M111.6 252.4h0M111.6 256h0M111.6 259.6h0M111.6 263.2h0M111.6 266.8h0M115.2 184h0M115.2 187.6h0M115.2 191.2h0M115.2 194.8h0M115.2 198.4h0M115.2 202h0M115.2 205.6h0M115.2 209.2h0M115.2 212.8h0M115.2 216.4h0M115.2 220h0M115.2 223.6h0M115.2 227.2h0M115.2 230.8h0M115.2 234.4h0M115.2 238h0M115.2 241.6h0M115.2 245.2h0M115.2 248.8h0M115.2 252.4h0M115.2 256h0M115.2 259.6h0M115.2 263.2h0M118.8 184h0M118.8 187.6h0M118.8 191.2h0M118.8 194.8h0M118.8 198.4h0M118.8 202h0M118.8 205.6h0M118.8 209.2h0M118.8 212.8h0M118.8 216.4h0M118.8 220h0M118.8 223.6h0M118.8 227.2h0M118.8 230.8h0M118.8 234.4h0M118.8 238h0M118.8 241.6h0M118.8 245.2h0M118.8 248.8h0M118.8 252.4h0M118.8 256h0M118.8 259.6h0M118.8 263.2h0M122.4 187.6h0M122.4 191.2h0M122.4 194.8h0M122.4 198.4h0M122.4 202h0M122.4 205.6h0M122.4 209.2h0M122.4 212.8h0M122.4 216.4h0M122.4 220h0M122.4 223.6h0M122.4 227.2h0M122.4 230.8h0M122.4 234.4h0M122.4 238h0M122.4 241.6h0M122.4 245.2h0M122.4 248.8h0M122.4 252.4h0M122.4 256h0M122.4 259.6h0M122.4 263.2h0M126 187.6h0M126 191.2h0M126 194.8h0M126 198.4h0M126 202h0M126 205.6h0M126 209.2h0M126 212.8h0M126 216.4h0M126 220h0M126 223.6h0M126 227.2h0M126 230.8h0M126 234.4h0M126 238h0M126 241.6h0M126 245.2h0M126 248.8h0M126 252.4h0M126 256h0M126 259.6h0M129.6 191.2h0M129.6 194.8h0M129.6 198.4h0M129.6 202h0M129.6 205.6h0M129.6 209.2h0M129.6 212.8h0M129.6 216.4h0M129.6 220h0M129.6 223.6h0M129.6 227.2h0M129.6 230.8h0M129.6 234.4h0M129.6 238h0M129.6 241.6h0M129.6 245.2h0M129.6 248.8h0M129.6 252.4h0M129.6 256h0M133.2 194.8h0M133.2 198.4h0M133.2 202h0M133.2 205.6h0M133.2 209.2h0M133.2 212.8h0M133.2 216.4h0M133.2 220h0M133.2 223.6h0M133.2 227.2h0M133.2 230.8h0M133.2 234.4h0M133.2 238h0M133.2 241.6h0M133.2 245.2h0M133.2 248.8h0M133.2 252.4h0M136.8 198.4h0M136.8 202h0M136.8 205.6h0M136.8 209.2h0M136.8 212.8h0M136.8 216.4h0M136.8 220h0M136.8 223.6h0M136.8 227.2h0M136.8 230.8h0M136.8 234.4h0M136.8 238h0M136.8 241.6h0M136.8 245.2h0M136.8 248.8h0M140.4 205.6h0M140.4 209.2h0M140.4 212.8h0M140.4 216.4h0M140.4 220h0M140.4 223.6h0M140.4 227.2h0M140.4 230.8h0M140.4 234.4h0M140.4 238h0M140.4 241.6h0M140.4 245.2h0M144 212.8h0M144 216.4h0M144 220h0M144 223.6h0M144 227.2h0M144 230.8h0M144 234.4h0" stroke="#f2b624" stroke-opacity="0.4" stroke-width="1.9" stroke-linecap="round" fill="none"/><polyline points="182,223.8 181.8,229.7 181.1,235.6 180.1,241.4 178.6,247.1 176.7,252.7 174.3,258.2 171.6,263.4 168.6,268.5 165.1,273.3 161.3,277.9 157.2,282.1 152.8,286.1 148.1,289.7 143.2,292.9 138,295.8 132.7,298.3 127.2,300.5 121.5,302.2 115.7,303.5 109.9,304.3 104,304.7 98,304.7 92.1,304.3 86.3,303.5 80.5,302.2 74.8,300.5 69.3,298.3 64,295.8 58.8,292.9 53.9,289.7 49.2,286.1 44.8,282.1 40.7,277.9 36.9,273.3 33.4,268.5 30.4,263.4 27.7,258.2 25.3,252.7 23.4,247.1 21.9,241.4 20.9,235.6 20.2,229.7 20,223.8 20.2,217.9 20.9,212 21.9,206.2 23.4,200.5 25.3,194.9 27.7,189.4 30.4,184.2 33.4,179.1 36.9,174.3 40.7,169.7 44.8,165.5 49.2,161.5 53.9,157.9 58.8,154.7 64,151.8 69.3,149.3 74.8,147.1 80.5,145.4 86.3,144.1 92.1,143.3 98,142.9 104,142.9 109.9,143.3 115.7,144.1 121.5,145.4 127.2,147.1 132.7,149.3 138,151.8 143.2,154.7 148.1,157.9 152.8,161.5 157.2,165.5 161.3,169.7 165.1,174.3 168.6,179.1 171.6,184.2 174.3,189.4 176.7,194.9 178.6,200.5 180.1,206.2 181.1,212 181.8,217.9" fill="none" stroke="none" marker-start="url(#mh)" marker-mid="url(#mh)" marker-end="url(#mh)"/>
<polyline points="150.8,223.8 150.5,229.2 149.6,234.5 148.2,239.7 146.2,244.7 143.7,249.5 140.6,253.9 137.2,258 133.2,261.8 128.9,265 124.3,267.8 119.4,270.1 114.3,271.8 109.1,272.9 103.7,273.5 98.3,273.5 92.9,272.9 87.7,271.8 82.6,270.1 77.7,267.8 73.1,265 68.8,261.8 64.8,258 61.4,253.9 58.3,249.5 55.8,244.7 53.8,239.7 52.4,234.5 51.5,229.2 51.2,223.8 51.5,218.4 52.4,213.1 53.8,207.9 55.8,202.9 58.3,198.1 61.4,193.7 64.8,189.6 68.8,185.8 73.1,182.6 77.7,179.8 82.6,177.5 87.7,175.8 92.9,174.7 98.3,174.1 103.7,174.1 109.1,174.7 114.3,175.8 119.4,177.5 124.3,179.8 128.9,182.6 133.2,185.8 137.2,189.6 140.6,193.7 143.7,198.1 146.2,202.9 148.2,207.9 149.6,213.1 150.5,218.4" fill="none" stroke="none" marker-start="url(#mh)" marker-mid="url(#mh)" marker-end="url(#mh)"/>
<path d="M405 226C406.2 225.2 406.4 225.4 408.7 223.5C411 221.6 410.9 222.9 411.9 220.4C413 217.9 413.3 218.1 411.9 216.1C410.6 214.1 410.6 214.1 408 214.3C405.5 214.6 405.7 214.5 404.3 216.7C402.8 218.9 403 218.4 403.6 221C404.3 223.6 404 223 406.3 224.5C408.7 226.1 407.8 225.6 410.7 225.7C413.5 225.7 412.3 225.7 415 224.7C417.8 223.7 416.3 224 419 222.5C421.6 221.1 420.4 222 422.9 220.3C425.4 218.7 424.4 219.7 426.5 217.6C428.5 215.5 428.1 216.6 429 213.9C429.8 211.2 429.8 212.2 429.1 209.5C428.4 206.7 428.9 207.6 426.8 205.6C424.7 203.7 425.6 204 422.8 203.7C420.1 203.3 420.7 203.1 418.5 204.6C416.3 206.2 416.6 205.7 416.1 208.3C415.7 211 415.7 210.2 417.2 212.6C418.7 215 418 214.3 420.6 215.5C423.2 216.6 422 216.2 425 216.1C427.9 215.9 426.5 215.9 429.4 215.1C432.2 214.3 430.9 214.8 433.6 213.6C436.4 212.5 435.3 213.5 437.6 211.7C440 209.9 439 210.8 440.6 208.3C442.1 205.8 441.6 207 442.2 204.1C442.9 201.2 443.1 202.4 442.5 199.7C442 196.9 442.6 197.2 440.5 195.7C438.4 194.2 438.5 194.1 436.3 195.1C434 196.1 434.3 196.1 433.8 198.7C433.4 201.3 433.4 200.7 434.9 203C436.5 205.2 435.9 204.7 438.6 205.5C441.3 206.2 440.2 206 443 205.2C445.8 204.4 444.6 204.8 446.9 203C449.3 201.2 448.2 202.2 450.1 199.8C451.9 197.5 450.5 198.2 452.5 196C454.4 193.8 453.3 193.9 455.8 193.2C458.4 192.4 457.7 192.5 460.2 193.7C462.7 195 461.8 194.5 463.2 197C464.7 199.5 464.1 198.3 464.5 201.3C464.9 204.2 465.2 203 464.5 205.7C463.7 208.5 464.5 208.1 462.3 209.6C460.2 211.1 460.6 211 458 210.3C455.4 209.7 456.1 210 454.5 207.7C452.9 205.4 453.3 206.3 453.3 203.4C453.2 200.5 452.8 201.3 454.3 199.1C455.9 196.8 455.3 197.4 458 196.7C460.7 196 459.5 196.7 462.5 197C465.4 197.2 463.9 197.3 466.9 197.6C469.9 197.9 468.4 197.8 471.4 197.9C474.4 198 472.9 198.1 475.9 197.9C478.9 197.8 477.6 197 480.4 197.5C483.2 197.9 482.4 197.3 484.4 199.3C486.3 201.2 486.1 200.6 486.2 203.3C486.3 206.1 486.5 205.4 484.7 207.5C482.9 209.5 483.5 209.2 480.8 209.5C478.1 209.8 478.8 209.9 476.5 208.3C474.3 206.7 474.9 207.4 474 204.7C473.1 202 473.1 203 473.8 200.2C474.5 197.5 474 198.3 476.2 196.5C478.4 194.6 477.5 195.2 480.3 194.7C483.1 194.3 481.9 194.3 484.7 195.2C487.5 196 486.3 195.6 488.7 197.3C491.1 199.1 490.2 198 491.9 200.4C493.6 202.8 492.3 201.9 493.9 204.4C495.5 206.9 494.3 206.7 496.7 207.9C499.1 209.1 498.4 209 501 208.1C503.6 207.2 502.8 207.6 504.5 205.3C506.2 203 505.8 204 506.1 201.1C506.4 198.3 506.6 199.4 505.4 196.7C504.3 194.1 505 194.5 502.7 193.3C500.3 192 500.7 191.9 498.3 192.9C496 194 496.1 193.9 495.7 196.4C495.3 199 495.4 198.4 497.1 200.6C498.8 202.7 498.1 201.8 500.8 202.9C503.5 204.1 502.3 203.2 505.2 204C508.1 204.8 506.6 204.7 509.5 205.3C512.4 206 511 206 514 205.9C516.9 205.9 516 206.6 518.3 205.3C520.7 203.9 520.4 204.4 521 201.8C521.7 199.2 521.7 199.7 520.2 197.5C518.7 195.3 519.1 195.4 516.5 195.2C513.9 194.9 514.2 194.9 512.4 196.8C510.6 198.7 510.9 198.1 511 200.9C511.1 203.6 511 202.6 512.7 204.9C514.5 207.3 513.6 206.4 516.2 207.8C518.7 209.2 517.5 208.8 520.4 209.2C523.3 209.7 521.9 209.5 524.9 209.1C527.8 208.6 526.4 208.8 529.3 208C532.2 207.2 530.9 207.9 533.6 206.7C536.3 205.5 535.3 206.4 537.4 204.5C539.6 202.5 539.5 203.4 540 200.8C540.4 198.2 540.6 198.6 538.9 196.6C537.2 194.6 537.6 194.9 534.9 194.8C532.1 194.6 532.8 194.5 530.7 196.2C528.5 197.9 529 197.2 528.3 199.9C527.5 202.6 527.6 201.6 528.4 204.4C529.2 207.1 528.7 206.2 530.7 208.2C532.7 210.3 531.8 209.5 534.5 210.5C537.3 211.5 536 211.1 538.9 211.3C541.9 211.4 540.5 211.4 543.4 211C546.4 210.6 545 211 547.8 210.1C550.6 209.1 549.3 209.6 551.9 208.2C554.5 206.8 553.7 207.9 555.7 205.8C557.7 203.8 557.9 204.6 557.9 202C558 199.5 558 199.8 555.8 198.2C553.7 196.6 554.3 197 551.5 197.3C548.8 197.6 549.7 197.4 547.5 199.2C545.3 201.1 545.9 200.2 545 202.9C544.1 205.6 544.4 204.4 544.8 207.3C545.2 210.2 545 208.8 546.2 211.6C547.5 214.3 546.7 213 548.5 215.4C550.3 217.8 549.4 216.6 551.6 218.7C553.7 220.8 552.4 220.3 554.9 221.7C557.4 223.2 556.8 223.6 559.1 223C561.5 222.4 561.8 222.2 562 220C562.1 217.8 561.8 217.8 559.6 216.4C557.3 215 558.1 215.6 555.2 215.8C552.3 216 553.6 215.8 550.9 217.1C548.2 218.3 549.3 217.5 547.1 219.4C544.9 221.4 545.8 220.4 544.2 222.9C542.6 225.4 543.2 224.1 542.3 226.9C541.3 229.7 541.6 228.4 541.4 231.3C541.3 234.3 541.2 232.9 541.8 235.8C542.4 238.7 541.5 237.9 543.2 240.1C544.8 242.3 544.2 242.1 546.8 242.4C549.4 242.7 548.8 242.7 551 241C553.1 239.2 552.9 239.8 553.2 237.2C553.5 234.5 553.5 235.3 551.8 233C550.1 230.8 550.9 231.4 548.2 230.5C545.5 229.5 546.6 229.9 543.7 230.3C540.8 230.7 542.2 230.6 539.4 231.7C536.7 232.8 538.1 232.3 535.4 233.6C532.7 234.9 534.2 234.8 531.3 235.6C528.5 236.4 529.6 236.7 526.9 236.1C524.2 235.4 525.1 235.8 523.2 233.7C521.2 231.6 522 232.6 521 229.8C520 227 520 228.2 520.2 225.4C520.4 222.5 519.8 223.1 521.6 221.2C523.5 219.4 523.1 219.4 525.7 219.8C528.3 220.1 527.5 220.1 529.3 222.3C531.1 224.5 530.8 223.6 531.1 226.4C531.3 229.2 531.5 228.2 530.1 230.7C528.8 233.2 529.4 232.2 527 233.8C524.5 235.4 525.7 234.8 522.8 235.5C519.9 236.3 521.3 236 518.3 236.1C515.4 236.3 516.8 236.5 513.9 235.9C510.9 235.4 512.2 235.9 509.6 234.5C507 233.2 508.1 234 506 231.9C503.8 229.8 504.4 231 503.2 228.3C502.1 225.7 501.8 226.6 502.4 224C503 221.4 502.7 221.7 505.1 220.5C507.4 219.4 507.1 219.3 509.5 220.5C511.8 221.6 511.3 221.3 512 224C512.8 226.6 512.6 225.7 511.6 228.4C510.6 231.1 511.4 230.4 509.2 232.1C506.9 233.8 507.8 233.2 504.9 233.4C502 233.7 503.3 233.6 500.5 232.9C497.6 232.2 498.9 232.6 496.3 231.3C493.6 230 494.5 230.9 492.5 228.9C490.4 226.9 490.8 227.9 490 225.2C489.3 222.5 489.1 223.3 490.2 220.8C491.3 218.3 491 218.2 493.3 217.8C495.6 217.3 496 217.5 497.1 219.5C498.3 221.5 498 221.4 496.7 223.8C495.4 226.1 495.7 224.9 493.3 226.6C490.8 228.2 492 227.5 489.3 228.7C486.6 230 487.9 229.3 485.1 230.3C482.3 231.3 483.8 231.5 480.9 231.8C478 232.1 479.2 232.3 476.5 231.3C473.7 230.3 474.8 230.9 472.7 228.9C470.7 226.8 471.2 227.8 470.3 225.1C469.5 222.3 469.4 223.3 470.1 220.6C470.9 217.9 470.4 218.5 472.6 217C474.9 215.5 474.5 215.3 476.9 216.1C479.3 216.8 479.2 216.8 479.7 219.3C480.3 221.7 480.1 221.2 478.4 223.5C476.8 225.7 477.5 224.8 474.8 226.1C472.2 227.3 473.4 226.8 470.5 227.3C467.6 227.8 469 227.2 466 227.6C463 228 464.6 228 461.6 228.5C458.6 228.9 459.9 229.4 457.1 228.9C454.3 228.5 455 229.1 453.2 227C451.4 225 451.6 225.6 451.7 222.9C451.8 220.1 451.7 221 453.5 218.8C455.3 216.6 454.5 217.5 457.2 216.3C459.9 215.2 458.8 214.9 461.5 215.3C464.3 215.7 463.7 215.3 465.3 217.5C467 219.6 466.6 219 466.4 221.7C466.2 224.5 466.4 223.4 464.7 225.9C463.1 228.3 463.9 227.3 461.5 229C459.1 230.7 460.4 230.3 457.5 231.1C454.7 231.8 456 231.6 453.1 231.3C450.2 231.1 451.6 231 448.7 230.2C445.8 229.4 447.2 230 444.4 229.1C441.5 228.1 442.9 228.7 440.2 227.4C437.5 226.2 438.6 227.1 436.2 225.4C433.8 223.7 434.7 224.7 433 222.2C431.4 219.8 431.4 220.9 431.2 218.2C430.9 215.4 430.6 216 432.3 213.9C434 211.9 433.5 212.2 436.2 212C439 211.7 438.2 211.6 440.5 213.1C442.8 214.7 442 214 443.2 216.7C444.4 219.3 444.1 218.1 444 221.1C444 224 444.2 222.7 443.1 225.4C442 228.1 442.7 227.1 440.7 229.2C438.6 231.3 439.7 230.5 437 231.7C434.3 233 435.6 232.4 432.7 232.9C429.7 233.4 431.2 233.1 428.2 233.2C425.2 233.4 426.7 233.5 423.7 233.4C420.7 233.4 422.1 233.7 419.2 233C416.3 232.4 417.7 232.9 415 231.5C412.3 230.2 413.1 231.2 411.3 229C409.5 226.8 409.4 227.5 409.6 225C409.8 222.4 409.7 222.7 411.9 221.3C414.2 220 413.6 220.3 416.3 220.9C419 221.6 418.5 221.1 420 223.3C421.6 225.5 421.3 224.8 421 227.6C420.8 230.4 421 229.3 419.2 231.6C417.5 234 418.3 232.9 415.8 234.5C413.4 236.2 414.5 235.2 411.8 236.7C409.2 238.1 410.5 237.4 407.9 238.8C405.3 240.3 406.8 240.1 404 241C401.2 242 402.4 242.1 399.6 241.8C396.8 241.4 397.5 241.9 395.5 240C393.5 238.1 393.6 238.7 393.6 236.1C393.5 233.4 393.4 233.8 395.4 232.1C397.4 230.4 396.8 230.9 399.7 231C402.5 231.2 401.4 231 403.9 232.5C406.3 234.1 405.3 233.3 407 235.7C408.7 238.1 407.8 237 408.9 239.7C410.1 242.5 408.7 241.9 410.5 244C412.3 246 411.8 246 414.3 245.9C416.8 245.9 416.4 245.9 418.1 243.8C419.8 241.6 419.4 242.3 419.4 239.5C419.4 236.7 419.8 237.4 418 235.3C416.3 233.2 416.6 233.1 414.2 233.2C411.8 233.4 411.6 233.6 410.9 235.8C410.2 238 410.4 237.8 412.1 240C413.7 242.1 413.1 241.4 415.9 242.3C418.6 243.2 417.4 243 420.3 242.6C423.2 242.3 421.8 242.4 424.6 241.2C427.4 240.1 425.9 240.4 428.6 239.3C431.4 238.1 430.1 237.8 432.9 237.9C435.6 238 435.1 237.7 436.9 239.6C438.7 241.6 438 240.9 438.3 243.8C438.7 246.7 438.5 245.3 437.9 248.2C437.2 251.2 437.8 250 436.4 252.5C434.9 255 435.9 254.9 433.5 255.8C431.1 256.8 431.4 256.8 429.2 255.4C427 254 427.2 254.3 426.8 251.7C426.4 249.1 426.2 249.6 427.9 247.5C429.6 245.5 429.1 246 431.9 245.6C434.7 245.3 433.6 245.3 436.3 246.5C438.9 247.7 437.7 247.1 439.8 249.2C442 251.2 440.7 250.4 442.7 252.7C444.7 254.9 443.5 254.1 445.8 255.9C448.1 257.8 446.9 257.7 449.6 258.2C452.3 258.6 451.5 258.8 453.9 257.4C456.3 256 455.5 256.5 456.8 254C458.2 251.4 457.4 252.6 458 249.6C458.7 246.7 458.8 248.1 458.7 245.2C458.7 242.3 459.5 242.9 458 240.8C456.4 238.7 456.7 238.7 454.2 238.9C451.7 239 451.9 238.9 450.5 241.2C449 243.4 449.6 242.6 449.8 245.5C450 248.4 449.6 247.3 451.1 249.8C452.5 252.3 451.9 251.2 454.1 253.1C456.4 255 455.2 254.2 457.9 255.6C460.6 256.9 459.2 256.6 462.1 257C465 257.4 463.8 257.5 466.6 256.8C469.4 256.1 468.2 256.6 470.7 254.9C473.1 253.3 472.2 254.2 473.9 251.8C475.5 249.4 475.3 250.5 475.7 247.7C476.1 244.9 476.6 245.4 475 243.4C473.5 241.5 473.5 241.4 471 241.8C468.6 242.2 468.7 242.2 467.7 244.6C466.7 247 466.8 246.6 468 248.9C469.3 251.3 468.9 250.4 471.5 251.7C474.1 252.9 473 252 475.9 252.7C478.8 253.3 477.4 252.8 480.3 253.7C483.1 254.6 481.6 254.4 484.4 255.3C487.3 256.2 486 256.6 488.8 256.4C491.6 256.2 490.7 256.6 492.9 254.8C495 253 494.3 253.7 495.2 251C496.1 248.2 496.1 249.3 495.6 246.5C495.1 243.7 495.7 244.3 493.6 242.5C491.6 240.7 492.1 240.8 489.5 241.1C486.9 241.4 487.1 241.2 485.8 243.4C484.4 245.6 484.6 245.1 485.4 247.7C486.2 250.3 485.8 249.6 488.2 251.1C490.6 252.7 489.6 252.3 492.5 252.4C495.3 252.4 494.2 252.6 496.8 251.3C499.5 250.1 498.3 250.8 500.4 248.7C502.5 246.6 501.1 247.3 503.1 245C505 242.8 503.7 243 506.2 241.9C508.8 240.9 508.1 240.9 510.6 241.9C513.1 242.9 512.3 242.5 513.8 245C515.2 247.4 514.7 246.3 514.9 249.3C515.2 252.2 515.4 251 514.6 253.7C513.8 256.5 514.6 256 512.5 257.7C510.4 259.3 510.8 259.3 508.3 258.7C505.8 258.1 506.5 258.3 504.9 255.9C503.3 253.6 503.7 254.5 503.5 251.7C503.4 248.8 503 249.7 504.4 247.3C505.8 244.9 505.1 245.5 507.7 244.3C510.3 243.2 509.2 244 512.1 243.9C515.1 243.8 513.6 243.9 516.6 244.1C519.6 244.3 518.2 244 521.1 244.4C524.1 244.9 522.7 244.4 525.5 245.5C528.2 246.6 527.7 245.6 529.3 247.8C531 249.9 531.1 249.5 530.4 252C529.8 254.4 529.8 254.6 527.5 255C525.1 255.5 525 255.4 523.5 253.4C522 251.4 522.3 251.8 522.9 249.1C523.5 246.4 523.5 247.7 525.4 245.4C527.2 243.1 526.5 244.4 528.5 242.2C530.6 240 529.3 240.8 531.6 238.9C533.8 237 532.7 237.1 535.4 236.6C538.1 236.1 537.3 235.9 539.7 237.4C542.1 238.8 541 238.3 542.4 240.9C543.8 243.5 543.1 242.3 543.9 245.1C544.7 248 544.9 246.6 544.9 249.5C544.9 252.4 545.6 252 543.9 253.8C542.2 255.6 542.3 255.4 539.8 254.9C537.3 254.3 537.9 254.5 536.4 252.1C534.9 249.7 535.4 250.7 535.3 247.8C535.3 244.9 535 246 536.3 243.4C537.5 240.8 536.8 241.9 539 239.9C541.2 238 540.1 238.6 542.8 237.5C545.6 236.5 544.4 236.4 547.2 236.7C550.1 237 549 236.8 551.4 238.4C553.7 240.1 553.4 240.6 554.4 241.7" fill="none" stroke="#1f3f9f" stroke-width="1.9" stroke-linejoin="round"/>
<path d="M165 294L295.6 380L425 296M295.6 380V439" fill="none" stroke="#000" stroke-width="2.6"/>
<g font-family="'Liberation Sans', Arial, sans-serif" fill="#1a1a1a"><text x="30.2" y="363.8" font-size="25.8">Liposome</text>
<text x="441.2" y="366.1" font-size="25.8">mRNA</text>
</g>
<path d="M142 517L160 500L185 489L300 484L420 490L446 498L453 505L415 528.5L300 523L200 519Z" fill="#f0a018"/><path d="M146.9 551.5L168.7 552.5L190.4 553.4L212.2 554.3L233.9 555.2L255.7 556.1L277.4 557L299.2 557.9L320.9 558.8L342.7 559.7L364.4 560.6L386.2 561.5L407.9 562.5L403.9 582L382.7 581.1L361.5 580.2L340.4 579.3L319.2 578.4L298 577.6L276.8 576.7L255.7 575.8L234.5 574.9L213.3 574L192.1 573.2L170.9 572.3L149.8 571.4ZM407.9 562.5L417 556.7L426 550.9L435 545.1L444 539.3L439.4 559L430.5 564.8L421.7 570.5L412.8 576.2L403.9 582ZM154.5 604.2L174.7 605L194.9 605.8L215.1 606.7L235.4 607.5L255.6 608.3L275.8 609.2L296.1 610L316.3 610.8L336.5 611.7L356.8 612.5L377 613.4L397.2 614.2L392.6 636.4L373 635.6L353.4 634.8L333.9 634L314.3 633.2L294.7 632.4L275.1 631.6L255.6 630.8L236 630L216.4 629.2L196.8 628.4L177.3 627.6L157.7 626.8ZM397.2 614.2L405.9 608.5L414.5 602.9L423.2 597.2L431.8 591.6L426.6 614.1L418.1 619.7L409.6 625.3L401.1 630.8L392.6 636.4Z" fill="#f3b850"/><path d="M142 517L164.8 518L187.5 518.9L210.2 519.9L233 520.8L255.8 521.8L278.5 522.8L301.2 523.7L324 524.7L346.8 525.6L369.5 526.6L392.2 527.5L415 528.5L407.8 563.2L386.1 562.3L364.3 561.4L342.6 560.5L320.9 559.5L299.1 558.6L277.4 557.7L255.7 556.8L234 555.9L212.2 555L190.5 554.1L168.8 553.2L147 552.3ZM415 528.5L424.2 522.6L433.5 516.8L442.8 510.9L452 505L443.8 540L434.8 545.8L425.8 551.6L416.8 557.4L407.8 563.2ZM149.7 570.7L170.9 571.5L192.1 572.4L213.3 573.3L234.5 574.2L255.7 575.1L276.9 575.9L298.1 576.8L319.3 577.7L340.5 578.6L361.7 579.5L382.9 580.4L404.1 581.2L397.1 614.9L376.9 614.1L356.6 613.2L336.4 612.4L316.2 611.6L296 610.7L275.8 609.9L255.6 609.1L235.4 608.2L215.2 607.4L195 606.6L174.8 605.7L154.6 604.9ZM404.1 581.2L412.9 575.5L421.8 569.8L430.7 564L439.6 558.3L431.7 592.3L423 598L414.4 603.6L405.7 609.3L397.1 614.9ZM157.6 626.1L177.2 626.9L196.8 627.7L216.4 628.5L236 629.3L255.6 630.1L275.2 630.9L294.8 631.7L314.4 632.5L334 633.3L353.5 634.1L373.1 634.9L392.7 635.7L385.8 669.4L367.1 668.6L348.5 667.9L329.9 667.1L311.3 666.4L292.7 665.6L274.1 664.9L255.5 664.1L236.9 663.3L218.3 662.6L199.7 661.8L181.1 661.1L162.5 660.3ZM392.7 635.7L401.2 630.1L409.8 624.5L418.3 618.9L426.8 613.3L418.9 647.4L410.6 652.9L402.3 658.4L394 663.9L385.8 669.4Z" fill="#fefdf6"/><path d="M143.6 517.1L146 533.8M148.6 552.3L146.2 535.6M146.9 517.2L149.2 534M151.7 552.5L149.4 535.7M150.1 517.3L152.3 534.1M154.8 552.6L152.6 535.9M153.4 517.5L155.5 534.2M157.9 552.7L155.8 536M156.6 517.6L158.7 534.4M161 552.9L158.9 536.1M159.9 517.8L161.9 534.5M164.1 553L162.1 536.3M163.1 517.9L165.1 534.6M167.2 553.1L165.3 536.4M166.4 518L168.2 534.8M170.3 553.3L168.4 536.5M169.6 518.2L171.4 534.9M173.4 553.4L171.6 536.7M172.9 518.3L174.6 535M176.5 553.5L174.8 536.8M176.1 518.4L177.8 535.2M179.6 553.6L178 536.9M179.4 518.6L181 535.3M182.7 553.8L181.1 537.1M182.6 518.7L184.2 535.4M185.8 553.9L184.3 537.2M185.9 518.8L187.3 535.6M188.9 554L187.5 537.3M189.1 519L190.5 535.7M192.1 554.2L190.7 537.5M192.4 519.1L193.7 535.8M195.2 554.3L193.8 537.6M195.6 519.3L196.9 536M198.3 554.4L197 537.7M198.9 519.4L200.1 536.1M201.4 554.6L200.2 537.9M202.1 519.5L203.2 536.2M204.5 554.7L203.4 538M205.4 519.7L206.4 536.4M207.6 554.8L206.5 538.1M208.6 519.8L209.6 536.5M210.7 554.9L209.7 538.3M211.9 519.9L212.8 536.6M213.8 555.1L212.9 538.4M215.1 520.1L216 536.8M216.9 555.2L216 538.5M218.4 520.2L219.1 536.9M220 555.3L219.2 538.7M221.6 520.4L222.3 537M223.1 555.5L222.4 538.8M224.9 520.5L225.5 537.2M226.2 555.6L225.6 538.9M228.1 520.6L228.7 537.3M229.3 555.7L228.7 539.1M231.4 520.8L231.9 537.4M232.4 555.8L231.9 539.2M234.6 520.9L235 537.6M235.5 556L235.1 539.3M237.9 521L238.2 537.7M238.6 556.1L238.3 539.5M241.1 521.2L241.4 537.8M241.7 556.2L241.4 539.6M244.4 521.3L244.6 538M244.8 556.4L244.6 539.7M247.6 521.4L247.8 538.1M247.9 556.5L247.8 539.8M250.9 521.6L251 538.2M251 556.6L251 540M254.1 521.7L254.1 538.4M254.1 556.8L254.1 540.1M257.4 521.9L257.3 538.5M257.2 556.9L257.3 540.2M260.6 522L260.5 538.6M260.3 557L260.5 540.4M263.9 522.1L263.7 538.8M263.5 557.1L263.7 540.5M267.1 522.3L266.9 538.9M266.6 557.3L266.8 540.6M270.4 522.4L270 539M269.7 557.4L270 540.8M273.6 522.5L273.2 539.2M272.8 557.5L273.2 540.9M276.9 522.7L276.4 539.3M275.9 557.7L276.3 541M280.1 522.8L279.6 539.4M279 557.8L279.5 541.2M283.4 523L282.8 539.6M282.1 557.9L282.7 541.3M286.6 523.1L285.9 539.7M285.2 558.1L285.9 541.4M289.9 523.2L289.1 539.8M288.3 558.2L289 541.6M293.1 523.4L292.3 540M291.4 558.3L292.2 541.7M296.4 523.5L295.5 540.1M294.5 558.4L295.4 541.8M299.6 523.6L298.7 540.2M297.6 558.6L298.6 542M302.9 523.8L301.8 540.4M300.7 558.7L301.7 542.1M306.1 523.9L305 540.5M303.8 558.8L304.9 542.2M309.4 524.1L308.2 540.6M306.9 559L308.1 542.4M312.6 524.2L311.4 540.8M310 559.1L311.3 542.5M315.9 524.3L314.6 540.9M313.1 559.2L314.4 542.6M319.1 524.5L317.7 541M316.2 559.4L317.6 542.8M322.4 524.6L320.9 541.2M319.3 559.5L320.8 542.9M325.6 524.7L324.1 541.3M322.4 559.6L323.9 543M328.9 524.9L327.3 541.4M325.5 559.7L327.1 543.2M332.1 525L330.5 541.6M328.6 559.9L330.3 543.3M335.4 525.1L333.7 541.7M331.7 560L333.5 543.4M338.6 525.3L336.8 541.8M334.8 560.1L336.6 543.6M341.9 525.4L340 542M338 560.3L339.8 543.7M345.1 525.6L343.2 542.1M341.1 560.4L343 543.8M348.4 525.7L346.4 542.2M344.2 560.5L346.2 544M351.6 525.8L349.6 542.4M347.3 560.6L349.3 544.1M354.9 526L352.7 542.5M350.4 560.8L352.5 544.2M358.1 526.1L355.9 542.6M353.5 560.9L355.7 544.4M361.4 526.2L359.1 542.8M356.6 561L358.9 544.5M364.6 526.4L362.3 542.9M359.7 561.2L362 544.6M367.9 526.5L365.5 543M362.8 561.3L365.2 544.8M371.1 526.7L368.6 543.2M365.9 561.4L368.4 544.9M374.4 526.8L371.8 543.3M369 561.6L371.6 545M377.6 526.9L375 543.4M372.1 561.7L374.7 545.2M380.9 527.1L378.2 543.6M375.2 561.8L377.9 545.3M384.1 527.2L381.4 543.7M378.3 561.9L381.1 545.4M387.4 527.3L384.5 543.8M381.4 562.1L384.2 545.6M390.6 527.5L387.7 544M384.5 562.2L387.4 545.7M393.9 527.6L390.9 544.1M387.6 562.3L390.6 545.8M397.1 527.7L394.1 544.2M390.7 562.5L393.8 546M400.4 527.9L397.3 544.4M393.8 562.6L396.9 546.1M403.6 528L400.4 544.5M396.9 562.7L400.1 546.2M406.9 528.2L403.6 544.6M400 562.9L403.3 546.4M410.1 528.3L406.8 544.8M403.1 563L406.5 546.5M413.4 528.4L410 544.9M406.2 563.1L409.6 546.6M151.2 570.7L153.5 587M156 605L153.7 588.7M154.2 570.8L156.4 587.1M158.9 605.1L156.7 588.8M157.2 571L159.4 587.2M161.8 605.2L159.6 588.9M160.3 571.1L162.4 587.4M164.7 605.3L162.6 589.1M163.3 571.2L165.3 587.5M167.5 605.4L165.5 589.2M166.3 571.3L168.3 587.6M170.4 605.6L168.5 589.3M169.3 571.5L171.2 587.7M173.3 605.7L171.4 589.4M172.4 571.6L174.2 587.8M176.2 605.8L174.4 589.6M175.4 571.7L177.2 588M179.1 605.9L177.3 589.7M178.4 571.9L180.1 588.1M182 606L180.3 589.8M181.5 572L183.1 588.2M184.9 606.2L183.3 589.9M184.5 572.1L186 588.3M187.8 606.3L186.2 590M187.5 572.2L189 588.5M190.6 606.4L189.2 590.2M190.5 572.4L192 588.6M193.5 606.5L192.1 590.3M193.6 572.5L194.9 588.7M196.4 606.6L195.1 590.4M196.6 572.6L197.9 588.8M199.3 606.8L198 590.5M199.6 572.7L200.8 588.9M202.2 606.9L201 590.7M202.7 572.9L203.8 589.1M205.1 607L203.9 590.8M205.7 573L206.8 589.2M208 607.1L206.9 590.9M208.7 573.1L209.7 589.3M210.9 607.2L209.8 591M211.7 573.2L212.7 589.4M213.7 607.3L212.8 591.1M214.8 573.4L215.7 589.6M216.6 607.5L215.7 591.3M217.8 573.5L218.6 589.7M219.5 607.6L218.7 591.4M220.8 573.6L221.6 589.8M222.4 607.7L221.7 591.5M223.9 573.7L224.5 589.9M225.3 607.8L224.6 591.6M226.9 573.9L227.5 590.1M228.2 607.9L227.6 591.8M229.9 574L230.5 590.2M231.1 608.1L230.5 591.9M232.9 574.1L233.4 590.3M233.9 608.2L233.5 592M236 574.2L236.4 590.4M236.8 608.3L236.4 592.1M239 574.4L239.3 590.5M239.7 608.4L239.4 592.2M242 574.5L242.3 590.7M242.6 608.5L242.3 592.4M245.1 574.6L245.3 590.8M245.5 608.7L245.3 592.5M248.1 574.8L248.2 590.9M248.4 608.8L248.2 592.6M251.1 574.9L251.2 591M251.3 608.9L251.2 592.7M254.1 575L254.2 591.2M254.2 609L254.2 592.9M257.2 575.1L257.1 591.3M257 609.1L257.1 593M260.2 575.3L260.1 591.4M259.9 609.3L260.1 593.1M263.2 575.4L263 591.5M262.8 609.4L263 593.2M266.3 575.5L266 591.7M265.7 609.5L266 593.3M269.3 575.6L269 591.8M268.6 609.6L268.9 593.5M272.3 575.8L271.9 591.9M271.5 609.7L271.9 593.6M275.3 575.9L274.9 592M274.4 609.8L274.8 593.7M278.4 576L277.8 592.1M277.3 610L277.8 593.8M281.4 576.1L280.8 592.3M280.1 610.1L280.7 594M284.4 576.3L283.8 592.4M283 610.2L283.7 594.1M287.5 576.4L286.7 592.5M285.9 610.3L286.6 594.2M290.5 576.5L289.7 592.6M288.8 610.4L289.6 594.3M293.5 576.6L292.6 592.8M291.7 610.6L292.6 594.5M296.5 576.8L295.6 592.9M294.6 610.7L295.5 594.6M299.6 576.9L298.6 593M297.5 610.8L298.5 594.7M302.6 577L301.5 593.1M300.3 610.9L301.4 594.8M305.6 577.1L304.5 593.2M303.2 611L304.4 594.9M308.7 577.3L307.5 593.4M306.1 611.2L307.3 595.1M311.7 577.4L310.4 593.5M309 611.3L310.3 595.2M314.7 577.5L313.4 593.6M311.9 611.4L313.2 595.3M317.7 577.7L316.3 593.7M314.8 611.5L316.2 595.4M320.8 577.8L319.3 593.9M317.7 611.6L319.1 595.6M323.8 577.9L322.3 594M320.6 611.8L322.1 595.7M326.8 578L325.2 594.1M323.4 611.9L325.1 595.8M329.9 578.2L328.2 594.2M326.3 612L328 595.9M332.9 578.3L331.1 594.4M329.2 612.1L331 596M335.9 578.4L334.1 594.5M332.1 612.2L333.9 596.2M338.9 578.5L337.1 594.6M335 612.4L336.9 596.3M342 578.7L340 594.7M337.9 612.5L339.8 596.4M345 578.8L343 594.8M340.8 612.6L342.8 596.5M348 578.9L345.9 595M343.7 612.7L345.7 596.7M351.1 579L348.9 595.1M346.5 612.8L348.7 596.8M354.1 579.2L351.9 595.2M349.4 612.9L351.6 596.9M357.1 579.3L354.8 595.3M352.3 613.1L354.6 597M360.1 579.4L357.8 595.5M355.2 613.2L357.5 597.1M363.2 579.5L360.8 595.6M358.1 613.3L360.5 597.3M366.2 579.7L363.7 595.7M361 613.4L363.5 597.4M369.2 579.8L366.7 595.8M363.9 613.5L366.4 597.5M372.3 579.9L369.6 595.9M366.7 613.7L369.4 597.6M375.3 580L372.6 596.1M369.6 613.8L372.3 597.8M378.3 580.2L375.6 596.2M372.5 613.9L375.3 597.9M381.3 580.3L378.5 596.3M375.4 614L378.2 598M384.4 580.4L381.5 596.4M378.3 614.1L381.2 598.1M387.4 580.5L384.4 596.6M381.2 614.3L384.1 598.2M390.4 580.7L387.4 596.7M384.1 614.4L387.1 598.4M393.5 580.8L390.4 596.8M387 614.5L390 598.5M396.5 580.9L393.3 596.9M389.8 614.6L393 598.6M399.5 581.1L396.3 597.1M392.7 614.7L395.9 598.7M402.5 581.2L399.2 597.2M395.6 614.9L398.9 598.9M159 626.1L161.3 642.4M163.8 660.4L161.5 644.1M161.8 626.2L164 642.5M166.5 660.5L164.2 644.2M164.6 626.4L166.7 642.6M169.1 660.6L167 644.3M167.4 626.5L169.5 642.7M171.8 660.7L169.7 644.4M170.2 626.6L172.2 642.8M174.4 660.8L172.4 644.6M173 626.7L174.9 643M177.1 660.9L175.1 644.7M175.8 626.8L177.7 643.1M179.8 661L177.9 644.8M178.6 626.9L180.4 643.2M182.4 661.1L180.6 644.9M181.4 627L183.1 643.3M185.1 661.2L183.3 645M184.2 627.2L185.9 643.4M187.7 661.3L186 645.1M187 627.3L188.6 643.5M190.4 661.5L188.8 645.2M189.8 627.4L191.3 643.6M193 661.6L191.5 645.3M192.6 627.5L194.1 643.7M195.7 661.7L194.2 645.4M195.4 627.6L196.8 643.8M198.4 661.8L196.9 645.6M198.2 627.7L199.5 644M201 661.9L199.7 645.7M201 627.9L202.3 644.1M203.7 662L202.4 645.8M203.8 628L205 644.2M206.3 662.1L205.1 645.9M206.6 628.1L207.7 644.3M209 662.2L207.8 646M209.4 628.2L210.5 644.4M211.6 662.3L210.6 646.1M212.2 628.3L213.2 644.5M214.3 662.4L213.3 646.2M215 628.4L215.9 644.6M217 662.5L216 646.3M217.8 628.5L218.7 644.7M219.6 662.6L218.7 646.4M220.6 628.7L221.4 644.9M222.3 662.8L221.5 646.6M223.4 628.8L224.1 645M224.9 662.9L224.2 646.7M226.2 628.9L226.8 645.1M227.6 663L226.9 646.8M229 629L229.6 645.2M230.3 663.1L229.6 646.9M231.8 629.1L232.3 645.3M232.9 663.2L232.4 647M234.6 629.2L235 645.4M235.6 663.3L235.1 647.1M237.4 629.3L237.8 645.5M238.2 663.4L237.8 647.2M240.2 629.5L240.5 645.6M240.9 663.5L240.5 647.3M243 629.6L243.2 645.7M243.5 663.6L243.3 647.4M245.8 629.7L246 645.9M246.2 663.7L246 647.6M248.6 629.8L248.7 646M248.9 663.8L248.7 647.7M251.4 629.9L251.4 646.1M251.5 663.9L251.4 647.8M254.2 630L254.2 646.2M254.2 664L254.2 647.9M257 630.2L256.9 646.3M256.8 664.2L256.9 648M259.8 630.3L259.6 646.4M259.5 664.3L259.6 648.1M262.6 630.4L262.4 646.5M262.2 664.4L262.3 648.2M265.4 630.5L265.1 646.6M264.8 664.5L265.1 648.3M268.2 630.6L267.8 646.7M267.5 664.6L267.8 648.4M271 630.7L270.6 646.9M270.1 664.7L270.5 648.6M273.8 630.8L273.3 647M272.8 664.8L273.2 648.7M276.6 631L276 647.1M275.4 664.9L276 648.8M279.4 631.1L278.8 647.2M278.1 665L278.7 648.9M282.2 631.2L281.5 647.3M280.8 665.1L281.4 649M285 631.3L284.2 647.4M283.4 665.2L284.1 649.1M287.8 631.4L287 647.5M286.1 665.3L286.9 649.2M290.6 631.5L289.7 647.6M288.7 665.4L289.6 649.3M293.4 631.6L292.4 647.8M291.4 665.6L292.3 649.4M296.2 631.8L295.2 647.9M294 665.7L295 649.6M299 631.9L297.9 648M296.7 665.8L297.8 649.7M301.8 632L300.6 648.1M299.4 665.9L300.5 649.8M304.6 632.1L303.4 648.2M302 666L303.2 649.9M307.4 632.2L306.1 648.3M304.7 666.1L306 650M310.2 632.3L308.8 648.4M307.3 666.2L308.7 650.1M313 632.4L311.5 648.5M310 666.3L311.4 650.2M315.8 632.6L314.3 648.6M312.7 666.4L314.1 650.3M318.6 632.7L317 648.8M315.3 666.5L316.9 650.4M321.4 632.8L319.7 648.9M318 666.6L319.6 650.6M324.2 632.9L322.5 649M320.6 666.7L322.3 650.7M327 633L325.2 649.1M323.3 666.9L325 650.8M329.8 633.1L327.9 649.2M325.9 667L327.8 650.9M332.6 633.3L330.7 649.3M328.6 667.1L330.5 651M335.4 633.4L333.4 649.4M331.3 667.2L333.2 651.1M338.1 633.5L336.1 649.5M333.9 667.3L335.9 651.2M340.9 633.6L338.9 649.6M336.6 667.4L338.7 651.3M343.7 633.7L341.6 649.8M339.2 667.5L341.4 651.4M346.5 633.8L344.3 649.9M341.9 667.6L344.1 651.6M349.3 633.9L347.1 650M344.6 667.7L346.8 651.7M352.1 634.1L349.8 650.1M347.2 667.8L349.6 651.8M354.9 634.2L352.5 650.2M349.9 667.9L352.3 651.9M357.7 634.3L355.3 650.3M352.5 668L355 652M360.5 634.4L358 650.4M355.2 668.1L357.7 652.1M363.3 634.5L360.7 650.5M357.8 668.3L360.5 652.2M366.1 634.6L363.5 650.7M360.5 668.4L363.2 652.3M368.9 634.7L366.2 650.8M363.2 668.5L365.9 652.4M371.7 634.9L368.9 650.9M365.8 668.6L368.6 652.6M374.5 635L371.7 651M368.5 668.7L371.4 652.7M377.3 635.1L374.4 651.1M371.1 668.8L374.1 652.8M380.1 635.2L377.1 651.2M373.8 668.9L376.8 652.9M382.9 635.3L379.9 651.3M376.4 669L379.5 653M385.7 635.4L382.6 651.4M379.1 669.1L382.3 653.1M388.5 635.5L385.3 651.5M381.8 669.2L385 653.2M391.3 635.7L388.1 651.7M384.4 669.3L387.7 653.3M416.5 527.5L413.1 544M409.3 562.2L412.7 545.7M419.6 525.6L416.1 542.1M412.3 560.3L415.8 543.8M422.7 523.6L419.2 540.1M415.3 558.4L418.8 541.9M425.8 521.6L422.2 538.2M418.3 556.4L421.9 539.9M428.9 519.7L425.3 536.2M421.3 554.5L424.9 538M432 517.7L428.3 534.3M424.3 552.6L427.9 536M435 515.8L431.4 532.3M427.3 550.6L431 534.1M438.1 513.8L434.4 530.4M430.3 548.7L434 532.1M441.2 511.9L437.5 528.4M433.3 546.8L437.1 530.2M444.3 509.9L440.5 526.5M436.3 544.9L440.1 528.3M447.4 507.9L443.6 524.6M439.3 542.9L443.2 526.3M450.5 506L446.6 522.6M442.3 541L446.2 524.4M405.5 580.3L402.2 596.3M398.5 614L401.8 598M408.5 578.4L405.1 594.4M401.4 612.1L404.8 596.1M411.5 576.5L408 592.5M404.3 610.2L407.7 594.2M414.4 574.5L411 590.6M407.2 608.3L410.6 592.3M417.4 572.6L413.9 588.7M410 606.4L413.5 590.4M420.3 570.7L416.8 586.8M412.9 604.6L416.4 588.5M423.3 568.8L419.7 584.9M415.8 602.7L419.4 586.6M426.3 566.9L422.7 583M418.7 600.8L422.3 584.7M429.2 565L425.6 581.1M421.6 598.9L425.2 582.8M432.2 563.1L428.5 579.2M424.5 597L428.1 580.9M435.1 561.2L431.4 577.3M427.3 595.1L431 579M438.1 559.2L434.4 575.4M430.2 593.2L434 577.1M394.2 634.8L390.8 650.8M387.1 668.5L390.5 652.5M397 632.9L393.6 648.9M389.9 666.6L393.3 650.6M399.8 631.1L396.4 647.1M392.6 664.8L396.1 648.8M402.7 629.2L399.2 645.2M395.4 663L398.9 646.9M405.5 627.3L402 643.4M398.2 661.1L401.6 645.1M408.3 625.5L404.8 641.5M400.9 659.3L404.4 643.2M411.2 623.6L407.6 639.7M403.7 657.5L407.2 641.4M414 621.7L410.4 637.8M406.4 655.6L410 639.5M416.8 619.9L413.2 636M409.2 653.8L412.8 637.7M419.7 618L416 634.1M412 651.9L415.6 635.8M422.5 616.1L418.8 632.3M414.7 650.1L418.4 634M425.4 614.3L421.6 630.4M417.5 648.3L421.2 632.1" stroke="#e4e2d2" stroke-width="0.75" fill="none"/><path d="M144.6 524.1L145.7 532.1M147.6 545.3L146.5 537.4M147.8 524.3L148.9 532.2M150.7 545.4L149.6 537.5M151.1 524.4L152.1 532.3M153.9 545.6L152.8 537.6M154.3 524.5L155.3 532.5M157 545.7L156 537.8M157.5 524.7L158.5 532.6M160.1 545.8L159.1 537.9M160.7 524.8L161.7 532.7M163.3 545.9L162.3 538M163.9 524.9L164.9 532.9M166.4 546.1L165.5 538.1M167.2 525.1L168.1 533M169.5 546.2L168.6 538.3M170.4 525.2L171.2 533.1M172.7 546.3L171.8 538.4M173.6 525.3L174.4 533.3M175.8 546.5L175 538.5M176.8 525.5L177.6 533.4M178.9 546.6L178.1 538.7M180 525.6L180.8 533.5M182.1 546.7L181.3 538.8M183.3 525.7L184 533.7M185.2 546.9L184.5 538.9M186.5 525.9L187.2 533.8M188.3 547L187.6 539.1M189.7 526L190.4 533.9M191.5 547.1L190.8 539.2M192.9 526.2L193.6 534.1M194.6 547.3L194 539.3M196.2 526.3L196.7 534.2M197.7 547.4L197.1 539.5M199.4 526.4L199.9 534.3M200.9 547.5L200.3 539.6M202.6 526.6L203.1 534.5M204 547.7L203.5 539.7M205.8 526.7L206.3 534.6M207.1 547.8L206.6 539.9M209 526.8L209.5 534.7M210.3 547.9L209.8 540M212.3 527L212.7 534.9M213.4 548L213 540.1M215.5 527.1L215.9 535M216.5 548.2L216.1 540.3M218.7 527.2L219.1 535.1M219.7 548.3L219.3 540.4M221.9 527.4L222.2 535.3M222.8 548.4L222.5 540.5M225.1 527.5L225.4 535.4M225.9 548.6L225.6 540.7M228.4 527.6L228.6 535.5M229.1 548.7L228.8 540.8M231.6 527.8L231.8 535.7M232.2 548.8L232 540.9M234.8 527.9L235 535.8M235.3 549L235.1 541.1M238 528.1L238.2 535.9M238.5 549.1L238.3 541.2M241.2 528.2L241.4 536.1M241.6 549.2L241.5 541.3M244.5 528.3L244.6 536.2M244.7 549.4L244.6 541.5M247.7 528.5L247.8 536.3M247.9 549.5L247.8 541.6M250.9 528.6L250.9 536.5M251 549.6L251 541.7M254.1 528.7L254.1 536.6M254.1 549.8L254.1 541.9M257.3 528.9L257.3 536.7M257.3 549.9L257.3 542M260.6 529L260.5 536.9M260.4 550L260.5 542.1M263.8 529.1L263.7 537M263.5 550.1L263.6 542.3M267 529.3L266.9 537.1M266.7 550.3L266.8 542.4M270.2 529.4L270.1 537.3M269.8 550.4L270 542.5M273.5 529.5L273.3 537.4M272.9 550.5L273.1 542.7M276.7 529.7L276.4 537.5M276.1 550.7L276.3 542.8M279.9 529.8L279.6 537.7M279.2 550.8L279.5 542.9M283.1 529.9L282.8 537.8M282.3 550.9L282.6 543.1M286.3 530.1L286 538M285.5 551.1L285.8 543.2M289.6 530.2L289.2 538.1M288.6 551.2L289 543.3M292.8 530.4L292.4 538.2M291.7 551.3L292.1 543.5M296 530.5L295.6 538.4M294.9 551.5L295.3 543.6M299.2 530.6L298.8 538.5M298 551.6L298.5 543.7M302.4 530.8L302 538.6M301.1 551.7L301.6 543.9M305.7 530.9L305.1 538.8M304.3 551.8L304.8 544M308.9 531L308.3 538.9M307.4 552L308 544.1M312.1 531.2L311.5 539M310.5 552.1L311.1 544.3M315.3 531.3L314.7 539.2M313.7 552.2L314.3 544.4M318.5 531.4L317.9 539.3M316.8 552.4L317.5 544.5M321.8 531.6L321.1 539.4M319.9 552.5L320.6 544.7M325 531.7L324.3 539.6M323.1 552.6L323.8 544.8M328.2 531.8L327.5 539.7M326.2 552.8L327 544.9M331.4 532L330.6 539.8M329.3 552.9L330.1 545.1M334.6 532.1L333.8 540M332.5 553L333.3 545.2M337.9 532.3L337 540.1M335.6 553.2L336.5 545.3M341.1 532.4L340.2 540.2M338.7 553.3L339.6 545.5M344.3 532.5L343.4 540.4M341.9 553.4L342.8 545.6M347.5 532.7L346.6 540.5M345 553.6L346 545.7M350.8 532.8L349.8 540.6M348.1 553.7L349.1 545.9M354 532.9L353 540.8M351.3 553.8L352.3 546M357.2 533.1L356.1 540.9M354.4 553.9L355.5 546.1M360.4 533.2L359.3 541M357.5 554.1L358.6 546.2M363.6 533.3L362.5 541.2M360.7 554.2L361.8 546.4M366.9 533.5L365.7 541.3M363.8 554.3L364.9 546.5M370.1 533.6L368.9 541.4M366.9 554.5L368.1 546.6M373.3 533.7L372.1 541.6M370.1 554.6L371.3 546.8M376.5 533.9L375.3 541.7M373.2 554.7L374.4 546.9M379.7 534L378.5 541.8M376.3 554.9L377.6 547M383 534.1L381.7 542M379.5 555L380.8 547.2M386.2 534.3L384.8 542.1M382.6 555.1L383.9 547.3M389.4 534.4L388 542.2M385.7 555.3L387.1 547.4M392.6 534.6L391.2 542.4M388.9 555.4L390.3 547.6M395.8 534.7L394.4 542.5M392 555.5L393.4 547.7M399.1 534.8L397.6 542.6M395.1 555.7L396.6 547.8M402.3 535L400.8 542.8M398.3 555.8L399.8 548M405.5 535.1L404 542.9M401.4 555.9L402.9 548.1M408.7 535.2L407.2 543M404.5 556L406.1 548.2M411.9 535.4L410.3 543.2M407.7 556.2L409.3 548.4M152.1 577.6L153.2 585.3M155 598.1L154 590.4M155.1 577.7L156.2 585.4M158 598.2L156.9 590.5M158.1 577.8L159.2 585.5M160.9 598.4L159.8 590.7M161.1 577.9L162.1 585.6M163.8 598.5L162.8 590.8M164.1 578.1L165.1 585.8M166.7 598.6L165.7 590.9M167.1 578.2L168.1 585.9M169.6 598.7L168.7 591M170.1 578.3L171 586M172.5 598.8L171.6 591.1M173.1 578.4L174 586.1M175.4 599L174.6 591.3M176.1 578.6L177 586.3M178.4 599.1L177.5 591.4M179.1 578.7L179.9 586.4M181.3 599.2L180.5 591.5M182.1 578.8L182.9 586.5M184.2 599.3L183.4 591.6M185.1 578.9L185.9 586.6M187.1 599.4L186.4 591.8M188.1 579.1L188.8 586.8M190 599.6L189.3 591.9M191.1 579.2L191.8 586.9M192.9 599.7L192.3 592M194.1 579.3L194.8 587M195.9 599.8L195.2 592.1M197.1 579.4L197.8 587.1M198.8 599.9L198.2 592.2M200.1 579.6L200.7 587.2M201.7 600L201.1 592.4M203.1 579.7L203.7 587.4M204.6 600.2L204.1 592.5M206.1 579.8L206.7 587.5M207.5 600.3L207 592.6M209.1 579.9L209.6 587.6M210.4 600.4L209.9 592.7M212.1 580.1L212.6 587.7M213.3 600.5L212.9 592.9M215.1 580.2L215.6 587.9M216.3 600.6L215.8 593M218.1 580.3L218.5 588M219.2 600.8L218.8 593.1M221.1 580.4L221.5 588.1M222.1 600.9L221.7 593.2M224.1 580.6L224.5 588.2M225 601L224.7 593.3M227.1 580.7L227.4 588.4M227.9 601.1L227.6 593.5M230.1 580.8L230.4 588.5M230.8 601.2L230.6 593.6M233.1 580.9L233.4 588.6M233.7 601.4L233.5 593.7M236.1 581.1L236.3 588.7M236.7 601.5L236.5 593.8M239.1 581.2L239.3 588.8M239.6 601.6L239.4 593.9M242.1 581.3L242.3 589M242.5 601.7L242.4 594.1M245.1 581.4L245.2 589.1M245.4 601.9L245.3 594.2M248.1 581.6L248.2 589.2M248.3 602L248.3 594.3M251.1 581.7L251.2 589.3M251.2 602.1L251.2 594.4M254.1 581.8L254.1 589.5M254.2 602.2L254.2 594.6M257.1 581.9L257.1 589.6M257.1 602.3L257.1 594.7M260.1 582.1L260.1 589.7M260 602.5L260 594.8M263.1 582.2L263.1 589.8M262.9 602.6L263 594.9M266.1 582.3L266 590M265.8 602.7L265.9 595M269.1 582.4L269 590.1M268.7 602.8L268.9 595.2M272.1 582.6L272 590.2M271.6 602.9L271.8 595.3M275.1 582.7L274.9 590.3M274.6 603.1L274.8 595.4M278.1 582.8L277.9 590.4M277.5 603.2L277.7 595.5M281.1 582.9L280.9 590.6M280.4 603.3L280.7 595.7M284.1 583.1L283.8 590.7M283.3 603.4L283.6 595.8M287.1 583.2L286.8 590.8M286.2 603.5L286.6 595.9M290.1 583.3L289.8 590.9M289.1 603.7L289.5 596M293.1 583.4L292.7 591.1M292.1 603.8L292.5 596.1M296.1 583.6L295.7 591.2M295 603.9L295.4 596.3M299.1 583.7L298.7 591.3M297.9 604L298.4 596.4M302.1 583.8L301.6 591.4M300.8 604.1L301.3 596.5M305.1 583.9L304.6 591.6M303.7 604.3L304.3 596.6M308.1 584L307.6 591.7M306.6 604.4L307.2 596.8M311.1 584.2L310.5 591.8M309.5 604.5L310.1 596.9M314.1 584.3L313.5 591.9M312.5 604.6L313.1 597M317.1 584.4L316.5 592M315.4 604.7L316 597.1M320.1 584.5L319.5 592.2M318.3 604.9L319 597.2M323.1 584.7L322.4 592.3M321.2 605L321.9 597.4M326.1 584.8L325.4 592.4M324.1 605.1L324.9 597.5M329.1 584.9L328.4 592.5M327 605.2L327.8 597.6M332.1 585L331.3 592.7M330 605.3L330.8 597.7M335.1 585.2L334.3 592.8M332.9 605.5L333.7 597.9M338.1 585.3L337.3 592.9M335.8 605.6L336.7 598M341.1 585.4L340.2 593M338.7 605.7L339.6 598.1M344.2 585.5L343.2 593.2M341.6 605.8L342.6 598.2M347.2 585.7L346.2 593.3M344.5 605.9L345.5 598.3M350.2 585.8L349.1 593.4M347.4 606.1L348.5 598.5M353.2 585.9L352.1 593.5M350.4 606.2L351.4 598.6M356.2 586L355.1 593.6M353.3 606.3L354.4 598.7M359.2 586.2L358 593.8M356.2 606.4L357.3 598.8M362.2 586.3L361 593.9M359.1 606.6L360.2 599M365.2 586.4L364 594M362 606.7L363.2 599.1M368.2 586.5L366.9 594.1M364.9 606.8L366.1 599.2M371.2 586.7L369.9 594.3M367.8 606.9L369.1 599.3M374.2 586.8L372.9 594.4M370.8 607L372 599.4M377.2 586.9L375.8 594.5M373.7 607.2L375 599.6M380.2 587L378.8 594.6M376.6 607.3L377.9 599.7M383.2 587.2L381.8 594.8M379.5 607.4L380.9 599.8M386.2 587.3L384.8 594.9M382.4 607.5L383.8 599.9M389.2 587.4L387.7 595M385.3 607.6L386.8 600.1M392.2 587.5L390.7 595.1M388.3 607.8L389.7 600.2M395.2 587.7L393.7 595.2M391.2 607.9L392.7 600.3M398.2 587.8L396.6 595.4M394.1 608L395.6 600.4M401.2 587.9L399.6 595.5M397 608.1L398.6 600.5M159.9 633L161 640.7M162.8 653.5L161.8 645.8M162.7 633.1L163.8 640.8M165.5 653.6L164.5 645.9M165.5 633.2L166.5 640.9M168.2 653.7L167.2 646M168.3 633.3L169.2 641M170.9 653.9L169.9 646.2M171 633.4L172 641.1M173.6 654L172.6 646.3M173.8 633.5L174.7 641.2M176.3 654.1L175.3 646.4M176.6 633.7L177.5 641.4M179 654.2L178.1 646.5M179.3 633.8L180.2 641.5M181.6 654.3L180.8 646.6M182.1 633.9L182.9 641.6M184.3 654.4L183.5 646.7M184.9 634L185.7 641.7M187 654.5L186.2 646.8M187.7 634.1L188.4 641.8M189.7 654.6L188.9 646.9M190.4 634.2L191.2 641.9M192.4 654.7L191.7 647M193.2 634.3L193.9 642M195.1 654.8L194.4 647.2M196 634.5L196.6 642.1M197.8 654.9L197.1 647.3M198.7 634.6L199.4 642.3M200.4 655.1L199.8 647.4M201.5 634.7L202.1 642.4M203.1 655.2L202.5 647.5M204.3 634.8L204.9 642.5M205.8 655.3L205.2 647.6M207.1 634.9L207.6 642.6M208.5 655.4L208 647.7M209.8 635L210.3 642.7M211.2 655.5L210.7 647.8M212.6 635.1L213.1 642.8M213.9 655.6L213.4 647.9M215.4 635.2L215.8 642.9M216.6 655.7L216.1 648M218.1 635.4L218.6 643M219.3 655.8L218.8 648.2M220.9 635.5L221.3 643.1M221.9 655.9L221.6 648.3M223.7 635.6L224 643.3M224.6 656L224.3 648.4M226.5 635.7L226.8 643.4M227.3 656.2L227 648.5M229.2 635.8L229.5 643.5M230 656.3L229.7 648.6M232 635.9L232.3 643.6M232.7 656.4L232.4 648.7M234.8 636L235 643.7M235.4 656.5L235.1 648.8M237.5 636.2L237.7 643.8M238.1 656.6L237.9 648.9M240.3 636.3L240.5 643.9M240.7 656.7L240.6 649M243.1 636.4L243.2 644M243.4 656.8L243.3 649.1M245.9 636.5L246 644.2M246.1 656.9L246 649.3M248.6 636.6L248.7 644.3M248.8 657L248.7 649.4M251.4 636.7L251.4 644.4M251.5 657.1L251.5 649.5M254.2 636.8L254.2 644.5M254.2 657.2L254.2 649.6M256.9 637L256.9 644.6M256.9 657.4L256.9 649.7M259.7 637.1L259.6 644.7M259.5 657.5L259.6 649.8M262.5 637.2L262.4 644.8M262.2 657.6L262.3 649.9M265.3 637.3L265.1 644.9M264.9 657.7L265 650M268 637.4L267.9 645M267.6 657.8L267.8 650.1M270.8 637.5L270.6 645.2M270.3 657.9L270.5 650.3M273.6 637.6L273.3 645.3M273 658L273.2 650.4M276.3 637.7L276.1 645.4M275.7 658.1L275.9 650.5M279.1 637.9L278.8 645.5M278.4 658.2L278.6 650.6M281.9 638L281.6 645.6M281 658.3L281.4 650.7M284.7 638.1L284.3 645.7M283.7 658.4L284.1 650.8M287.4 638.2L287 645.8M286.4 658.6L286.8 650.9M290.2 638.3L289.8 645.9M289.1 658.7L289.5 651M293 638.4L292.5 646.1M291.8 658.8L292.2 651.1M295.7 638.5L295.3 646.2M294.5 658.9L294.9 651.3M298.5 638.7L298 646.3M297.2 659L297.7 651.4M301.3 638.8L300.7 646.4M299.8 659.1L300.4 651.5M304 638.9L303.5 646.5M302.5 659.2L303.1 651.6M306.8 639L306.2 646.6M305.2 659.3L305.8 651.7M309.6 639.1L309 646.7M307.9 659.4L308.5 651.8M312.4 639.2L311.7 646.8M310.6 659.5L311.3 651.9M315.1 639.3L314.4 647M313.3 659.6L314 652M317.9 639.4L317.2 647.1M316 659.8L316.7 652.1M320.7 639.6L319.9 647.2M318.6 659.9L319.4 652.3M323.4 639.7L322.7 647.3M321.3 660L322.1 652.4M326.2 639.8L325.4 647.4M324 660.1L324.8 652.5M329 639.9L328.1 647.5M326.7 660.2L327.6 652.6M331.8 640L330.9 647.6M329.4 660.3L330.3 652.7M334.5 640.1L333.6 647.7M332.1 660.4L333 652.8M337.3 640.2L336.4 647.8M334.8 660.5L335.7 652.9M340.1 640.4L339.1 648M337.5 660.6L338.4 653M342.8 640.5L341.8 648.1M340.1 660.7L341.2 653.1M345.6 640.6L344.6 648.2M342.8 660.9L343.9 653.2M348.4 640.7L347.3 648.3M345.5 661L346.6 653.4M351.2 640.8L350 648.4M348.2 661.1L349.3 653.5M353.9 640.9L352.8 648.5M350.9 661.2L352 653.6M356.7 641L355.5 648.6M353.6 661.3L354.7 653.7M359.5 641.1L358.3 648.7M356.3 661.4L357.5 653.8M362.2 641.3L361 648.9M358.9 661.5L360.2 653.9M365 641.4L363.7 649M361.6 661.6L362.9 654M367.8 641.5L366.5 649.1M364.3 661.7L365.6 654.1M370.6 641.6L369.2 649.2M367 661.8L368.3 654.2M373.3 641.7L372 649.3M369.7 661.9L371.1 654.4M376.1 641.8L374.7 649.4M372.4 662.1L373.8 654.5M378.9 641.9L377.4 649.5M375.1 662.2L376.5 654.6M381.6 642.1L380.2 649.6M377.7 662.3L379.2 654.7M384.4 642.2L382.9 649.7M380.4 662.4L381.9 654.8M387.2 642.3L385.7 649.9M383.1 662.5L384.6 654.9M390 642.4L388.4 650M385.8 662.6L387.4 655M415.1 534.5L413.5 542.3M410.7 555.3L412.4 547.5M418.2 532.5L416.5 540.3M413.8 553.3L415.4 545.5M421.2 530.6L419.6 538.4M416.8 551.4L418.5 543.6M424.3 528.6L422.6 536.4M419.8 549.5L421.5 541.6M427.4 526.7L425.7 534.5M422.8 547.5L424.5 539.7M430.4 524.7L428.7 532.5M425.8 545.6L427.6 537.8M433.5 522.7L431.8 530.6M428.9 543.7L430.6 535.8M436.6 520.8L434.8 528.6M431.9 541.7L433.6 533.9M439.6 518.8L437.9 526.7M434.9 539.8L436.7 531.9M442.7 516.9L440.9 524.8M437.9 537.9L439.7 530M445.8 514.9L444 522.8M440.9 535.9L442.8 528.1M448.8 513L447 520.9M444 534L445.8 526.1M404.1 587L402.5 594.6M399.9 607.2L401.5 599.7M407.1 585.1L405.5 592.7M402.8 605.3L404.4 597.8M410 583.2L408.4 590.8M405.7 603.5L407.3 595.9M413 581.3L411.3 588.9M408.6 601.6L410.2 594M415.9 579.4L414.3 587M411.5 599.7L413.2 592.1M418.9 577.5L417.2 585.1M414.4 597.8L416.1 590.2M421.8 575.6L420.1 583.2M417.3 595.9L419 588.3M424.7 573.7L423 581.3M420.2 594L421.9 586.4M427.7 571.8L426 579.4M423.1 592.1L424.8 584.5M430.6 569.9L428.9 577.5M426 590.2L427.7 582.6M433.6 568L431.8 575.6M428.9 588.3L430.7 580.7M436.5 566L434.8 573.7M431.8 586.4L433.6 578.8M392.8 641.5L391.2 649.1M388.5 661.7L390.1 654.2M395.6 639.7L394 647.2M391.3 659.9L392.9 652.3M398.4 637.8L396.8 645.4M394.1 658L395.7 650.5M401.2 635.9L399.6 643.5M396.9 656.2L398.5 648.6M404 634.1L402.4 641.7M399.6 654.4L401.3 646.8M406.9 632.2L405.2 639.8M402.4 652.5L404.1 644.9M409.7 630.4L408 638M405.2 650.7L406.9 643.1M412.5 628.5L410.8 636.1M408 648.8L409.7 641.2M415.3 626.6L413.6 634.3M410.7 647L412.4 639.4M418.1 624.8L416.4 632.4M413.5 645.2L415.2 637.5M421 622.9L419.2 630.6M416.3 643.3L418 635.7M423.8 621.1L422 628.7M419 641.5L420.8 633.8" stroke="#f0a050" stroke-width="0.85" stroke-opacity="0.42" fill="none"/><polyline points="183,489 191.4,489 199.8,489 208.2,489 216.6,489 225,489 233.4,489 241.8,489 250.2,489 258.6,489 267,489 275.4,489 283.8,489 292.2,489 300.6,489 309,489 317.4,489 325.8,489 334.2,489 342.6,489 351,489 359.4,489 367.8,489 376.2,489 384.6,489 393,489 401.4,489 409.8,489 418.2,489 179,494.9 187.4,495 195.8,495 204.2,495.1 212.6,495.2 221,495.2 229.4,495.3 237.8,495.4 246.2,495.4 254.6,495.5 263,495.6 271.4,495.6 279.8,495.7 288.2,495.8 296.6,495.8 305,495.9 313.4,496 321.8,496 330.2,496.1 338.6,496.2 347,496.3 355.4,496.3 363.8,496.4 372.2,496.5 380.6,496.5 389,496.6 397.4,496.7 405.8,496.7 414.2,496.8 422.6,496.9 431,496.9 166.6,500.6 175,500.7 183.4,500.9 191.8,501 200.2,501.1 208.6,501.3 217,501.4 225.4,501.5 233.8,501.7 242.2,501.8 250.6,502 259,502.1 267.4,502.2 275.8,502.4 284.2,502.5 292.6,502.6 301,502.8 309.4,502.9 317.8,503 326.2,503.2 334.6,503.3 343,503.4 351.4,503.6 359.8,503.7 368.2,503.8 376.6,504 385,504.1 393.4,504.3 401.8,504.4 410.2,504.5 418.6,504.7 427,504.8 435.4,504.9 452,505 162.6,506.3 171,506.5 179.4,506.7 187.8,506.9 196.2,507.1 204.6,507.3 213,507.5 221.4,507.7 229.8,507.9 238.2,508.1 246.6,508.3 255,508.5 263.4,508.7 271.8,508.9 280.2,509.1 288.6,509.3 297,509.5 444.6,509.7 305.4,509.8 313.8,510 322.2,510.2 330.6,510.4 339,510.6 347.4,510.8 355.8,511 364.2,511.2 372.6,511.4 381,511.6 150.2,511.7 389.4,511.8 158.6,511.9 397.8,512 406.2,512.2 167,512.2 414.6,512.4 175.4,512.5 423,512.6 183.8,512.7 431.4,512.8 439.8,513 192.2,513 448.2,513.2 200.6,513.3 209,513.6 217.4,513.8 225.8,514.1 234.2,514.4 437.2,514.4 242.6,514.6 251,514.9 259.4,515.2 267.8,515.5 276.2,515.7 284.6,516 293,516.3 301.4,516.5 309.8,516.8 142,517 318.2,517.1 150.3,517.3 326.6,517.4 335,517.6 158.5,517.7 343.4,517.9 166.8,518 351.8,518.2 175.1,518.4 360.2,518.4 368.6,518.7 183.4,518.7 377,519 191.6,519.1 429.8,519.1 385.4,519.2 199.9,519.4 393.8,519.5 402.2,519.8 208.2,519.8 410.6,520.1 216.5,520.1 419,520.3 224.7,520.5 427.4,520.6 233,520.8 241.3,521.2 249.5,521.5 257.8,521.9 266.1,522.2 274.4,522.6 282.6,522.9 290.9,523.3 299.2,523.6 422.4,523.8 307.5,524 315.7,524.3 324,524.7 332.3,525 340.5,525.4 348.8,525.7 357.1,526.1 365.4,526.4 373.6,526.8 381.9,527.1 390.2,527.5 398.5,527.8 406.7,528.2 415,528.5 415,528.5 443.3,542.2 436.1,546.9 428.9,551.5 438.1,551.8 147.4,554.5 155.2,554.8 163.1,555.1 171,555.5 178.9,555.8 421.7,556.1 186.7,556.1 430.9,556.4 194.6,556.5 202.5,556.8 439.9,556.8 210.4,557.1 218.3,557.4 226.1,557.8 234,558.1 241.9,558.4 249.8,558.8 257.7,559.1 265.5,559.4 273.4,559.8 281.3,560.1 289.2,560.4 414.5,560.7 297,560.7 423.7,561.1 304.9,561.1 312.8,561.4 432.8,561.4 320.7,561.7 152.3,562 328.6,562.1 160.1,562.3 336.4,562.4 167.9,562.6 344.3,562.7 175.7,563 352.2,563 183.5,563.3 360.1,563.4 191.3,563.6 368,563.7 199.1,563.9 375.8,564 206.9,564.3 383.7,564.4 214.7,564.6 391.6,564.7 222.5,564.9 399.5,565 230.3,565.3 407.4,565.3 407.4,565.3 238.1,565.6 416.6,565.7 245.9,565.9 425.7,566 253.7,566.2 261.5,566.6 269.3,566.9 277.1,567.2 284.9,567.5 292.7,567.9 300.5,568.2 308.3,568.5 316.1,568.8 323.9,569.2 149.5,569.2 331.7,569.5 157.2,569.5 339.5,569.8 164.9,569.8 347.3,570.1 172.6,570.1 409.4,570.3 355.1,570.5 180.4,570.5 418.6,570.6 362.9,570.8 188.1,570.8 370.7,571.1 195.8,571.1 378.5,571.4 203.5,571.4 211.2,571.8 386.3,571.8 219,572.1 394.1,572.1 226.7,572.4 401.9,572.4 234.4,572.7 242.1,573 249.9,573.4 257.6,573.7 265.3,574 273,574.3 280.8,574.7 288.5,575 411.5,575.2 296.2,575.3 303.9,575.6 311.7,575.9 319.4,576.3 327.1,576.6 334.8,576.9 342.6,577.2 350.3,577.5 358,577.9 365.7,578.2 373.5,578.5 381.2,578.8 388.9,579.2 396.6,579.5 404.4,579.8 404.4,579.8 431.2,594.4 424.3,598.9 417.4,603.4 425.8,605.1 154.9,607 162.2,607.3 169.5,607.6 176.8,607.9 410.5,607.9 184.2,608.2 191.5,608.5 198.8,608.8 206.1,609.1 213.5,609.4 418.9,609.6 220.8,609.7 228.1,610 235.4,610.3 242.8,610.6 250.1,610.9 427.3,611.1 257.4,611.2 264.8,611.5 272.1,611.8 279.4,612.1 286.7,612.4 403.6,612.4 294.1,612.7 301.4,613 308.7,613.3 316,613.6 323.4,613.9 412.1,614.1 330.7,614.2 338,614.5 345.4,614.8 352.7,615.1 360,615.4 420.5,615.6 159.7,615.6 367.3,615.7 166.9,615.9 374.7,616 174.2,616.2 382,616.3 181.4,616.5 389.3,616.6 188.6,616.8 396.6,616.9 396.6,616.9 195.9,617.1 203.1,617.4 210.3,617.7 217.6,618 224.8,618.3 405.2,618.6 232.1,618.6 239.3,618.9 246.5,619.2 253.8,619.5 261,619.8 268.2,620.1 413.6,620.1 275.5,620.4 282.7,620.7 290,621 297.2,621.3 304.4,621.6 311.7,621.9 318.9,622.2 326.1,622.5 333.4,622.8 398.3,623.1 340.6,623.1 347.9,623.4 355.1,623.7 157.3,623.9 362.3,624 164.4,624.2 369.6,624.3 171.6,624.5 376.8,624.6 406.8,624.6 178.7,624.7 384,624.9 185.9,625 391.3,625.2 193,625.3 200.2,625.6 207.3,625.9 214.5,626.2 221.6,626.5 228.8,626.8 235.9,627.1 243.1,627.4 250.2,627.7 257.4,628 264.5,628.3 271.7,628.6 278.8,628.9 400,629.1 286,629.2 293.1,629.4 300.3,629.7 307.4,630 314.5,630.3 321.7,630.6 328.8,630.9 336,631.2 343.1,631.5 350.3,631.8 357.4,632.1 364.6,632.4 371.7,632.7 378.9,633 386,633.3 393.2,633.6 393.2,633.6 418.2,650.3 411.6,654.7 405,659.1 162.9,663.3 398.4,663.5 169.6,663.5 176.4,663.8 183.1,664.1 189.8,664.4 196.6,664.6 203.3,664.9 210,665.2 216.8,665.4 223.5,665.7 230.2,666 237,666.3 243.7,666.5 250.4,666.8 257.2,667.1 263.9,667.4 270.7,667.6 391.8,667.9 277.4,667.9 284.1,668.2 290.9,668.5 297.6,668.7 304.3,669 311.1,669.3 317.8,669.5 324.5,669.8 331.3,670.1 338,670.4 344.7,670.6 351.5,670.9 358.2,671.2 364.9,671.5 371.7,671.7 378.4,672 385.1,672.3 385.1,672.3" fill="none" stroke="none" marker-start="url(#mhl)" marker-mid="url(#mhl)" marker-end="url(#mhl)"/>
<path d="M170 500C171.4 499.6 171.4 499.6 174.3 498.8C177.2 498.1 175.8 498 178.7 497.8C181.7 497.6 180.6 497 183.1 498.2C185.6 499.3 185.6 498.9 186.2 501.3C186.9 503.7 186.9 503.6 185.2 505.4C183.4 507.2 183.6 507.1 181 506.7C178.4 506.4 178.9 506.5 177.4 504.3C175.9 502 176.3 502.8 176.4 499.9C176.6 497.1 176.2 498.1 177.8 495.7C179.4 493.3 178.6 494.2 181.2 492.8C183.8 491.5 182.6 492.2 185.5 491.6C188.4 491.1 187 491.5 190 491.1C193 490.8 191.5 490.9 194.5 490.6C197.4 490.2 195.9 490.1 198.9 490.2C201.9 490.2 200.6 489.8 203.4 490.7C206.2 491.5 205.3 490.8 207.4 492.7C209.4 494.7 209.2 493.9 209.6 496.5C210 499.2 210.2 498.9 208.5 500.8C206.8 502.7 207.1 502.6 204.5 502.3C201.9 501.9 202.5 502 200.9 499.8C199.2 497.5 199.7 498.4 199.5 495.5C199.3 492.6 199.2 493.8 200.3 491.1C201.4 488.4 200.6 489.2 202.8 487.4C205.1 485.7 204.1 486.1 207 485.9C209.8 485.7 208.5 485.8 211.3 486.8C214.1 487.8 212.7 487.4 215.3 488.9C217.9 490.4 216.5 489.9 219.1 491.3C221.7 492.7 220.3 492.4 223.2 493.1C226 493.9 224.8 493.9 227.6 493.6C230.5 493.3 229.7 493.9 231.8 492.2C234 490.4 233.5 491.1 234.1 488.4C234.6 485.7 234.8 486.3 233.4 484C232 481.7 232.5 481.9 229.9 481.4C227.4 480.9 227.5 480.7 225.7 482.5C224 484.3 224.3 484 224.6 486.7C225 489.4 224.9 488.4 226.8 490.6C228.7 492.8 227.7 492 230.4 493.3C233 494.6 231.8 494 234.7 494.5C237.6 495 236.2 494.8 239.2 494.7C242.2 494.7 240.7 494.8 243.7 494.4C246.6 494.1 245.2 494.4 248.1 493.6C251 492.8 249.7 493.5 252.3 492.1C255 490.8 253.9 491.6 256 489.6C258.2 487.6 257.5 488.7 258.8 486.1C260.1 483.5 260.1 484.5 259.9 481.7C259.7 479 260.1 479.2 258.1 477.8C256.1 476.3 255.8 476.2 253.9 477.4C251.9 478.6 252.3 478.7 252.3 481.4C252.3 484.1 252.4 483 253.9 485.6C255.4 488.1 254.4 487.3 256.7 489.1C259 490.9 257.9 490.4 260.7 491C263.5 491.6 262.3 491.6 265.2 490.9C268 490.2 266.9 490.7 269.2 488.9C271.4 487.1 270.4 487.9 271.9 485.4C273.4 482.8 271.9 483.4 273.7 481.2C275.5 479.1 274.7 479.3 277.3 478.8C279.9 478.4 279.1 478.4 281.6 479.9C284 481.4 282.9 480.8 284.6 483.2C286.3 485.6 285.6 484.4 286.7 487.2C287.8 489.9 287.8 488.7 287.7 491.5C287.7 494.4 288.3 493.8 286.5 495.7C284.7 497.7 285.1 497.5 282.4 497.3C279.8 497.1 280.5 497.2 278.6 495.2C276.7 493.1 277.2 493.9 276.8 491.1C276.4 488.2 276.4 489.3 277.4 486.7C278.5 484 277.9 485 280 483C282.2 481 281.1 481.8 283.9 480.8C286.7 479.7 285.3 480.2 288.3 479.8C291.2 479.4 289.8 479.7 292.8 479.6C295.8 479.5 294.3 479.5 297.3 479.5C300.3 479.5 298.8 479.4 301.8 479.5C304.8 479.5 303.3 479.2 306.3 479.6C309.2 480 308.1 479.4 310.6 480.7C313.2 482 312.7 481.1 314 483.5C315.3 486 315.1 485.2 314.5 487.9C314 490.7 314.5 490.2 312.4 491.8C310.2 493.4 310.2 493.6 308.1 492.7C306.1 491.8 305.9 491.4 306.1 489.1C306.4 486.8 306.6 487.3 308.9 485.8C311.3 484.3 310.3 484.9 313.3 484.6C316.2 484.2 314.8 484.2 317.7 484.7C320.6 485.3 319.3 484.9 322 486.2C324.6 487.6 323.6 486.7 325.7 488.7C327.8 490.7 326.5 490 328.3 492.3C330.2 494.7 328.8 494.4 331.1 495.8C333.5 497.2 332.9 497.2 335.4 496.5C338 495.8 337 496 338.8 493.7C340.6 491.4 339.5 492.4 340.8 489.7C342.1 487 341.8 488.4 342.7 485.6C343.7 482.8 344.2 483.8 343.7 481.2C343.2 478.6 343.4 478.6 341.2 477.8C339 476.9 339.2 477.1 336.9 478.6C334.7 480.2 335.3 479.6 334.4 482.3C333.5 485 333.7 483.9 334.3 486.7C335 489.5 334.6 488.4 336.4 490.7C338.1 493.1 337.1 492.3 339.7 493.8C342.2 495.2 341 494.6 343.9 495.1C346.8 495.6 345.4 495.2 348.4 495.3C351.4 495.3 349.9 495.3 352.9 495.3C355.9 495.3 354.4 495.3 357.4 495.2C360.4 495.1 359 495.5 361.9 495.1C364.8 494.6 363.5 495 366.2 493.8C368.9 492.6 368.1 493.6 370 491.5C371.9 489.4 371.5 490.3 371.9 487.5C372.3 484.7 372.5 485.4 371.2 483.1C369.8 480.8 370 480.5 367.8 480.5C365.6 480.6 365.4 481 364.6 483.3C363.8 485.7 364 485.3 365.4 487.6C366.9 489.9 366.3 489.2 369 490.3C371.6 491.4 370.5 491.2 373.4 491C376.3 490.9 375.1 491.2 377.7 489.8C380.2 488.4 379 489 381.1 486.9C383.2 484.8 381.6 485.1 384 483.4C386.3 481.8 385.4 481.7 388 481.9C390.7 482.1 389.8 482.1 391.9 484.1C394 486.1 392.9 485.2 394.3 487.8C395.7 490.5 395.3 489.1 396.1 492C396.9 494.8 397 493.6 396.7 496.4C396.4 499.2 397 498.9 395.1 500.5C393.1 502.1 393.3 502.1 390.9 501.2C388.5 500.4 388.7 500.6 387.9 498.1C387.1 495.6 387.2 496.2 388.5 493.7C389.9 491.3 389.3 492.3 391.8 490.7C394.3 489.2 393.1 489.9 396 489.1C398.9 488.3 397.5 488.6 400.4 488.3C403.4 488.1 402 488 404.9 488.4C407.9 488.8 406.6 488.4 409.3 489.5C412 490.7 410.8 490 413.1 491.9C415.4 493.7 414.6 492.7 416.2 495.1C417.7 497.6 417.9 496.6 417.8 499.3C417.7 502 417.9 502.1 415.9 503.2C413.9 504.3 413.4 504.2 411.8 502.6C410.2 500.9 410.5 500.9 411.1 498.3C411.7 495.6 411.4 496.2 413.7 494.7C416 493.2 415.1 493.6 418 493.7C420.9 493.7 419.6 493.7 422.3 494.8C425 496 423.5 495.8 426.1 497.2C428.7 498.7 427.3 498.5 430.1 499.2C433 500 431.8 500.1 434.6 499.5C437.4 499 436.4 499.5 438.6 497.6C440.8 495.7 440.3 496.6 441.1 493.9C441.9 491.2 442.2 491.7 441 489.5C439.7 487.3 439.8 487.3 437.3 487.2C434.8 487.1 435.2 487.1 433.5 489.2C431.7 491.3 432.1 490.6 432.2 493.4C432.3 496.3 432.1 495.2 433.7 497.6C435.2 500.1 434.8 498.6 436.8 500.8C438.8 503 439.4 501.8 439.7 504.2C440 506.5 439.8 506.7 437.6 507.8C435.5 509 436 508.5 433.2 507.7C430.5 507 431.8 507.2 429.3 505.6C426.8 504 427.8 505 425.7 502.9C423.6 500.8 424.7 501.8 423 499.3C421.3 496.9 422.8 497.2 420.6 495.5C418.4 493.9 418.9 493.8 416.4 494.4C414 495 414.9 495 413.3 497.4C411.6 499.8 412.7 498.8 411.6 501.6C410.6 504.4 410.9 503 410.1 505.8C409.2 508.7 409.1 507.3 409 510.2C409 513.1 408.4 512.4 410 514.5C411.6 516.6 411.4 516.7 413.8 516.5C416.2 516.2 416.1 516.1 417.1 513.7C418.2 511.3 417.8 512 416.9 509.3C416.1 506.5 416.6 507.7 414.6 505.5C412.7 503.2 413.7 504.1 411.1 502.7C408.5 501.3 409.8 501.7 406.9 501.2C404 500.8 405.3 500.9 402.4 501.4C399.5 501.9 400.9 501.7 398.1 502.7C395.3 503.7 396.7 503.3 393.9 504.4C391.1 505.5 392.4 504.8 389.8 506.1C387.1 507.4 388.1 506.4 385.9 508.3C383.7 510.2 384.1 509.2 383.1 511.8C382 514.4 382 513.5 382.7 516.2C383.4 518.9 382.9 518.7 385.1 519.9C387.3 521.1 387 521 389.4 519.9C391.9 518.8 391.3 519.2 392.4 516.6C393.6 514 393.4 515 392.9 512.2C392.4 509.4 392.7 510.5 390.8 508.2C389 506 389.9 507 387.4 505.4C384.9 503.8 386.1 504.4 383.3 503.5C380.5 502.6 381.8 502.6 378.9 502.7C376 502.7 377.4 502.9 374.5 503.7C371.7 504.5 373.2 504.3 370.3 505.2C367.4 506 368.8 505.6 365.9 506.2C363 506.8 364.4 506.5 361.5 507C358.5 507.5 359.7 506.6 357.1 507.8C354.4 508.9 354.8 508.1 353.5 510.4C352.2 512.7 352.5 512.1 353.2 514.8C353.8 517.5 353.3 517 355.5 518.6C357.7 520.1 357.5 520.2 359.8 519.4C362.1 518.5 361.9 518.6 362.5 516C363.1 513.5 363.1 514 361.6 511.7C360.1 509.4 360.7 510.3 358 509.1C355.4 507.9 356.6 508.8 353.6 508.1C350.7 507.4 352.1 508 349.3 507C346.5 506 347.9 506.3 345.2 505.2C342.4 504.1 343.7 503.8 340.9 503.8C338.1 503.8 339.2 503.7 336.7 505.2C334.3 506.7 335.1 505.9 333.5 508.4C332 510.8 332.3 509.7 332.1 512.6C332 515.4 331.6 514.7 333.2 516.9C334.8 519.1 334.7 519.4 336.9 519.1C339.1 518.9 339.5 518.5 339.9 516.2C340.3 514 340.1 514.1 338.1 512.3C336.2 510.6 336.8 511.1 333.9 511C331 510.8 332.4 511 329.5 511.9C326.7 512.7 328.2 512.5 325.4 513.6C322.6 514.8 324 514.2 321.2 515.3C318.4 516.5 319.9 516.2 317 517C314.2 517.8 315.4 518.2 312.7 517.8C309.9 517.4 310.8 517.8 308.8 515.7C306.8 513.7 307.6 514.6 306.6 511.8C305.7 509 305.8 510.3 306 507.4C306.2 504.5 305.6 505.2 307.3 503.1C309 501 308.5 501.1 311.1 501C313.7 500.9 313.4 500.8 315.1 502.9C316.7 504.9 316.5 504.4 316.1 507.1C315.6 509.8 315.8 508.8 313.8 510.9C311.8 513.1 312.8 512.1 310.2 513.6C307.6 515 308.9 514.4 306 515.3C303.2 516.2 304.6 515.8 301.7 516.3C298.7 516.8 300.2 516.7 297.2 516.8C294.2 517 295.6 517.2 292.7 516.7C289.8 516.1 291 516.7 288.5 515.2C285.9 513.7 286.8 514.6 285.1 512.3C283.5 509.9 283.5 510.8 283.6 508.1C283.6 505.4 283.3 505.8 285.2 504C287.1 502.2 287.1 502 289.3 502.7C291.5 503.4 291.6 503.7 291.8 506.1C292 508.5 291.7 507.9 289.8 510C287.9 512.1 288.7 511.3 286 512.4C283.3 513.5 284.6 512.9 281.6 513.3C278.6 513.7 280.1 513.3 277.1 513.6C274.2 514 275.7 514 272.7 514.5C269.7 514.9 271.2 515.1 268.2 514.9C265.3 514.7 266.5 515.1 263.9 513.9C261.3 512.6 262.2 513.3 260.4 511.1C258.6 508.8 259 509.9 258.4 507.1C257.8 504.2 257.5 505.2 258.5 502.6C259.5 500.1 259.1 500.3 261.5 499.4C264 498.5 263.7 498.5 265.8 499.9C268 501.3 267.9 501.1 268 503.7C268.1 506.2 268.1 505.7 266.1 507.6C264.1 509.5 264.8 508.9 262 509.3C259.1 509.6 260.5 509.2 257.5 508.6C254.6 508.1 256.1 508 253.2 507.7C250.2 507.4 251.6 507.9 248.7 507.7C245.7 507.6 247.1 507.9 244.2 507.3C241.3 506.7 242.8 506.5 239.9 505.9C237 505.3 238.2 504.8 235.5 505.5C232.8 506.1 233.2 505.6 231.8 507.9C230.4 510.1 230.5 509.6 231.2 512.2C231.9 514.8 231.6 514.7 234 515.6C236.3 516.5 236 516.4 238.2 514.9C240.4 513.4 240 513.9 240.5 511.2C241.1 508.4 241.1 509.3 239.9 506.7C238.6 504.2 239.3 505 236.8 503.6C234.3 502.3 235.4 502.9 232.4 502.7C229.5 502.6 230.9 502.8 228 503.2C225 503.5 226.4 503.1 223.5 503.7C220.6 504.3 221.9 503.8 219.2 505C216.4 506.2 217.6 505.4 215.3 507.2C212.9 509 213.4 507.9 212.1 510.4C210.9 512.9 210.8 512.2 211.6 514.7C212.4 517.3 212.1 517.1 214.4 518.1C216.8 519.1 216.4 519.1 218.7 517.8C221.1 516.6 220.6 517 221.5 514.4C222.5 511.8 222.3 512.7 221.5 510C220.8 507.2 221.2 508.3 219.3 506.1C217.3 503.9 218.3 504.8 215.7 503.4C213.1 502 214.4 502.4 211.5 501.9C208.6 501.5 210 501.7 207 502C204 502.4 205.5 502.3 202.6 502.9C199.7 503.5 201.1 503.3 198.2 503.8C195.2 504.3 196.7 503.9 193.7 504.4C190.8 505 192.2 504.5 189.3 505.4C186.5 506.3 187.4 505.3 185.2 507.1C182.9 508.8 183.3 508 182.6 510.6C181.9 513.2 182 512.4 183.1 515C184.2 517.6 183.5 517.2 185.8 518.5C188.2 519.8 187.6 519.8 190.2 518.9C192.7 518 192.1 518.3 193.3 515.8C194.6 513.3 194.4 514.2 194 511.4C193.6 508.6 193.9 509.7 192.1 507.4C190.3 505.1 191.2 506 188.7 504.5C186.2 503 187.4 503.4 184.5 503C181.6 502.7 183 503 180 503.5C177.1 503.9 178.6 504 175.6 504.4C172.7 504.8 174.1 504.6 171.2 504.7C168.2 504.8 169.7 504.7 166.7 504.7C163.7 504.7 165.1 504.2 162.2 504.8C159.3 505.3 160.3 504.6 158 506.2C155.6 507.9 156.3 507.1 155.2 509.7C154 512.3 153.8 511.5 154.6 514.1C155.3 516.6 155 516.4 157.4 517.3C159.8 518.3 159.3 518.1 161.8 517C164.3 515.8 163.3 516.2 165 513.8C166.6 511.4 166 512.6 166.8 509.7C167.5 506.9 166.8 508.2 167.2 505.3C167.7 502.3 166.6 503.2 168.1 500.9C169.5 498.5 168.9 499 171.6 498.3C174.2 497.6 173.3 497.7 176 498.8C178.7 499.8 177.4 499.3 179.6 501.3C181.8 503.3 180.5 502.5 182.6 504.7C184.6 506.9 183.8 505.7 185.8 507.9C187.8 510.1 187.9 508.8 188.6 511.4C189.3 514 189.5 513.7 187.9 515.6C186.4 517.5 186.5 517.3 183.9 517.2C181.2 517 181.6 517.3 180 515.2C178.4 513.1 178.7 513.6 179.1 510.9C179.5 508.2 179.3 509.2 181.3 507C183.2 504.9 182.4 506 185 504.4C187.5 502.8 186.2 503.6 188.9 502.2C191.5 500.8 190.2 501.5 192.9 500.3C195.7 499 194.3 499.7 197.1 498.5C199.8 497.3 198.3 497.6 201.2 496.7C204 495.8 202.7 495.5 205.6 495.8C208.4 496 207.3 495.7 209.7 497.4C212 499.1 211.1 498.3 212.6 500.8C214.1 503.3 213.7 502.1 214.1 505C214.6 507.9 215.2 507.1 214 509.4C212.8 511.8 213.1 511.5 210.6 512C208 512.5 208.5 512.5 206.3 510.9C204.2 509.2 204.8 509.8 204.1 507C203.5 504.3 203.6 505.4 204.3 502.6C205 499.7 204.6 500.9 206.3 498.6C208.1 496.2 207.2 497.2 209.6 495.5C212 493.8 210.8 494.4 213.6 493.5C216.4 492.6 215.1 493.1 218 492.8C221 492.5 219.6 492.9 222.5 492.8C225.5 492.6 224 492.4 227 492.4C230 492.3 228.8 491.6 231.5 492.6C234.2 493.5 233.1 493.1 235 495.3C237 497.4 236.2 496.4 237.3 499.1C238.4 501.9 238.3 500.6 238.2 503.5C238.1 506.4 238.8 506.1 237 507.7C235.2 509.4 235.2 509.4 232.9 508.5C230.5 507.6 230.9 507.7 230.1 505.1C229.2 502.5 229.3 503.3 230.2 500.7C231.2 498 230.7 499.1 232.9 497.1C235 495 234 495.9 236.6 494.6C239.3 493.3 238 493.9 240.8 493C243.7 492.1 242.3 492.4 245.2 491.9C248.1 491.5 246.7 491.5 249.7 491.6C252.7 491.6 251.2 491.5 254.1 492.1C257.1 492.7 255.7 492.2 258.5 493.2C261.3 494.3 260 493.6 262.6 495.1C265.1 496.6 264.3 495.6 266.2 497.7C268.2 499.9 267.8 498.9 268.3 501.6C268.9 504.4 269.2 503.8 267.8 506C266.4 508.3 266.7 508.1 264.2 508.4C261.6 508.7 261.9 508.8 260 506.9C258.1 505.1 258.5 505.6 258.4 502.8C258.3 500.1 258.4 501.2 259.6 498.6C260.9 495.9 260.1 496.9 262.1 494.8C264.2 492.7 263.1 493.5 265.7 492.2C268.4 491 267.1 491.4 270.1 491.1C273 490.8 271.6 490.9 274.6 491.4C277.5 491.8 276 491.6 279 492.3C281.9 493 280.4 492.8 283.3 493.5C286.2 494.1 284.8 493.6 287.7 494.2C290.7 494.9 289.4 494.1 292.1 495.4C294.7 496.6 293.9 495.8 295.7 498C297.5 500.3 297.5 499.4 297.4 502.1C297.3 504.7 297.5 504.4 295.5 506C293.4 507.5 293.7 507.4 291.2 506.7C288.6 506.1 289.1 506.4 287.7 504C286.4 501.6 286.8 502.4 287.2 499.6C287.6 496.7 287.3 497.9 288.9 495.5C290.6 493 289.6 493.9 292 492.2C294.4 490.6 293.3 491.2 296.2 490.5C299 489.8 297.7 490.1 300.6 490.2C303.6 490.2 302.3 489.9 305.1 490.6C308 491.4 306.7 490.9 309.2 492.5C311.7 494.1 310.4 493.4 312.6 495.4C314.8 497.4 314.2 496.1 315.9 498.5C317.5 500.9 317.9 500.1 317.6 502.5C317.3 505 317.1 505.3 315 505.8C312.9 506.2 312.4 505.9 311.2 503.9C310 501.8 310.1 501.9 311.4 499.6C312.6 497.3 312.3 498 315 496.9C317.6 495.9 316.4 496.2 319.4 496.4C322.3 496.5 320.9 496.4 323.8 497.4C326.6 498.3 325.1 498 327.8 499.3C330.6 500.5 329.1 500.4 332 501C334.8 501.7 333.6 501.8 336.4 501.3C339.3 500.7 338.4 501.3 340.5 499.4C342.6 497.5 342.6 498.2 342.6 495.6C342.7 493.1 342.8 493.2 340.7 491.8C338.6 490.3 338.7 490.3 336.3 491.3C334 492.2 334 492.1 333.6 494.6C333.2 497.1 333.3 496.6 335 498.7C336.8 500.9 336.2 499.9 338.9 501C341.6 502.1 340.3 501.6 343.3 502C346.2 502.3 344.8 502.4 347.8 502.1C350.7 501.7 349.6 502.3 352.1 500.9C354.6 499.5 353.9 500.3 355.3 497.8C356.7 495.4 357 495.9 356.3 493.5C355.5 491.2 355.3 490.8 353.1 490.7C350.9 490.6 350.6 490.9 349.7 493.1C348.9 495.4 349.1 495.1 350.6 497.4C352.1 499.6 351.6 498.8 354.3 499.9C357 501 355.7 500.6 358.7 500.6C361.6 500.6 360.3 500.7 363.1 499.8C365.9 498.9 364.7 499.6 367.2 497.9C369.6 496.3 368.1 496.8 370.3 494.8C372.5 492.8 371.2 492.6 373.7 491.9C376.3 491.2 375.8 491.1 378 492.6C380.2 494.1 379.3 493.6 380.4 496.3C381.6 499 380.8 497.8 381.4 500.7C382 503.7 382.4 502.3 382.2 505.2C381.9 508 382.6 507.7 380.7 509.2C378.8 510.8 378.5 510.9 376.5 509.8C374.5 508.7 374.4 508.4 374.7 505.9C374.9 503.5 374.9 503.9 377.2 502.4C379.5 500.9 378.7 501.4 381.6 501.5C384.5 501.5 383.2 501.4 385.9 502.5C388.6 503.7 387.3 503.1 389.7 504.9C392.1 506.7 390.6 506.5 393.1 507.9C395.6 509.3 394.6 509.4 397.3 509.1C400.1 508.9 399 508.9 401.3 507.2C403.7 505.5 402.5 506.3 404.4 503.9C406.2 501.5 406 502.9 406.8 500.1C407.5 497.4 407.7 498.1 406.6 495.7C405.4 493.3 405.5 493.1 403.2 493C401 492.9 400.9 493.2 399.8 495.5C398.8 497.8 399 497.3 400.1 499.9C401.2 502.5 400.8 501.3 403.1 503.3C405.3 505.2 404.2 504.5 406.9 505.6C409.6 506.8 408.3 506.5 411.3 506.6C414.2 506.7 412.8 506.8 415.7 505.9C418.5 505 417.1 505.4 419.7 503.9C422.3 502.5 422.2 502.3 423.5 501.5M172 560C173.5 560 173.5 559.8 176.5 559.9C179.5 559.9 178.3 559.1 181 560.1C183.6 561.1 183.5 560.5 184.4 562.8C185.4 565.1 185.4 565.4 183.8 567C182.2 568.7 182 568.6 179.6 567.8C177.2 566.9 177.4 567 176.7 564.5C176.1 562 176 562.4 177.6 560.3C179.2 558.2 178.7 559 181.5 558.2C184.3 557.4 183 557.9 186 557.9C189 557.8 187.6 557.7 190.5 558.1C193.5 558.5 192.1 558.1 194.9 559.1C197.7 560.2 196.7 559.3 198.9 561.2C201.1 563 201.2 562.2 201.6 564.6C201.9 567.1 201.9 567.4 200 568.6C198.1 569.7 197.6 569.7 195.8 568.1C194 566.6 194 566.4 194.7 564C195.3 561.6 195.2 562.1 197.7 560.9C200.2 559.6 199.2 560 202.1 560.2C205 560.5 203.7 560.3 206.4 561.5C209.1 562.7 207.7 562.2 210.3 563.8C212.9 565.4 211.4 565.2 214.1 566.2C216.8 567.2 215.8 567.4 218.5 566.7C221.2 566.1 220.4 566.5 222.2 564.3C223.9 562.1 223.4 563 223.8 560.1C224.2 557.3 224.5 558.3 223.3 555.7C222.1 553.2 222.6 553.2 220.2 552.5C217.9 551.8 217.6 551.8 216.1 553.6C214.7 555.4 215 555.4 215.9 557.9C216.9 560.5 216.5 559.8 218.9 561.2C221.3 562.7 220.3 562.2 223.2 562.2C226.1 562.2 224.7 561.9 227.6 561.2C230.5 560.5 229.1 560.9 232 560.2C234.9 559.4 233.4 559.5 236.3 559C239.2 558.4 237.9 558.1 240.8 558.6C243.6 559 242.9 558.4 244.8 560.4C246.6 562.4 246.3 561.8 246.3 564.5C246.3 567.3 246.6 566.7 244.7 568.7C242.9 570.6 243.2 570.7 240.7 570.4C238.2 570 238.4 570.1 237.3 567.7C236.2 565.4 236.3 565.8 237.4 563.4C238.5 560.9 238.1 561.4 240.6 560.3C243.1 559.3 242.2 559.6 245 560.1C247.9 560.7 246.7 560.3 249.1 561.9C251.6 563.5 250.4 562.8 252.4 565C254.5 567.2 253 566.7 255.2 568.5C257.5 570.3 256.5 570.2 259.2 570.3C261.9 570.3 261 570.3 263.4 568.7C265.8 567.1 264.6 567.8 266.4 565.4C268.2 563 267.6 564.3 268.8 561.6C270.1 558.9 270.5 560 270.2 557.4C270 554.7 270.2 554.6 268.2 553.6C266.1 552.6 265.9 552.7 264 554.3C262.1 555.9 262.6 555.6 262.5 558.4C262.5 561.2 262.4 560.2 263.8 562.7C265.3 565.2 264.5 564.2 266.9 565.9C269.3 567.5 268.2 566.9 271.1 567.6C273.9 568.3 272.6 568.1 275.5 568C278.5 567.9 277.1 568 280 567.3C282.9 566.6 281.5 567.1 284.3 566C287.1 564.9 286.3 566 288.3 564.1C290.3 562.1 290.1 562.8 290.2 560.1C290.3 557.5 290.5 557.7 288.5 556.1C286.6 554.5 286.5 554.5 284.3 555.4C282.1 556.4 282.3 556.4 281.9 559C281.5 561.6 281.7 560.7 283.1 563.2C284.5 565.7 283.8 564.7 286.1 566.6C288.4 568.5 287.2 567.7 289.9 568.9C292.6 570.2 291.3 569.8 294.2 570.3C297.1 570.8 295.7 570.8 298.7 570.4C301.6 570 300.3 570.3 303 569.1C305.7 567.9 304.3 568.5 306.8 566.7C309.2 565 308.2 566 310.3 563.9C312.3 561.7 312.3 562.9 312.9 560.3C313.4 557.7 313.7 557.7 311.9 556.1C310.2 554.5 310.1 554.6 307.7 555.4C305.3 556.3 305.6 556.1 304.7 558.7C303.8 561.2 304.1 560.4 305 563.1C305.8 565.9 305.3 564.8 307.3 566.9C309.3 569 308.3 568.3 311 569.5C313.7 570.6 312.4 570.1 315.4 570.4C318.3 570.6 316.9 570.4 319.9 570.2C322.9 570 321.4 570.1 324.3 569.7C327.3 569.2 325.9 569.6 328.8 568.8C331.6 568 330.9 569 332.9 567.1C334.9 565.3 334.8 565.9 334.8 563.2C334.9 560.6 335.1 560.8 333.1 559.2C331.1 557.7 330.8 557.5 328.9 558.6C326.9 559.7 327 560 327.2 562.5C327.4 565.1 327.4 564.5 329.6 566.2C331.8 568 330.9 567.3 333.8 567.7C336.7 568.1 335.4 568.1 338.3 567.3C341.1 566.6 340 567.2 342.3 565.4C344.7 563.7 343.2 564.2 345.4 562.1C347.5 560.1 346.2 560.1 348.8 559.3C351.4 558.6 350.7 558.7 353.2 560C355.6 561.3 354.6 560.8 356.2 563.3C357.7 565.7 357.3 564.6 357.8 567.4C358.2 570.3 358.6 569.3 357.6 571.9C356.5 574.5 357 574.3 354.7 575.2C352.3 576 352.4 576 350.5 574.4C348.6 572.7 349 573 349 570.2C349 567.5 348.8 568.4 350.5 566.1C352.1 563.7 351.4 564.7 353.9 563.2C356.4 561.7 355.2 562.5 358.1 561.6C360.9 560.6 359.5 561 362.4 560.4C365.3 559.8 363.9 559.7 366.9 559.7C369.8 559.7 368.6 559.3 371.3 560.4C373.9 561.6 373 560.9 374.9 563.1C376.7 565.3 376.2 564.3 376.9 567.1C377.5 569.9 378 569.2 376.8 571.5C375.6 573.8 375.4 574.1 373.3 574C371.1 573.8 370.7 573.4 370.3 571.1C370 568.8 370.3 569.1 372.3 567.1C374.3 565.2 373.5 565.8 376.3 565.3C379.1 564.9 378 564.9 380.7 565.8C383.5 566.8 382.3 566.3 384.5 568.2C386.7 570.2 385.3 569.6 387.4 571.7C389.5 573.8 388.2 573.9 390.8 574.6C393.3 575.3 392.7 575.2 395 573.8C397.3 572.3 396.5 572.8 397.7 570.2C398.9 567.6 398.6 568.8 398.7 565.8C398.9 562.9 399.6 563.5 398.2 561.4C396.8 559.3 396.4 558.9 394.5 559.6C392.7 560.2 392.5 560.8 392.6 563.4C392.7 565.9 392.8 565.2 394.8 567.2C396.9 569.2 396 568.1 398.8 569.3C401.5 570.5 400.1 570 403 570.8C405.9 571.6 404.5 571 407.4 571.8C410.3 572.5 408.8 572.6 411.7 573.1C414.6 573.5 413.3 573.7 416.2 573.1C419 572.5 418 573.1 420.3 571.3C422.5 569.6 421.9 570.5 423 567.8C424.1 565.2 424 566.2 423.5 563.4C423.1 560.6 423.6 561 421.6 559.5C419.5 557.9 419.5 557.8 417.3 558.8C415.1 559.8 415.4 559.8 415 562.4C414.5 565 414.7 564.1 416 566.7C417.3 569.3 416.6 568.2 418.8 570.3C420.9 572.3 419.8 571.5 422.5 572.8C425.1 574.1 425.3 573.7 426.7 574.2M180 616C181.5 616 181.5 616 184.5 616.1C187.5 616.3 186.4 615.4 189 616.5C191.6 617.5 191.8 617 192.3 619.2C192.8 621.4 192.5 622 190.5 623C188.5 624 188.2 623.9 186.3 622.3C184.4 620.7 184.6 620.9 184.8 618.3C184.9 615.6 184.7 616.1 186.8 614.3C188.8 612.6 188.2 613 191 613.1C193.8 613.2 192.7 613 195.2 614.6C197.6 616.2 196.3 615.6 198.3 617.9C200.2 620.1 198.7 619.7 201 621.4C203.3 623.1 202.6 623.3 205.2 622.9C207.7 622.6 207.3 622.7 208.7 620.4C210 618.1 209.5 618.8 209.2 616C208.8 613.1 209.4 613.5 207.5 611.8C205.7 610.2 205 610 203.5 611.1C202 612.3 202.1 612.9 203.2 615.2C204.2 617.5 204 617 206.6 618C209.2 619 208.1 618.5 211 618.3C214 618.1 212.5 618 215.5 617.5C218.4 617 217 617.3 219.9 616.7C222.8 616.1 221.4 616 224.3 615.8C227.3 615.6 226.3 614.9 228.7 616.1C231.2 617.3 231 616.9 231.6 619.3C232.2 621.8 232.3 621.8 230.6 623.5C228.9 625.3 228.7 625.4 226.4 624.7C224.2 623.9 224.2 623.8 223.9 621.3C223.5 618.8 223.6 619.2 225.5 617.2C227.3 615.2 226.7 615.8 229.5 615.4C232.3 614.9 231.2 614.9 233.9 615.8C236.7 616.7 235.7 616.1 237.7 618.1C239.8 620.2 238.5 619.4 240.1 621.9C241.6 624.5 240.2 624.3 242.4 625.8C244.5 627.3 244.1 627.2 246.6 626.4C249.1 625.7 248.2 625.8 249.9 623.5C251.7 621.2 250.7 622.2 252 619.5C253.2 616.7 253 618.2 253.6 615.3C254.1 612.4 254.8 613 253.6 610.9C252.3 608.8 252.1 608.6 249.8 609C247.5 609.4 247.6 609.5 246.7 612C245.8 614.5 246.2 613.7 247.1 616.4C248 619.2 247.6 617.9 249.5 620.2C251.3 622.6 250.2 621.7 252.6 623.4C255 625.1 253.8 624.5 256.7 625.4C259.5 626.3 258.1 626 261.1 626.1C264.1 626.1 262.7 626.4 265.5 625.5C268.4 624.7 266.9 625 269.6 623.6C272.2 622.2 271 623 273.5 621.4C276 619.7 275.5 621 277.1 618.7C278.7 616.4 278.8 617 278.4 614.5C277.9 611.9 278 612 275.7 611.1C273.4 610.2 273.5 610.2 271.4 611.6C269.2 613.1 269.4 612.8 269.2 615.4C269 618 269 617.4 270.7 619.5C272.5 621.7 271.7 621.1 274.5 621.9C277.2 622.8 276.1 622.6 278.9 622.1C281.8 621.6 280.4 621.8 283.1 620.4C285.7 619.1 284.4 619.7 286.9 618C289.4 616.3 287.9 616.6 290.5 615.3C293.1 614 291.9 613.9 294.7 614C297.5 614.1 296.7 613.8 298.8 615.7C301 617.5 300.3 616.7 301.2 619.4C302.2 622.1 302.2 621 301.6 623.8C301.1 626.6 301.7 626.1 299.6 627.8C297.6 629.4 297.5 629.7 295.5 628.8C293.5 628 293.4 627.6 293.6 625.1C293.8 622.6 293.8 623 296 621.4C298.2 619.8 297.4 620.3 300.3 620.3C303.2 620.2 302 620 304.6 621.2C307.3 622.4 306.1 621.8 308.2 623.9C310.2 626.1 308.6 625.7 310.8 627.6C313 629.5 312.1 629.5 314.7 629.6C317.4 629.7 316.4 629.6 318.8 627.9C321.2 626.2 320 626.9 321.8 624.6C323.6 622.2 323.3 623.5 324.3 620.8C325.2 618.1 325.5 619 324.7 616.4C323.8 613.9 324 614 321.7 613.3C319.3 612.5 319.3 612.5 317.5 614.2C315.7 616 316.2 615.7 316.3 618.5C316.5 621.3 316.3 620.3 317.9 622.6C319.6 625 318.7 624.2 321.3 625.6C323.9 626.9 322.7 626.2 325.6 626.6C328.6 627.1 327.1 627 330.1 627C333.1 627 331.7 627.2 334.6 626.6C337.6 626.1 336.4 626.8 338.9 625.4C341.5 624.1 340.9 625 342.3 622.6C343.8 620.2 343.8 620.8 343.3 618.2C342.8 615.7 342.9 615.4 340.8 614.8C338.6 614.3 338.3 614.6 336.9 616.6C335.5 618.7 335.8 618.3 336.5 620.9C337.2 623.6 337 622.5 339 624.6C341.1 626.7 340.1 625.7 342.7 627.2C345.3 628.6 344 628.1 346.9 628.9C349.7 629.8 348.3 629.5 351.3 629.7C354.2 629.9 352.8 629.9 355.8 629.5C358.7 629.2 357.4 629.6 360.2 628.6C363 627.6 361.9 628.4 364.2 626.6C366.5 624.8 366 625.8 367 623.2C368 620.5 368 621.4 367.2 618.7C366.4 616.1 366.8 616.3 364.5 615.2C362.2 614.1 362.1 614 360.3 615.5C358.6 617.1 358.8 617.1 359.3 619.8C359.8 622.4 359.6 621.5 361.8 623.4C363.9 625.4 362.9 624.7 365.7 625.6C368.4 626.6 367.2 626.4 370.1 626.3C373 626.2 371.7 626.4 374.5 625.4C377.3 624.5 376 625 378.5 623.5C381.1 621.9 380.2 622.9 382.1 620.7C384.1 618.6 384.3 619.4 384.4 616.9C384.5 614.5 384.4 614 382.4 613.3C380.4 612.6 380 612.8 378.4 614.7C376.9 616.7 377.3 616.3 377.8 619.1C378.3 621.8 378 620.8 380 623C381.9 625.1 381 624.1 383.6 625.5C386.3 627 384.9 626.5 387.8 627.2C390.7 628 389.3 628 392.3 627.8C395.2 627.5 394 628 396.6 626.6C399.1 625.2 398.4 626 399.8 623.6C401.3 621.1 401.4 621.9 400.9 619.3C400.5 616.7 400.5 616.3 398.5 615.8C396.5 615.3 395.8 615.7 394.9 617.8C394.1 619.8 394.3 619.8 396 622C397.6 624.1 397.1 623.2 399.8 624.3C402.5 625.4 401.3 624.6 404.2 625.3C407.1 626 405.7 625.5 408.5 626.4C411.4 627.2 409.9 627.1 412.8 627.9C415.7 628.6 414.4 629.1 417.2 628.7C420 628.4 419.2 628.8 421.1 626.9C423.1 624.9 422.3 625.7 423.1 622.9C424 620.1 424.3 621.1 423.7 618.4C423 615.8 423.4 615.9 421.1 614.9C418.9 613.9 418.8 613.8 416.9 615.4C415 616.9 415.9 618.1 415.4 619.5M175 671C176.5 670.9 176.6 670.5 179.5 670.8C182.4 671.1 181.7 670.2 183.8 671.8C186 673.4 186.2 673.3 185.9 675.6C185.7 677.8 185.4 678.1 183 678.6C180.7 679.2 180.7 679.1 178.9 677.3C177.2 675.4 177.4 675.7 177.9 673C178.3 670.4 178 671.1 180.2 669.3C182.3 667.4 181.4 668.1 184.2 667.5C187.1 666.9 186 666.8 188.7 667.6C191.5 668.4 190.4 667.9 192.5 669.9C194.6 671.9 193.6 671 194.9 673.7C196.3 676.3 194.7 675.8 196.5 677.8C198.4 679.9 198 680 200.4 679.8C202.8 679.6 202.4 679.5 203.8 677.1C205.3 674.8 204.4 675.7 204.7 672.8C205 669.8 205.4 671 204.8 668.3C204.2 665.5 204.6 665.1 202.8 664.4C201 663.7 199.9 664.3 199.4 666.2C198.8 668.1 199.2 668.1 201.1 670.1C203 672.1 202.3 671.3 205.1 672.1C207.9 673 206.6 672.8 209.6 672.7C212.5 672.5 211.1 672.5 213.9 671.7C216.8 670.8 215.3 671.1 218.2 670.1C221 669.1 219.5 669.1 222.4 668.6C225.3 668.2 224.4 667.7 226.9 668.8C229.3 670 229.1 669.7 229.6 672.2C230.2 674.7 230.1 674.2 228.5 676.4C226.9 678.6 227.4 678.5 224.8 678.8C222.2 679.1 222.1 679.3 220.7 677.4C219.4 675.6 219.5 675.4 220.8 673.2C222.1 671.1 221.9 671.6 224.6 671.1C227.4 670.5 226.2 670.9 229.1 671.6C232 672.2 230.5 672.2 233.3 673C236.2 673.8 234.8 673.7 237.7 674C240.7 674.3 239.5 674.8 242.2 673.9C244.9 673 244.3 673.6 245.7 671.3C247.2 669 247.3 669.4 246.5 667C245.6 664.6 245.5 664.3 243.3 664.1C241.1 664 240.8 664.3 239.8 666.5C238.8 668.8 239.1 668.4 240.2 670.9C241.4 673.5 240.9 672.5 243.3 674.1C245.8 675.7 244.7 674.8 247.5 675.7C250.4 676.5 249 675.8 251.9 676.7C254.8 677.5 253.3 677.4 256.1 678.2C259 679.1 257.6 679.3 260.5 679.2C263.4 679.1 262.3 679.5 264.7 677.9C267.1 676.3 266.2 677 267.7 674.5C269.2 672 269.1 673.1 269.2 670.3C269.4 667.5 269.7 668.2 268 666.1C266.3 664 266.7 664.1 264.1 664.1C261.6 664.2 261.7 664.2 260.5 666.4C259.2 668.6 259.7 668 260.5 670.7C261.3 673.5 260.9 672.3 262.9 674.5C264.9 676.7 263.8 676.1 266.5 677.2C269.1 678.3 268 678 270.9 677.8C273.8 677.6 272.5 677.8 275.2 676.6C277.9 675.3 276.7 676 278.9 674C281.1 672.1 279.9 673 281.8 670.6C283.7 668.3 282.2 668.6 284.5 667C286.7 665.4 286.1 665.4 288.6 666C291.2 666.5 290.3 666.4 292.2 668.6C294.1 670.8 293.4 669.8 294.4 672.5C295.3 675.3 295.4 674.1 295.1 676.9C294.7 679.8 295.3 679.4 293.3 681C291.4 682.7 291.4 682.8 289.2 681.9C287 681 287.2 680.9 286.8 678.2C286.4 675.6 286.5 676.4 288 674C289.5 671.6 288.9 672.7 291.3 670.9C293.7 669.2 292.5 669.9 295.3 668.8C298 667.6 296.6 667.9 299.6 667.4C302.5 667 301.1 666.9 304 667.4C306.9 667.9 305.5 667.7 308.2 669C310.9 670.3 309.5 669.7 312.1 671.3C314.6 672.9 313.8 671.7 315.8 673.8C317.9 675.8 317.6 674.8 318.3 677.5C318.9 680.2 319.1 679.7 317.7 681.8C316.3 684 316.3 684.1 313.9 683.8C311.6 683.5 311.8 683.4 310.7 680.9C309.5 678.5 309.7 679.2 310.6 676.5C311.5 673.9 311.1 674.8 313.3 673C315.5 671.2 314.6 672.2 317.3 671C320.1 669.8 318.7 670.2 321.5 669.5C324.4 668.8 323.1 668.8 326 668.9C328.9 669.1 327.7 668.7 330.4 669.9C333 671.1 331.9 670.5 334 672.6C336 674.7 335.5 673.5 336.6 676.2C337.6 678.9 337.7 677.9 337.1 680.6C336.5 683.3 336.9 683.3 334.8 684.3C332.6 685.3 332.4 685.3 330.6 683.6C328.9 682 329.1 682 329.6 679.4C330.1 676.8 330 677.7 332.2 675.9C334.4 674 333.5 674.9 336.2 673.8C339 672.7 337.6 673.3 340.5 672.4C343.4 671.6 342 672.1 344.9 671.3C347.8 670.5 346.3 670.6 349.2 670.1C352.1 669.6 350.9 669.3 353.7 669.9C356.4 670.6 355.5 670.1 357.5 672.1C359.6 674.1 358.7 673.2 359.8 676C361 678.7 361 677.5 360.9 680.3C360.9 683.2 361.5 682.7 359.7 684.5C357.9 686.3 357.9 686.3 355.5 685.6C353.2 684.9 353.4 685 352.6 682.4C351.7 679.9 351.9 680.7 353 678.1C354.2 675.5 353.6 676.3 355.9 674.6C358.3 673 357.2 673.4 360.1 673.1C363 672.9 361.7 672.8 364.5 673.8C367.3 674.8 366.2 674.1 368.4 676.1C370.6 678 369.4 677.1 371 679.7C372.6 682.2 371.1 681.8 373.2 683.6C375.2 685.4 374.6 685.4 377.2 685.2C379.8 684.9 379.1 685 381 682.9C382.8 680.7 382.3 681.6 382.8 678.8C383.2 675.9 383.4 677 382.3 674.4C381.3 671.7 381.8 671.6 379.7 670.9C377.5 670.1 376.7 670.3 375.7 672.1C374.8 673.9 375.1 674.1 376.7 676.3C378.3 678.4 377.8 677.7 380.5 678.5C383.3 679.3 382 678.9 385 678.6C387.9 678.4 386.5 678.5 389.4 677.9C392.3 677.3 391 677.9 393.8 676.8C396.5 675.7 395.1 676.1 397.7 674.6C400.2 673 398.7 672.9 401.4 672.1C404.1 671.4 403.6 671 405.8 672.3C408 673.5 407.5 673.3 408.1 676C408.7 678.7 408.8 677.8 407.7 680.4C406.6 683 405.8 682.7 404.9 683.8" fill="none" stroke="#1f3f9f" stroke-width="1.7" stroke-linejoin="round"/>
<g font-family="'Liberation Sans', Arial, sans-serif" fill="#000"><text x="4.3" y="47.6" font-size="64">A</text>
<text x="529.8" y="47.6" font-size="64">B</text>
<text x="3.6" y="845.8" font-size="64">C</text>
<text x="864.2" y="846.2" font-size="64">D</text>
</g></svg>
</body></html>
